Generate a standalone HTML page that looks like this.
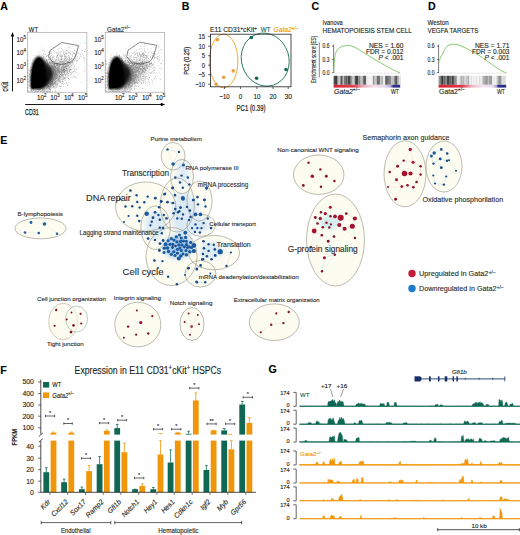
<!DOCTYPE html><html><head><meta charset="utf-8"><style>html,body{margin:0;padding:0;background:#fff;overflow:hidden;}svg{display:block;font-family:"Liberation Sans", sans-serif;}</style></head><body><svg width="520" height="535" viewBox="0 0 520 535"><defs><filter id="blur2" x="-50%" y="-50%" width="200%" height="200%"><feGaussianBlur stdDeviation="2.5"/></filter><filter id="blur06" x="-20%" y="-20%" width="140%" height="140%"><feGaussianBlur stdDeviation="0.7"/></filter><linearGradient id="rbC" x1="0" x2="1"><stop offset="0" stop-color="#d8202e"/><stop offset="0.3" stop-color="#e0404f"/><stop offset="0.45" stop-color="#eeaabb"/><stop offset="0.6" stop-color="#f6dde6"/><stop offset="0.75" stop-color="#e8d8ec"/><stop offset="0.85" stop-color="#b9b6de"/><stop offset="0.9" stop-color="#2e2d8f"/><stop offset="1" stop-color="#2e2d8f"/></linearGradient><linearGradient id="rbD" x1="0" x2="1"><stop offset="0" stop-color="#d8202e"/><stop offset="0.35" stop-color="#e03848"/><stop offset="0.5" stop-color="#f0b8c8"/><stop offset="0.65" stop-color="#f8e6ee"/><stop offset="0.8" stop-color="#e6e0f0"/><stop offset="0.86" stop-color="#9a98d0"/><stop offset="0.88" stop-color="#2e2d8f"/><stop offset="1" stop-color="#2e2d8f"/></linearGradient><filter id="blur1" x="-50%" y="-50%" width="200%" height="200%"><feGaussianBlur stdDeviation="1.2"/></filter></defs><rect width="520" height="535" fill="#fff"/><text font-size="10.6" text-anchor="start" fill="#000" stroke="#000" stroke-width="0.1" font-weight="bold" transform="translate(0.3 9.8)">A</text>
<text font-size="10.6" text-anchor="start" fill="#000" stroke="#000" stroke-width="0.1" font-weight="bold" transform="translate(181.8 9.9)">B</text>
<text font-size="10.6" text-anchor="start" fill="#000" stroke="#000" stroke-width="0.1" font-weight="bold" transform="translate(311.5 9.9)">C</text>
<text font-size="10.6" text-anchor="start" fill="#000" stroke="#000" stroke-width="0.1" font-weight="bold" transform="translate(428 9.9)">D</text>
<text font-size="10.6" text-anchor="start" fill="#000" stroke="#000" stroke-width="0.1" font-weight="bold" transform="translate(0.3 143.8)">E</text>
<text font-size="10.6" text-anchor="start" fill="#000" stroke="#000" stroke-width="0.1" font-weight="bold" transform="translate(0.3 373.5)">F</text>
<text font-size="10.6" text-anchor="start" fill="#000" stroke="#000" stroke-width="0.1" font-weight="bold" transform="translate(268.5 373)">G</text>
<rect x="27.4" y="32.5" width="59.50000000000001" height="59.7" fill="none" stroke="#9a9a9a" stroke-width="0.6"/>
<g filter="url(#blur2)"><ellipse cx="43.4" cy="77" rx="11" ry="12" fill="#000" opacity="0.45" transform="rotate(-25 43.4 77)"/><ellipse cx="57.4" cy="71" rx="16" ry="7" fill="#000" opacity="0.16" transform="rotate(-25 57.4 71)"/></g>
<path d="M40.0 80.0h.6v.6h-.6zM39.9 63.1h.6v.6h-.6zM42.5 75.4h.6v.6h-.6zM36.0 80.8h.6v.6h-.6zM40.0 75.8h.6v.6h-.6zM38.5 78.8h.6v.6h-.6zM35.1 75.4h.6v.6h-.6zM36.2 80.7h.6v.6h-.6zM38.6 72.0h.6v.6h-.6zM34.9 74.8h.6v.6h-.6zM38.4 72.3h.6v.6h-.6zM44.2 78.7h.6v.6h-.6zM37.6 71.6h.6v.6h-.6zM39.4 75.6h.6v.6h-.6zM47.9 59.3h.6v.6h-.6zM41.3 77.9h.6v.6h-.6zM36.1 62.9h.6v.6h-.6zM39.2 74.9h.6v.6h-.6zM32.9 72.7h.6v.6h-.6zM38.1 67.2h.6v.6h-.6zM38.0 75.6h.6v.6h-.6zM38.6 70.3h.6v.6h-.6zM41.1 79.8h.6v.6h-.6zM39.8 67.0h.6v.6h-.6zM41.7 68.3h.6v.6h-.6zM42.4 63.3h.6v.6h-.6zM42.5 71.6h.6v.6h-.6zM32.8 75.7h.6v.6h-.6zM38.6 76.5h.6v.6h-.6zM34.0 68.6h.6v.6h-.6zM39.3 70.2h.6v.6h-.6zM39.5 79.9h.6v.6h-.6zM31.0 81.5h.6v.6h-.6zM43.9 68.4h.6v.6h-.6zM34.8 83.0h.6v.6h-.6zM39.5 80.9h.6v.6h-.6zM36.8 63.7h.6v.6h-.6zM37.9 71.3h.6v.6h-.6zM41.9 73.7h.6v.6h-.6zM31.1 69.8h.6v.6h-.6zM42.4 77.3h.6v.6h-.6zM35.5 76.4h.6v.6h-.6zM40.4 76.9h.6v.6h-.6zM42.3 73.9h.6v.6h-.6zM38.0 72.7h.6v.6h-.6zM43.2 53.3h.6v.6h-.6zM37.8 75.2h.6v.6h-.6zM32.0 81.4h.6v.6h-.6zM35.5 83.4h.6v.6h-.6zM37.8 80.2h.6v.6h-.6zM43.9 73.9h.6v.6h-.6zM34.5 65.0h.6v.6h-.6zM46.3 68.3h.6v.6h-.6zM35.3 77.7h.6v.6h-.6zM37.5 81.9h.6v.6h-.6zM38.6 74.5h.6v.6h-.6zM35.2 80.4h.6v.6h-.6zM33.7 82.9h.6v.6h-.6zM45.3 57.7h.6v.6h-.6zM49.9 58.8h.6v.6h-.6zM32.8 83.0h.6v.6h-.6zM34.6 73.0h.6v.6h-.6zM36.8 79.8h.6v.6h-.6zM36.6 77.9h.6v.6h-.6zM37.6 68.3h.6v.6h-.6zM37.0 67.9h.6v.6h-.6zM38.4 65.5h.6v.6h-.6zM33.5 89.4h.6v.6h-.6zM38.2 74.2h.6v.6h-.6zM40.7 69.6h.6v.6h-.6zM37.4 78.6h.6v.6h-.6zM39.7 64.4h.6v.6h-.6zM42.2 67.3h.6v.6h-.6zM33.6 70.5h.6v.6h-.6zM36.6 88.7h.6v.6h-.6zM33.1 79.3h.6v.6h-.6zM28.8 80.9h.6v.6h-.6zM42.4 69.9h.6v.6h-.6zM35.6 78.2h.6v.6h-.6zM41.6 77.7h.6v.6h-.6zM47.3 70.3h.6v.6h-.6zM35.7 75.3h.6v.6h-.6zM38.1 75.6h.6v.6h-.6zM38.3 76.0h.6v.6h-.6zM30.9 86.1h.6v.6h-.6zM35.8 66.8h.6v.6h-.6zM41.3 83.1h.6v.6h-.6zM40.6 74.3h.6v.6h-.6zM42.4 62.7h.6v.6h-.6zM34.9 77.5h.6v.6h-.6zM31.4 80.5h.6v.6h-.6zM36.3 85.7h.6v.6h-.6zM42.7 49.9h.6v.6h-.6zM38.6 61.4h.6v.6h-.6zM43.4 72.5h.6v.6h-.6zM40.9 64.3h.6v.6h-.6zM46.6 85.2h.6v.6h-.6zM33.6 80.7h.6v.6h-.6zM35.4 76.3h.6v.6h-.6zM34.0 75.0h.6v.6h-.6zM40.7 67.8h.6v.6h-.6zM37.3 70.7h.6v.6h-.6zM37.8 65.5h.6v.6h-.6zM36.4 74.2h.6v.6h-.6zM36.9 76.0h.6v.6h-.6zM37.1 81.4h.6v.6h-.6zM36.9 74.4h.6v.6h-.6zM35.4 72.3h.6v.6h-.6zM32.7 82.4h.6v.6h-.6zM33.3 72.0h.6v.6h-.6zM40.0 76.6h.6v.6h-.6zM36.6 59.5h.6v.6h-.6zM40.3 75.3h.6v.6h-.6zM32.0 84.9h.6v.6h-.6zM35.2 67.6h.6v.6h-.6zM38.8 72.8h.6v.6h-.6zM39.3 61.0h.6v.6h-.6zM46.6 64.2h.6v.6h-.6zM31.5 84.1h.6v.6h-.6zM36.8 78.2h.6v.6h-.6zM36.9 75.0h.6v.6h-.6zM39.5 67.8h.6v.6h-.6zM41.5 68.7h.6v.6h-.6zM34.5 77.7h.6v.6h-.6zM40.4 71.3h.6v.6h-.6zM34.5 82.0h.6v.6h-.6zM30.5 71.5h.6v.6h-.6zM38.6 63.5h.6v.6h-.6zM38.5 74.0h.6v.6h-.6zM42.4 64.5h.6v.6h-.6zM35.6 79.0h.6v.6h-.6zM35.3 70.8h.6v.6h-.6zM42.3 71.6h.6v.6h-.6zM30.4 84.9h.6v.6h-.6zM42.2 68.3h.6v.6h-.6zM37.1 79.2h.6v.6h-.6zM34.3 80.7h.6v.6h-.6zM39.3 68.5h.6v.6h-.6zM32.1 76.9h.6v.6h-.6zM34.5 85.1h.6v.6h-.6zM39.0 80.3h.6v.6h-.6zM39.0 76.2h.6v.6h-.6zM34.9 82.2h.6v.6h-.6zM46.4 66.7h.6v.6h-.6zM35.7 75.0h.6v.6h-.6zM36.2 70.3h.6v.6h-.6zM39.0 71.8h.6v.6h-.6zM44.9 70.2h.6v.6h-.6zM39.9 81.1h.6v.6h-.6zM37.0 86.9h.6v.6h-.6zM35.6 69.9h.6v.6h-.6zM36.8 74.7h.6v.6h-.6zM32.1 78.4h.6v.6h-.6zM30.9 90.6h.6v.6h-.6zM38.0 69.6h.6v.6h-.6zM34.3 74.1h.6v.6h-.6zM37.4 66.8h.6v.6h-.6zM34.3 75.8h.6v.6h-.6zM36.1 83.6h.6v.6h-.6zM43.5 71.2h.6v.6h-.6zM40.5 62.4h.6v.6h-.6zM41.3 72.3h.6v.6h-.6zM40.6 85.8h.6v.6h-.6zM33.5 82.5h.6v.6h-.6zM32.5 74.5h.6v.6h-.6zM39.3 78.8h.6v.6h-.6zM38.7 67.9h.6v.6h-.6zM35.9 83.2h.6v.6h-.6zM38.4 61.0h.6v.6h-.6zM42.2 75.3h.6v.6h-.6zM42.3 69.2h.6v.6h-.6zM42.1 63.5h.6v.6h-.6zM41.0 68.9h.6v.6h-.6zM41.4 80.5h.6v.6h-.6zM35.1 76.3h.6v.6h-.6zM38.6 83.9h.6v.6h-.6zM41.6 62.6h.6v.6h-.6zM40.5 79.1h.6v.6h-.6zM48.0 54.7h.6v.6h-.6zM36.0 86.8h.6v.6h-.6zM32.3 69.0h.6v.6h-.6zM40.7 81.1h.6v.6h-.6zM35.4 80.8h.6v.6h-.6zM38.9 86.3h.6v.6h-.6zM38.4 82.4h.6v.6h-.6zM34.3 75.7h.6v.6h-.6zM38.0 83.9h.6v.6h-.6zM41.0 66.7h.6v.6h-.6zM41.5 78.6h.6v.6h-.6zM37.9 72.8h.6v.6h-.6zM37.5 61.5h.6v.6h-.6zM39.2 75.8h.6v.6h-.6zM34.5 83.0h.6v.6h-.6zM32.2 74.2h.6v.6h-.6zM31.2 83.8h.6v.6h-.6zM42.6 74.7h.6v.6h-.6zM43.7 62.9h.6v.6h-.6zM33.0 75.5h.6v.6h-.6zM33.1 86.5h.6v.6h-.6zM42.3 66.1h.6v.6h-.6zM42.5 72.8h.6v.6h-.6zM37.8 75.4h.6v.6h-.6zM37.5 80.0h.6v.6h-.6zM39.8 70.8h.6v.6h-.6zM42.9 66.6h.6v.6h-.6zM39.7 77.0h.6v.6h-.6zM45.1 66.0h.6v.6h-.6zM46.2 70.7h.6v.6h-.6zM37.5 69.7h.6v.6h-.6zM41.0 73.1h.6v.6h-.6zM33.4 68.8h.6v.6h-.6zM35.9 70.8h.6v.6h-.6zM43.3 82.2h.6v.6h-.6zM42.3 74.8h.6v.6h-.6zM36.5 76.2h.6v.6h-.6zM42.4 88.9h.6v.6h-.6zM42.5 69.5h.6v.6h-.6zM38.6 70.5h.6v.6h-.6zM34.9 75.4h.6v.6h-.6zM39.3 88.6h.6v.6h-.6zM38.6 85.2h.6v.6h-.6zM46.4 69.8h.6v.6h-.6zM45.6 75.4h.6v.6h-.6zM36.5 77.9h.6v.6h-.6zM38.5 72.6h.6v.6h-.6zM37.5 76.3h.6v.6h-.6zM40.4 66.1h.6v.6h-.6zM38.4 62.3h.6v.6h-.6zM39.6 78.7h.6v.6h-.6zM39.1 76.3h.6v.6h-.6zM41.1 67.4h.6v.6h-.6zM37.3 79.3h.6v.6h-.6zM42.9 74.7h.6v.6h-.6zM49.9 66.1h.6v.6h-.6zM42.9 81.6h.6v.6h-.6zM37.8 68.3h.6v.6h-.6zM33.1 79.3h.6v.6h-.6zM43.4 73.3h.6v.6h-.6zM39.2 70.9h.6v.6h-.6zM40.9 55.7h.6v.6h-.6zM39.4 74.0h.6v.6h-.6zM32.2 70.0h.6v.6h-.6zM33.0 87.0h.6v.6h-.6zM34.4 82.5h.6v.6h-.6zM41.0 74.8h.6v.6h-.6zM32.5 73.5h.6v.6h-.6zM45.9 59.2h.6v.6h-.6zM34.7 75.7h.6v.6h-.6zM42.0 74.1h.6v.6h-.6zM41.7 63.7h.6v.6h-.6zM42.7 76.2h.6v.6h-.6zM48.7 61.5h.6v.6h-.6zM38.7 85.5h.6v.6h-.6zM31.7 63.0h.6v.6h-.6zM32.6 73.9h.6v.6h-.6zM35.8 81.1h.6v.6h-.6zM39.6 63.7h.6v.6h-.6zM41.0 87.8h.6v.6h-.6zM43.8 78.8h.6v.6h-.6zM38.5 82.3h.6v.6h-.6zM34.1 83.4h.6v.6h-.6zM38.0 83.8h.6v.6h-.6zM40.5 64.4h.6v.6h-.6zM39.0 83.9h.6v.6h-.6zM33.3 73.4h.6v.6h-.6zM34.9 64.8h.6v.6h-.6zM42.7 82.1h.6v.6h-.6zM42.0 74.0h.6v.6h-.6zM38.2 76.6h.6v.6h-.6zM35.1 83.8h.6v.6h-.6zM43.1 78.8h.6v.6h-.6zM36.0 76.7h.6v.6h-.6zM37.7 89.3h.6v.6h-.6zM39.2 58.9h.6v.6h-.6zM40.2 88.4h.6v.6h-.6zM41.5 79.5h.6v.6h-.6zM38.6 58.6h.6v.6h-.6zM30.3 70.0h.6v.6h-.6zM37.8 77.4h.6v.6h-.6zM41.5 69.7h.6v.6h-.6zM42.7 69.4h.6v.6h-.6zM35.2 83.4h.6v.6h-.6zM34.3 55.4h.6v.6h-.6zM33.6 78.4h.6v.6h-.6zM36.9 64.1h.6v.6h-.6zM31.7 75.2h.6v.6h-.6zM35.9 86.2h.6v.6h-.6zM40.1 60.7h.6v.6h-.6zM34.6 82.7h.6v.6h-.6zM46.9 71.9h.6v.6h-.6zM39.8 88.5h.6v.6h-.6zM38.3 72.1h.6v.6h-.6zM32.0 74.6h.6v.6h-.6zM48.2 56.6h.6v.6h-.6zM38.5 63.2h.6v.6h-.6zM39.0 81.2h.6v.6h-.6zM37.3 81.1h.6v.6h-.6zM41.6 75.9h.6v.6h-.6zM46.1 75.6h.6v.6h-.6zM37.0 70.0h.6v.6h-.6zM34.6 80.8h.6v.6h-.6zM46.7 67.3h.6v.6h-.6zM36.9 89.0h.6v.6h-.6zM29.9 76.5h.6v.6h-.6zM42.7 64.4h.6v.6h-.6zM36.3 73.1h.6v.6h-.6zM41.4 73.6h.6v.6h-.6zM40.2 78.1h.6v.6h-.6zM38.5 83.3h.6v.6h-.6zM35.1 65.2h.6v.6h-.6zM30.4 66.9h.6v.6h-.6zM35.9 84.4h.6v.6h-.6zM39.2 69.2h.6v.6h-.6zM33.6 73.5h.6v.6h-.6zM36.6 71.2h.6v.6h-.6zM32.0 75.0h.6v.6h-.6zM43.0 54.1h.6v.6h-.6zM37.3 58.3h.6v.6h-.6zM39.2 68.0h.6v.6h-.6zM29.0 81.6h.6v.6h-.6zM46.6 69.9h.6v.6h-.6zM43.6 70.4h.6v.6h-.6zM28.7 84.9h.6v.6h-.6zM36.5 64.1h.6v.6h-.6zM41.9 74.4h.6v.6h-.6zM36.0 83.0h.6v.6h-.6zM34.5 82.3h.6v.6h-.6zM34.2 81.6h.6v.6h-.6zM33.4 89.7h.6v.6h-.6zM39.5 85.2h.6v.6h-.6zM34.7 73.2h.6v.6h-.6zM42.2 50.0h.6v.6h-.6zM33.6 86.0h.6v.6h-.6zM40.5 80.9h.6v.6h-.6zM37.0 79.9h.6v.6h-.6zM35.1 65.7h.6v.6h-.6zM30.8 75.2h.6v.6h-.6zM35.9 71.1h.6v.6h-.6zM36.0 78.4h.6v.6h-.6zM35.8 69.2h.6v.6h-.6zM45.4 72.0h.6v.6h-.6zM35.8 77.3h.6v.6h-.6zM33.2 80.0h.6v.6h-.6zM38.4 78.7h.6v.6h-.6zM42.7 85.5h.6v.6h-.6zM36.7 84.0h.6v.6h-.6zM34.8 69.7h.6v.6h-.6zM35.6 68.5h.6v.6h-.6zM42.8 78.9h.6v.6h-.6zM44.1 70.5h.6v.6h-.6zM39.6 69.0h.6v.6h-.6zM33.2 81.5h.6v.6h-.6zM39.6 64.8h.6v.6h-.6zM41.0 58.8h.6v.6h-.6zM37.6 70.0h.6v.6h-.6zM36.0 67.4h.6v.6h-.6zM42.7 76.2h.6v.6h-.6zM43.7 72.0h.6v.6h-.6zM32.6 75.4h.6v.6h-.6zM33.0 81.6h.6v.6h-.6zM43.8 73.4h.6v.6h-.6zM35.6 73.3h.6v.6h-.6zM39.3 62.2h.6v.6h-.6zM39.0 75.6h.6v.6h-.6zM35.9 72.7h.6v.6h-.6zM39.1 67.3h.6v.6h-.6zM34.6 83.1h.6v.6h-.6zM39.3 87.2h.6v.6h-.6zM33.9 63.1h.6v.6h-.6zM42.5 79.2h.6v.6h-.6zM35.0 64.8h.6v.6h-.6zM38.1 60.5h.6v.6h-.6zM36.7 57.9h.6v.6h-.6zM37.2 58.1h.6v.6h-.6zM37.2 87.2h.6v.6h-.6zM37.0 81.3h.6v.6h-.6zM35.4 69.1h.6v.6h-.6zM31.5 87.1h.6v.6h-.6zM38.0 87.4h.6v.6h-.6zM32.9 76.0h.6v.6h-.6zM38.6 85.3h.6v.6h-.6zM46.4 63.6h.6v.6h-.6zM33.1 63.8h.6v.6h-.6zM44.2 69.5h.6v.6h-.6zM35.3 75.8h.6v.6h-.6zM42.4 74.6h.6v.6h-.6zM38.8 65.8h.6v.6h-.6zM40.8 86.7h.6v.6h-.6zM32.7 78.0h.6v.6h-.6zM36.2 78.4h.6v.6h-.6zM38.2 73.0h.6v.6h-.6zM34.2 76.8h.6v.6h-.6zM35.4 74.9h.6v.6h-.6zM37.9 79.7h.6v.6h-.6zM35.5 73.4h.6v.6h-.6zM43.0 69.3h.6v.6h-.6zM37.0 81.9h.6v.6h-.6zM39.4 74.1h.6v.6h-.6zM39.1 63.7h.6v.6h-.6zM40.2 83.5h.6v.6h-.6zM40.8 60.1h.6v.6h-.6zM39.5 66.2h.6v.6h-.6zM37.2 76.0h.6v.6h-.6zM32.8 88.5h.6v.6h-.6zM37.9 80.8h.6v.6h-.6zM41.1 83.1h.6v.6h-.6zM43.6 58.9h.6v.6h-.6zM38.4 57.1h.6v.6h-.6zM36.2 81.4h.6v.6h-.6zM42.4 81.9h.6v.6h-.6zM36.5 78.0h.6v.6h-.6zM38.7 84.2h.6v.6h-.6zM45.4 66.7h.6v.6h-.6zM55.3 63.0h.6v.6h-.6zM36.6 80.2h.6v.6h-.6zM41.7 76.4h.6v.6h-.6zM35.3 88.1h.6v.6h-.6zM38.5 86.5h.6v.6h-.6zM44.5 60.0h.6v.6h-.6zM33.9 69.3h.6v.6h-.6zM39.4 74.1h.6v.6h-.6zM39.5 67.1h.6v.6h-.6zM40.2 84.4h.6v.6h-.6zM32.3 76.9h.6v.6h-.6zM39.4 72.6h.6v.6h-.6zM37.4 89.2h.6v.6h-.6zM44.1 77.4h.6v.6h-.6zM40.0 68.7h.6v.6h-.6zM36.8 71.5h.6v.6h-.6zM47.9 69.7h.6v.6h-.6zM38.6 57.0h.6v.6h-.6zM41.7 63.8h.6v.6h-.6zM33.3 82.7h.6v.6h-.6zM34.5 83.7h.6v.6h-.6zM43.4 56.8h.6v.6h-.6zM37.7 62.3h.6v.6h-.6zM38.1 81.9h.6v.6h-.6zM36.9 65.9h.6v.6h-.6zM37.8 81.1h.6v.6h-.6zM32.1 78.6h.6v.6h-.6zM32.1 88.2h.6v.6h-.6zM39.0 70.5h.6v.6h-.6zM43.0 61.0h.6v.6h-.6zM36.5 90.4h.6v.6h-.6zM37.8 85.6h.6v.6h-.6zM39.2 68.2h.6v.6h-.6zM37.2 75.8h.6v.6h-.6zM36.5 69.0h.6v.6h-.6zM34.8 64.9h.6v.6h-.6zM38.8 77.2h.6v.6h-.6zM41.7 57.7h.6v.6h-.6zM41.9 71.8h.6v.6h-.6zM31.9 79.5h.6v.6h-.6zM42.0 76.1h.6v.6h-.6zM41.6 79.8h.6v.6h-.6zM42.3 71.4h.6v.6h-.6zM28.9 74.6h.6v.6h-.6zM39.9 69.6h.6v.6h-.6zM41.4 78.7h.6v.6h-.6zM38.5 89.3h.6v.6h-.6zM33.9 84.8h.6v.6h-.6zM36.2 69.6h.6v.6h-.6zM41.0 67.7h.6v.6h-.6zM42.2 62.5h.6v.6h-.6zM38.5 67.5h.6v.6h-.6zM37.3 72.1h.6v.6h-.6zM33.2 83.0h.6v.6h-.6zM32.7 70.3h.6v.6h-.6zM42.3 79.5h.6v.6h-.6zM41.3 75.1h.6v.6h-.6zM48.6 57.9h.6v.6h-.6zM35.0 68.7h.6v.6h-.6zM42.4 74.0h.6v.6h-.6zM43.3 78.9h.6v.6h-.6zM37.3 68.5h.6v.6h-.6zM42.7 76.3h.6v.6h-.6zM36.8 73.9h.6v.6h-.6zM36.8 72.9h.6v.6h-.6zM36.6 77.9h.6v.6h-.6zM39.3 80.6h.6v.6h-.6zM38.3 80.8h.6v.6h-.6zM46.1 59.5h.6v.6h-.6zM37.1 80.9h.6v.6h-.6zM34.4 82.9h.6v.6h-.6zM31.9 63.4h.6v.6h-.6zM32.4 65.2h.6v.6h-.6zM38.3 71.9h.6v.6h-.6zM39.8 65.2h.6v.6h-.6zM49.8 66.0h.6v.6h-.6zM38.1 78.2h.6v.6h-.6zM37.2 70.1h.6v.6h-.6zM38.7 81.5h.6v.6h-.6zM41.3 80.0h.6v.6h-.6zM35.8 69.9h.6v.6h-.6zM47.4 66.5h.6v.6h-.6zM40.5 78.9h.6v.6h-.6zM44.7 59.4h.6v.6h-.6zM36.2 72.4h.6v.6h-.6zM37.0 56.0h.6v.6h-.6zM37.9 51.6h.6v.6h-.6zM39.7 77.9h.6v.6h-.6zM41.0 63.0h.6v.6h-.6zM42.7 64.7h.6v.6h-.6zM32.8 70.3h.6v.6h-.6zM34.5 78.4h.6v.6h-.6zM42.1 55.2h.6v.6h-.6zM35.9 83.3h.6v.6h-.6zM39.3 77.9h.6v.6h-.6zM31.6 86.6h.6v.6h-.6zM31.3 80.7h.6v.6h-.6zM44.5 85.5h.6v.6h-.6zM40.7 80.0h.6v.6h-.6zM35.7 72.5h.6v.6h-.6zM43.7 71.0h.6v.6h-.6zM37.8 63.6h.6v.6h-.6zM39.1 79.2h.6v.6h-.6zM34.8 72.8h.6v.6h-.6zM45.5 71.2h.6v.6h-.6zM37.1 66.3h.6v.6h-.6zM35.6 74.4h.6v.6h-.6zM44.6 65.5h.6v.6h-.6zM46.5 61.7h.6v.6h-.6zM36.8 82.3h.6v.6h-.6zM37.3 68.6h.6v.6h-.6zM37.8 78.5h.6v.6h-.6zM30.7 77.7h.6v.6h-.6zM37.9 71.6h.6v.6h-.6zM41.7 67.7h.6v.6h-.6zM36.8 75.9h.6v.6h-.6zM41.7 70.5h.6v.6h-.6zM45.2 62.7h.6v.6h-.6zM44.2 63.8h.6v.6h-.6zM37.7 77.9h.6v.6h-.6zM47.6 75.5h.6v.6h-.6zM36.6 86.1h.6v.6h-.6zM37.4 68.8h.6v.6h-.6zM40.4 73.9h.6v.6h-.6zM42.7 67.2h.6v.6h-.6zM40.1 78.4h.6v.6h-.6zM39.7 73.4h.6v.6h-.6zM35.3 83.8h.6v.6h-.6zM39.0 78.1h.6v.6h-.6zM36.8 75.7h.6v.6h-.6zM33.7 78.3h.6v.6h-.6zM41.8 72.9h.6v.6h-.6zM42.3 74.4h.6v.6h-.6zM44.5 68.9h.6v.6h-.6zM31.0 82.9h.6v.6h-.6zM37.7 67.2h.6v.6h-.6zM41.3 74.7h.6v.6h-.6zM40.4 70.5h.6v.6h-.6zM39.3 75.9h.6v.6h-.6zM46.4 63.7h.6v.6h-.6zM38.4 77.4h.6v.6h-.6zM30.6 66.9h.6v.6h-.6zM48.1 53.9h.6v.6h-.6zM41.0 66.0h.6v.6h-.6zM35.0 60.9h.6v.6h-.6zM34.3 83.5h.6v.6h-.6zM32.2 83.4h.6v.6h-.6zM39.8 89.7h.6v.6h-.6zM36.3 86.0h.6v.6h-.6zM42.4 69.5h.6v.6h-.6zM32.3 74.8h.6v.6h-.6zM42.4 80.8h.6v.6h-.6zM34.6 76.8h.6v.6h-.6zM37.2 84.7h.6v.6h-.6zM49.7 52.3h.6v.6h-.6zM42.5 48.9h.6v.6h-.6zM38.5 65.6h.6v.6h-.6zM47.4 69.9h.6v.6h-.6zM35.1 72.7h.6v.6h-.6zM35.8 77.7h.6v.6h-.6zM37.7 80.2h.6v.6h-.6zM45.3 75.5h.6v.6h-.6zM32.9 65.2h.6v.6h-.6zM35.0 85.2h.6v.6h-.6zM36.9 70.2h.6v.6h-.6zM39.0 62.8h.6v.6h-.6zM33.3 82.0h.6v.6h-.6zM37.0 71.8h.6v.6h-.6zM39.8 68.9h.6v.6h-.6zM35.3 72.9h.6v.6h-.6zM41.1 73.2h.6v.6h-.6zM33.0 75.7h.6v.6h-.6zM41.3 87.5h.6v.6h-.6zM33.3 80.6h.6v.6h-.6zM37.2 81.9h.6v.6h-.6zM40.4 84.9h.6v.6h-.6zM40.7 68.6h.6v.6h-.6zM36.0 79.4h.6v.6h-.6zM45.9 60.1h.6v.6h-.6zM40.0 62.8h.6v.6h-.6zM30.9 85.4h.6v.6h-.6zM40.9 64.5h.6v.6h-.6zM45.8 61.7h.6v.6h-.6zM33.1 83.2h.6v.6h-.6zM39.4 72.6h.6v.6h-.6zM38.1 76.5h.6v.6h-.6zM37.8 73.5h.6v.6h-.6zM29.9 69.5h.6v.6h-.6zM41.1 67.0h.6v.6h-.6zM40.9 82.7h.6v.6h-.6zM36.8 77.8h.6v.6h-.6zM47.7 73.8h.6v.6h-.6zM46.7 81.2h.6v.6h-.6zM41.8 71.3h.6v.6h-.6zM34.6 68.1h.6v.6h-.6zM40.6 76.8h.6v.6h-.6zM37.6 81.8h.6v.6h-.6zM35.7 85.2h.6v.6h-.6zM38.6 74.1h.6v.6h-.6zM38.4 73.7h.6v.6h-.6zM49.6 54.1h.6v.6h-.6zM39.2 83.9h.6v.6h-.6zM41.6 69.9h.6v.6h-.6zM46.2 60.7h.6v.6h-.6zM32.5 83.0h.6v.6h-.6zM31.9 59.8h.6v.6h-.6zM42.4 77.9h.6v.6h-.6zM41.7 68.4h.6v.6h-.6zM39.2 66.2h.6v.6h-.6zM46.2 75.6h.6v.6h-.6zM41.7 56.7h.6v.6h-.6zM42.0 84.0h.6v.6h-.6zM43.9 77.2h.6v.6h-.6zM38.4 71.8h.6v.6h-.6zM41.1 75.8h.6v.6h-.6zM39.5 71.3h.6v.6h-.6zM46.0 60.1h.6v.6h-.6zM38.3 69.9h.6v.6h-.6zM43.0 82.8h.6v.6h-.6zM44.0 76.8h.6v.6h-.6zM40.7 72.1h.6v.6h-.6zM38.5 71.7h.6v.6h-.6zM40.3 75.7h.6v.6h-.6zM36.8 55.0h.6v.6h-.6zM38.2 78.4h.6v.6h-.6zM40.8 71.7h.6v.6h-.6zM40.4 81.4h.6v.6h-.6zM36.3 87.6h.6v.6h-.6zM29.6 70.3h.6v.6h-.6zM34.3 57.7h.6v.6h-.6zM33.9 87.5h.6v.6h-.6zM44.0 71.6h.6v.6h-.6zM46.1 71.3h.6v.6h-.6zM36.2 77.9h.6v.6h-.6zM37.8 80.8h.6v.6h-.6zM31.6 87.0h.6v.6h-.6zM36.3 82.7h.6v.6h-.6zM31.5 75.8h.6v.6h-.6zM38.8 81.5h.6v.6h-.6zM40.6 68.8h.6v.6h-.6zM43.9 71.7h.6v.6h-.6zM43.6 89.6h.6v.6h-.6zM41.9 68.0h.6v.6h-.6zM36.5 80.4h.6v.6h-.6zM39.7 67.0h.6v.6h-.6zM35.4 81.8h.6v.6h-.6zM49.0 46.4h.6v.6h-.6zM41.7 70.6h.6v.6h-.6zM41.9 79.1h.6v.6h-.6zM38.6 66.2h.6v.6h-.6zM32.1 63.7h.6v.6h-.6zM43.9 69.2h.6v.6h-.6zM36.0 73.9h.6v.6h-.6zM32.4 81.0h.6v.6h-.6zM44.3 79.7h.6v.6h-.6zM31.4 90.1h.6v.6h-.6zM35.0 61.5h.6v.6h-.6zM32.9 70.5h.6v.6h-.6zM38.4 66.3h.6v.6h-.6zM31.6 76.9h.6v.6h-.6zM47.1 63.1h.6v.6h-.6zM40.5 73.7h.6v.6h-.6zM50.4 51.3h.6v.6h-.6zM43.3 61.0h.6v.6h-.6zM35.7 75.5h.6v.6h-.6zM52.7 58.8h.6v.6h-.6zM29.9 90.5h.6v.6h-.6zM34.6 75.1h.6v.6h-.6zM38.3 75.3h.6v.6h-.6zM37.6 77.2h.6v.6h-.6zM40.1 80.2h.6v.6h-.6zM36.5 69.8h.6v.6h-.6zM33.6 82.4h.6v.6h-.6zM38.2 79.1h.6v.6h-.6zM40.8 86.4h.6v.6h-.6zM39.3 79.9h.6v.6h-.6zM33.0 69.5h.6v.6h-.6zM37.0 65.7h.6v.6h-.6zM41.5 61.8h.6v.6h-.6zM38.7 54.6h.6v.6h-.6zM33.4 75.1h.6v.6h-.6zM37.2 60.9h.6v.6h-.6zM38.9 82.0h.6v.6h-.6zM41.3 67.3h.6v.6h-.6zM35.8 66.8h.6v.6h-.6zM41.2 84.1h.6v.6h-.6zM36.0 62.5h.6v.6h-.6zM39.3 79.6h.6v.6h-.6zM48.1 74.6h.6v.6h-.6zM40.9 76.1h.6v.6h-.6zM43.2 63.8h.6v.6h-.6zM34.6 80.3h.6v.6h-.6zM35.3 78.6h.6v.6h-.6zM29.8 86.3h.6v.6h-.6zM42.2 72.3h.6v.6h-.6zM39.1 87.0h.6v.6h-.6zM33.5 70.4h.6v.6h-.6zM33.5 74.4h.6v.6h-.6zM33.8 77.8h.6v.6h-.6zM35.5 64.9h.6v.6h-.6zM31.4 88.8h.6v.6h-.6zM38.1 72.9h.6v.6h-.6zM38.5 73.8h.6v.6h-.6zM41.8 76.7h.6v.6h-.6zM35.7 69.7h.6v.6h-.6zM33.5 67.8h.6v.6h-.6zM44.7 63.0h.6v.6h-.6zM29.3 73.8h.6v.6h-.6zM34.9 79.5h.6v.6h-.6zM34.4 81.4h.6v.6h-.6zM40.1 83.5h.6v.6h-.6zM48.2 90.8h.6v.6h-.6zM44.5 61.2h.6v.6h-.6zM36.6 77.7h.6v.6h-.6zM47.7 73.7h.6v.6h-.6zM43.8 69.5h.6v.6h-.6zM41.1 78.5h.6v.6h-.6zM36.3 82.1h.6v.6h-.6zM43.2 70.0h.6v.6h-.6zM43.0 84.6h.6v.6h-.6zM38.7 74.3h.6v.6h-.6zM37.0 70.5h.6v.6h-.6zM39.1 70.7h.6v.6h-.6zM37.0 69.2h.6v.6h-.6zM31.5 71.6h.6v.6h-.6zM39.9 64.0h.6v.6h-.6zM35.5 89.6h.6v.6h-.6zM43.5 65.6h.6v.6h-.6zM41.1 67.5h.6v.6h-.6zM45.7 64.9h.6v.6h-.6zM38.8 85.3h.6v.6h-.6zM34.7 87.4h.6v.6h-.6zM34.7 78.9h.6v.6h-.6zM37.1 74.7h.6v.6h-.6zM39.1 73.4h.6v.6h-.6zM33.8 84.5h.6v.6h-.6zM41.6 82.7h.6v.6h-.6zM44.6 59.6h.6v.6h-.6zM44.2 81.0h.6v.6h-.6zM36.0 84.4h.6v.6h-.6zM45.0 65.8h.6v.6h-.6zM32.2 75.8h.6v.6h-.6zM51.0 68.0h.6v.6h-.6zM32.9 76.1h.6v.6h-.6zM33.9 74.3h.6v.6h-.6zM38.8 53.7h.6v.6h-.6zM40.0 84.7h.6v.6h-.6zM37.5 72.0h.6v.6h-.6zM43.3 61.1h.6v.6h-.6zM32.8 67.1h.6v.6h-.6zM37.7 78.1h.6v.6h-.6zM38.0 79.2h.6v.6h-.6zM42.1 76.0h.6v.6h-.6zM34.8 74.8h.6v.6h-.6zM44.0 62.4h.6v.6h-.6zM37.3 71.9h.6v.6h-.6zM37.6 66.4h.6v.6h-.6zM42.7 66.0h.6v.6h-.6zM38.1 80.1h.6v.6h-.6zM36.9 80.5h.6v.6h-.6zM35.6 73.5h.6v.6h-.6zM38.0 71.1h.6v.6h-.6zM39.6 77.5h.6v.6h-.6zM33.9 80.2h.6v.6h-.6zM39.4 59.7h.6v.6h-.6zM34.1 85.4h.6v.6h-.6zM48.0 63.4h.6v.6h-.6zM35.3 76.5h.6v.6h-.6zM41.4 63.4h.6v.6h-.6zM44.0 78.7h.6v.6h-.6zM41.4 68.2h.6v.6h-.6zM42.5 78.6h.6v.6h-.6zM37.0 78.4h.6v.6h-.6zM36.0 79.2h.6v.6h-.6zM43.6 64.6h.6v.6h-.6zM31.0 75.9h.6v.6h-.6zM32.5 72.3h.6v.6h-.6zM37.8 74.4h.6v.6h-.6zM44.2 62.5h.6v.6h-.6zM40.0 69.4h.6v.6h-.6zM44.5 90.6h.6v.6h-.6zM39.8 87.0h.6v.6h-.6zM36.0 63.3h.6v.6h-.6zM32.7 65.7h.6v.6h-.6zM34.1 75.4h.6v.6h-.6zM43.6 76.6h.6v.6h-.6zM40.5 69.7h.6v.6h-.6zM35.2 76.9h.6v.6h-.6zM39.0 76.1h.6v.6h-.6zM40.1 72.4h.6v.6h-.6zM29.7 71.4h.6v.6h-.6zM34.7 90.6h.6v.6h-.6zM36.5 81.2h.6v.6h-.6zM45.0 72.8h.6v.6h-.6zM36.6 73.3h.6v.6h-.6zM33.8 80.0h.6v.6h-.6zM43.5 75.7h.6v.6h-.6zM41.9 77.9h.6v.6h-.6zM47.4 63.4h.6v.6h-.6zM39.1 79.7h.6v.6h-.6zM44.0 51.3h.6v.6h-.6zM36.0 74.4h.6v.6h-.6zM33.8 84.4h.6v.6h-.6zM39.4 70.7h.6v.6h-.6zM31.0 68.8h.6v.6h-.6zM34.0 81.1h.6v.6h-.6zM32.9 61.6h.6v.6h-.6zM31.9 74.1h.6v.6h-.6zM45.9 89.5h.6v.6h-.6zM36.2 83.5h.6v.6h-.6zM44.7 80.6h.6v.6h-.6zM37.9 64.4h.6v.6h-.6zM36.2 61.1h.6v.6h-.6zM39.5 80.0h.6v.6h-.6zM29.9 79.8h.6v.6h-.6zM39.7 83.6h.6v.6h-.6zM44.6 76.8h.6v.6h-.6zM35.3 73.6h.6v.6h-.6zM43.8 66.0h.6v.6h-.6zM38.2 87.1h.6v.6h-.6zM39.0 63.1h.6v.6h-.6zM37.1 80.5h.6v.6h-.6zM37.5 84.4h.6v.6h-.6zM44.2 65.4h.6v.6h-.6zM36.1 75.2h.6v.6h-.6zM33.0 81.1h.6v.6h-.6zM37.6 81.3h.6v.6h-.6zM35.7 69.3h.6v.6h-.6zM46.7 62.0h.6v.6h-.6zM35.8 70.4h.6v.6h-.6zM37.0 68.1h.6v.6h-.6zM38.2 69.0h.6v.6h-.6zM36.5 78.7h.6v.6h-.6zM41.6 76.1h.6v.6h-.6zM35.1 79.9h.6v.6h-.6zM37.9 74.0h.6v.6h-.6zM30.6 85.0h.6v.6h-.6zM37.8 88.6h.6v.6h-.6zM41.3 63.6h.6v.6h-.6zM32.2 87.8h.6v.6h-.6zM34.5 82.6h.6v.6h-.6zM38.8 86.4h.6v.6h-.6zM44.4 66.8h.6v.6h-.6zM36.9 87.4h.6v.6h-.6zM38.4 67.6h.6v.6h-.6zM38.3 85.9h.6v.6h-.6zM37.8 86.0h.6v.6h-.6zM37.4 86.0h.6v.6h-.6zM41.0 71.6h.6v.6h-.6zM39.6 69.7h.6v.6h-.6zM33.5 69.7h.6v.6h-.6zM38.4 66.5h.6v.6h-.6zM40.6 77.7h.6v.6h-.6zM40.8 69.4h.6v.6h-.6zM38.9 74.4h.6v.6h-.6zM44.6 64.4h.6v.6h-.6zM37.0 74.1h.6v.6h-.6zM38.1 69.3h.6v.6h-.6zM35.9 84.9h.6v.6h-.6zM35.8 84.1h.6v.6h-.6zM47.9 79.0h.6v.6h-.6zM30.6 86.5h.6v.6h-.6zM40.9 77.8h.6v.6h-.6zM31.4 85.8h.6v.6h-.6zM33.8 88.5h.6v.6h-.6zM37.0 63.8h.6v.6h-.6zM43.4 78.7h.6v.6h-.6zM37.0 86.9h.6v.6h-.6zM41.8 62.4h.6v.6h-.6zM37.1 72.3h.6v.6h-.6zM38.2 76.7h.6v.6h-.6zM35.5 75.3h.6v.6h-.6zM41.3 72.4h.6v.6h-.6zM37.5 73.2h.6v.6h-.6zM38.2 59.8h.6v.6h-.6zM39.4 66.1h.6v.6h-.6zM39.1 62.7h.6v.6h-.6zM42.8 73.9h.6v.6h-.6zM32.6 80.8h.6v.6h-.6zM40.9 67.0h.6v.6h-.6zM39.7 73.9h.6v.6h-.6zM44.1 74.1h.6v.6h-.6zM41.0 64.3h.6v.6h-.6zM42.3 89.2h.6v.6h-.6zM41.6 72.6h.6v.6h-.6zM39.4 66.7h.6v.6h-.6zM39.5 65.5h.6v.6h-.6zM38.9 71.6h.6v.6h-.6zM35.0 82.0h.6v.6h-.6zM32.0 79.0h.6v.6h-.6zM47.6 75.7h.6v.6h-.6zM47.3 73.9h.6v.6h-.6zM41.2 69.8h.6v.6h-.6zM34.7 78.6h.6v.6h-.6zM36.3 72.9h.6v.6h-.6zM42.0 71.6h.6v.6h-.6zM31.7 77.8h.6v.6h-.6zM35.3 74.8h.6v.6h-.6zM33.8 87.7h.6v.6h-.6zM47.3 60.2h.6v.6h-.6zM41.6 77.7h.6v.6h-.6zM33.9 78.9h.6v.6h-.6zM45.0 77.4h.6v.6h-.6zM46.0 60.6h.6v.6h-.6zM35.3 79.4h.6v.6h-.6zM40.3 73.9h.6v.6h-.6zM36.9 72.7h.6v.6h-.6zM35.9 80.2h.6v.6h-.6zM36.3 64.9h.6v.6h-.6zM41.1 61.9h.6v.6h-.6zM40.4 70.4h.6v.6h-.6zM41.3 79.3h.6v.6h-.6zM44.4 66.9h.6v.6h-.6zM37.3 75.5h.6v.6h-.6zM32.2 83.7h.6v.6h-.6zM39.2 63.6h.6v.6h-.6zM44.0 82.0h.6v.6h-.6zM32.6 83.2h.6v.6h-.6zM44.2 77.6h.6v.6h-.6zM34.1 66.4h.6v.6h-.6zM38.0 71.0h.6v.6h-.6zM38.5 73.9h.6v.6h-.6zM40.9 68.6h.6v.6h-.6zM38.0 80.9h.6v.6h-.6zM39.8 75.5h.6v.6h-.6zM34.4 81.6h.6v.6h-.6zM38.3 81.3h.6v.6h-.6zM47.7 69.9h.6v.6h-.6zM41.9 64.1h.6v.6h-.6zM39.0 86.7h.6v.6h-.6zM38.2 69.7h.6v.6h-.6zM39.4 72.5h.6v.6h-.6zM37.4 72.4h.6v.6h-.6zM47.4 61.7h.6v.6h-.6zM36.6 71.3h.6v.6h-.6zM44.1 68.7h.6v.6h-.6zM44.4 72.0h.6v.6h-.6zM38.4 63.0h.6v.6h-.6zM43.9 75.3h.6v.6h-.6zM40.3 72.5h.6v.6h-.6zM36.6 65.7h.6v.6h-.6zM42.8 73.9h.6v.6h-.6zM36.9 70.6h.6v.6h-.6zM39.0 73.5h.6v.6h-.6zM45.9 75.9h.6v.6h-.6zM35.8 67.6h.6v.6h-.6zM37.4 68.0h.6v.6h-.6zM38.8 77.6h.6v.6h-.6zM41.4 76.0h.6v.6h-.6zM37.6 80.0h.6v.6h-.6zM34.5 76.7h.6v.6h-.6zM42.2 74.5h.6v.6h-.6zM32.8 69.2h.6v.6h-.6zM31.6 78.2h.6v.6h-.6zM46.8 77.8h.6v.6h-.6zM44.5 66.7h.6v.6h-.6zM38.4 78.1h.6v.6h-.6zM37.1 75.5h.6v.6h-.6zM40.2 84.6h.6v.6h-.6zM34.5 65.9h.6v.6h-.6zM38.7 76.2h.6v.6h-.6zM44.9 76.2h.6v.6h-.6zM35.8 81.1h.6v.6h-.6zM43.6 73.6h.6v.6h-.6zM37.0 81.1h.6v.6h-.6zM37.0 60.8h.6v.6h-.6zM44.6 60.4h.6v.6h-.6zM37.1 73.1h.6v.6h-.6zM37.0 73.4h.6v.6h-.6zM32.1 83.2h.6v.6h-.6zM38.7 74.9h.6v.6h-.6zM43.4 80.2h.6v.6h-.6zM44.6 85.4h.6v.6h-.6zM40.6 61.0h.6v.6h-.6zM39.5 74.1h.6v.6h-.6zM38.8 69.6h.6v.6h-.6zM34.5 83.7h.6v.6h-.6zM42.9 62.8h.6v.6h-.6zM41.0 71.7h.6v.6h-.6zM36.8 81.3h.6v.6h-.6zM38.3 70.4h.6v.6h-.6zM38.8 58.5h.6v.6h-.6zM35.8 72.9h.6v.6h-.6zM32.2 80.2h.6v.6h-.6zM39.7 69.0h.6v.6h-.6zM37.7 80.5h.6v.6h-.6zM43.2 65.3h.6v.6h-.6zM40.0 81.8h.6v.6h-.6zM38.3 68.5h.6v.6h-.6zM35.0 74.3h.6v.6h-.6zM35.9 79.3h.6v.6h-.6zM39.2 79.1h.6v.6h-.6zM36.7 65.3h.6v.6h-.6zM45.8 69.0h.6v.6h-.6zM38.9 75.8h.6v.6h-.6zM44.1 76.9h.6v.6h-.6zM43.7 77.6h.6v.6h-.6zM39.1 76.1h.6v.6h-.6zM35.1 61.2h.6v.6h-.6zM37.3 66.6h.6v.6h-.6zM50.0 79.2h.6v.6h-.6zM43.7 66.6h.6v.6h-.6zM47.7 54.7h.6v.6h-.6zM33.0 71.9h.6v.6h-.6zM34.1 78.4h.6v.6h-.6zM39.3 89.2h.6v.6h-.6zM42.9 81.3h.6v.6h-.6zM40.3 72.1h.6v.6h-.6zM35.3 64.5h.6v.6h-.6zM34.5 74.1h.6v.6h-.6zM41.8 58.7h.6v.6h-.6zM32.3 80.4h.6v.6h-.6zM33.7 80.3h.6v.6h-.6zM36.6 69.7h.6v.6h-.6zM32.4 77.8h.6v.6h-.6zM35.1 71.8h.6v.6h-.6zM35.5 77.9h.6v.6h-.6zM39.1 60.3h.6v.6h-.6zM37.7 78.2h.6v.6h-.6zM43.1 77.6h.6v.6h-.6zM39.3 64.7h.6v.6h-.6zM34.9 84.1h.6v.6h-.6zM35.2 84.8h.6v.6h-.6zM44.1 62.2h.6v.6h-.6zM40.4 72.3h.6v.6h-.6zM47.5 75.1h.6v.6h-.6zM36.1 79.3h.6v.6h-.6zM34.3 76.0h.6v.6h-.6zM39.3 75.1h.6v.6h-.6zM39.8 66.3h.6v.6h-.6zM30.1 77.2h.6v.6h-.6zM34.4 71.6h.6v.6h-.6zM48.0 77.4h.6v.6h-.6zM37.6 63.6h.6v.6h-.6zM32.6 81.3h.6v.6h-.6zM43.2 69.0h.6v.6h-.6zM39.0 76.1h.6v.6h-.6zM43.2 56.3h.6v.6h-.6zM39.1 77.3h.6v.6h-.6zM42.7 74.8h.6v.6h-.6zM33.4 73.2h.6v.6h-.6zM31.5 80.6h.6v.6h-.6zM39.3 78.0h.6v.6h-.6zM34.0 68.3h.6v.6h-.6zM45.3 71.4h.6v.6h-.6zM46.3 72.8h.6v.6h-.6zM31.8 85.3h.6v.6h-.6zM44.0 67.2h.6v.6h-.6zM29.7 85.6h.6v.6h-.6zM37.8 77.1h.6v.6h-.6zM42.4 57.2h.6v.6h-.6zM30.0 76.5h.6v.6h-.6zM45.8 82.5h.6v.6h-.6zM35.7 84.3h.6v.6h-.6zM41.0 74.9h.6v.6h-.6zM40.0 67.6h.6v.6h-.6zM42.0 80.6h.6v.6h-.6zM50.5 73.7h.6v.6h-.6zM39.9 74.0h.6v.6h-.6zM30.0 78.9h.6v.6h-.6zM36.8 75.2h.6v.6h-.6zM37.8 82.2h.6v.6h-.6zM45.0 75.6h.6v.6h-.6zM33.4 70.9h.6v.6h-.6zM35.4 76.0h.6v.6h-.6zM36.5 73.0h.6v.6h-.6zM34.2 84.8h.6v.6h-.6zM42.2 79.6h.6v.6h-.6zM38.0 78.4h.6v.6h-.6zM34.3 69.1h.6v.6h-.6zM35.9 80.8h.6v.6h-.6zM37.7 65.8h.6v.6h-.6zM38.8 77.6h.6v.6h-.6zM39.1 68.7h.6v.6h-.6zM38.7 70.9h.6v.6h-.6zM36.9 74.7h.6v.6h-.6zM41.8 86.8h.6v.6h-.6zM45.4 74.8h.6v.6h-.6zM36.6 73.2h.6v.6h-.6zM37.2 84.5h.6v.6h-.6zM29.4 80.4h.6v.6h-.6zM44.4 63.2h.6v.6h-.6zM45.2 74.0h.6v.6h-.6zM44.0 64.3h.6v.6h-.6zM43.7 84.6h.6v.6h-.6zM41.3 74.8h.6v.6h-.6zM44.2 79.7h.6v.6h-.6zM35.0 87.6h.6v.6h-.6zM41.8 73.5h.6v.6h-.6zM44.3 78.0h.6v.6h-.6zM41.8 68.2h.6v.6h-.6zM42.2 63.1h.6v.6h-.6zM37.8 61.3h.6v.6h-.6zM30.7 83.2h.6v.6h-.6zM38.0 75.4h.6v.6h-.6zM41.1 75.5h.6v.6h-.6zM34.4 77.7h.6v.6h-.6zM38.1 70.5h.6v.6h-.6zM37.8 72.0h.6v.6h-.6zM35.5 73.8h.6v.6h-.6zM39.5 90.3h.6v.6h-.6zM34.7 81.1h.6v.6h-.6zM36.9 76.6h.6v.6h-.6zM44.1 78.6h.6v.6h-.6zM31.7 83.4h.6v.6h-.6zM37.4 80.1h.6v.6h-.6zM39.1 79.9h.6v.6h-.6zM39.7 72.5h.6v.6h-.6zM43.7 58.6h.6v.6h-.6zM36.5 68.2h.6v.6h-.6zM37.8 71.5h.6v.6h-.6zM37.7 71.0h.6v.6h-.6zM36.3 62.8h.6v.6h-.6zM38.2 77.1h.6v.6h-.6zM35.7 71.0h.6v.6h-.6zM35.5 89.9h.6v.6h-.6zM39.2 77.0h.6v.6h-.6zM37.0 71.4h.6v.6h-.6zM34.4 89.5h.6v.6h-.6zM30.7 82.0h.6v.6h-.6zM38.3 72.5h.6v.6h-.6zM31.4 69.3h.6v.6h-.6zM42.8 66.0h.6v.6h-.6zM42.4 77.2h.6v.6h-.6zM41.0 78.9h.6v.6h-.6zM33.0 74.3h.6v.6h-.6zM41.5 62.4h.6v.6h-.6zM45.9 65.0h.6v.6h-.6zM38.1 66.5h.6v.6h-.6zM40.0 67.5h.6v.6h-.6zM37.3 66.1h.6v.6h-.6zM43.8 57.9h.6v.6h-.6zM40.4 75.0h.6v.6h-.6zM40.4 65.0h.6v.6h-.6zM43.1 79.1h.6v.6h-.6zM39.1 76.5h.6v.6h-.6zM37.7 80.1h.6v.6h-.6zM34.7 81.4h.6v.6h-.6zM40.2 62.0h.6v.6h-.6zM37.7 84.7h.6v.6h-.6zM38.7 70.3h.6v.6h-.6zM32.3 77.9h.6v.6h-.6zM35.8 67.4h.6v.6h-.6zM37.9 83.3h.6v.6h-.6zM38.8 65.8h.6v.6h-.6zM39.9 64.7h.6v.6h-.6zM31.3 83.2h.6v.6h-.6zM35.9 85.1h.6v.6h-.6zM39.8 67.1h.6v.6h-.6zM39.4 84.2h.6v.6h-.6zM37.6 66.6h.6v.6h-.6zM35.4 70.0h.6v.6h-.6zM33.1 67.7h.6v.6h-.6zM40.3 82.1h.6v.6h-.6zM36.8 81.9h.6v.6h-.6zM42.5 85.2h.6v.6h-.6zM37.6 72.3h.6v.6h-.6zM40.3 74.0h.6v.6h-.6zM39.8 84.0h.6v.6h-.6zM36.5 77.5h.6v.6h-.6zM34.0 76.2h.6v.6h-.6zM35.4 70.5h.6v.6h-.6zM37.4 71.6h.6v.6h-.6zM40.1 79.8h.6v.6h-.6zM31.7 87.0h.6v.6h-.6zM41.6 67.2h.6v.6h-.6zM37.4 68.9h.6v.6h-.6zM42.4 46.4h.6v.6h-.6zM34.0 61.9h.6v.6h-.6zM39.2 84.3h.6v.6h-.6zM43.8 76.3h.6v.6h-.6zM39.5 67.6h.6v.6h-.6zM43.9 75.8h.6v.6h-.6zM34.6 66.8h.6v.6h-.6zM35.6 85.0h.6v.6h-.6zM44.0 83.7h.6v.6h-.6zM34.9 73.9h.6v.6h-.6zM44.6 72.1h.6v.6h-.6zM41.8 61.6h.6v.6h-.6zM36.7 75.5h.6v.6h-.6zM36.8 72.3h.6v.6h-.6zM39.1 62.4h.6v.6h-.6zM43.3 71.8h.6v.6h-.6zM41.7 70.9h.6v.6h-.6zM34.9 70.8h.6v.6h-.6zM40.0 79.7h.6v.6h-.6zM40.7 78.3h.6v.6h-.6zM43.9 73.3h.6v.6h-.6zM43.0 80.5h.6v.6h-.6zM39.8 73.2h.6v.6h-.6zM36.6 66.3h.6v.6h-.6zM31.5 89.8h.6v.6h-.6zM38.5 70.3h.6v.6h-.6zM45.7 77.7h.6v.6h-.6zM38.8 82.6h.6v.6h-.6zM37.7 78.2h.6v.6h-.6zM46.8 77.8h.6v.6h-.6zM37.4 81.1h.6v.6h-.6zM44.0 70.3h.6v.6h-.6zM36.8 91.1h.6v.6h-.6zM37.3 65.2h.6v.6h-.6zM41.6 80.7h.6v.6h-.6zM29.1 77.1h.6v.6h-.6zM44.3 68.2h.6v.6h-.6zM44.8 75.0h.6v.6h-.6zM40.7 87.4h.6v.6h-.6zM36.7 72.9h.6v.6h-.6zM39.5 76.6h.6v.6h-.6zM31.4 90.1h.6v.6h-.6zM40.0 73.2h.6v.6h-.6zM41.8 70.1h.6v.6h-.6zM44.4 72.1h.6v.6h-.6zM42.3 65.9h.6v.6h-.6zM37.8 79.0h.6v.6h-.6zM34.8 72.7h.6v.6h-.6zM38.8 84.2h.6v.6h-.6zM42.4 80.1h.6v.6h-.6zM40.3 81.4h.6v.6h-.6zM45.9 71.9h.6v.6h-.6zM40.9 78.5h.6v.6h-.6zM30.0 80.3h.6v.6h-.6zM40.8 79.9h.6v.6h-.6zM37.5 83.9h.6v.6h-.6zM36.1 75.6h.6v.6h-.6zM46.5 59.2h.6v.6h-.6zM38.6 74.1h.6v.6h-.6zM38.5 71.0h.6v.6h-.6zM41.8 64.5h.6v.6h-.6zM32.9 82.8h.6v.6h-.6zM33.5 81.5h.6v.6h-.6zM38.9 69.4h.6v.6h-.6zM37.3 75.2h.6v.6h-.6zM40.8 68.5h.6v.6h-.6zM37.8 64.1h.6v.6h-.6zM37.5 60.3h.6v.6h-.6zM38.5 71.3h.6v.6h-.6zM58.3 75.9h.6v.6h-.6zM45.9 81.4h.6v.6h-.6zM48.3 65.2h.6v.6h-.6zM33.4 90.4h.6v.6h-.6zM48.8 59.1h.6v.6h-.6zM50.1 78.3h.6v.6h-.6zM42.9 82.0h.6v.6h-.6zM37.2 78.6h.6v.6h-.6zM46.8 79.5h.6v.6h-.6zM48.8 74.3h.6v.6h-.6zM49.6 67.6h.6v.6h-.6zM54.7 66.5h.6v.6h-.6zM50.9 71.3h.6v.6h-.6zM45.2 79.1h.6v.6h-.6zM49.0 81.9h.6v.6h-.6zM52.5 66.4h.6v.6h-.6zM49.3 73.1h.6v.6h-.6zM42.2 69.2h.6v.6h-.6zM47.9 69.5h.6v.6h-.6zM38.9 78.3h.6v.6h-.6zM47.8 74.0h.6v.6h-.6zM39.9 74.2h.6v.6h-.6zM54.1 63.9h.6v.6h-.6zM48.4 69.3h.6v.6h-.6zM35.8 83.0h.6v.6h-.6zM38.9 78.7h.6v.6h-.6zM41.7 65.4h.6v.6h-.6zM55.6 67.5h.6v.6h-.6zM51.5 76.0h.6v.6h-.6zM42.4 77.2h.6v.6h-.6zM44.5 82.0h.6v.6h-.6zM48.8 70.0h.6v.6h-.6zM55.6 71.8h.6v.6h-.6zM49.0 66.9h.6v.6h-.6zM48.7 62.3h.6v.6h-.6zM49.0 65.8h.6v.6h-.6zM47.4 71.4h.6v.6h-.6zM47.7 75.7h.6v.6h-.6zM46.1 73.8h.6v.6h-.6zM38.2 65.9h.6v.6h-.6zM53.3 73.6h.6v.6h-.6zM42.5 80.1h.6v.6h-.6zM48.7 73.3h.6v.6h-.6zM49.7 62.3h.6v.6h-.6zM46.2 72.3h.6v.6h-.6zM46.9 71.8h.6v.6h-.6zM42.9 71.1h.6v.6h-.6zM51.3 65.0h.6v.6h-.6zM48.4 75.2h.6v.6h-.6zM45.9 77.3h.6v.6h-.6zM49.4 68.4h.6v.6h-.6zM48.2 86.2h.6v.6h-.6zM40.5 75.6h.6v.6h-.6zM42.2 90.6h.6v.6h-.6zM38.7 79.0h.6v.6h-.6zM51.5 64.7h.6v.6h-.6zM45.7 69.5h.6v.6h-.6zM39.0 78.2h.6v.6h-.6zM49.1 69.5h.6v.6h-.6zM47.3 78.2h.6v.6h-.6zM53.0 61.2h.6v.6h-.6zM49.8 67.5h.6v.6h-.6zM36.0 75.1h.6v.6h-.6zM49.9 73.9h.6v.6h-.6zM40.4 89.1h.6v.6h-.6zM48.6 72.1h.6v.6h-.6zM43.4 78.8h.6v.6h-.6zM44.3 83.3h.6v.6h-.6zM48.1 77.2h.6v.6h-.6zM44.7 64.7h.6v.6h-.6zM49.3 65.1h.6v.6h-.6zM45.8 74.3h.6v.6h-.6zM42.1 82.9h.6v.6h-.6zM38.6 89.4h.6v.6h-.6zM43.2 82.8h.6v.6h-.6zM53.5 63.5h.6v.6h-.6zM42.4 83.1h.6v.6h-.6zM47.4 73.9h.6v.6h-.6zM36.4 68.9h.6v.6h-.6zM49.3 82.1h.6v.6h-.6zM42.5 70.4h.6v.6h-.6zM47.5 76.5h.6v.6h-.6zM49.5 69.0h.6v.6h-.6zM35.8 90.9h.6v.6h-.6zM43.7 84.5h.6v.6h-.6zM35.5 83.5h.6v.6h-.6zM43.7 68.2h.6v.6h-.6zM51.7 79.6h.6v.6h-.6zM43.2 80.5h.6v.6h-.6zM40.5 73.4h.6v.6h-.6zM45.1 72.4h.6v.6h-.6zM49.9 63.4h.6v.6h-.6zM51.7 77.4h.6v.6h-.6zM45.2 66.5h.6v.6h-.6zM33.4 81.8h.6v.6h-.6zM42.5 77.2h.6v.6h-.6zM40.6 77.7h.6v.6h-.6zM46.1 74.3h.6v.6h-.6zM48.0 75.0h.6v.6h-.6zM51.7 65.2h.6v.6h-.6zM50.3 72.6h.6v.6h-.6zM44.1 68.5h.6v.6h-.6zM54.4 70.6h.6v.6h-.6zM43.6 76.3h.6v.6h-.6zM46.4 70.4h.6v.6h-.6zM38.9 79.8h.6v.6h-.6zM45.5 72.6h.6v.6h-.6zM51.8 61.5h.6v.6h-.6zM41.2 78.4h.6v.6h-.6zM51.0 75.4h.6v.6h-.6zM50.4 56.3h.6v.6h-.6zM49.1 75.2h.6v.6h-.6zM50.1 66.9h.6v.6h-.6zM49.2 79.2h.6v.6h-.6zM55.2 70.2h.6v.6h-.6zM39.2 79.0h.6v.6h-.6zM49.9 75.3h.6v.6h-.6zM56.8 66.0h.6v.6h-.6zM40.9 73.1h.6v.6h-.6zM50.0 66.2h.6v.6h-.6zM40.8 71.9h.6v.6h-.6zM53.0 71.5h.6v.6h-.6zM44.6 81.1h.6v.6h-.6zM50.2 64.9h.6v.6h-.6zM51.0 72.8h.6v.6h-.6zM35.3 73.0h.6v.6h-.6zM47.9 76.5h.6v.6h-.6zM44.9 68.1h.6v.6h-.6zM47.8 60.5h.6v.6h-.6zM49.5 71.1h.6v.6h-.6zM46.3 69.6h.6v.6h-.6zM51.0 55.1h.6v.6h-.6zM41.8 81.1h.6v.6h-.6zM42.7 86.6h.6v.6h-.6zM48.8 67.3h.6v.6h-.6zM52.5 69.6h.6v.6h-.6zM49.7 67.8h.6v.6h-.6zM43.3 81.1h.6v.6h-.6zM47.1 68.5h.6v.6h-.6zM41.8 81.7h.6v.6h-.6zM56.2 62.3h.6v.6h-.6zM50.3 51.7h.6v.6h-.6zM39.1 83.6h.6v.6h-.6zM55.3 69.1h.6v.6h-.6zM49.6 74.1h.6v.6h-.6zM52.1 63.2h.6v.6h-.6zM50.1 69.0h.6v.6h-.6zM44.8 75.3h.6v.6h-.6zM45.6 69.6h.6v.6h-.6zM45.3 68.5h.6v.6h-.6zM54.7 73.9h.6v.6h-.6zM44.4 86.6h.6v.6h-.6zM53.7 73.1h.6v.6h-.6zM43.8 77.8h.6v.6h-.6zM49.8 81.8h.6v.6h-.6zM45.7 70.9h.6v.6h-.6zM59.1 75.9h.6v.6h-.6zM48.4 66.7h.6v.6h-.6zM49.3 80.2h.6v.6h-.6zM50.8 77.3h.6v.6h-.6zM46.9 81.9h.6v.6h-.6zM43.4 73.2h.6v.6h-.6zM44.0 71.4h.6v.6h-.6zM57.3 55.7h.6v.6h-.6zM48.0 66.5h.6v.6h-.6zM39.9 79.2h.6v.6h-.6zM38.1 79.0h.6v.6h-.6zM59.1 65.4h.6v.6h-.6zM49.1 66.7h.6v.6h-.6zM49.3 62.1h.6v.6h-.6zM47.7 72.6h.6v.6h-.6zM58.4 66.0h.6v.6h-.6zM44.6 71.5h.6v.6h-.6zM40.0 83.6h.6v.6h-.6zM54.4 66.5h.6v.6h-.6zM50.4 69.1h.6v.6h-.6zM48.7 75.9h.6v.6h-.6zM38.7 73.7h.6v.6h-.6zM51.6 57.5h.6v.6h-.6zM46.5 71.6h.6v.6h-.6zM41.4 77.6h.6v.6h-.6zM48.2 76.7h.6v.6h-.6zM43.8 83.0h.6v.6h-.6zM45.8 70.4h.6v.6h-.6zM55.0 66.1h.6v.6h-.6zM47.7 81.1h.6v.6h-.6zM49.6 72.6h.6v.6h-.6zM45.4 67.2h.6v.6h-.6zM50.6 79.1h.6v.6h-.6zM58.7 62.4h.6v.6h-.6zM50.0 71.5h.6v.6h-.6zM53.3 68.9h.6v.6h-.6zM42.9 64.5h.6v.6h-.6zM50.4 72.6h.6v.6h-.6zM52.6 66.2h.6v.6h-.6zM60.7 60.0h.6v.6h-.6zM49.2 75.1h.6v.6h-.6zM52.5 69.0h.6v.6h-.6zM41.4 70.3h.6v.6h-.6zM50.9 71.9h.6v.6h-.6zM48.3 67.1h.6v.6h-.6zM47.2 75.0h.6v.6h-.6zM49.8 61.6h.6v.6h-.6zM42.2 88.8h.6v.6h-.6zM44.2 74.8h.6v.6h-.6zM44.2 64.9h.6v.6h-.6zM40.5 80.4h.6v.6h-.6zM42.7 90.5h.6v.6h-.6zM38.2 65.6h.6v.6h-.6zM44.2 66.9h.6v.6h-.6zM54.0 66.2h.6v.6h-.6zM49.2 62.3h.6v.6h-.6zM50.0 76.1h.6v.6h-.6zM53.2 71.2h.6v.6h-.6zM49.2 73.3h.6v.6h-.6zM51.4 67.8h.6v.6h-.6zM49.3 68.1h.6v.6h-.6zM50.2 69.6h.6v.6h-.6zM42.8 71.5h.6v.6h-.6zM54.4 57.9h.6v.6h-.6zM38.2 83.6h.6v.6h-.6zM40.9 74.2h.6v.6h-.6zM42.6 71.3h.6v.6h-.6zM44.2 77.0h.6v.6h-.6zM49.1 61.9h.6v.6h-.6zM48.8 86.1h.6v.6h-.6zM36.5 84.3h.6v.6h-.6zM50.6 72.4h.6v.6h-.6zM45.3 58.2h.6v.6h-.6zM53.0 67.5h.6v.6h-.6zM45.2 83.3h.6v.6h-.6zM33.5 81.7h.6v.6h-.6zM49.6 76.9h.6v.6h-.6zM49.7 86.1h.6v.6h-.6zM47.9 80.1h.6v.6h-.6zM50.6 60.9h.6v.6h-.6zM44.9 74.5h.6v.6h-.6zM39.1 76.2h.6v.6h-.6zM39.2 74.3h.6v.6h-.6zM49.4 66.2h.6v.6h-.6zM43.0 85.5h.6v.6h-.6zM49.0 76.0h.6v.6h-.6zM51.9 66.7h.6v.6h-.6zM44.2 61.0h.6v.6h-.6zM50.4 70.0h.6v.6h-.6zM46.4 66.4h.6v.6h-.6zM49.8 76.2h.6v.6h-.6zM47.4 62.2h.6v.6h-.6zM41.8 76.7h.6v.6h-.6zM41.8 79.6h.6v.6h-.6zM51.9 65.2h.6v.6h-.6zM45.4 69.8h.6v.6h-.6zM52.1 76.7h.6v.6h-.6zM61.0 64.7h.6v.6h-.6zM41.3 80.1h.6v.6h-.6zM45.1 76.2h.6v.6h-.6zM53.2 67.7h.6v.6h-.6zM50.4 56.7h.6v.6h-.6zM52.2 71.2h.6v.6h-.6zM45.1 71.3h.6v.6h-.6zM54.2 65.5h.6v.6h-.6zM53.4 66.0h.6v.6h-.6zM46.7 76.3h.6v.6h-.6zM57.6 68.7h.6v.6h-.6zM47.7 72.7h.6v.6h-.6zM44.8 70.8h.6v.6h-.6zM56.4 78.0h.6v.6h-.6zM42.7 77.6h.6v.6h-.6zM40.0 84.8h.6v.6h-.6zM50.3 72.4h.6v.6h-.6zM42.0 82.2h.6v.6h-.6zM49.9 70.6h.6v.6h-.6zM50.5 62.1h.6v.6h-.6zM43.2 69.5h.6v.6h-.6zM47.1 85.3h.6v.6h-.6zM46.7 81.8h.6v.6h-.6zM46.3 71.3h.6v.6h-.6zM52.0 74.3h.6v.6h-.6zM54.3 75.9h.6v.6h-.6zM42.0 59.0h.6v.6h-.6zM47.2 65.3h.6v.6h-.6zM38.7 68.6h.6v.6h-.6zM42.9 74.9h.6v.6h-.6zM46.5 88.3h.6v.6h-.6zM39.8 78.2h.6v.6h-.6zM39.6 71.4h.6v.6h-.6zM46.8 76.7h.6v.6h-.6zM39.4 86.5h.6v.6h-.6zM41.3 84.0h.6v.6h-.6zM46.1 80.5h.6v.6h-.6zM49.5 70.0h.6v.6h-.6zM49.1 62.9h.6v.6h-.6zM39.3 76.1h.6v.6h-.6zM54.0 64.0h.6v.6h-.6zM43.1 87.8h.6v.6h-.6zM46.7 73.9h.6v.6h-.6zM40.6 78.1h.6v.6h-.6zM49.7 71.5h.6v.6h-.6zM50.6 73.6h.6v.6h-.6zM52.2 76.1h.6v.6h-.6zM45.7 80.6h.6v.6h-.6zM56.3 69.8h.6v.6h-.6zM39.7 79.6h.6v.6h-.6zM50.6 63.6h.6v.6h-.6zM45.4 84.9h.6v.6h-.6zM40.0 74.6h.6v.6h-.6zM46.4 72.9h.6v.6h-.6zM43.1 77.0h.6v.6h-.6zM38.6 74.9h.6v.6h-.6zM43.1 73.9h.6v.6h-.6zM44.7 75.0h.6v.6h-.6zM44.4 72.2h.6v.6h-.6zM48.3 79.0h.6v.6h-.6zM51.6 62.5h.6v.6h-.6zM47.7 78.3h.6v.6h-.6zM44.8 78.1h.6v.6h-.6zM45.1 77.3h.6v.6h-.6zM37.9 82.5h.6v.6h-.6zM43.6 70.5h.6v.6h-.6zM44.6 81.9h.6v.6h-.6zM51.5 72.4h.6v.6h-.6zM51.0 68.0h.6v.6h-.6zM39.4 65.2h.6v.6h-.6zM46.1 73.0h.6v.6h-.6zM46.5 74.3h.6v.6h-.6zM53.0 63.2h.6v.6h-.6zM42.0 90.0h.6v.6h-.6zM50.5 69.1h.6v.6h-.6zM35.0 75.1h.6v.6h-.6zM44.3 74.6h.6v.6h-.6zM47.3 71.6h.6v.6h-.6zM52.5 61.6h.6v.6h-.6zM44.7 70.1h.6v.6h-.6zM50.5 72.4h.6v.6h-.6zM50.6 71.7h.6v.6h-.6zM66.8 65.8h.6v.6h-.6zM42.1 76.5h.6v.6h-.6zM44.0 80.6h.6v.6h-.6zM51.6 73.2h.6v.6h-.6zM45.2 69.9h.6v.6h-.6zM55.1 76.1h.6v.6h-.6zM30.2 84.6h.6v.6h-.6zM41.7 74.2h.6v.6h-.6zM55.6 60.1h.6v.6h-.6zM43.7 74.0h.6v.6h-.6zM52.6 66.4h.6v.6h-.6zM46.5 75.6h.6v.6h-.6zM54.1 57.7h.6v.6h-.6zM41.8 76.0h.6v.6h-.6zM51.4 66.3h.6v.6h-.6zM48.9 68.8h.6v.6h-.6zM44.2 84.3h.6v.6h-.6zM48.4 80.6h.6v.6h-.6zM50.5 60.5h.6v.6h-.6zM37.9 82.8h.6v.6h-.6zM40.3 74.0h.6v.6h-.6zM44.5 68.8h.6v.6h-.6zM52.9 75.3h.6v.6h-.6zM47.4 77.3h.6v.6h-.6zM41.4 83.3h.6v.6h-.6zM41.7 87.9h.6v.6h-.6zM42.7 72.5h.6v.6h-.6zM52.8 74.5h.6v.6h-.6zM41.1 81.6h.6v.6h-.6zM46.4 74.1h.6v.6h-.6zM49.8 76.2h.6v.6h-.6zM52.0 73.8h.6v.6h-.6zM48.2 72.2h.6v.6h-.6zM54.6 63.3h.6v.6h-.6zM56.9 82.6h.6v.6h-.6zM58.4 65.5h.6v.6h-.6zM58.0 74.7h.6v.6h-.6zM47.5 77.3h.6v.6h-.6zM39.5 62.9h.6v.6h-.6zM48.0 76.0h.6v.6h-.6zM50.3 73.7h.6v.6h-.6zM35.5 83.6h.6v.6h-.6zM52.6 81.1h.6v.6h-.6zM41.2 71.1h.6v.6h-.6zM42.6 72.0h.6v.6h-.6zM37.5 74.9h.6v.6h-.6zM55.1 61.0h.6v.6h-.6zM36.1 78.6h.6v.6h-.6zM43.6 80.5h.6v.6h-.6zM42.3 75.3h.6v.6h-.6zM41.8 70.1h.6v.6h-.6zM48.4 73.6h.6v.6h-.6zM46.1 77.8h.6v.6h-.6zM41.8 77.0h.6v.6h-.6zM47.5 81.6h.6v.6h-.6zM36.0 78.1h.6v.6h-.6zM48.8 68.4h.6v.6h-.6zM46.9 78.5h.6v.6h-.6zM49.0 60.2h.6v.6h-.6zM39.7 58.4h.6v.6h-.6zM50.0 73.2h.6v.6h-.6zM53.8 69.6h.6v.6h-.6zM40.1 85.5h.6v.6h-.6zM39.1 78.6h.6v.6h-.6zM45.2 80.2h.6v.6h-.6zM51.4 67.8h.6v.6h-.6zM42.3 76.2h.6v.6h-.6zM43.2 82.7h.6v.6h-.6zM48.5 82.4h.6v.6h-.6zM60.8 58.7h.6v.6h-.6zM43.0 79.5h.6v.6h-.6zM48.6 70.1h.6v.6h-.6zM46.8 65.5h.6v.6h-.6zM48.2 72.8h.6v.6h-.6zM40.6 76.9h.6v.6h-.6zM44.2 57.8h.6v.6h-.6zM61.2 67.7h.6v.6h-.6zM44.5 68.4h.6v.6h-.6zM48.5 63.2h.6v.6h-.6zM51.3 74.3h.6v.6h-.6zM49.3 71.2h.6v.6h-.6zM45.4 76.1h.6v.6h-.6zM45.2 64.8h.6v.6h-.6zM40.8 77.6h.6v.6h-.6zM37.5 78.7h.6v.6h-.6zM44.6 80.3h.6v.6h-.6zM47.2 71.3h.6v.6h-.6zM44.7 78.1h.6v.6h-.6zM51.5 63.1h.6v.6h-.6zM37.8 74.1h.6v.6h-.6zM33.5 76.6h.6v.6h-.6zM51.0 77.9h.6v.6h-.6zM54.9 69.0h.6v.6h-.6zM47.2 69.2h.6v.6h-.6zM43.4 77.8h.6v.6h-.6zM51.4 73.8h.6v.6h-.6zM35.1 84.6h.6v.6h-.6zM46.3 69.8h.6v.6h-.6zM47.1 79.8h.6v.6h-.6zM47.1 68.3h.6v.6h-.6zM64.9 57.6h.6v.6h-.6zM48.9 81.2h.6v.6h-.6zM41.5 80.9h.6v.6h-.6zM41.6 75.1h.6v.6h-.6zM42.1 89.1h.6v.6h-.6zM38.7 82.4h.6v.6h-.6zM46.5 59.8h.6v.6h-.6zM55.9 63.8h.6v.6h-.6zM44.8 76.4h.6v.6h-.6zM41.3 71.7h.6v.6h-.6zM46.1 67.8h.6v.6h-.6zM46.8 82.5h.6v.6h-.6zM40.7 66.3h.6v.6h-.6zM45.6 77.2h.6v.6h-.6zM50.0 63.8h.6v.6h-.6zM33.2 88.4h.6v.6h-.6zM50.2 82.1h.6v.6h-.6zM40.9 81.3h.6v.6h-.6zM51.9 57.4h.6v.6h-.6zM52.1 80.3h.6v.6h-.6zM49.5 75.7h.6v.6h-.6zM50.4 69.5h.6v.6h-.6zM38.3 72.5h.6v.6h-.6zM45.3 68.6h.6v.6h-.6zM51.9 67.4h.6v.6h-.6zM45.7 61.9h.6v.6h-.6zM48.5 67.6h.6v.6h-.6zM54.6 56.5h.6v.6h-.6zM48.1 69.9h.6v.6h-.6zM44.3 87.2h.6v.6h-.6zM51.6 64.6h.6v.6h-.6zM54.0 64.4h.6v.6h-.6zM50.7 58.9h.6v.6h-.6zM44.5 73.0h.6v.6h-.6zM44.5 63.9h.6v.6h-.6zM35.8 80.5h.6v.6h-.6zM49.6 72.0h.6v.6h-.6zM44.4 64.5h.6v.6h-.6zM44.8 71.0h.6v.6h-.6zM42.3 77.7h.6v.6h-.6zM47.2 76.1h.6v.6h-.6zM44.9 69.0h.6v.6h-.6zM45.2 72.4h.6v.6h-.6zM37.2 77.2h.6v.6h-.6zM37.1 65.9h.6v.6h-.6zM41.7 72.3h.6v.6h-.6zM50.1 69.3h.6v.6h-.6zM49.2 82.2h.6v.6h-.6zM46.9 76.2h.6v.6h-.6zM42.5 82.1h.6v.6h-.6zM46.6 74.2h.6v.6h-.6zM40.1 71.3h.6v.6h-.6zM42.6 77.0h.6v.6h-.6zM52.3 59.5h.6v.6h-.6zM44.2 73.0h.6v.6h-.6zM58.8 64.5h.6v.6h-.6zM43.3 81.0h.6v.6h-.6zM40.1 81.6h.6v.6h-.6zM46.0 71.1h.6v.6h-.6zM39.0 77.4h.6v.6h-.6zM46.7 68.5h.6v.6h-.6zM52.8 67.4h.6v.6h-.6zM46.8 75.6h.6v.6h-.6zM53.7 66.5h.6v.6h-.6zM46.6 75.7h.6v.6h-.6zM49.6 58.9h.6v.6h-.6zM52.6 69.0h.6v.6h-.6zM42.3 76.2h.6v.6h-.6zM35.7 75.3h.6v.6h-.6zM47.3 82.8h.6v.6h-.6zM45.8 77.0h.6v.6h-.6zM44.7 81.0h.6v.6h-.6zM44.1 78.6h.6v.6h-.6zM44.5 68.3h.6v.6h-.6zM40.8 72.9h.6v.6h-.6zM45.2 69.5h.6v.6h-.6zM49.3 75.5h.6v.6h-.6zM43.4 89.3h.6v.6h-.6zM51.2 77.5h.6v.6h-.6zM46.7 74.7h.6v.6h-.6zM51.7 60.8h.6v.6h-.6zM41.9 77.4h.6v.6h-.6zM38.3 90.6h.6v.6h-.6zM43.0 73.2h.6v.6h-.6zM48.2 83.4h.6v.6h-.6zM46.2 68.8h.6v.6h-.6zM41.3 78.9h.6v.6h-.6zM53.3 47.4h.6v.6h-.6zM41.3 79.7h.6v.6h-.6zM59.1 51.8h.6v.6h-.6zM44.0 84.0h.6v.6h-.6zM42.6 76.9h.6v.6h-.6zM43.6 80.5h.6v.6h-.6zM40.4 78.0h.6v.6h-.6zM38.4 85.9h.6v.6h-.6zM49.7 71.6h.6v.6h-.6zM46.6 74.1h.6v.6h-.6zM44.4 76.4h.6v.6h-.6zM48.4 72.2h.6v.6h-.6zM43.1 73.2h.6v.6h-.6zM43.9 78.8h.6v.6h-.6zM47.2 87.3h.6v.6h-.6zM45.4 75.1h.6v.6h-.6zM42.9 76.9h.6v.6h-.6zM44.0 69.5h.6v.6h-.6zM47.3 84.6h.6v.6h-.6zM41.6 72.5h.6v.6h-.6zM46.2 75.9h.6v.6h-.6zM53.6 64.9h.6v.6h-.6zM45.6 68.9h.6v.6h-.6zM41.6 73.7h.6v.6h-.6zM40.2 81.0h.6v.6h-.6zM52.1 66.6h.6v.6h-.6zM42.4 85.7h.6v.6h-.6zM45.1 85.1h.6v.6h-.6zM30.4 82.9h.6v.6h-.6zM40.7 73.7h.6v.6h-.6zM50.7 78.7h.6v.6h-.6zM45.3 81.1h.6v.6h-.6zM40.1 79.7h.6v.6h-.6zM45.4 62.5h.6v.6h-.6zM51.2 66.0h.6v.6h-.6zM48.6 67.0h.6v.6h-.6zM47.2 77.6h.6v.6h-.6zM46.2 70.6h.6v.6h-.6zM49.6 73.3h.6v.6h-.6zM44.0 75.7h.6v.6h-.6zM45.8 71.8h.6v.6h-.6zM51.2 82.9h.6v.6h-.6zM43.5 74.9h.6v.6h-.6zM41.1 67.9h.6v.6h-.6zM52.5 65.3h.6v.6h-.6zM48.2 63.3h.6v.6h-.6zM42.8 79.5h.6v.6h-.6zM48.9 73.9h.6v.6h-.6zM48.6 74.0h.6v.6h-.6zM51.8 82.3h.6v.6h-.6zM49.4 71.2h.6v.6h-.6zM40.7 74.1h.6v.6h-.6zM44.5 85.2h.6v.6h-.6zM37.8 73.8h.6v.6h-.6zM40.6 83.6h.6v.6h-.6zM42.5 63.5h.6v.6h-.6zM35.0 83.3h.6v.6h-.6zM37.3 87.3h.6v.6h-.6zM52.1 62.2h.6v.6h-.6zM44.4 75.2h.6v.6h-.6zM38.0 70.5h.6v.6h-.6zM42.7 75.8h.6v.6h-.6zM47.7 59.7h.6v.6h-.6zM47.5 72.2h.6v.6h-.6zM44.7 71.5h.6v.6h-.6zM51.8 81.2h.6v.6h-.6zM43.6 74.2h.6v.6h-.6zM37.4 76.6h.6v.6h-.6zM49.9 70.7h.6v.6h-.6zM48.1 71.8h.6v.6h-.6zM46.7 78.2h.6v.6h-.6zM50.4 57.6h.6v.6h-.6zM45.0 54.3h.6v.6h-.6zM46.3 70.1h.6v.6h-.6zM43.0 86.9h.6v.6h-.6zM48.3 80.6h.6v.6h-.6zM49.8 83.6h.6v.6h-.6zM45.0 73.1h.6v.6h-.6zM44.0 75.7h.6v.6h-.6zM53.9 75.6h.6v.6h-.6zM43.7 87.9h.6v.6h-.6zM49.0 82.4h.6v.6h-.6zM49.7 77.3h.6v.6h-.6zM42.3 86.5h.6v.6h-.6zM42.5 77.0h.6v.6h-.6zM52.4 67.8h.6v.6h-.6zM47.1 73.6h.6v.6h-.6zM47.3 77.6h.6v.6h-.6zM38.2 75.6h.6v.6h-.6zM57.8 53.1h.6v.6h-.6zM42.9 81.8h.6v.6h-.6zM36.3 74.4h.6v.6h-.6zM42.0 87.8h.6v.6h-.6zM41.6 81.5h.6v.6h-.6zM42.9 76.3h.6v.6h-.6zM40.2 67.7h.6v.6h-.6zM43.8 66.0h.6v.6h-.6zM45.4 75.4h.6v.6h-.6zM48.6 83.3h.6v.6h-.6zM54.2 61.3h.6v.6h-.6zM42.3 88.4h.6v.6h-.6zM46.1 71.5h.6v.6h-.6zM52.3 65.9h.6v.6h-.6zM51.5 68.6h.6v.6h-.6zM53.5 68.4h.6v.6h-.6zM50.9 78.5h.6v.6h-.6zM55.3 62.8h.6v.6h-.6zM44.3 65.4h.6v.6h-.6zM36.9 76.5h.6v.6h-.6zM47.3 82.2h.6v.6h-.6zM44.1 88.8h.6v.6h-.6zM47.4 79.5h.6v.6h-.6zM45.0 66.1h.6v.6h-.6zM55.1 66.4h.6v.6h-.6zM52.5 67.5h.6v.6h-.6zM49.6 70.8h.6v.6h-.6zM44.5 74.2h.6v.6h-.6zM50.1 63.1h.6v.6h-.6zM41.0 84.3h.6v.6h-.6zM42.3 77.8h.6v.6h-.6zM38.9 77.2h.6v.6h-.6zM52.4 70.7h.6v.6h-.6zM47.5 70.5h.6v.6h-.6zM46.9 61.1h.6v.6h-.6zM37.3 82.5h.6v.6h-.6zM36.6 89.3h.6v.6h-.6zM51.0 62.5h.6v.6h-.6zM34.3 64.6h.6v.6h-.6zM48.0 72.2h.6v.6h-.6zM53.7 72.5h.6v.6h-.6zM54.9 74.6h.6v.6h-.6zM41.1 75.9h.6v.6h-.6zM41.6 74.7h.6v.6h-.6zM43.4 74.1h.6v.6h-.6zM53.7 65.3h.6v.6h-.6zM39.7 73.7h.6v.6h-.6zM43.6 71.5h.6v.6h-.6zM45.3 71.5h.6v.6h-.6zM52.4 76.4h.6v.6h-.6zM42.1 83.5h.6v.6h-.6zM54.0 69.1h.6v.6h-.6zM41.7 79.9h.6v.6h-.6zM45.9 76.6h.6v.6h-.6zM45.2 78.4h.6v.6h-.6zM43.1 77.1h.6v.6h-.6zM33.7 72.9h.6v.6h-.6zM32.8 89.6h.6v.6h-.6zM38.7 68.0h.6v.6h-.6zM52.6 66.6h.6v.6h-.6zM45.5 82.1h.6v.6h-.6zM49.1 74.5h.6v.6h-.6zM50.1 58.1h.6v.6h-.6zM53.6 78.8h.6v.6h-.6zM56.6 52.9h.6v.6h-.6zM41.8 73.1h.6v.6h-.6zM55.9 72.1h.6v.6h-.6zM56.3 71.0h.6v.6h-.6zM43.0 67.2h.6v.6h-.6zM43.4 85.9h.6v.6h-.6zM41.8 64.6h.6v.6h-.6zM48.1 82.7h.6v.6h-.6zM59.9 74.3h.6v.6h-.6zM51.9 58.2h.6v.6h-.6zM44.5 72.8h.6v.6h-.6zM47.3 67.1h.6v.6h-.6zM50.9 80.1h.6v.6h-.6zM47.1 71.7h.6v.6h-.6zM47.6 76.1h.6v.6h-.6zM50.9 65.3h.6v.6h-.6zM54.5 69.2h.6v.6h-.6zM45.5 79.5h.6v.6h-.6zM42.6 82.7h.6v.6h-.6zM58.3 69.6h.6v.6h-.6zM47.6 70.0h.6v.6h-.6zM54.7 76.7h.6v.6h-.6zM38.1 86.2h.6v.6h-.6zM42.8 68.1h.6v.6h-.6zM46.0 69.6h.6v.6h-.6zM52.8 61.1h.6v.6h-.6zM39.3 71.9h.6v.6h-.6zM45.6 78.6h.6v.6h-.6zM40.4 72.7h.6v.6h-.6zM37.7 78.1h.6v.6h-.6zM57.0 60.7h.6v.6h-.6zM47.1 76.4h.6v.6h-.6zM43.3 73.1h.6v.6h-.6zM49.9 69.8h.6v.6h-.6zM44.7 74.8h.6v.6h-.6zM53.1 67.8h.6v.6h-.6zM48.5 74.3h.6v.6h-.6zM50.3 70.1h.6v.6h-.6zM43.6 70.9h.6v.6h-.6zM47.7 74.1h.6v.6h-.6zM44.9 76.4h.6v.6h-.6zM59.4 71.2h.6v.6h-.6zM36.3 89.5h.6v.6h-.6zM47.1 66.4h.6v.6h-.6zM53.7 68.7h.6v.6h-.6zM52.0 66.1h.6v.6h-.6zM52.2 68.3h.6v.6h-.6zM51.6 76.4h.6v.6h-.6zM40.0 80.6h.6v.6h-.6zM48.9 71.9h.6v.6h-.6zM36.6 82.2h.6v.6h-.6zM44.6 83.5h.6v.6h-.6zM40.5 84.6h.6v.6h-.6zM40.8 84.2h.6v.6h-.6zM43.4 69.2h.6v.6h-.6zM52.3 74.4h.6v.6h-.6zM52.1 59.0h.6v.6h-.6zM39.8 82.3h.6v.6h-.6zM41.7 86.2h.6v.6h-.6zM55.5 67.3h.6v.6h-.6zM46.6 74.1h.6v.6h-.6zM44.8 74.8h.6v.6h-.6zM45.1 77.8h.6v.6h-.6zM44.6 71.5h.6v.6h-.6zM44.7 70.8h.6v.6h-.6zM46.0 78.1h.6v.6h-.6zM57.7 55.4h.6v.6h-.6zM38.8 78.3h.6v.6h-.6zM46.6 73.6h.6v.6h-.6zM56.7 54.7h.6v.6h-.6zM45.5 65.6h.6v.6h-.6zM44.7 78.7h.6v.6h-.6zM38.5 86.2h.6v.6h-.6zM41.7 69.6h.6v.6h-.6zM37.3 74.9h.6v.6h-.6zM42.3 82.4h.6v.6h-.6zM37.8 81.0h.6v.6h-.6zM51.0 69.3h.6v.6h-.6zM50.6 66.5h.6v.6h-.6zM48.7 70.2h.6v.6h-.6zM58.3 64.5h.6v.6h-.6zM44.8 77.9h.6v.6h-.6zM43.5 74.5h.6v.6h-.6zM48.3 78.9h.6v.6h-.6zM43.1 76.5h.6v.6h-.6zM45.5 79.5h.6v.6h-.6zM50.9 74.0h.6v.6h-.6zM47.9 85.6h.6v.6h-.6zM41.6 88.5h.6v.6h-.6zM49.4 61.4h.6v.6h-.6zM47.1 63.6h.6v.6h-.6zM45.7 60.2h.6v.6h-.6zM50.4 65.9h.6v.6h-.6zM55.5 63.2h.6v.6h-.6zM46.7 64.3h.6v.6h-.6zM45.7 74.8h.6v.6h-.6zM49.2 89.5h.6v.6h-.6zM55.5 73.7h.6v.6h-.6zM44.6 73.2h.6v.6h-.6zM44.8 69.1h.6v.6h-.6zM50.2 71.3h.6v.6h-.6zM49.4 70.5h.6v.6h-.6zM48.6 85.1h.6v.6h-.6zM48.5 79.4h.6v.6h-.6zM41.9 76.1h.6v.6h-.6zM44.5 79.0h.6v.6h-.6zM48.3 68.4h.6v.6h-.6zM48.6 73.8h.6v.6h-.6zM38.1 79.5h.6v.6h-.6zM53.3 63.9h.6v.6h-.6zM52.8 75.3h.6v.6h-.6zM47.8 76.8h.6v.6h-.6zM42.4 82.1h.6v.6h-.6zM39.1 71.4h.6v.6h-.6zM49.9 64.7h.6v.6h-.6zM58.0 69.7h.6v.6h-.6zM51.9 78.0h.6v.6h-.6zM44.8 75.9h.6v.6h-.6zM49.6 72.8h.6v.6h-.6zM55.7 76.1h.6v.6h-.6zM48.2 82.5h.6v.6h-.6zM47.4 79.6h.6v.6h-.6zM47.9 71.9h.6v.6h-.6zM41.8 72.6h.6v.6h-.6zM47.3 77.2h.6v.6h-.6zM35.2 78.9h.6v.6h-.6zM50.1 71.2h.6v.6h-.6zM40.8 71.1h.6v.6h-.6zM56.1 57.2h.6v.6h-.6zM45.0 81.2h.6v.6h-.6zM35.8 85.9h.6v.6h-.6zM38.2 86.7h.6v.6h-.6zM61.4 56.1h.6v.6h-.6zM46.4 77.0h.6v.6h-.6zM43.6 80.1h.6v.6h-.6zM42.8 72.8h.6v.6h-.6zM42.3 76.7h.6v.6h-.6zM49.4 79.4h.6v.6h-.6zM46.2 67.1h.6v.6h-.6zM44.1 72.3h.6v.6h-.6zM44.6 79.7h.6v.6h-.6zM46.0 75.3h.6v.6h-.6zM47.0 73.4h.6v.6h-.6zM44.1 80.9h.6v.6h-.6zM46.2 73.7h.6v.6h-.6zM40.5 73.1h.6v.6h-.6zM43.3 80.2h.6v.6h-.6zM37.0 85.4h.6v.6h-.6zM47.3 68.7h.6v.6h-.6zM41.9 80.6h.6v.6h-.6zM47.7 59.5h.6v.6h-.6zM42.8 70.1h.6v.6h-.6zM46.2 69.9h.6v.6h-.6zM49.1 68.8h.6v.6h-.6zM45.0 83.7h.6v.6h-.6zM45.2 71.4h.6v.6h-.6zM46.7 64.9h.6v.6h-.6zM37.7 79.4h.6v.6h-.6zM43.3 66.1h.6v.6h-.6zM51.6 75.6h.6v.6h-.6zM47.7 69.5h.6v.6h-.6zM45.3 70.7h.6v.6h-.6zM51.1 60.9h.6v.6h-.6zM47.9 73.2h.6v.6h-.6zM40.2 82.3h.6v.6h-.6zM44.5 88.3h.6v.6h-.6zM52.9 69.5h.6v.6h-.6zM44.3 70.5h.6v.6h-.6zM42.4 78.7h.6v.6h-.6zM38.5 85.8h.6v.6h-.6zM50.2 70.6h.6v.6h-.6zM50.5 87.5h.6v.6h-.6zM48.0 85.0h.6v.6h-.6zM44.8 70.8h.6v.6h-.6zM51.9 57.1h.6v.6h-.6zM51.7 70.6h.6v.6h-.6zM43.8 76.3h.6v.6h-.6zM47.0 82.3h.6v.6h-.6zM51.0 72.5h.6v.6h-.6zM45.2 68.2h.6v.6h-.6zM47.5 55.3h.6v.6h-.6zM51.7 70.6h.6v.6h-.6zM37.3 83.8h.6v.6h-.6zM41.5 73.8h.6v.6h-.6zM36.6 75.0h.6v.6h-.6zM47.3 72.9h.6v.6h-.6zM48.0 67.9h.6v.6h-.6zM49.5 61.7h.6v.6h-.6zM43.2 57.4h.6v.6h-.6zM44.7 71.2h.6v.6h-.6zM45.3 78.6h.6v.6h-.6zM53.6 61.1h.6v.6h-.6zM45.0 61.1h.6v.6h-.6zM56.4 76.7h.6v.6h-.6zM48.9 80.8h.6v.6h-.6zM51.1 66.5h.6v.6h-.6zM50.3 79.7h.6v.6h-.6zM50.8 70.6h.6v.6h-.6zM47.9 76.9h.6v.6h-.6zM38.7 83.7h.6v.6h-.6zM47.8 67.1h.6v.6h-.6zM53.5 69.5h.6v.6h-.6zM50.0 75.0h.6v.6h-.6zM42.6 78.5h.6v.6h-.6zM45.4 74.6h.6v.6h-.6zM57.7 75.2h.6v.6h-.6zM47.3 78.1h.6v.6h-.6zM48.3 69.3h.6v.6h-.6zM66.7 67.8h.6v.6h-.6zM65.3 54.7h.6v.6h-.6zM64.1 64.2h.6v.6h-.6zM41.4 78.9h.6v.6h-.6zM45.8 80.0h.6v.6h-.6zM59.3 68.4h.6v.6h-.6zM69.4 62.9h.6v.6h-.6zM49.1 69.3h.6v.6h-.6zM50.2 75.9h.6v.6h-.6zM64.6 55.8h.6v.6h-.6zM44.4 72.1h.6v.6h-.6zM56.8 63.8h.6v.6h-.6zM61.3 62.9h.6v.6h-.6zM72.9 59.6h.6v.6h-.6zM47.8 78.3h.6v.6h-.6zM44.7 77.6h.6v.6h-.6zM46.0 76.7h.6v.6h-.6zM63.5 68.1h.6v.6h-.6zM41.7 76.0h.6v.6h-.6zM46.5 70.7h.6v.6h-.6zM72.1 56.1h.6v.6h-.6zM72.2 62.1h.6v.6h-.6zM46.6 75.5h.6v.6h-.6zM50.8 66.9h.6v.6h-.6zM56.5 78.1h.6v.6h-.6zM63.0 62.1h.6v.6h-.6zM75.3 53.8h.6v.6h-.6zM50.4 72.3h.6v.6h-.6zM52.8 72.3h.6v.6h-.6zM56.9 64.6h.6v.6h-.6zM44.7 80.3h.6v.6h-.6zM74.8 54.6h.6v.6h-.6zM73.0 53.3h.6v.6h-.6zM54.2 63.7h.6v.6h-.6zM62.7 70.5h.6v.6h-.6zM54.1 69.5h.6v.6h-.6zM56.0 67.7h.6v.6h-.6zM54.5 59.2h.6v.6h-.6zM47.6 64.0h.6v.6h-.6zM54.6 63.7h.6v.6h-.6zM46.7 75.5h.6v.6h-.6zM51.4 79.0h.6v.6h-.6zM52.3 75.8h.6v.6h-.6zM82.4 49.8h.6v.6h-.6zM58.2 67.7h.6v.6h-.6zM42.6 78.8h.6v.6h-.6zM49.0 76.4h.6v.6h-.6zM44.0 78.9h.6v.6h-.6zM41.0 80.8h.6v.6h-.6zM60.6 69.4h.6v.6h-.6zM45.1 75.1h.6v.6h-.6zM57.3 85.3h.6v.6h-.6zM56.3 56.9h.6v.6h-.6zM50.2 71.5h.6v.6h-.6zM45.4 78.1h.6v.6h-.6zM50.8 71.4h.6v.6h-.6zM52.2 71.9h.6v.6h-.6zM62.2 64.5h.6v.6h-.6zM70.3 66.3h.6v.6h-.6zM49.2 63.7h.6v.6h-.6zM48.2 66.2h.6v.6h-.6zM73.1 51.7h.6v.6h-.6zM55.3 67.0h.6v.6h-.6zM69.5 57.9h.6v.6h-.6zM42.1 74.6h.6v.6h-.6zM57.6 75.3h.6v.6h-.6zM56.2 63.2h.6v.6h-.6zM49.2 74.1h.6v.6h-.6zM46.1 83.7h.6v.6h-.6zM56.3 74.0h.6v.6h-.6zM53.7 61.3h.6v.6h-.6zM61.2 71.7h.6v.6h-.6zM65.6 65.5h.6v.6h-.6zM42.6 75.5h.6v.6h-.6zM40.2 74.3h.6v.6h-.6zM55.5 73.5h.6v.6h-.6zM52.6 70.2h.6v.6h-.6zM64.7 70.0h.6v.6h-.6zM52.7 74.2h.6v.6h-.6zM44.3 76.5h.6v.6h-.6zM52.2 64.9h.6v.6h-.6zM64.7 58.5h.6v.6h-.6zM52.3 81.7h.6v.6h-.6zM74.6 52.8h.6v.6h-.6zM50.5 66.8h.6v.6h-.6zM53.9 76.4h.6v.6h-.6zM60.6 71.0h.6v.6h-.6zM40.6 73.4h.6v.6h-.6zM63.1 61.0h.6v.6h-.6zM45.3 71.7h.6v.6h-.6zM47.8 66.5h.6v.6h-.6zM42.0 85.2h.6v.6h-.6zM47.3 72.2h.6v.6h-.6zM47.6 77.4h.6v.6h-.6zM49.6 63.0h.6v.6h-.6zM64.5 66.6h.6v.6h-.6zM51.0 63.2h.6v.6h-.6zM67.8 61.7h.6v.6h-.6zM49.2 75.4h.6v.6h-.6zM45.8 81.9h.6v.6h-.6zM43.9 82.7h.6v.6h-.6zM53.3 72.1h.6v.6h-.6zM50.7 66.1h.6v.6h-.6zM55.0 71.7h.6v.6h-.6zM51.5 72.4h.6v.6h-.6zM50.1 76.2h.6v.6h-.6zM83.2 55.4h.6v.6h-.6zM41.6 83.5h.6v.6h-.6zM43.7 76.0h.6v.6h-.6zM64.4 62.1h.6v.6h-.6zM63.0 67.0h.6v.6h-.6zM60.5 62.5h.6v.6h-.6zM43.3 72.1h.6v.6h-.6zM51.6 69.7h.6v.6h-.6zM51.1 69.3h.6v.6h-.6zM43.9 71.7h.6v.6h-.6zM54.9 68.9h.6v.6h-.6zM62.3 55.5h.6v.6h-.6zM49.7 71.5h.6v.6h-.6zM65.9 68.2h.6v.6h-.6zM54.1 67.6h.6v.6h-.6zM57.3 65.4h.6v.6h-.6zM53.0 75.7h.6v.6h-.6zM70.2 59.2h.6v.6h-.6zM68.4 69.7h.6v.6h-.6zM55.5 70.9h.6v.6h-.6zM50.6 73.1h.6v.6h-.6zM54.1 75.5h.6v.6h-.6zM56.2 68.4h.6v.6h-.6zM51.6 68.3h.6v.6h-.6zM65.4 63.7h.6v.6h-.6zM47.0 73.3h.6v.6h-.6zM47.7 78.2h.6v.6h-.6zM48.2 70.5h.6v.6h-.6zM46.0 69.1h.6v.6h-.6zM60.9 67.9h.6v.6h-.6zM53.1 69.5h.6v.6h-.6zM54.7 65.4h.6v.6h-.6zM70.0 63.6h.6v.6h-.6zM52.5 70.8h.6v.6h-.6zM49.3 65.9h.6v.6h-.6zM44.7 79.4h.6v.6h-.6zM51.9 68.4h.6v.6h-.6zM49.7 61.5h.6v.6h-.6zM47.5 70.6h.6v.6h-.6zM52.0 74.2h.6v.6h-.6zM49.9 71.6h.6v.6h-.6zM48.7 71.3h.6v.6h-.6zM48.9 72.5h.6v.6h-.6zM54.8 67.1h.6v.6h-.6zM81.2 52.4h.6v.6h-.6zM56.9 69.3h.6v.6h-.6zM50.5 68.5h.6v.6h-.6zM58.1 77.3h.6v.6h-.6zM51.6 58.0h.6v.6h-.6zM53.3 62.5h.6v.6h-.6zM47.2 78.8h.6v.6h-.6zM67.3 64.3h.6v.6h-.6zM59.3 76.6h.6v.6h-.6zM48.6 77.3h.6v.6h-.6zM60.8 70.4h.6v.6h-.6zM49.7 78.2h.6v.6h-.6zM59.9 65.0h.6v.6h-.6zM57.0 58.6h.6v.6h-.6zM62.7 65.4h.6v.6h-.6zM49.3 76.4h.6v.6h-.6zM68.3 59.2h.6v.6h-.6zM54.2 64.9h.6v.6h-.6zM66.5 68.4h.6v.6h-.6zM68.8 59.8h.6v.6h-.6zM46.8 66.0h.6v.6h-.6zM43.2 75.2h.6v.6h-.6zM52.7 68.7h.6v.6h-.6zM64.3 58.9h.6v.6h-.6zM67.2 58.6h.6v.6h-.6zM54.0 71.1h.6v.6h-.6zM69.8 69.1h.6v.6h-.6zM47.7 59.6h.6v.6h-.6zM51.6 61.0h.6v.6h-.6zM50.0 64.5h.6v.6h-.6zM52.8 69.1h.6v.6h-.6zM54.5 74.4h.6v.6h-.6zM74.6 49.9h.6v.6h-.6zM50.2 73.2h.6v.6h-.6zM48.4 78.6h.6v.6h-.6zM47.1 69.5h.6v.6h-.6zM48.3 70.3h.6v.6h-.6zM46.3 73.1h.6v.6h-.6zM54.1 67.2h.6v.6h-.6zM44.0 68.3h.6v.6h-.6zM66.0 57.7h.6v.6h-.6zM46.6 77.3h.6v.6h-.6zM46.2 71.9h.6v.6h-.6zM56.7 68.8h.6v.6h-.6zM57.0 68.3h.6v.6h-.6zM49.6 73.1h.6v.6h-.6zM62.9 67.1h.6v.6h-.6zM70.0 53.4h.6v.6h-.6zM53.1 69.9h.6v.6h-.6zM58.5 65.3h.6v.6h-.6zM61.1 61.6h.6v.6h-.6zM46.5 70.1h.6v.6h-.6zM50.1 79.1h.6v.6h-.6zM56.8 68.7h.6v.6h-.6zM56.8 66.5h.6v.6h-.6zM55.9 67.3h.6v.6h-.6zM52.4 64.8h.6v.6h-.6zM55.1 69.2h.6v.6h-.6zM62.2 67.5h.6v.6h-.6zM59.4 61.1h.6v.6h-.6zM53.9 68.0h.6v.6h-.6zM52.3 72.1h.6v.6h-.6zM74.6 49.4h.6v.6h-.6zM50.8 79.6h.6v.6h-.6zM70.1 61.2h.6v.6h-.6zM45.4 70.6h.6v.6h-.6zM42.0 73.7h.6v.6h-.6zM48.8 64.2h.6v.6h-.6zM49.2 76.0h.6v.6h-.6zM48.5 71.4h.6v.6h-.6zM48.4 78.4h.6v.6h-.6zM45.0 78.0h.6v.6h-.6zM44.3 68.5h.6v.6h-.6zM45.8 81.5h.6v.6h-.6zM63.5 64.3h.6v.6h-.6zM62.0 63.3h.6v.6h-.6zM43.2 79.1h.6v.6h-.6zM70.6 61.6h.6v.6h-.6zM41.8 69.1h.6v.6h-.6zM51.1 72.6h.6v.6h-.6zM59.2 64.5h.6v.6h-.6zM39.8 69.6h.6v.6h-.6zM46.7 69.6h.6v.6h-.6zM54.9 73.5h.6v.6h-.6zM47.4 60.8h.6v.6h-.6zM51.1 75.1h.6v.6h-.6zM66.3 60.4h.6v.6h-.6zM53.8 69.9h.6v.6h-.6zM57.4 74.5h.6v.6h-.6zM57.2 70.8h.6v.6h-.6zM71.4 58.6h.6v.6h-.6zM49.8 83.8h.6v.6h-.6zM42.9 66.4h.6v.6h-.6zM41.1 74.3h.6v.6h-.6zM68.2 62.3h.6v.6h-.6zM47.9 67.1h.6v.6h-.6zM51.2 75.4h.6v.6h-.6zM48.5 70.3h.6v.6h-.6zM51.6 79.8h.6v.6h-.6zM49.3 77.0h.6v.6h-.6zM52.8 75.0h.6v.6h-.6zM47.7 67.2h.6v.6h-.6zM48.4 72.3h.6v.6h-.6zM42.8 83.2h.6v.6h-.6zM53.9 72.9h.6v.6h-.6zM51.2 69.3h.6v.6h-.6zM46.0 73.5h.6v.6h-.6zM65.0 56.5h.6v.6h-.6zM54.7 68.6h.6v.6h-.6zM56.7 64.7h.6v.6h-.6zM45.9 66.9h.6v.6h-.6zM52.3 66.3h.6v.6h-.6zM40.7 78.1h.6v.6h-.6zM53.7 63.2h.6v.6h-.6zM56.1 52.7h.6v.6h-.6zM51.2 83.7h.6v.6h-.6zM83.9 51.1h.6v.6h-.6zM44.6 71.6h.6v.6h-.6zM60.6 62.4h.6v.6h-.6zM55.3 77.1h.6v.6h-.6zM64.6 69.7h.6v.6h-.6zM57.0 73.6h.6v.6h-.6zM53.6 71.4h.6v.6h-.6zM59.5 73.3h.6v.6h-.6zM45.8 74.2h.6v.6h-.6zM53.7 68.2h.6v.6h-.6zM63.8 69.3h.6v.6h-.6zM40.5 75.8h.6v.6h-.6zM49.9 71.4h.6v.6h-.6zM55.7 71.3h.6v.6h-.6zM44.8 65.2h.6v.6h-.6zM44.0 72.3h.6v.6h-.6zM51.2 66.6h.6v.6h-.6zM47.2 67.5h.6v.6h-.6zM49.9 75.9h.6v.6h-.6zM52.3 78.8h.6v.6h-.6zM52.9 74.1h.6v.6h-.6zM48.8 75.6h.6v.6h-.6zM60.9 59.5h.6v.6h-.6zM52.9 60.3h.6v.6h-.6zM54.3 70.2h.6v.6h-.6zM45.8 70.9h.6v.6h-.6zM45.9 76.1h.6v.6h-.6zM47.8 81.3h.6v.6h-.6zM62.7 70.1h.6v.6h-.6zM65.2 66.4h.6v.6h-.6zM50.7 73.1h.6v.6h-.6zM55.1 60.5h.6v.6h-.6zM48.8 75.4h.6v.6h-.6zM51.4 73.5h.6v.6h-.6zM55.8 65.1h.6v.6h-.6zM50.7 69.0h.6v.6h-.6zM54.3 70.7h.6v.6h-.6zM78.9 57.8h.6v.6h-.6zM49.2 70.8h.6v.6h-.6zM66.8 70.1h.6v.6h-.6zM64.9 64.2h.6v.6h-.6zM59.9 65.1h.6v.6h-.6zM52.7 77.1h.6v.6h-.6zM58.5 67.1h.6v.6h-.6zM50.6 73.2h.6v.6h-.6zM49.9 67.4h.6v.6h-.6zM72.7 64.2h.6v.6h-.6zM48.7 72.2h.6v.6h-.6zM44.6 77.4h.6v.6h-.6zM58.4 66.0h.6v.6h-.6zM48.9 73.1h.6v.6h-.6zM66.5 56.8h.6v.6h-.6zM43.5 72.7h.6v.6h-.6zM48.1 68.4h.6v.6h-.6zM52.3 69.2h.6v.6h-.6zM55.0 71.5h.6v.6h-.6zM51.3 69.3h.6v.6h-.6zM75.9 62.8h.6v.6h-.6zM43.1 83.0h.6v.6h-.6zM48.0 76.8h.6v.6h-.6zM53.5 64.1h.6v.6h-.6zM63.4 69.6h.6v.6h-.6zM41.9 66.6h.6v.6h-.6zM41.7 67.7h.6v.6h-.6zM53.1 73.0h.6v.6h-.6zM64.4 69.1h.6v.6h-.6zM71.4 58.1h.6v.6h-.6zM64.6 58.2h.6v.6h-.6zM85.4 49.0h.6v.6h-.6zM53.7 72.3h.6v.6h-.6zM64.7 69.8h.6v.6h-.6zM57.0 67.5h.6v.6h-.6zM74.2 53.3h.6v.6h-.6zM44.3 70.5h.6v.6h-.6zM50.5 72.5h.6v.6h-.6zM40.1 76.4h.6v.6h-.6zM41.8 68.9h.6v.6h-.6zM43.5 71.9h.6v.6h-.6zM62.2 68.0h.6v.6h-.6zM53.0 78.5h.6v.6h-.6zM47.4 75.2h.6v.6h-.6zM65.6 55.8h.6v.6h-.6zM51.8 67.7h.6v.6h-.6zM55.9 73.2h.6v.6h-.6zM48.9 76.1h.6v.6h-.6zM44.8 72.4h.6v.6h-.6zM54.2 70.6h.6v.6h-.6zM49.1 69.8h.6v.6h-.6zM61.5 62.2h.6v.6h-.6zM52.7 63.1h.6v.6h-.6zM49.0 71.6h.6v.6h-.6zM53.4 64.5h.6v.6h-.6zM43.7 73.9h.6v.6h-.6zM74.5 56.1h.6v.6h-.6zM47.9 82.3h.6v.6h-.6zM45.9 74.7h.6v.6h-.6zM50.5 78.1h.6v.6h-.6zM57.3 64.6h.6v.6h-.6zM46.9 71.4h.6v.6h-.6zM50.7 72.3h.6v.6h-.6zM51.3 73.1h.6v.6h-.6zM50.8 72.8h.6v.6h-.6zM51.5 75.5h.6v.6h-.6zM52.3 74.6h.6v.6h-.6zM66.2 66.6h.6v.6h-.6zM82.0 50.3h.6v.6h-.6zM52.9 73.9h.6v.6h-.6zM44.3 55.9h.6v.6h-.6zM48.8 72.9h.6v.6h-.6zM48.4 71.6h.6v.6h-.6zM64.2 59.7h.6v.6h-.6zM45.5 72.4h.6v.6h-.6zM75.3 54.8h.6v.6h-.6zM59.2 68.2h.6v.6h-.6zM52.4 67.6h.6v.6h-.6zM62.9 63.2h.6v.6h-.6zM48.1 71.7h.6v.6h-.6zM44.2 71.8h.6v.6h-.6zM53.1 68.6h.6v.6h-.6zM63.8 65.2h.6v.6h-.6zM50.0 72.3h.6v.6h-.6zM61.7 60.2h.6v.6h-.6zM45.0 70.9h.6v.6h-.6zM62.4 66.6h.6v.6h-.6zM44.1 77.3h.6v.6h-.6zM57.3 71.2h.6v.6h-.6zM58.3 71.0h.6v.6h-.6zM71.2 58.5h.6v.6h-.6zM42.2 70.1h.6v.6h-.6zM48.2 72.7h.6v.6h-.6zM47.0 73.9h.6v.6h-.6zM48.5 71.3h.6v.6h-.6zM65.0 66.0h.6v.6h-.6zM48.5 88.3h.6v.6h-.6zM45.8 71.2h.6v.6h-.6zM51.7 69.7h.6v.6h-.6zM76.8 60.4h.6v.6h-.6zM45.4 70.9h.6v.6h-.6zM49.6 70.2h.6v.6h-.6zM45.4 70.3h.6v.6h-.6zM49.7 71.9h.6v.6h-.6zM58.7 69.7h.6v.6h-.6zM76.0 58.5h.6v.6h-.6zM52.0 66.2h.6v.6h-.6zM59.6 64.6h.6v.6h-.6zM61.7 60.2h.6v.6h-.6zM47.1 73.7h.6v.6h-.6zM46.7 68.4h.6v.6h-.6zM50.9 74.1h.6v.6h-.6zM44.4 83.7h.6v.6h-.6zM64.6 61.0h.6v.6h-.6zM43.3 73.2h.6v.6h-.6zM60.9 67.7h.6v.6h-.6zM53.5 66.0h.6v.6h-.6zM43.6 66.6h.6v.6h-.6zM51.9 72.0h.6v.6h-.6zM50.7 72.8h.6v.6h-.6zM55.8 60.9h.6v.6h-.6zM84.6 51.1h.6v.6h-.6zM51.6 70.6h.6v.6h-.6zM70.6 53.7h.6v.6h-.6zM53.4 71.8h.6v.6h-.6zM66.5 54.2h.6v.6h-.6zM70.8 53.9h.6v.6h-.6zM70.7 68.7h.6v.6h-.6zM48.6 76.9h.6v.6h-.6zM73.6 57.8h.6v.6h-.6zM51.4 73.9h.6v.6h-.6zM71.9 59.1h.6v.6h-.6zM61.3 77.0h.6v.6h-.6zM54.9 66.3h.6v.6h-.6zM48.4 74.2h.6v.6h-.6zM66.5 56.6h.6v.6h-.6zM50.0 75.1h.6v.6h-.6zM62.8 72.5h.6v.6h-.6zM47.8 73.0h.6v.6h-.6zM45.3 68.0h.6v.6h-.6zM61.3 58.4h.6v.6h-.6zM55.0 73.5h.6v.6h-.6zM54.1 66.0h.6v.6h-.6zM45.4 74.2h.6v.6h-.6zM46.4 76.4h.6v.6h-.6zM44.2 69.1h.6v.6h-.6zM58.6 68.9h.6v.6h-.6zM45.8 79.1h.6v.6h-.6zM51.3 65.3h.6v.6h-.6zM54.5 67.1h.6v.6h-.6zM43.7 73.2h.6v.6h-.6zM44.0 65.3h.6v.6h-.6zM55.5 66.5h.6v.6h-.6zM46.5 78.5h.6v.6h-.6zM50.4 82.5h.6v.6h-.6zM52.2 66.4h.6v.6h-.6zM60.4 64.2h.6v.6h-.6zM43.4 75.4h.6v.6h-.6zM49.2 72.4h.6v.6h-.6zM46.6 66.7h.6v.6h-.6zM50.1 70.7h.6v.6h-.6zM48.9 71.2h.6v.6h-.6zM52.7 67.9h.6v.6h-.6zM55.8 69.4h.6v.6h-.6zM65.1 63.8h.6v.6h-.6zM61.3 57.0h.6v.6h-.6zM46.1 71.4h.6v.6h-.6zM62.6 62.6h.6v.6h-.6zM45.6 75.1h.6v.6h-.6zM47.9 59.0h.6v.6h-.6zM43.6 83.7h.6v.6h-.6zM48.4 74.6h.6v.6h-.6zM47.1 64.2h.6v.6h-.6zM84.3 58.4h.6v.6h-.6zM55.6 72.5h.6v.6h-.6zM66.9 61.0h.6v.6h-.6zM68.6 68.1h.6v.6h-.6zM47.9 76.5h.6v.6h-.6zM64.7 59.2h.6v.6h-.6zM57.6 62.3h.6v.6h-.6zM53.9 77.0h.6v.6h-.6zM42.5 72.5h.6v.6h-.6zM65.3 70.3h.6v.6h-.6zM69.3 58.6h.6v.6h-.6zM68.1 61.0h.6v.6h-.6zM57.7 77.8h.6v.6h-.6zM52.4 67.9h.6v.6h-.6zM62.8 61.6h.6v.6h-.6zM46.8 63.9h.6v.6h-.6zM47.3 72.1h.6v.6h-.6zM62.2 67.6h.6v.6h-.6zM44.7 68.1h.6v.6h-.6zM54.5 62.3h.6v.6h-.6zM44.5 81.8h.6v.6h-.6zM46.6 76.9h.6v.6h-.6zM49.0 68.7h.6v.6h-.6zM41.4 74.2h.6v.6h-.6zM61.4 73.9h.6v.6h-.6zM52.9 63.5h.6v.6h-.6zM65.3 70.4h.6v.6h-.6zM48.1 75.9h.6v.6h-.6zM51.5 73.4h.6v.6h-.6zM49.0 72.4h.6v.6h-.6zM52.2 74.4h.6v.6h-.6zM48.8 72.8h.6v.6h-.6zM46.9 76.7h.6v.6h-.6zM57.9 66.4h.6v.6h-.6zM63.7 63.4h.6v.6h-.6zM45.3 78.5h.6v.6h-.6zM55.1 59.0h.6v.6h-.6zM45.4 62.5h.6v.6h-.6zM50.2 78.6h.6v.6h-.6zM49.8 72.7h.6v.6h-.6zM47.0 76.2h.6v.6h-.6zM65.6 60.8h.6v.6h-.6zM46.3 74.3h.6v.6h-.6zM48.8 76.7h.6v.6h-.6zM49.5 70.7h.6v.6h-.6zM49.5 69.0h.6v.6h-.6zM50.5 68.2h.6v.6h-.6zM50.9 63.5h.6v.6h-.6zM46.7 62.7h.6v.6h-.6zM58.9 64.6h.6v.6h-.6zM74.0 57.1h.6v.6h-.6zM49.5 82.6h.6v.6h-.6zM61.9 62.1h.6v.6h-.6zM59.2 62.1h.6v.6h-.6zM61.0 73.3h.6v.6h-.6zM54.2 65.9h.6v.6h-.6zM56.6 74.6h.6v.6h-.6zM45.9 79.9h.6v.6h-.6zM45.0 77.8h.6v.6h-.6zM53.9 66.3h.6v.6h-.6zM77.8 52.9h.6v.6h-.6zM59.3 69.0h.6v.6h-.6zM77.1 56.3h.6v.6h-.6zM67.7 60.5h.6v.6h-.6zM52.5 75.8h.6v.6h-.6zM64.8 64.5h.6v.6h-.6zM55.6 66.8h.6v.6h-.6zM59.2 55.7h.6v.6h-.6zM46.0 74.2h.6v.6h-.6zM50.6 67.8h.6v.6h-.6zM43.7 78.3h.6v.6h-.6zM73.7 60.2h.6v.6h-.6zM61.0 69.1h.6v.6h-.6zM43.3 78.4h.6v.6h-.6zM55.0 66.9h.6v.6h-.6zM50.5 65.7h.6v.6h-.6zM54.3 73.0h.6v.6h-.6zM67.1 69.6h.6v.6h-.6zM45.4 70.2h.6v.6h-.6zM72.3 51.0h.6v.6h-.6zM44.3 75.8h.6v.6h-.6zM46.2 64.7h.6v.6h-.6zM40.4 74.5h.6v.6h-.6zM51.2 63.8h.6v.6h-.6zM67.5 65.8h.6v.6h-.6zM57.7 64.9h.6v.6h-.6zM51.8 66.6h.6v.6h-.6zM62.3 49.8h.6v.6h-.6zM60.1 64.7h.6v.6h-.6zM44.0 78.6h.6v.6h-.6zM48.8 73.9h.6v.6h-.6zM50.5 61.5h.6v.6h-.6zM59.3 70.0h.6v.6h-.6zM82.2 52.9h.6v.6h-.6zM47.1 64.5h.6v.6h-.6zM70.5 50.8h.6v.6h-.6zM61.9 59.3h.6v.6h-.6zM45.9 80.3h.6v.6h-.6zM74.7 56.0h.6v.6h-.6zM60.4 76.5h.6v.6h-.6zM50.8 80.8h.6v.6h-.6zM48.4 63.3h.6v.6h-.6zM47.7 71.8h.6v.6h-.6zM56.9 84.0h.6v.6h-.6zM53.1 69.3h.6v.6h-.6zM63.6 68.6h.6v.6h-.6zM69.5 63.6h.6v.6h-.6zM47.1 72.2h.6v.6h-.6zM64.5 60.0h.6v.6h-.6zM64.6 67.0h.6v.6h-.6zM48.8 74.7h.6v.6h-.6zM52.4 75.6h.6v.6h-.6zM65.5 67.2h.6v.6h-.6zM62.9 59.8h.6v.6h-.6zM64.1 62.4h.6v.6h-.6zM45.8 77.5h.6v.6h-.6zM50.4 73.3h.6v.6h-.6zM77.1 48.7h.6v.6h-.6zM57.3 63.2h.6v.6h-.6zM59.2 81.0h.6v.6h-.6zM59.9 69.0h.6v.6h-.6zM54.8 70.4h.6v.6h-.6zM55.0 70.9h.6v.6h-.6zM67.4 62.9h.6v.6h-.6zM53.5 63.5h.6v.6h-.6zM44.2 71.1h.6v.6h-.6zM47.7 69.9h.6v.6h-.6zM47.4 75.1h.6v.6h-.6zM76.1 61.1h.6v.6h-.6zM69.1 59.5h.6v.6h-.6zM48.7 70.8h.6v.6h-.6zM77.2 52.7h.6v.6h-.6zM67.1 58.9h.6v.6h-.6zM56.1 75.9h.6v.6h-.6zM48.8 75.7h.6v.6h-.6zM56.5 70.5h.6v.6h-.6zM51.1 70.3h.6v.6h-.6zM44.5 83.6h.6v.6h-.6zM50.9 82.1h.6v.6h-.6zM39.6 76.0h.6v.6h-.6zM48.8 70.5h.6v.6h-.6zM64.0 56.1h.6v.6h-.6zM59.0 77.6h.6v.6h-.6zM46.4 87.7h.6v.6h-.6zM56.2 65.4h.6v.6h-.6zM60.1 64.8h.6v.6h-.6zM46.9 63.8h.6v.6h-.6zM58.3 59.3h.6v.6h-.6zM47.8 82.6h.6v.6h-.6zM43.4 79.1h.6v.6h-.6zM61.6 72.0h.6v.6h-.6zM44.3 73.2h.6v.6h-.6zM42.9 69.7h.6v.6h-.6zM53.1 67.3h.6v.6h-.6zM43.4 80.0h.6v.6h-.6zM75.7 58.7h.6v.6h-.6zM47.8 76.9h.6v.6h-.6zM63.2 70.3h.6v.6h-.6zM42.7 70.3h.6v.6h-.6zM49.7 73.7h.6v.6h-.6zM74.2 50.6h.6v.6h-.6zM44.2 69.5h.6v.6h-.6zM77.5 60.1h.6v.6h-.6zM48.7 68.2h.6v.6h-.6zM53.8 78.7h.6v.6h-.6zM67.9 61.5h.6v.6h-.6zM54.1 64.4h.6v.6h-.6zM71.8 58.8h.6v.6h-.6zM43.0 68.2h.6v.6h-.6zM51.6 74.8h.6v.6h-.6zM46.5 77.0h.6v.6h-.6zM48.5 73.5h.6v.6h-.6zM59.4 75.3h.6v.6h-.6zM65.0 63.0h.6v.6h-.6zM52.9 67.9h.6v.6h-.6zM72.0 55.2h.6v.6h-.6zM44.0 68.2h.6v.6h-.6zM46.5 75.7h.6v.6h-.6zM48.2 78.0h.6v.6h-.6zM48.3 73.3h.6v.6h-.6zM66.7 65.1h.6v.6h-.6zM47.7 75.2h.6v.6h-.6zM48.4 82.8h.6v.6h-.6zM52.5 74.3h.6v.6h-.6zM47.1 73.2h.6v.6h-.6zM56.5 64.2h.6v.6h-.6zM47.7 65.1h.6v.6h-.6zM52.7 64.9h.6v.6h-.6zM65.1 65.8h.6v.6h-.6zM55.6 63.0h.6v.6h-.6zM53.9 78.7h.6v.6h-.6zM73.2 59.7h.6v.6h-.6zM61.1 55.1h.6v.6h-.6zM57.2 70.3h.6v.6h-.6zM70.7 58.6h.6v.6h-.6zM46.7 83.7h.6v.6h-.6zM46.1 77.4h.6v.6h-.6zM69.2 56.4h.6v.6h-.6zM48.6 73.4h.6v.6h-.6zM46.2 66.0h.6v.6h-.6zM61.2 58.9h.6v.6h-.6zM54.1 69.4h.6v.6h-.6zM54.3 73.9h.6v.6h-.6zM74.7 52.5h.6v.6h-.6zM45.8 78.7h.6v.6h-.6zM37.8 64.4h.6v.6h-.6zM44.0 77.4h.6v.6h-.6zM41.9 75.8h.6v.6h-.6zM47.0 67.1h.6v.6h-.6zM49.3 76.1h.6v.6h-.6zM47.6 71.8h.6v.6h-.6zM48.6 80.2h.6v.6h-.6zM43.9 66.3h.6v.6h-.6zM54.5 70.3h.6v.6h-.6zM52.5 71.3h.6v.6h-.6zM49.1 81.7h.6v.6h-.6zM68.4 75.1h.6v.6h-.6zM47.7 70.6h.6v.6h-.6zM56.3 68.5h.6v.6h-.6zM49.2 72.8h.6v.6h-.6zM72.6 62.6h.6v.6h-.6zM67.5 61.8h.6v.6h-.6zM48.1 67.9h.6v.6h-.6zM54.7 66.6h.6v.6h-.6zM67.1 62.6h.6v.6h-.6zM51.8 71.2h.6v.6h-.6zM50.7 78.3h.6v.6h-.6zM52.5 70.1h.6v.6h-.6zM83.0 57.1h.6v.6h-.6zM45.8 77.4h.6v.6h-.6zM56.9 63.2h.6v.6h-.6zM68.9 61.7h.6v.6h-.6zM44.1 66.6h.6v.6h-.6zM79.9 55.8h.6v.6h-.6zM45.4 70.0h.6v.6h-.6zM64.7 57.7h.6v.6h-.6zM56.9 67.0h.6v.6h-.6zM47.2 69.9h.6v.6h-.6zM56.9 69.1h.6v.6h-.6zM44.1 79.1h.6v.6h-.6zM50.5 71.7h.6v.6h-.6zM62.5 75.6h.6v.6h-.6zM41.7 73.6h.6v.6h-.6zM80.0 42.7h.6v.6h-.6zM45.3 72.4h.6v.6h-.6zM45.3 68.9h.6v.6h-.6zM68.3 65.5h.6v.6h-.6zM52.6 66.9h.6v.6h-.6zM63.7 66.4h.6v.6h-.6zM48.7 65.1h.6v.6h-.6zM54.2 62.6h.6v.6h-.6zM61.4 61.2h.6v.6h-.6zM69.9 61.3h.6v.6h-.6zM66.5 62.4h.6v.6h-.6zM45.2 66.5h.6v.6h-.6zM74.0 66.2h.6v.6h-.6zM45.4 70.0h.6v.6h-.6zM47.7 74.8h.6v.6h-.6zM47.9 75.9h.6v.6h-.6zM64.0 58.6h.6v.6h-.6zM50.8 74.7h.6v.6h-.6zM48.6 70.7h.6v.6h-.6zM70.1 69.4h.6v.6h-.6zM56.3 56.9h.6v.6h-.6zM47.5 84.2h.6v.6h-.6zM50.9 69.0h.6v.6h-.6zM59.2 71.1h.6v.6h-.6zM42.5 71.9h.6v.6h-.6zM44.0 74.9h.6v.6h-.6zM46.6 79.2h.6v.6h-.6zM57.7 65.0h.6v.6h-.6zM47.1 69.2h.6v.6h-.6zM51.3 67.2h.6v.6h-.6zM58.3 63.6h.6v.6h-.6zM42.5 78.7h.6v.6h-.6zM54.6 64.4h.6v.6h-.6zM55.2 74.2h.6v.6h-.6zM56.6 70.5h.6v.6h-.6zM48.6 72.9h.6v.6h-.6zM58.8 62.4h.6v.6h-.6zM69.0 60.3h.6v.6h-.6zM75.6 45.9h.6v.6h-.6zM60.2 65.0h.6v.6h-.6zM48.3 79.5h.6v.6h-.6zM68.6 57.6h.6v.6h-.6zM65.7 56.8h.6v.6h-.6zM46.5 72.9h.6v.6h-.6zM76.3 54.7h.6v.6h-.6zM47.3 68.4h.6v.6h-.6zM83.6 42.6h.6v.6h-.6zM47.9 65.5h.6v.6h-.6zM54.8 69.6h.6v.6h-.6zM56.8 72.5h.6v.6h-.6zM43.2 77.9h.6v.6h-.6zM62.5 61.2h.6v.6h-.6zM53.6 73.2h.6v.6h-.6zM46.9 67.7h.6v.6h-.6zM54.9 68.2h.6v.6h-.6zM45.4 70.3h.6v.6h-.6zM58.5 60.4h.6v.6h-.6zM42.7 78.2h.6v.6h-.6zM56.1 74.8h.6v.6h-.6zM80.4 54.3h.6v.6h-.6zM54.4 70.2h.6v.6h-.6zM41.7 74.7h.6v.6h-.6zM54.1 72.0h.6v.6h-.6zM46.7 72.1h.6v.6h-.6zM57.5 75.8h.6v.6h-.6zM53.8 71.3h.6v.6h-.6zM71.4 65.3h.6v.6h-.6zM54.2 79.9h.6v.6h-.6zM77.1 50.7h.6v.6h-.6zM48.7 70.9h.6v.6h-.6zM60.2 70.9h.6v.6h-.6zM53.4 69.4h.6v.6h-.6zM51.2 74.7h.6v.6h-.6zM66.2 73.7h.6v.6h-.6zM71.8 60.5h.6v.6h-.6zM46.4 71.8h.6v.6h-.6zM45.6 73.5h.6v.6h-.6zM50.8 60.8h.6v.6h-.6zM43.7 76.6h.6v.6h-.6zM42.8 84.3h.6v.6h-.6zM45.5 65.2h.6v.6h-.6zM48.6 71.5h.6v.6h-.6zM75.1 58.6h.6v.6h-.6zM60.9 67.4h.6v.6h-.6zM69.5 53.6h.6v.6h-.6zM59.9 51.1h.6v.6h-.6zM46.3 73.2h.6v.6h-.6zM40.2 76.3h.6v.6h-.6zM44.0 75.0h.6v.6h-.6zM49.1 70.4h.6v.6h-.6zM46.1 67.9h.6v.6h-.6zM67.3 59.0h.6v.6h-.6zM51.8 66.7h.6v.6h-.6zM44.6 68.5h.6v.6h-.6zM53.9 69.1h.6v.6h-.6zM71.1 62.4h.6v.6h-.6zM52.5 64.5h.6v.6h-.6zM46.0 63.9h.6v.6h-.6zM68.4 54.9h.6v.6h-.6zM62.6 69.6h.6v.6h-.6zM79.7 53.2h.6v.6h-.6zM46.9 75.7h.6v.6h-.6zM51.6 73.1h.6v.6h-.6zM59.7 74.6h.6v.6h-.6zM52.6 68.0h.6v.6h-.6zM58.5 67.9h.6v.6h-.6zM57.4 72.2h.6v.6h-.6zM47.7 70.0h.6v.6h-.6zM59.8 61.4h.6v.6h-.6zM59.1 70.2h.6v.6h-.6zM45.9 81.2h.6v.6h-.6zM50.4 69.2h.6v.6h-.6zM47.7 75.4h.6v.6h-.6zM52.0 75.5h.6v.6h-.6zM46.4 75.4h.6v.6h-.6zM46.7 72.7h.6v.6h-.6zM48.2 68.8h.6v.6h-.6zM42.4 68.7h.6v.6h-.6zM56.5 74.7h.6v.6h-.6zM66.3 64.6h.6v.6h-.6zM62.9 67.6h.6v.6h-.6zM48.4 63.6h.6v.6h-.6zM45.4 79.0h.6v.6h-.6zM47.9 78.7h.6v.6h-.6zM58.6 70.0h.6v.6h-.6zM55.1 80.7h.6v.6h-.6zM62.6 65.8h.6v.6h-.6zM76.0 57.2h.6v.6h-.6zM49.2 67.8h.6v.6h-.6zM66.0 58.8h.6v.6h-.6zM70.9 59.9h.6v.6h-.6zM58.8 71.8h.6v.6h-.6zM46.8 78.1h.6v.6h-.6zM44.2 70.5h.6v.6h-.6zM54.1 74.3h.6v.6h-.6zM49.6 68.2h.6v.6h-.6zM50.3 71.6h.6v.6h-.6zM57.7 63.1h.6v.6h-.6zM45.6 63.1h.6v.6h-.6zM51.4 76.2h.6v.6h-.6zM59.0 66.7h.6v.6h-.6zM48.8 68.9h.6v.6h-.6zM52.0 71.5h.6v.6h-.6zM60.2 61.0h.6v.6h-.6zM44.7 70.1h.6v.6h-.6zM74.8 42.7h.6v.6h-.6zM52.9 66.6h.6v.6h-.6zM46.9 77.5h.6v.6h-.6zM41.6 71.7h.6v.6h-.6zM59.5 73.6h.6v.6h-.6zM44.7 81.1h.6v.6h-.6zM47.5 75.7h.6v.6h-.6zM48.9 68.5h.6v.6h-.6zM49.1 73.8h.6v.6h-.6zM53.4 72.0h.6v.6h-.6zM46.4 74.9h.6v.6h-.6zM47.2 77.9h.6v.6h-.6zM46.7 75.4h.6v.6h-.6zM54.3 62.0h.6v.6h-.6zM57.0 67.0h.6v.6h-.6zM67.7 62.2h.6v.6h-.6zM55.8 62.7h.6v.6h-.6zM42.3 67.0h.6v.6h-.6zM43.9 74.0h.6v.6h-.6zM40.9 77.0h.6v.6h-.6zM59.9 61.7h.6v.6h-.6zM40.9 74.7h.6v.6h-.6zM56.8 65.3h.6v.6h-.6zM43.7 68.5h.6v.6h-.6zM58.4 69.8h.6v.6h-.6zM45.1 75.4h.6v.6h-.6zM47.0 63.6h.6v.6h-.6zM47.8 63.9h.6v.6h-.6zM52.0 71.2h.6v.6h-.6zM50.7 66.8h.6v.6h-.6zM46.5 69.7h.6v.6h-.6zM52.6 82.9h.6v.6h-.6zM47.2 65.3h.6v.6h-.6zM42.3 82.4h.6v.6h-.6zM48.7 69.2h.6v.6h-.6zM53.6 65.5h.6v.6h-.6zM40.2 78.6h.6v.6h-.6zM48.7 71.9h.6v.6h-.6zM59.7 64.0h.6v.6h-.6zM62.8 69.8h.6v.6h-.6zM43.5 82.2h.6v.6h-.6zM72.5 61.0h.6v.6h-.6zM52.8 66.3h.6v.6h-.6zM54.4 63.7h.6v.6h-.6zM47.9 70.8h.6v.6h-.6zM46.4 77.8h.6v.6h-.6zM51.2 73.2h.6v.6h-.6zM45.5 74.9h.6v.6h-.6zM41.8 79.3h.6v.6h-.6zM40.7 63.6h.6v.6h-.6zM44.0 76.6h.6v.6h-.6zM47.9 72.9h.6v.6h-.6zM51.2 73.8h.6v.6h-.6zM51.8 74.7h.6v.6h-.6zM52.8 67.7h.6v.6h-.6zM61.9 58.5h.6v.6h-.6zM56.4 59.1h.6v.6h-.6zM52.1 72.9h.6v.6h-.6zM49.6 67.7h.6v.6h-.6zM46.5 73.7h.6v.6h-.6zM57.6 57.6h.6v.6h-.6zM47.1 73.9h.6v.6h-.6zM50.4 76.6h.6v.6h-.6zM53.5 67.9h.6v.6h-.6zM82.9 57.6h.6v.6h-.6zM68.1 55.4h.6v.6h-.6zM47.1 70.1h.6v.6h-.6zM49.9 72.8h.6v.6h-.6zM47.3 72.9h.6v.6h-.6zM52.9 73.7h.6v.6h-.6zM63.7 64.6h.6v.6h-.6zM47.7 78.9h.6v.6h-.6zM51.4 81.6h.6v.6h-.6zM57.5 68.2h.6v.6h-.6zM49.0 76.5h.6v.6h-.6zM58.7 71.8h.6v.6h-.6zM45.0 68.7h.6v.6h-.6zM41.3 79.2h.6v.6h-.6zM63.3 66.6h.6v.6h-.6zM52.2 62.8h.6v.6h-.6zM55.1 67.5h.6v.6h-.6zM46.8 66.2h.6v.6h-.6zM49.9 73.9h.6v.6h-.6zM53.6 78.3h.6v.6h-.6zM50.2 72.1h.6v.6h-.6zM47.2 71.2h.6v.6h-.6zM83.7 59.1h.6v.6h-.6zM41.1 77.1h.6v.6h-.6zM41.5 75.9h.6v.6h-.6zM50.4 76.4h.6v.6h-.6zM41.8 73.3h.6v.6h-.6zM55.7 75.6h.6v.6h-.6zM66.4 50.3h.6v.6h-.6zM48.9 73.8h.6v.6h-.6zM54.4 65.2h.6v.6h-.6zM60.9 71.2h.6v.6h-.6zM48.1 66.8h.6v.6h-.6zM48.7 64.1h.6v.6h-.6zM58.9 67.6h.6v.6h-.6zM55.4 62.7h.6v.6h-.6zM53.1 57.3h.6v.6h-.6zM69.4 58.8h.6v.6h-.6zM47.0 80.8h.6v.6h-.6zM64.3 71.5h.6v.6h-.6zM53.2 77.4h.6v.6h-.6zM62.4 55.6h.6v.6h-.6zM48.0 72.4h.6v.6h-.6zM50.7 65.7h.6v.6h-.6zM43.2 75.0h.6v.6h-.6zM47.4 64.3h.6v.6h-.6zM55.1 71.9h.6v.6h-.6zM48.5 73.1h.6v.6h-.6zM46.5 78.9h.6v.6h-.6zM72.7 63.4h.6v.6h-.6zM49.9 70.4h.6v.6h-.6zM59.6 60.9h.6v.6h-.6zM78.9 58.4h.6v.6h-.6zM59.5 66.1h.6v.6h-.6zM46.8 70.6h.6v.6h-.6zM42.2 79.2h.6v.6h-.6zM52.3 61.0h.6v.6h-.6zM54.8 66.9h.6v.6h-.6zM43.6 69.5h.6v.6h-.6zM50.5 71.3h.6v.6h-.6zM68.5 62.3h.6v.6h-.6zM42.7 72.9h.6v.6h-.6zM52.8 76.2h.6v.6h-.6zM47.0 68.6h.6v.6h-.6zM49.6 68.3h.6v.6h-.6zM54.3 70.2h.6v.6h-.6zM46.4 74.3h.6v.6h-.6zM47.9 72.7h.6v.6h-.6zM60.3 61.9h.6v.6h-.6zM50.9 70.7h.6v.6h-.6zM46.8 75.2h.6v.6h-.6zM49.5 68.0h.6v.6h-.6zM50.2 68.7h.6v.6h-.6zM45.2 77.1h.6v.6h-.6zM50.3 83.8h.6v.6h-.6zM44.2 74.9h.6v.6h-.6zM56.2 63.8h.6v.6h-.6zM52.3 76.0h.6v.6h-.6zM51.9 70.8h.6v.6h-.6zM42.5 69.6h.6v.6h-.6zM61.3 67.3h.6v.6h-.6zM51.2 72.0h.6v.6h-.6zM49.2 76.8h.6v.6h-.6zM78.6 52.4h.6v.6h-.6zM52.6 78.3h.6v.6h-.6zM62.4 66.3h.6v.6h-.6zM55.8 71.7h.6v.6h-.6zM76.4 51.2h.6v.6h-.6zM60.9 72.4h.6v.6h-.6zM52.3 69.6h.6v.6h-.6zM57.3 63.3h.6v.6h-.6zM50.0 73.8h.6v.6h-.6zM61.5 70.4h.6v.6h-.6zM62.1 70.3h.6v.6h-.6zM69.6 62.7h.6v.6h-.6zM44.0 65.4h.6v.6h-.6zM54.7 64.5h.6v.6h-.6zM45.7 74.2h.6v.6h-.6zM63.5 63.5h.6v.6h-.6zM72.1 53.9h.6v.6h-.6zM66.5 64.0h.6v.6h-.6zM47.3 76.5h.6v.6h-.6zM57.8 56.5h.6v.6h-.6zM61.2 56.2h.6v.6h-.6zM62.0 69.8h.6v.6h-.6zM48.7 65.1h.6v.6h-.6zM65.7 69.9h.6v.6h-.6zM52.4 78.1h.6v.6h-.6zM54.8 62.3h.6v.6h-.6zM54.8 69.9h.6v.6h-.6zM68.4 65.1h.6v.6h-.6zM47.5 65.7h.6v.6h-.6zM60.0 56.3h.6v.6h-.6zM49.8 81.7h.6v.6h-.6zM37.8 72.4h.6v.6h-.6zM48.0 64.3h.6v.6h-.6zM54.2 75.8h.6v.6h-.6zM69.3 62.2h.6v.6h-.6zM80.9 56.2h.6v.6h-.6zM51.7 71.5h.6v.6h-.6zM48.0 66.7h.6v.6h-.6zM78.2 46.4h.6v.6h-.6zM50.0 73.9h.6v.6h-.6zM45.2 74.3h.6v.6h-.6zM84.8 42.2h.6v.6h-.6zM52.9 63.5h.6v.6h-.6zM57.6 64.0h.6v.6h-.6zM47.1 69.2h.6v.6h-.6zM54.8 68.8h.6v.6h-.6zM62.4 72.6h.6v.6h-.6zM58.4 68.5h.6v.6h-.6zM57.4 72.3h.6v.6h-.6zM62.9 64.8h.6v.6h-.6zM57.1 70.4h.6v.6h-.6zM47.6 69.9h.6v.6h-.6zM59.7 72.8h.6v.6h-.6zM53.5 67.1h.6v.6h-.6zM56.6 56.6h.6v.6h-.6zM44.7 78.0h.6v.6h-.6zM54.4 65.0h.6v.6h-.6zM54.6 51.3h.6v.6h-.6zM70.7 57.4h.6v.6h-.6zM59.6 56.3h.6v.6h-.6zM62.1 61.3h.6v.6h-.6zM63.3 53.9h.6v.6h-.6zM64.7 56.1h.6v.6h-.6zM67.7 46.6h.6v.6h-.6zM60.0 52.7h.6v.6h-.6zM55.9 57.5h.6v.6h-.6zM67.6 48.9h.6v.6h-.6zM60.9 50.9h.6v.6h-.6zM58.5 54.4h.6v.6h-.6zM65.5 53.1h.6v.6h-.6zM66.0 50.4h.6v.6h-.6zM62.9 52.1h.6v.6h-.6zM48.9 57.1h.6v.6h-.6zM74.3 61.0h.6v.6h-.6zM61.3 58.8h.6v.6h-.6zM53.0 56.0h.6v.6h-.6zM65.0 60.8h.6v.6h-.6zM69.7 47.8h.6v.6h-.6zM68.8 59.8h.6v.6h-.6zM64.1 55.1h.6v.6h-.6zM64.6 54.3h.6v.6h-.6zM50.8 51.8h.6v.6h-.6zM45.1 54.7h.6v.6h-.6zM69.3 56.7h.6v.6h-.6zM63.1 51.7h.6v.6h-.6zM63.0 50.4h.6v.6h-.6zM52.2 56.6h.6v.6h-.6zM71.9 61.7h.6v.6h-.6zM57.9 59.9h.6v.6h-.6zM66.6 59.8h.6v.6h-.6zM53.0 51.7h.6v.6h-.6zM48.5 52.5h.6v.6h-.6zM63.0 53.0h.6v.6h-.6zM64.8 63.3h.6v.6h-.6zM54.7 52.7h.6v.6h-.6zM76.5 60.1h.6v.6h-.6zM58.4 58.4h.6v.6h-.6zM70.2 50.9h.6v.6h-.6zM68.6 56.8h.6v.6h-.6zM53.0 61.0h.6v.6h-.6zM64.7 57.9h.6v.6h-.6zM56.6 56.0h.6v.6h-.6zM63.1 59.8h.6v.6h-.6zM61.1 48.5h.6v.6h-.6zM67.9 52.6h.6v.6h-.6zM57.4 55.1h.6v.6h-.6zM65.3 58.2h.6v.6h-.6zM66.6 60.5h.6v.6h-.6zM68.8 52.1h.6v.6h-.6zM57.0 55.1h.6v.6h-.6zM66.3 60.4h.6v.6h-.6zM66.6 60.1h.6v.6h-.6zM68.6 52.1h.6v.6h-.6zM47.7 50.7h.6v.6h-.6zM50.3 53.3h.6v.6h-.6zM49.9 56.5h.6v.6h-.6zM58.6 44.0h.6v.6h-.6zM54.0 61.3h.6v.6h-.6zM59.1 53.9h.6v.6h-.6zM60.2 59.5h.6v.6h-.6zM68.2 61.6h.6v.6h-.6zM67.3 53.0h.6v.6h-.6zM58.7 48.2h.6v.6h-.6zM60.7 47.2h.6v.6h-.6zM51.0 62.3h.6v.6h-.6zM58.0 51.9h.6v.6h-.6zM60.4 54.7h.6v.6h-.6zM58.6 48.6h.6v.6h-.6zM73.6 52.5h.6v.6h-.6zM46.4 56.1h.6v.6h-.6zM58.0 57.2h.6v.6h-.6zM61.6 54.7h.6v.6h-.6zM66.8 50.2h.6v.6h-.6zM63.9 53.8h.6v.6h-.6zM51.3 53.5h.6v.6h-.6zM55.7 60.3h.6v.6h-.6zM64.6 52.1h.6v.6h-.6zM62.4 49.2h.6v.6h-.6zM68.5 56.7h.6v.6h-.6zM65.2 50.7h.6v.6h-.6zM60.4 60.7h.6v.6h-.6zM59.6 60.7h.6v.6h-.6zM66.0 53.1h.6v.6h-.6zM57.5 53.0h.6v.6h-.6zM60.1 57.8h.6v.6h-.6zM68.7 47.5h.6v.6h-.6zM59.1 59.5h.6v.6h-.6zM64.5 60.8h.6v.6h-.6zM46.1 55.9h.6v.6h-.6zM56.9 55.3h.6v.6h-.6zM61.8 52.0h.6v.6h-.6zM65.0 51.0h.6v.6h-.6zM60.8 56.6h.6v.6h-.6zM62.1 56.3h.6v.6h-.6zM56.6 52.2h.6v.6h-.6zM61.3 59.5h.6v.6h-.6zM66.4 53.2h.6v.6h-.6zM56.0 59.3h.6v.6h-.6zM53.4 50.4h.6v.6h-.6zM67.8 56.4h.6v.6h-.6zM72.8 57.7h.6v.6h-.6zM70.3 59.4h.6v.6h-.6zM57.8 53.6h.6v.6h-.6zM60.2 55.1h.6v.6h-.6zM59.2 55.5h.6v.6h-.6zM65.2 59.9h.6v.6h-.6zM66.7 50.9h.6v.6h-.6zM48.9 87.5h.6v.6h-.6zM72.4 77.6h.6v.6h-.6zM69.9 74.7h.6v.6h-.6zM48.1 90.8h.6v.6h-.6zM50.7 77.4h.6v.6h-.6zM47.4 81.8h.6v.6h-.6zM56.8 72.4h.6v.6h-.6zM50.4 80.6h.6v.6h-.6zM49.2 86.4h.6v.6h-.6zM67.3 72.2h.6v.6h-.6zM64.7 79.7h.6v.6h-.6zM62.7 70.7h.6v.6h-.6zM45.9 83.8h.6v.6h-.6zM70.0 82.8h.6v.6h-.6zM46.7 79.4h.6v.6h-.6zM56.8 77.2h.6v.6h-.6zM68.5 80.2h.6v.6h-.6zM57.5 83.1h.6v.6h-.6zM47.7 80.1h.6v.6h-.6zM57.9 78.7h.6v.6h-.6zM71.2 73.6h.6v.6h-.6zM60.7 81.8h.6v.6h-.6zM46.6 84.4h.6v.6h-.6zM53.9 80.2h.6v.6h-.6zM49.7 75.9h.6v.6h-.6zM53.5 70.5h.6v.6h-.6zM48.1 70.0h.6v.6h-.6zM78.7 73.5h.6v.6h-.6zM60.2 80.1h.6v.6h-.6zM74.7 77.4h.6v.6h-.6zM66.7 74.4h.6v.6h-.6zM64.2 77.7h.6v.6h-.6zM58.0 71.6h.6v.6h-.6zM65.3 75.7h.6v.6h-.6zM61.3 69.9h.6v.6h-.6zM63.7 78.9h.6v.6h-.6zM55.9 71.2h.6v.6h-.6zM59.5 82.5h.6v.6h-.6zM58.5 77.2h.6v.6h-.6zM49.0 83.9h.6v.6h-.6zM57.5 79.9h.6v.6h-.6zM55.6 70.4h.6v.6h-.6zM63.0 69.0h.6v.6h-.6zM55.1 84.2h.6v.6h-.6zM51.6 81.7h.6v.6h-.6zM47.8 85.1h.6v.6h-.6zM60.1 88.4h.6v.6h-.6zM74.4 76.5h.6v.6h-.6zM54.1 87.7h.6v.6h-.6zM49.5 79.3h.6v.6h-.6zM47.3 77.2h.6v.6h-.6zM48.0 81.7h.6v.6h-.6zM53.9 79.5h.6v.6h-.6zM57.2 79.6h.6v.6h-.6zM46.0 85.6h.6v.6h-.6zM59.8 81.8h.6v.6h-.6zM61.6 83.6h.6v.6h-.6zM46.0 79.0h.6v.6h-.6zM64.5 72.1h.6v.6h-.6zM47.7 83.3h.6v.6h-.6zM48.8 84.9h.6v.6h-.6zM58.1 79.3h.6v.6h-.6zM73.7 74.5h.6v.6h-.6zM66.9 85.3h.6v.6h-.6zM62.8 78.9h.6v.6h-.6zM47.9 74.9h.6v.6h-.6zM50.0 77.2h.6v.6h-.6zM60.4 86.0h.6v.6h-.6zM54.3 83.4h.6v.6h-.6zM51.6 71.8h.6v.6h-.6zM70.2 69.0h.6v.6h-.6zM48.1 82.6h.6v.6h-.6zM49.1 78.3h.6v.6h-.6zM58.0 80.2h.6v.6h-.6zM64.0 69.8h.6v.6h-.6zM56.3 77.8h.6v.6h-.6zM50.2 81.5h.6v.6h-.6zM68.2 77.9h.6v.6h-.6zM65.6 75.8h.6v.6h-.6zM59.8 76.7h.6v.6h-.6zM65.2 78.3h.6v.6h-.6zM50.5 83.5h.6v.6h-.6zM63.1 72.2h.6v.6h-.6zM56.4 73.8h.6v.6h-.6zM53.3 79.5h.6v.6h-.6zM46.4 75.0h.6v.6h-.6zM46.4 79.5h.6v.6h-.6zM55.6 91.2h.6v.6h-.6zM56.3 80.7h.6v.6h-.6zM60.5 74.1h.6v.6h-.6zM48.6 77.4h.6v.6h-.6zM51.7 75.6h.6v.6h-.6zM54.4 72.7h.6v.6h-.6zM52.9 77.4h.6v.6h-.6zM57.4 81.6h.6v.6h-.6zM53.9 83.8h.6v.6h-.6zM54.4 82.8h.6v.6h-.6zM48.9 69.2h.6v.6h-.6zM48.3 81.6h.6v.6h-.6zM78.2 67.0h.6v.6h-.6zM76.7 72.5h.6v.6h-.6zM56.7 77.2h.6v.6h-.6zM62.8 73.9h.6v.6h-.6zM51.9 72.2h.6v.6h-.6zM57.6 76.8h.6v.6h-.6zM51.0 79.2h.6v.6h-.6zM49.2 82.5h.6v.6h-.6zM61.5 76.4h.6v.6h-.6zM62.7 70.8h.6v.6h-.6zM62.9 83.9h.6v.6h-.6zM53.4 87.5h.6v.6h-.6zM72.9 71.1h.6v.6h-.6zM56.7 70.4h.6v.6h-.6zM59.3 85.8h.6v.6h-.6zM58.0 81.4h.6v.6h-.6zM84.2 60.8h.6v.6h-.6zM61.0 85.8h.6v.6h-.6zM55.2 84.2h.6v.6h-.6zM57.8 73.9h.6v.6h-.6zM66.9 61.4h.6v.6h-.6zM50.5 87.5h.6v.6h-.6zM69.6 70.4h.6v.6h-.6zM62.8 76.6h.6v.6h-.6zM46.3 84.6h.6v.6h-.6zM56.6 84.0h.6v.6h-.6zM59.0 75.9h.6v.6h-.6zM63.7 77.4h.6v.6h-.6zM51.9 78.4h.6v.6h-.6zM52.6 82.1h.6v.6h-.6zM50.7 78.5h.6v.6h-.6zM48.6 79.1h.6v.6h-.6zM65.0 74.5h.6v.6h-.6zM48.1 71.8h.6v.6h-.6zM70.7 70.0h.6v.6h-.6zM46.4 74.6h.6v.6h-.6zM58.6 81.0h.6v.6h-.6zM54.6 69.9h.6v.6h-.6zM63.0 86.4h.6v.6h-.6zM50.4 80.5h.6v.6h-.6zM52.1 78.9h.6v.6h-.6zM51.5 72.2h.6v.6h-.6zM67.4 71.7h.6v.6h-.6zM57.7 86.4h.6v.6h-.6zM50.0 80.0h.6v.6h-.6zM57.4 68.6h.6v.6h-.6zM55.8 82.6h.6v.6h-.6zM59.4 85.9h.6v.6h-.6zM51.8 76.5h.6v.6h-.6zM52.7 78.5h.6v.6h-.6zM66.3 83.3h.6v.6h-.6zM50.7 66.1h.6v.6h-.6zM46.3 87.5h.6v.6h-.6zM48.1 76.6h.6v.6h-.6zM59.6 79.0h.6v.6h-.6zM60.9 83.2h.6v.6h-.6zM47.6 84.9h.6v.6h-.6zM59.4 79.8h.6v.6h-.6zM45.8 77.3h.6v.6h-.6zM55.6 79.0h.6v.6h-.6zM48.9 75.9h.6v.6h-.6zM45.6 82.9h.6v.6h-.6zM49.1 77.3h.6v.6h-.6zM51.4 74.1h.6v.6h-.6zM59.9 71.5h.6v.6h-.6zM52.2 84.3h.6v.6h-.6zM49.8 69.9h.6v.6h-.6zM53.8 71.0h.6v.6h-.6zM57.1 67.1h.6v.6h-.6zM49.1 72.9h.6v.6h-.6zM49.5 69.2h.6v.6h-.6zM49.7 72.1h.6v.6h-.6zM45.4 74.0h.6v.6h-.6zM54.6 86.3h.6v.6h-.6zM48.8 79.9h.6v.6h-.6zM55.6 73.0h.6v.6h-.6zM46.6 69.6h.6v.6h-.6zM54.1 73.7h.6v.6h-.6zM62.8 82.8h.6v.6h-.6zM46.3 77.9h.6v.6h-.6zM58.3 81.3h.6v.6h-.6zM59.3 78.1h.6v.6h-.6zM48.7 79.7h.6v.6h-.6zM62.3 73.9h.6v.6h-.6zM63.4 74.2h.6v.6h-.6zM55.7 75.3h.6v.6h-.6zM63.6 71.1h.6v.6h-.6zM51.2 78.9h.6v.6h-.6zM64.8 80.3h.6v.6h-.6zM57.6 79.9h.6v.6h-.6zM48.9 70.9h.6v.6h-.6zM57.4 80.1h.6v.6h-.6zM49.4 81.4h.6v.6h-.6zM50.8 75.8h.6v.6h-.6zM52.8 83.0h.6v.6h-.6zM57.3 80.4h.6v.6h-.6zM60.6 86.3h.6v.6h-.6zM50.8 67.1h.6v.6h-.6zM55.5 81.6h.6v.6h-.6zM59.8 70.2h.6v.6h-.6zM67.1 74.8h.6v.6h-.6zM78.5 73.5h.6v.6h-.6zM53.3 86.3h.6v.6h-.6zM56.1 78.5h.6v.6h-.6zM59.0 72.1h.6v.6h-.6zM73.7 76.5h.6v.6h-.6zM64.8 77.6h.6v.6h-.6zM50.1 85.6h.6v.6h-.6zM52.8 63.6h.6v.6h-.6zM71.2 73.2h.6v.6h-.6zM60.7 59.5h.6v.6h-.6zM51.0 80.4h.6v.6h-.6zM61.8 75.5h.6v.6h-.6zM50.1 74.6h.6v.6h-.6zM52.0 80.9h.6v.6h-.6zM50.0 80.3h.6v.6h-.6zM52.8 84.3h.6v.6h-.6zM55.3 85.5h.6v.6h-.6zM54.0 78.6h.6v.6h-.6zM48.9 78.5h.6v.6h-.6zM59.3 72.3h.6v.6h-.6zM51.7 85.6h.6v.6h-.6zM49.8 78.9h.6v.6h-.6zM49.1 78.4h.6v.6h-.6zM53.6 81.7h.6v.6h-.6zM52.1 75.4h.6v.6h-.6zM53.9 76.9h.6v.6h-.6zM54.6 78.0h.6v.6h-.6zM46.4 85.8h.6v.6h-.6zM47.6 74.2h.6v.6h-.6zM52.5 72.1h.6v.6h-.6zM64.8 71.5h.6v.6h-.6zM56.5 73.5h.6v.6h-.6zM69.5 69.1h.6v.6h-.6zM50.3 83.3h.6v.6h-.6zM67.5 71.3h.6v.6h-.6zM55.1 87.8h.6v.6h-.6zM47.5 85.4h.6v.6h-.6zM52.4 78.8h.6v.6h-.6zM47.7 79.4h.6v.6h-.6zM49.0 83.4h.6v.6h-.6zM55.2 91.0h.6v.6h-.6zM63.0 77.9h.6v.6h-.6zM60.8 70.9h.6v.6h-.6zM63.2 75.7h.6v.6h-.6zM48.6 74.7h.6v.6h-.6zM67.5 72.5h.6v.6h-.6zM53.2 78.7h.6v.6h-.6zM76.2 68.5h.6v.6h-.6zM56.3 85.0h.6v.6h-.6zM49.6 76.0h.6v.6h-.6zM48.7 79.3h.6v.6h-.6zM67.4 77.1h.6v.6h-.6zM54.6 81.2h.6v.6h-.6zM52.8 77.3h.6v.6h-.6zM55.0 78.8h.6v.6h-.6zM59.8 76.0h.6v.6h-.6zM61.1 57.2h.6v.6h-.6zM54.3 82.3h.6v.6h-.6zM52.9 79.8h.6v.6h-.6zM49.1 78.9h.6v.6h-.6zM68.9 78.8h.6v.6h-.6zM70.5 63.4h.6v.6h-.6zM49.9 86.5h.6v.6h-.6zM51.3 75.8h.6v.6h-.6zM51.0 73.8h.6v.6h-.6zM57.2 71.6h.6v.6h-.6zM58.9 78.9h.6v.6h-.6zM48.0 76.5h.6v.6h-.6zM70.8 77.3h.6v.6h-.6zM51.1 71.3h.6v.6h-.6zM51.2 85.8h.6v.6h-.6zM47.1 79.2h.6v.6h-.6zM49.7 89.7h.6v.6h-.6zM56.7 79.8h.6v.6h-.6zM68.9 71.5h.6v.6h-.6zM54.0 76.8h.6v.6h-.6zM49.8 69.0h.6v.6h-.6zM46.6 79.1h.6v.6h-.6zM69.4 66.7h.6v.6h-.6zM70.8 69.6h.6v.6h-.6zM80.9 82.0h.6v.6h-.6zM54.8 72.1h.6v.6h-.6zM59.0 79.9h.6v.6h-.6zM52.1 81.8h.6v.6h-.6zM46.6 78.8h.6v.6h-.6zM65.5 74.2h.6v.6h-.6zM55.7 74.1h.6v.6h-.6zM50.4 89.4h.6v.6h-.6zM59.4 79.8h.6v.6h-.6zM59.8 82.3h.6v.6h-.6zM54.8 68.2h.6v.6h-.6zM61.7 75.1h.6v.6h-.6zM47.3 74.1h.6v.6h-.6zM52.0 85.0h.6v.6h-.6zM76.1 70.0h.6v.6h-.6zM66.5 70.2h.6v.6h-.6zM55.9 78.2h.6v.6h-.6zM58.9 77.7h.6v.6h-.6zM51.1 78.6h.6v.6h-.6zM53.8 87.2h.6v.6h-.6zM53.3 83.9h.6v.6h-.6zM55.1 79.1h.6v.6h-.6zM51.9 82.3h.6v.6h-.6zM49.8 77.6h.6v.6h-.6zM64.7 67.2h.6v.6h-.6zM57.7 77.0h.6v.6h-.6zM45.9 67.5h.6v.6h-.6zM76.1 76.8h.6v.6h-.6zM46.0 78.2h.6v.6h-.6zM47.3 69.6h.6v.6h-.6zM56.1 78.3h.6v.6h-.6zM50.4 75.5h.6v.6h-.6zM47.0 79.6h.6v.6h-.6zM61.3 78.8h.6v.6h-.6zM66.2 68.0h.6v.6h-.6zM49.3 88.3h.6v.6h-.6zM49.4 77.6h.6v.6h-.6zM47.4 82.2h.6v.6h-.6zM60.7 81.1h.6v.6h-.6zM65.6 74.2h.6v.6h-.6zM54.8 82.1h.6v.6h-.6zM64.7 66.4h.6v.6h-.6zM63.2 67.8h.6v.6h-.6zM55.0 79.2h.6v.6h-.6zM69.0 70.0h.6v.6h-.6zM66.2 71.2h.6v.6h-.6zM46.8 80.5h.6v.6h-.6zM47.6 83.8h.6v.6h-.6zM61.4 83.5h.6v.6h-.6zM50.0 90.3h.6v.6h-.6zM67.9 82.3h.6v.6h-.6zM62.6 81.2h.6v.6h-.6zM66.9 70.0h.6v.6h-.6zM51.3 74.4h.6v.6h-.6zM45.6 74.2h.6v.6h-.6zM61.8 73.9h.6v.6h-.6zM63.6 77.1h.6v.6h-.6zM55.5 74.2h.6v.6h-.6zM62.0 79.9h.6v.6h-.6zM46.2 78.1h.6v.6h-.6zM46.4 80.7h.6v.6h-.6zM51.4 69.6h.6v.6h-.6zM84.1 71.1h.6v.6h-.6zM55.0 78.4h.6v.6h-.6zM61.3 76.9h.6v.6h-.6zM57.4 69.8h.6v.6h-.6zM61.9 81.3h.6v.6h-.6zM46.7 83.1h.6v.6h-.6zM46.1 86.4h.6v.6h-.6zM56.1 87.4h.6v.6h-.6zM49.9 84.7h.6v.6h-.6zM55.6 75.8h.6v.6h-.6zM52.2 77.9h.6v.6h-.6zM54.0 71.0h.6v.6h-.6zM64.6 68.1h.6v.6h-.6zM53.0 86.3h.6v.6h-.6zM57.6 73.0h.6v.6h-.6zM54.8 80.4h.6v.6h-.6zM47.1 81.1h.6v.6h-.6zM58.2 72.4h.6v.6h-.6zM62.2 81.8h.6v.6h-.6zM50.1 84.5h.6v.6h-.6zM52.3 80.4h.6v.6h-.6zM52.3 84.6h.6v.6h-.6zM47.4 91.0h.6v.6h-.6zM49.8 74.0h.6v.6h-.6zM64.1 73.3h.6v.6h-.6zM45.7 74.0h.6v.6h-.6zM47.2 76.8h.6v.6h-.6zM68.5 73.1h.6v.6h-.6zM46.9 79.6h.6v.6h-.6zM47.6 81.4h.6v.6h-.6zM59.7 86.5h.6v.6h-.6zM62.9 81.3h.6v.6h-.6zM63.9 73.9h.6v.6h-.6zM46.9 84.2h.6v.6h-.6zM54.4 75.7h.6v.6h-.6zM51.4 85.3h.6v.6h-.6zM55.5 76.1h.6v.6h-.6zM56.5 77.4h.6v.6h-.6zM53.7 71.2h.6v.6h-.6zM75.8 69.5h.6v.6h-.6zM54.9 89.8h.6v.6h-.6zM55.7 64.1h.6v.6h-.6zM48.8 79.7h.6v.6h-.6zM54.9 74.8h.6v.6h-.6zM61.4 73.4h.6v.6h-.6zM62.4 83.2h.6v.6h-.6zM54.0 74.3h.6v.6h-.6zM54.1 69.8h.6v.6h-.6zM75.4 70.9h.6v.6h-.6zM49.9 78.9h.6v.6h-.6zM58.8 80.6h.6v.6h-.6zM49.8 87.6h.6v.6h-.6zM47.4 84.5h.6v.6h-.6zM52.0 83.8h.6v.6h-.6zM50.9 75.7h.6v.6h-.6zM61.9 71.2h.6v.6h-.6zM46.7 82.2h.6v.6h-.6zM62.9 78.7h.6v.6h-.6zM59.7 81.3h.6v.6h-.6zM56.0 80.7h.6v.6h-.6zM45.8 77.7h.6v.6h-.6zM61.1 72.3h.6v.6h-.6zM46.9 87.2h.6v.6h-.6zM47.9 85.1h.6v.6h-.6zM48.8 69.5h.6v.6h-.6zM63.8 78.3h.6v.6h-.6zM51.9 81.4h.6v.6h-.6zM64.0 70.8h.6v.6h-.6zM51.7 72.0h.6v.6h-.6zM52.5 83.5h.6v.6h-.6zM45.7 83.3h.6v.6h-.6zM60.8 68.7h.6v.6h-.6zM57.3 77.0h.6v.6h-.6zM49.8 86.3h.6v.6h-.6zM57.7 74.8h.6v.6h-.6zM55.9 87.2h.6v.6h-.6zM45.6 73.2h.6v.6h-.6zM54.8 85.5h.6v.6h-.6zM66.0 73.5h.6v.6h-.6zM49.4 74.4h.6v.6h-.6zM49.1 78.1h.6v.6h-.6zM69.1 78.7h.6v.6h-.6zM58.0 69.9h.6v.6h-.6zM47.0 86.8h.6v.6h-.6zM51.7 82.9h.6v.6h-.6zM48.8 66.7h.6v.6h-.6zM49.7 81.3h.6v.6h-.6zM48.2 86.9h.6v.6h-.6zM46.3 76.6h.6v.6h-.6zM54.7 63.2h.6v.6h-.6zM55.4 82.5h.6v.6h-.6zM56.2 83.6h.6v.6h-.6zM46.0 89.4h.6v.6h-.6zM64.2 69.9h.6v.6h-.6zM47.2 74.3h.6v.6h-.6zM54.6 74.9h.6v.6h-.6zM53.1 85.7h.6v.6h-.6zM53.8 72.9h.6v.6h-.6zM55.4 78.3h.6v.6h-.6zM55.8 68.4h.6v.6h-.6zM54.8 86.5h.6v.6h-.6zM75.1 71.9h.6v.6h-.6zM58.0 77.8h.6v.6h-.6zM48.2 86.0h.6v.6h-.6zM54.9 81.4h.6v.6h-.6zM49.1 79.9h.6v.6h-.6zM50.7 78.3h.6v.6h-.6zM50.7 70.8h.6v.6h-.6zM51.0 84.3h.6v.6h-.6zM70.8 72.1h.6v.6h-.6zM61.1 75.1h.6v.6h-.6zM52.1 70.0h.6v.6h-.6zM57.4 84.5h.6v.6h-.6zM68.8 74.8h.6v.6h-.6zM70.5 74.5h.6v.6h-.6zM69.2 71.1h.6v.6h-.6zM49.9 82.9h.6v.6h-.6zM53.6 83.6h.6v.6h-.6zM63.5 79.0h.6v.6h-.6zM63.2 69.6h.6v.6h-.6zM68.6 64.1h.6v.6h-.6zM72.0 72.3h.6v.6h-.6zM64.4 78.1h.6v.6h-.6zM58.0 62.9h.6v.6h-.6zM66.0 69.5h.6v.6h-.6zM63.9 72.4h.6v.6h-.6zM73.5 72.7h.6v.6h-.6zM47.9 86.5h.6v.6h-.6zM60.2 74.1h.6v.6h-.6zM53.0 83.8h.6v.6h-.6zM56.9 75.6h.6v.6h-.6zM50.1 85.0h.6v.6h-.6zM52.1 75.2h.6v.6h-.6zM51.5 79.0h.6v.6h-.6zM75.1 77.0h.6v.6h-.6zM59.3 76.7h.6v.6h-.6zM65.8 61.1h.6v.6h-.6zM64.1 73.4h.6v.6h-.6zM65.5 77.4h.6v.6h-.6zM48.4 80.1h.6v.6h-.6zM50.0 73.2h.6v.6h-.6zM74.3 69.2h.6v.6h-.6zM46.8 84.5h.6v.6h-.6zM55.0 83.0h.6v.6h-.6zM47.2 82.9h.6v.6h-.6zM75.2 67.9h.6v.6h-.6zM53.3 73.1h.6v.6h-.6zM58.8 88.9h.6v.6h-.6zM52.4 72.3h.6v.6h-.6zM56.1 84.4h.6v.6h-.6zM56.2 78.3h.6v.6h-.6zM54.6 81.3h.6v.6h-.6zM60.3 78.5h.6v.6h-.6zM72.8 71.1h.6v.6h-.6zM73.1 76.2h.6v.6h-.6zM60.8 70.8h.6v.6h-.6zM51.1 77.0h.6v.6h-.6zM57.7 78.2h.6v.6h-.6zM54.9 63.2h.6v.6h-.6zM66.1 82.3h.6v.6h-.6zM54.1 77.2h.6v.6h-.6zM47.7 78.5h.6v.6h-.6zM57.9 71.0h.6v.6h-.6zM63.5 74.1h.6v.6h-.6zM65.8 66.4h.6v.6h-.6zM48.4 73.7h.6v.6h-.6zM73.6 68.1h.6v.6h-.6zM50.2 79.1h.6v.6h-.6zM59.6 76.0h.6v.6h-.6zM58.7 72.6h.6v.6h-.6zM46.6 77.2h.6v.6h-.6zM62.3 78.8h.6v.6h-.6zM46.0 76.1h.6v.6h-.6zM47.7 88.4h.6v.6h-.6zM61.9 79.2h.6v.6h-.6zM59.8 72.5h.6v.6h-.6zM63.9 67.3h.6v.6h-.6zM83.7 69.6h.6v.6h-.6zM55.0 83.5h.6v.6h-.6zM65.2 75.3h.6v.6h-.6zM47.7 80.4h.6v.6h-.6zM51.2 70.4h.6v.6h-.6zM77.5 75.5h.6v.6h-.6zM58.2 70.5h.6v.6h-.6zM52.1 87.3h.6v.6h-.6zM49.2 79.7h.6v.6h-.6zM56.3 86.5h.6v.6h-.6zM47.7 83.7h.6v.6h-.6zM53.5 67.0h.6v.6h-.6zM50.3 78.6h.6v.6h-.6zM47.6 83.3h.6v.6h-.6zM49.5 87.4h.6v.6h-.6zM48.0 79.0h.6v.6h-.6zM65.8 77.4h.6v.6h-.6zM47.1 70.6h.6v.6h-.6zM60.1 77.3h.6v.6h-.6zM51.3 77.7h.6v.6h-.6zM52.2 82.1h.6v.6h-.6zM61.3 75.4h.6v.6h-.6zM74.0 70.8h.6v.6h-.6zM68.1 73.1h.6v.6h-.6zM63.3 78.9h.6v.6h-.6zM64.2 83.1h.6v.6h-.6zM52.8 83.6h.6v.6h-.6zM58.6 83.0h.6v.6h-.6zM45.6 75.0h.6v.6h-.6zM48.4 71.8h.6v.6h-.6zM73.9 66.0h.6v.6h-.6zM55.3 71.7h.6v.6h-.6zM64.1 78.1h.6v.6h-.6zM48.5 79.1h.6v.6h-.6zM46.5 78.8h.6v.6h-.6zM70.0 71.9h.6v.6h-.6zM51.5 79.3h.6v.6h-.6zM53.1 72.3h.6v.6h-.6zM70.7 63.7h.6v.6h-.6zM48.9 76.4h.6v.6h-.6zM49.0 82.1h.6v.6h-.6zM59.9 79.5h.6v.6h-.6zM48.3 87.2h.6v.6h-.6zM62.5 78.8h.6v.6h-.6zM67.4 84.8h.6v.6h-.6zM64.8 71.1h.6v.6h-.6zM63.5 71.6h.6v.6h-.6zM52.2 83.4h.6v.6h-.6zM45.8 80.0h.6v.6h-.6zM54.9 84.2h.6v.6h-.6zM49.7 88.8h.6v.6h-.6zM46.3 82.9h.6v.6h-.6zM84.5 67.4h.6v.6h-.6zM52.3 64.9h.6v.6h-.6zM47.0 79.1h.6v.6h-.6zM59.3 78.5h.6v.6h-.6zM61.2 68.7h.6v.6h-.6zM51.0 81.8h.6v.6h-.6zM51.6 80.7h.6v.6h-.6zM57.7 78.5h.6v.6h-.6zM46.0 86.2h.6v.6h-.6zM49.0 88.8h.6v.6h-.6zM47.1 74.8h.6v.6h-.6zM46.7 79.9h.6v.6h-.6zM58.6 79.0h.6v.6h-.6zM57.3 86.5h.6v.6h-.6zM61.6 76.8h.6v.6h-.6zM67.9 78.1h.6v.6h-.6z" fill="#000" opacity="0.4"/>
<path d="M37.4 58.5 C41.4 57.5 45.9 61 49.9 66.5 C52.9 70.5 52.9 76 49.9 80.5 C46.9 84.5 45.4 89 37.4 89 Z" fill="#000" opacity="0.7" filter="url(#blur1)"/>
<path d="M31.0 89.3 C30.0 80 30.599999999999998 66 34.199999999999996 60 C36.4 56 39.9 55.5 41.9 58 C44.4 61.5 46.4 70 46.9 77.5 C47.4 85 44.4 89.3 31.0 89.3 Z" fill="#000" filter="url(#blur1)"/>
<path d="M31.599999999999998 88.5 C31.0 80 31.5 67 34.9 61.5 C36.9 58.2 39.599999999999994 57.8 41.4 60.2 C43.9 63.5 45.4 70.5 45.4 77.5 C45.4 84.5 42.9 88.5 31.599999999999998 88.5 Z" fill="#000"/>
<path d="M28.0 60V91.5H52.4" stroke="#000" stroke-width="0.8" stroke-dasharray="0.6 0.9" opacity="0.5" fill="none"/>
<polygon points="61.7,42.5 78.6,45.6 75.4,56.9 71.8,61.9 62.4,64.4 53.6,63.1 48.6,56.9 49.9,50.6" fill="none" stroke="#3a3a3a" stroke-width="0.6"/>
<text font-size="7.24" text-anchor="start" fill="#231f20" stroke="#231f20" stroke-width="0.13" transform="translate(16.5 41.9) scale(0.87 1)">10<tspan dy="-0.48em" font-size="0.7em">5</tspan></text>
<text font-size="7.24" text-anchor="start" fill="#231f20" stroke="#231f20" stroke-width="0.13" transform="translate(16.5 54.6) scale(0.87 1)">10<tspan dy="-0.48em" font-size="0.7em">4</tspan></text>
<text font-size="7.24" text-anchor="start" fill="#231f20" stroke="#231f20" stroke-width="0.13" transform="translate(16.5 68.6) scale(0.87 1)">10<tspan dy="-0.48em" font-size="0.7em">3</tspan></text>
<text font-size="7.24" text-anchor="start" fill="#231f20" stroke="#231f20" stroke-width="0.13" transform="translate(16.5 82.6) scale(0.87 1)">10<tspan dy="-0.48em" font-size="0.7em">2</tspan></text>
<text font-size="7.24" text-anchor="start" fill="#231f20" stroke="#231f20" stroke-width="0.13" transform="translate(37.099999999999994 99.5) scale(0.87 1)">10<tspan dy="-0.48em" font-size="0.7em">2</tspan></text>
<text font-size="7.24" text-anchor="start" fill="#231f20" stroke="#231f20" stroke-width="0.13" transform="translate(50.3 99.5) scale(0.87 1)">10<tspan dy="-0.48em" font-size="0.7em">3</tspan></text>
<text font-size="7.24" text-anchor="start" fill="#231f20" stroke="#231f20" stroke-width="0.13" transform="translate(64.1 99.5) scale(0.87 1)">10<tspan dy="-0.48em" font-size="0.7em">4</tspan></text>
<text font-size="7.24" text-anchor="start" fill="#231f20" stroke="#231f20" stroke-width="0.13" transform="translate(77.9 99.5) scale(0.87 1)">10<tspan dy="-0.48em" font-size="0.7em">5</tspan></text>
<rect x="105.2" y="32.5" width="59.499999999999986" height="59.7" fill="none" stroke="#9a9a9a" stroke-width="0.6"/>
<g filter="url(#blur2)"><ellipse cx="121.2" cy="77" rx="11" ry="12" fill="#000" opacity="0.45" transform="rotate(-25 121.2 77)"/><ellipse cx="135.2" cy="71" rx="16" ry="7" fill="#000" opacity="0.16" transform="rotate(-25 135.2 71)"/></g>
<path d="M117.1 69.8h.6v.6h-.6zM114.3 56.2h.6v.6h-.6zM124.3 78.3h.6v.6h-.6zM114.7 81.7h.6v.6h-.6zM117.5 69.2h.6v.6h-.6zM120.6 69.1h.6v.6h-.6zM114.7 69.1h.6v.6h-.6zM118.2 72.3h.6v.6h-.6zM118.7 68.0h.6v.6h-.6zM116.8 67.0h.6v.6h-.6zM120.0 73.5h.6v.6h-.6zM117.7 76.8h.6v.6h-.6zM111.7 83.8h.6v.6h-.6zM125.5 55.2h.6v.6h-.6zM108.4 67.6h.6v.6h-.6zM120.0 73.0h.6v.6h-.6zM121.1 77.0h.6v.6h-.6zM117.1 76.1h.6v.6h-.6zM115.4 82.0h.6v.6h-.6zM111.1 74.5h.6v.6h-.6zM117.3 88.2h.6v.6h-.6zM112.8 68.2h.6v.6h-.6zM113.7 83.9h.6v.6h-.6zM115.1 85.8h.6v.6h-.6zM107.8 89.1h.6v.6h-.6zM120.9 60.0h.6v.6h-.6zM116.9 83.8h.6v.6h-.6zM116.6 82.2h.6v.6h-.6zM126.9 69.6h.6v.6h-.6zM114.9 69.2h.6v.6h-.6zM119.1 71.0h.6v.6h-.6zM115.4 74.2h.6v.6h-.6zM119.1 64.0h.6v.6h-.6zM109.3 59.6h.6v.6h-.6zM121.6 71.5h.6v.6h-.6zM123.0 69.9h.6v.6h-.6zM112.9 80.5h.6v.6h-.6zM115.9 64.7h.6v.6h-.6zM117.8 76.8h.6v.6h-.6zM115.0 69.8h.6v.6h-.6zM120.2 71.0h.6v.6h-.6zM112.8 75.7h.6v.6h-.6zM112.1 78.7h.6v.6h-.6zM121.3 64.4h.6v.6h-.6zM122.6 64.9h.6v.6h-.6zM116.9 67.3h.6v.6h-.6zM115.2 75.5h.6v.6h-.6zM114.2 70.2h.6v.6h-.6zM113.1 70.0h.6v.6h-.6zM109.1 77.1h.6v.6h-.6zM118.0 80.6h.6v.6h-.6zM117.6 69.9h.6v.6h-.6zM124.6 60.5h.6v.6h-.6zM120.6 64.0h.6v.6h-.6zM117.8 57.7h.6v.6h-.6zM120.2 70.5h.6v.6h-.6zM111.8 90.8h.6v.6h-.6zM119.6 72.6h.6v.6h-.6zM112.8 76.4h.6v.6h-.6zM115.5 80.8h.6v.6h-.6zM119.8 66.8h.6v.6h-.6zM113.7 71.9h.6v.6h-.6zM110.1 73.8h.6v.6h-.6zM115.8 80.3h.6v.6h-.6zM122.1 64.1h.6v.6h-.6zM118.7 69.3h.6v.6h-.6zM125.5 67.9h.6v.6h-.6zM118.5 65.5h.6v.6h-.6zM112.6 78.5h.6v.6h-.6zM114.5 78.5h.6v.6h-.6zM109.2 84.5h.6v.6h-.6zM112.2 91.0h.6v.6h-.6zM114.9 84.1h.6v.6h-.6zM109.9 82.1h.6v.6h-.6zM112.2 73.3h.6v.6h-.6zM116.3 71.9h.6v.6h-.6zM117.4 79.7h.6v.6h-.6zM119.1 71.8h.6v.6h-.6zM110.1 72.2h.6v.6h-.6zM115.3 58.1h.6v.6h-.6zM119.6 70.3h.6v.6h-.6zM115.1 82.8h.6v.6h-.6zM119.2 74.3h.6v.6h-.6zM111.7 80.0h.6v.6h-.6zM117.8 66.4h.6v.6h-.6zM120.9 75.4h.6v.6h-.6zM107.3 81.4h.6v.6h-.6zM110.5 87.4h.6v.6h-.6zM119.8 63.3h.6v.6h-.6zM112.2 78.0h.6v.6h-.6zM115.1 87.4h.6v.6h-.6zM119.5 70.0h.6v.6h-.6zM118.8 56.5h.6v.6h-.6zM117.6 80.5h.6v.6h-.6zM115.4 69.4h.6v.6h-.6zM118.7 88.5h.6v.6h-.6zM117.1 64.9h.6v.6h-.6zM122.7 55.1h.6v.6h-.6zM118.5 68.3h.6v.6h-.6zM120.4 64.9h.6v.6h-.6zM122.2 72.9h.6v.6h-.6zM108.4 63.9h.6v.6h-.6zM114.8 85.8h.6v.6h-.6zM116.8 74.7h.6v.6h-.6zM115.1 81.1h.6v.6h-.6zM117.9 75.6h.6v.6h-.6zM111.8 87.0h.6v.6h-.6zM122.3 60.0h.6v.6h-.6zM126.6 73.4h.6v.6h-.6zM114.0 60.7h.6v.6h-.6zM119.2 77.0h.6v.6h-.6zM113.5 62.0h.6v.6h-.6zM121.3 66.4h.6v.6h-.6zM125.8 75.7h.6v.6h-.6zM114.2 81.1h.6v.6h-.6zM112.8 66.5h.6v.6h-.6zM109.1 83.4h.6v.6h-.6zM116.6 75.5h.6v.6h-.6zM120.0 65.2h.6v.6h-.6zM110.6 64.0h.6v.6h-.6zM114.7 81.6h.6v.6h-.6zM115.5 80.1h.6v.6h-.6zM110.9 74.3h.6v.6h-.6zM112.8 66.8h.6v.6h-.6zM124.6 75.7h.6v.6h-.6zM112.8 70.7h.6v.6h-.6zM115.9 63.1h.6v.6h-.6zM118.2 62.8h.6v.6h-.6zM114.5 67.4h.6v.6h-.6zM114.0 65.3h.6v.6h-.6zM109.1 71.5h.6v.6h-.6zM113.1 74.2h.6v.6h-.6zM116.5 86.5h.6v.6h-.6zM119.9 70.0h.6v.6h-.6zM119.5 66.8h.6v.6h-.6zM122.7 74.6h.6v.6h-.6zM110.1 84.6h.6v.6h-.6zM119.9 50.6h.6v.6h-.6zM112.8 73.0h.6v.6h-.6zM107.5 71.7h.6v.6h-.6zM111.9 81.4h.6v.6h-.6zM114.4 84.9h.6v.6h-.6zM116.6 76.4h.6v.6h-.6zM111.0 62.7h.6v.6h-.6zM112.7 82.9h.6v.6h-.6zM123.3 74.6h.6v.6h-.6zM118.4 66.3h.6v.6h-.6zM123.1 80.6h.6v.6h-.6zM113.8 75.7h.6v.6h-.6zM111.7 89.2h.6v.6h-.6zM118.0 72.5h.6v.6h-.6zM118.0 76.8h.6v.6h-.6zM114.3 65.8h.6v.6h-.6zM110.4 64.4h.6v.6h-.6zM118.3 90.9h.6v.6h-.6zM108.6 80.7h.6v.6h-.6zM118.0 65.4h.6v.6h-.6zM117.1 65.1h.6v.6h-.6zM121.6 66.1h.6v.6h-.6zM116.7 79.7h.6v.6h-.6zM114.3 61.5h.6v.6h-.6zM113.8 82.2h.6v.6h-.6zM115.8 76.6h.6v.6h-.6zM111.3 78.9h.6v.6h-.6zM119.5 72.6h.6v.6h-.6zM124.8 67.1h.6v.6h-.6zM111.5 64.7h.6v.6h-.6zM121.4 70.6h.6v.6h-.6zM120.8 75.1h.6v.6h-.6zM123.5 79.8h.6v.6h-.6zM114.5 77.8h.6v.6h-.6zM121.1 61.4h.6v.6h-.6zM122.7 79.8h.6v.6h-.6zM120.6 69.9h.6v.6h-.6zM117.6 64.7h.6v.6h-.6zM116.5 69.6h.6v.6h-.6zM116.6 70.3h.6v.6h-.6zM117.5 83.1h.6v.6h-.6zM110.3 85.8h.6v.6h-.6zM107.2 63.2h.6v.6h-.6zM115.7 74.9h.6v.6h-.6zM118.2 60.0h.6v.6h-.6zM115.9 75.7h.6v.6h-.6zM121.8 69.9h.6v.6h-.6zM118.6 65.1h.6v.6h-.6zM115.4 71.5h.6v.6h-.6zM119.4 64.5h.6v.6h-.6zM112.4 81.6h.6v.6h-.6zM124.3 72.2h.6v.6h-.6zM117.6 70.8h.6v.6h-.6zM121.1 75.6h.6v.6h-.6zM124.0 71.9h.6v.6h-.6zM111.9 72.8h.6v.6h-.6zM111.8 67.5h.6v.6h-.6zM121.9 77.2h.6v.6h-.6zM117.3 66.1h.6v.6h-.6zM117.9 72.8h.6v.6h-.6zM112.7 61.3h.6v.6h-.6zM116.4 76.7h.6v.6h-.6zM119.0 68.9h.6v.6h-.6zM116.7 71.9h.6v.6h-.6zM112.4 74.1h.6v.6h-.6zM122.3 58.8h.6v.6h-.6zM117.3 75.3h.6v.6h-.6zM113.0 73.1h.6v.6h-.6zM109.9 71.9h.6v.6h-.6zM116.3 77.1h.6v.6h-.6zM113.6 77.2h.6v.6h-.6zM115.2 72.0h.6v.6h-.6zM122.1 66.8h.6v.6h-.6zM122.2 79.6h.6v.6h-.6zM111.5 85.9h.6v.6h-.6zM114.5 68.1h.6v.6h-.6zM107.6 69.9h.6v.6h-.6zM113.6 68.3h.6v.6h-.6zM110.7 72.6h.6v.6h-.6zM115.3 86.7h.6v.6h-.6zM108.5 75.2h.6v.6h-.6zM111.9 65.2h.6v.6h-.6zM110.5 71.1h.6v.6h-.6zM119.4 70.8h.6v.6h-.6zM113.8 81.0h.6v.6h-.6zM117.5 71.9h.6v.6h-.6zM117.9 66.7h.6v.6h-.6zM119.0 76.4h.6v.6h-.6zM114.3 66.0h.6v.6h-.6zM123.0 70.7h.6v.6h-.6zM129.9 60.1h.6v.6h-.6zM120.0 68.5h.6v.6h-.6zM117.3 80.4h.6v.6h-.6zM112.6 76.1h.6v.6h-.6zM116.9 74.9h.6v.6h-.6zM118.9 80.9h.6v.6h-.6zM120.0 74.1h.6v.6h-.6zM114.6 66.5h.6v.6h-.6zM112.9 72.5h.6v.6h-.6zM119.3 69.5h.6v.6h-.6zM110.6 83.2h.6v.6h-.6zM112.6 70.8h.6v.6h-.6zM115.2 79.0h.6v.6h-.6zM117.0 71.1h.6v.6h-.6zM112.3 72.8h.6v.6h-.6zM122.4 66.7h.6v.6h-.6zM119.4 78.7h.6v.6h-.6zM114.2 79.4h.6v.6h-.6zM114.2 71.0h.6v.6h-.6zM111.1 84.9h.6v.6h-.6zM114.4 71.3h.6v.6h-.6zM119.5 71.2h.6v.6h-.6zM113.1 64.3h.6v.6h-.6zM117.5 75.9h.6v.6h-.6zM109.9 88.0h.6v.6h-.6zM119.7 64.5h.6v.6h-.6zM113.7 72.7h.6v.6h-.6zM116.9 72.9h.6v.6h-.6zM117.6 83.6h.6v.6h-.6zM121.8 69.1h.6v.6h-.6zM117.7 79.4h.6v.6h-.6zM119.7 70.9h.6v.6h-.6zM113.4 76.6h.6v.6h-.6zM112.6 72.5h.6v.6h-.6zM107.1 81.3h.6v.6h-.6zM111.6 73.1h.6v.6h-.6zM116.0 77.2h.6v.6h-.6zM124.7 70.5h.6v.6h-.6zM109.8 79.8h.6v.6h-.6zM113.5 79.5h.6v.6h-.6zM113.1 70.9h.6v.6h-.6zM113.9 71.0h.6v.6h-.6zM108.0 74.6h.6v.6h-.6zM116.1 84.1h.6v.6h-.6zM114.9 72.4h.6v.6h-.6zM118.8 77.1h.6v.6h-.6zM123.4 74.4h.6v.6h-.6zM116.1 85.3h.6v.6h-.6zM123.1 66.1h.6v.6h-.6zM116.9 60.6h.6v.6h-.6zM114.6 68.5h.6v.6h-.6zM115.2 71.3h.6v.6h-.6zM115.5 74.2h.6v.6h-.6zM118.4 74.9h.6v.6h-.6zM113.7 65.9h.6v.6h-.6zM121.8 82.1h.6v.6h-.6zM114.2 80.4h.6v.6h-.6zM109.3 66.6h.6v.6h-.6zM115.0 87.1h.6v.6h-.6zM111.5 71.0h.6v.6h-.6zM123.4 54.5h.6v.6h-.6zM119.1 76.5h.6v.6h-.6zM115.3 76.6h.6v.6h-.6zM128.0 57.6h.6v.6h-.6zM114.8 73.5h.6v.6h-.6zM113.1 65.8h.6v.6h-.6zM123.4 71.5h.6v.6h-.6zM108.3 74.2h.6v.6h-.6zM118.0 76.5h.6v.6h-.6zM109.7 78.1h.6v.6h-.6zM117.4 76.9h.6v.6h-.6zM118.0 58.7h.6v.6h-.6zM124.5 70.6h.6v.6h-.6zM115.5 65.1h.6v.6h-.6zM120.1 70.5h.6v.6h-.6zM114.2 67.6h.6v.6h-.6zM123.8 65.9h.6v.6h-.6zM109.9 75.1h.6v.6h-.6zM111.0 79.2h.6v.6h-.6zM114.3 67.3h.6v.6h-.6zM118.9 67.5h.6v.6h-.6zM119.5 82.4h.6v.6h-.6zM114.6 70.4h.6v.6h-.6zM117.1 81.0h.6v.6h-.6zM116.2 75.6h.6v.6h-.6zM116.1 77.1h.6v.6h-.6zM119.0 67.0h.6v.6h-.6zM114.0 76.3h.6v.6h-.6zM113.2 77.6h.6v.6h-.6zM118.6 72.7h.6v.6h-.6zM113.5 70.1h.6v.6h-.6zM124.1 76.3h.6v.6h-.6zM111.2 71.1h.6v.6h-.6zM124.6 81.0h.6v.6h-.6zM116.8 83.4h.6v.6h-.6zM109.5 79.0h.6v.6h-.6zM119.5 57.4h.6v.6h-.6zM112.7 83.1h.6v.6h-.6zM121.3 66.4h.6v.6h-.6zM117.5 86.4h.6v.6h-.6zM114.5 65.0h.6v.6h-.6zM115.9 71.5h.6v.6h-.6zM122.1 71.9h.6v.6h-.6zM113.9 79.8h.6v.6h-.6zM119.2 78.7h.6v.6h-.6zM117.0 78.7h.6v.6h-.6zM115.9 63.4h.6v.6h-.6zM115.2 73.6h.6v.6h-.6zM115.4 76.1h.6v.6h-.6zM113.4 87.0h.6v.6h-.6zM123.3 52.2h.6v.6h-.6zM116.2 68.8h.6v.6h-.6zM113.4 73.4h.6v.6h-.6zM113.3 85.2h.6v.6h-.6zM121.8 73.0h.6v.6h-.6zM119.3 71.5h.6v.6h-.6zM116.8 68.1h.6v.6h-.6zM116.4 68.7h.6v.6h-.6zM117.9 80.0h.6v.6h-.6zM117.6 83.0h.6v.6h-.6zM128.3 49.6h.6v.6h-.6zM116.3 69.9h.6v.6h-.6zM114.1 65.0h.6v.6h-.6zM116.4 72.3h.6v.6h-.6zM113.4 74.4h.6v.6h-.6zM113.5 57.5h.6v.6h-.6zM121.0 68.8h.6v.6h-.6zM111.9 79.8h.6v.6h-.6zM113.2 59.1h.6v.6h-.6zM120.2 58.4h.6v.6h-.6zM115.2 76.1h.6v.6h-.6zM122.3 80.0h.6v.6h-.6zM116.9 67.9h.6v.6h-.6zM114.3 84.4h.6v.6h-.6zM124.2 73.5h.6v.6h-.6zM113.3 84.7h.6v.6h-.6zM114.5 72.4h.6v.6h-.6zM114.9 80.1h.6v.6h-.6zM117.4 81.6h.6v.6h-.6zM122.0 74.7h.6v.6h-.6zM116.9 73.5h.6v.6h-.6zM125.9 67.8h.6v.6h-.6zM115.5 82.5h.6v.6h-.6zM121.0 69.4h.6v.6h-.6zM118.3 64.0h.6v.6h-.6zM112.0 87.2h.6v.6h-.6zM109.9 86.1h.6v.6h-.6zM119.3 78.6h.6v.6h-.6zM120.3 76.3h.6v.6h-.6zM106.6 72.9h.6v.6h-.6zM113.5 83.6h.6v.6h-.6zM111.1 72.2h.6v.6h-.6zM114.6 86.1h.6v.6h-.6zM109.7 68.0h.6v.6h-.6zM119.0 55.6h.6v.6h-.6zM117.7 69.9h.6v.6h-.6zM109.1 75.9h.6v.6h-.6zM111.7 78.8h.6v.6h-.6zM117.8 85.3h.6v.6h-.6zM116.1 75.3h.6v.6h-.6zM113.6 76.0h.6v.6h-.6zM120.9 55.9h.6v.6h-.6zM119.2 68.2h.6v.6h-.6zM116.5 76.9h.6v.6h-.6zM120.0 73.9h.6v.6h-.6zM114.4 78.2h.6v.6h-.6zM116.3 72.8h.6v.6h-.6zM117.1 80.9h.6v.6h-.6zM116.8 75.3h.6v.6h-.6zM110.4 77.3h.6v.6h-.6zM107.8 85.8h.6v.6h-.6zM112.0 87.7h.6v.6h-.6zM129.7 62.3h.6v.6h-.6zM122.2 73.7h.6v.6h-.6zM113.7 69.4h.6v.6h-.6zM118.7 84.0h.6v.6h-.6zM117.8 61.3h.6v.6h-.6zM111.5 75.8h.6v.6h-.6zM122.3 72.7h.6v.6h-.6zM117.7 83.2h.6v.6h-.6zM115.3 74.4h.6v.6h-.6zM115.4 60.8h.6v.6h-.6zM118.3 76.4h.6v.6h-.6zM120.6 62.1h.6v.6h-.6zM112.5 84.4h.6v.6h-.6zM117.7 84.5h.6v.6h-.6zM112.3 78.7h.6v.6h-.6zM113.2 79.0h.6v.6h-.6zM114.0 80.2h.6v.6h-.6zM121.1 76.7h.6v.6h-.6zM108.1 87.4h.6v.6h-.6zM118.2 64.8h.6v.6h-.6zM112.2 77.2h.6v.6h-.6zM118.8 69.2h.6v.6h-.6zM108.9 81.6h.6v.6h-.6zM124.1 71.7h.6v.6h-.6zM123.7 70.3h.6v.6h-.6zM120.6 65.7h.6v.6h-.6zM116.6 66.1h.6v.6h-.6zM109.1 77.1h.6v.6h-.6zM113.2 81.1h.6v.6h-.6zM121.9 69.3h.6v.6h-.6zM116.5 75.8h.6v.6h-.6zM108.6 81.7h.6v.6h-.6zM116.3 74.1h.6v.6h-.6zM111.2 61.9h.6v.6h-.6zM115.1 77.8h.6v.6h-.6zM122.2 79.5h.6v.6h-.6zM122.7 73.1h.6v.6h-.6zM121.4 69.4h.6v.6h-.6zM119.0 80.1h.6v.6h-.6zM128.3 68.4h.6v.6h-.6zM110.5 89.3h.6v.6h-.6zM112.6 76.4h.6v.6h-.6zM114.9 68.1h.6v.6h-.6zM122.2 75.3h.6v.6h-.6zM113.4 76.9h.6v.6h-.6zM114.3 80.7h.6v.6h-.6zM114.5 69.5h.6v.6h-.6zM113.3 72.9h.6v.6h-.6zM117.5 66.3h.6v.6h-.6zM115.8 78.3h.6v.6h-.6zM126.7 74.3h.6v.6h-.6zM114.4 78.3h.6v.6h-.6zM123.3 75.7h.6v.6h-.6zM116.7 77.5h.6v.6h-.6zM122.3 61.7h.6v.6h-.6zM121.2 58.0h.6v.6h-.6zM116.4 77.4h.6v.6h-.6zM126.5 62.0h.6v.6h-.6zM108.6 85.1h.6v.6h-.6zM113.2 89.0h.6v.6h-.6zM113.0 69.6h.6v.6h-.6zM121.8 71.4h.6v.6h-.6zM120.7 60.1h.6v.6h-.6zM123.6 64.8h.6v.6h-.6zM119.9 64.0h.6v.6h-.6zM109.2 77.1h.6v.6h-.6zM117.0 86.6h.6v.6h-.6zM117.8 79.2h.6v.6h-.6zM112.5 87.0h.6v.6h-.6zM115.5 77.0h.6v.6h-.6zM113.7 85.4h.6v.6h-.6zM110.6 67.7h.6v.6h-.6zM115.3 65.9h.6v.6h-.6zM119.4 79.8h.6v.6h-.6zM112.8 83.0h.6v.6h-.6zM113.2 76.1h.6v.6h-.6zM116.2 89.5h.6v.6h-.6zM116.2 67.2h.6v.6h-.6zM112.1 86.9h.6v.6h-.6zM108.7 75.7h.6v.6h-.6zM114.5 56.0h.6v.6h-.6zM114.1 83.9h.6v.6h-.6zM117.2 66.6h.6v.6h-.6zM119.3 76.6h.6v.6h-.6zM125.3 62.5h.6v.6h-.6zM114.5 76.0h.6v.6h-.6zM115.6 75.6h.6v.6h-.6zM115.7 69.3h.6v.6h-.6zM109.0 74.8h.6v.6h-.6zM109.9 70.3h.6v.6h-.6zM113.7 80.2h.6v.6h-.6zM120.0 63.6h.6v.6h-.6zM117.5 79.9h.6v.6h-.6zM115.9 61.4h.6v.6h-.6zM106.4 87.2h.6v.6h-.6zM120.2 73.9h.6v.6h-.6zM111.4 89.2h.6v.6h-.6zM121.6 70.4h.6v.6h-.6zM115.1 59.4h.6v.6h-.6zM119.5 59.2h.6v.6h-.6zM119.1 78.2h.6v.6h-.6zM116.5 86.7h.6v.6h-.6zM114.6 80.1h.6v.6h-.6zM119.7 74.0h.6v.6h-.6zM114.2 85.5h.6v.6h-.6zM118.0 71.6h.6v.6h-.6zM115.3 75.9h.6v.6h-.6zM126.4 68.4h.6v.6h-.6zM115.0 66.6h.6v.6h-.6zM110.6 62.9h.6v.6h-.6zM117.1 73.9h.6v.6h-.6zM111.5 65.6h.6v.6h-.6zM114.6 71.1h.6v.6h-.6zM110.1 80.8h.6v.6h-.6zM116.7 73.5h.6v.6h-.6zM119.5 66.8h.6v.6h-.6zM122.2 62.2h.6v.6h-.6zM118.4 77.9h.6v.6h-.6zM114.9 77.9h.6v.6h-.6zM110.3 66.2h.6v.6h-.6zM115.2 69.1h.6v.6h-.6zM118.7 72.8h.6v.6h-.6zM118.8 75.0h.6v.6h-.6zM117.0 74.5h.6v.6h-.6zM114.4 71.7h.6v.6h-.6zM125.2 54.1h.6v.6h-.6zM115.2 82.9h.6v.6h-.6zM117.9 84.3h.6v.6h-.6zM118.5 62.6h.6v.6h-.6zM114.6 64.1h.6v.6h-.6zM120.5 82.9h.6v.6h-.6zM114.1 80.0h.6v.6h-.6zM114.2 64.0h.6v.6h-.6zM114.0 63.0h.6v.6h-.6zM113.5 77.7h.6v.6h-.6zM119.3 82.5h.6v.6h-.6zM114.5 77.2h.6v.6h-.6zM117.9 77.5h.6v.6h-.6zM119.6 62.9h.6v.6h-.6zM117.1 80.2h.6v.6h-.6zM107.4 78.4h.6v.6h-.6zM117.0 73.6h.6v.6h-.6zM109.1 81.6h.6v.6h-.6zM113.4 82.5h.6v.6h-.6zM117.9 68.5h.6v.6h-.6zM116.7 68.1h.6v.6h-.6zM112.8 63.6h.6v.6h-.6zM114.8 81.3h.6v.6h-.6zM116.4 73.6h.6v.6h-.6zM113.0 71.8h.6v.6h-.6zM119.2 59.9h.6v.6h-.6zM125.1 67.4h.6v.6h-.6zM125.6 76.9h.6v.6h-.6zM113.9 81.2h.6v.6h-.6zM116.9 76.9h.6v.6h-.6zM119.3 67.2h.6v.6h-.6zM113.0 72.5h.6v.6h-.6zM109.6 76.0h.6v.6h-.6zM116.7 75.3h.6v.6h-.6zM116.6 70.2h.6v.6h-.6zM119.2 55.1h.6v.6h-.6zM113.9 72.4h.6v.6h-.6zM119.7 76.5h.6v.6h-.6zM119.2 71.5h.6v.6h-.6zM119.9 62.9h.6v.6h-.6zM115.9 56.7h.6v.6h-.6zM123.3 81.4h.6v.6h-.6zM112.8 68.8h.6v.6h-.6zM116.1 72.1h.6v.6h-.6zM108.9 74.2h.6v.6h-.6zM112.5 79.5h.6v.6h-.6zM118.7 69.9h.6v.6h-.6zM116.1 73.4h.6v.6h-.6zM115.2 80.0h.6v.6h-.6zM107.3 85.4h.6v.6h-.6zM112.7 77.8h.6v.6h-.6zM121.0 58.3h.6v.6h-.6zM109.7 85.7h.6v.6h-.6zM110.4 69.5h.6v.6h-.6zM118.3 70.4h.6v.6h-.6zM119.1 73.9h.6v.6h-.6zM115.5 81.8h.6v.6h-.6zM125.4 66.4h.6v.6h-.6zM122.2 78.4h.6v.6h-.6zM116.1 77.1h.6v.6h-.6zM111.4 71.7h.6v.6h-.6zM116.8 72.6h.6v.6h-.6zM121.4 59.5h.6v.6h-.6zM114.3 69.6h.6v.6h-.6zM114.9 83.6h.6v.6h-.6zM110.2 84.2h.6v.6h-.6zM112.9 73.0h.6v.6h-.6zM120.1 68.6h.6v.6h-.6zM118.6 72.8h.6v.6h-.6zM114.8 71.5h.6v.6h-.6zM107.8 73.1h.6v.6h-.6zM116.4 75.0h.6v.6h-.6zM108.9 86.4h.6v.6h-.6zM118.2 61.7h.6v.6h-.6zM110.9 81.1h.6v.6h-.6zM107.7 73.2h.6v.6h-.6zM115.4 73.0h.6v.6h-.6zM115.4 77.2h.6v.6h-.6zM112.1 72.4h.6v.6h-.6zM124.9 56.5h.6v.6h-.6zM113.7 76.2h.6v.6h-.6zM112.8 85.7h.6v.6h-.6zM116.0 79.8h.6v.6h-.6zM120.9 64.5h.6v.6h-.6zM121.6 72.2h.6v.6h-.6zM119.9 85.7h.6v.6h-.6zM116.2 65.6h.6v.6h-.6zM115.7 63.8h.6v.6h-.6zM112.2 70.3h.6v.6h-.6zM112.6 85.5h.6v.6h-.6zM119.6 64.4h.6v.6h-.6zM120.9 57.2h.6v.6h-.6zM112.9 74.9h.6v.6h-.6zM121.2 76.3h.6v.6h-.6zM117.9 83.2h.6v.6h-.6zM119.1 82.9h.6v.6h-.6zM112.3 63.0h.6v.6h-.6zM114.0 82.1h.6v.6h-.6zM117.1 80.5h.6v.6h-.6zM119.1 76.2h.6v.6h-.6zM119.6 66.0h.6v.6h-.6zM120.8 62.8h.6v.6h-.6zM115.4 63.2h.6v.6h-.6zM118.2 60.2h.6v.6h-.6zM122.2 59.2h.6v.6h-.6zM117.1 72.3h.6v.6h-.6zM112.0 86.8h.6v.6h-.6zM114.0 87.2h.6v.6h-.6zM111.3 70.8h.6v.6h-.6zM106.9 84.6h.6v.6h-.6zM120.0 73.2h.6v.6h-.6zM115.2 67.3h.6v.6h-.6zM126.5 73.1h.6v.6h-.6zM107.6 77.2h.6v.6h-.6zM124.8 80.0h.6v.6h-.6zM115.7 69.6h.6v.6h-.6zM109.6 82.7h.6v.6h-.6zM112.6 73.4h.6v.6h-.6zM113.1 73.7h.6v.6h-.6zM120.0 85.1h.6v.6h-.6zM116.6 73.9h.6v.6h-.6zM110.9 67.7h.6v.6h-.6zM111.2 84.5h.6v.6h-.6zM117.1 81.3h.6v.6h-.6zM117.9 69.7h.6v.6h-.6zM110.4 75.0h.6v.6h-.6zM117.2 70.5h.6v.6h-.6zM125.0 65.2h.6v.6h-.6zM118.5 71.3h.6v.6h-.6zM117.6 70.2h.6v.6h-.6zM118.2 84.3h.6v.6h-.6zM110.3 60.2h.6v.6h-.6zM122.1 71.5h.6v.6h-.6zM120.0 69.3h.6v.6h-.6zM123.0 84.3h.6v.6h-.6zM110.7 83.2h.6v.6h-.6zM113.2 63.1h.6v.6h-.6zM114.6 79.7h.6v.6h-.6zM109.7 68.0h.6v.6h-.6zM121.5 70.7h.6v.6h-.6zM117.8 63.7h.6v.6h-.6zM112.9 77.1h.6v.6h-.6zM116.7 74.7h.6v.6h-.6zM123.1 70.6h.6v.6h-.6zM108.9 71.6h.6v.6h-.6zM115.5 84.5h.6v.6h-.6zM112.6 72.9h.6v.6h-.6zM115.6 68.3h.6v.6h-.6zM112.0 74.5h.6v.6h-.6zM120.2 74.8h.6v.6h-.6zM114.4 78.0h.6v.6h-.6zM109.8 85.8h.6v.6h-.6zM119.0 74.0h.6v.6h-.6zM111.4 82.3h.6v.6h-.6zM108.8 80.3h.6v.6h-.6zM114.9 72.0h.6v.6h-.6zM119.5 82.8h.6v.6h-.6zM117.4 70.4h.6v.6h-.6zM114.3 59.8h.6v.6h-.6zM116.4 85.1h.6v.6h-.6zM115.0 64.9h.6v.6h-.6zM125.9 72.0h.6v.6h-.6zM117.2 81.1h.6v.6h-.6zM113.1 71.2h.6v.6h-.6zM109.4 71.5h.6v.6h-.6zM114.8 76.7h.6v.6h-.6zM114.8 90.8h.6v.6h-.6zM118.0 77.7h.6v.6h-.6zM122.0 75.0h.6v.6h-.6zM113.4 63.1h.6v.6h-.6zM117.4 66.2h.6v.6h-.6zM121.8 63.8h.6v.6h-.6zM120.7 69.1h.6v.6h-.6zM116.6 74.7h.6v.6h-.6zM123.6 71.2h.6v.6h-.6zM115.6 69.1h.6v.6h-.6zM108.3 90.4h.6v.6h-.6zM121.0 62.8h.6v.6h-.6zM118.5 74.8h.6v.6h-.6zM114.0 72.6h.6v.6h-.6zM119.2 61.9h.6v.6h-.6zM113.4 75.0h.6v.6h-.6zM115.7 72.3h.6v.6h-.6zM116.7 77.6h.6v.6h-.6zM111.7 77.4h.6v.6h-.6zM113.3 87.8h.6v.6h-.6zM109.3 76.4h.6v.6h-.6zM118.9 69.6h.6v.6h-.6zM114.2 70.6h.6v.6h-.6zM117.2 63.6h.6v.6h-.6zM115.4 73.4h.6v.6h-.6zM109.1 80.7h.6v.6h-.6zM113.7 78.0h.6v.6h-.6zM119.7 74.2h.6v.6h-.6zM110.4 80.3h.6v.6h-.6zM108.5 72.8h.6v.6h-.6zM123.5 69.1h.6v.6h-.6zM123.0 67.9h.6v.6h-.6zM115.9 65.1h.6v.6h-.6zM120.2 69.7h.6v.6h-.6zM118.8 75.8h.6v.6h-.6zM118.4 75.2h.6v.6h-.6zM115.8 74.3h.6v.6h-.6zM112.8 59.1h.6v.6h-.6zM118.2 89.7h.6v.6h-.6zM120.9 90.0h.6v.6h-.6zM118.3 65.1h.6v.6h-.6zM111.6 83.4h.6v.6h-.6zM117.7 72.0h.6v.6h-.6zM119.5 65.1h.6v.6h-.6zM118.5 70.6h.6v.6h-.6zM116.9 83.6h.6v.6h-.6zM115.5 86.0h.6v.6h-.6zM122.2 64.3h.6v.6h-.6zM126.8 57.4h.6v.6h-.6zM115.8 80.8h.6v.6h-.6zM121.4 70.2h.6v.6h-.6zM117.5 75.5h.6v.6h-.6zM115.3 83.9h.6v.6h-.6zM114.5 75.3h.6v.6h-.6zM117.9 80.3h.6v.6h-.6zM121.3 59.2h.6v.6h-.6zM107.0 79.6h.6v.6h-.6zM116.0 65.9h.6v.6h-.6zM117.6 78.7h.6v.6h-.6zM118.0 86.8h.6v.6h-.6zM111.5 77.9h.6v.6h-.6zM125.0 74.2h.6v.6h-.6zM111.1 79.6h.6v.6h-.6zM121.6 87.8h.6v.6h-.6zM119.3 82.0h.6v.6h-.6zM111.2 75.9h.6v.6h-.6zM121.7 63.1h.6v.6h-.6zM115.9 59.5h.6v.6h-.6zM123.0 68.9h.6v.6h-.6zM118.8 60.6h.6v.6h-.6zM114.6 71.1h.6v.6h-.6zM118.5 77.4h.6v.6h-.6zM107.2 72.6h.6v.6h-.6zM116.4 74.4h.6v.6h-.6zM117.8 69.9h.6v.6h-.6zM114.9 77.1h.6v.6h-.6zM113.1 69.8h.6v.6h-.6zM113.7 76.2h.6v.6h-.6zM115.5 71.1h.6v.6h-.6zM115.0 74.8h.6v.6h-.6zM117.6 76.4h.6v.6h-.6zM110.3 86.3h.6v.6h-.6zM108.9 83.8h.6v.6h-.6zM113.0 81.3h.6v.6h-.6zM121.0 56.0h.6v.6h-.6zM118.9 74.8h.6v.6h-.6zM114.0 79.0h.6v.6h-.6zM113.9 76.9h.6v.6h-.6zM111.4 84.0h.6v.6h-.6zM118.8 78.6h.6v.6h-.6zM125.1 67.7h.6v.6h-.6zM114.2 72.4h.6v.6h-.6zM119.3 80.6h.6v.6h-.6zM112.7 60.3h.6v.6h-.6zM118.2 72.7h.6v.6h-.6zM116.9 78.1h.6v.6h-.6zM111.1 78.3h.6v.6h-.6zM114.8 78.3h.6v.6h-.6zM121.6 70.7h.6v.6h-.6zM112.2 87.0h.6v.6h-.6zM119.3 70.6h.6v.6h-.6zM107.9 72.7h.6v.6h-.6zM116.7 78.3h.6v.6h-.6zM113.6 79.4h.6v.6h-.6zM113.2 72.8h.6v.6h-.6zM118.4 70.5h.6v.6h-.6zM116.6 80.9h.6v.6h-.6zM121.1 66.1h.6v.6h-.6zM114.8 64.4h.6v.6h-.6zM110.1 80.6h.6v.6h-.6zM113.6 60.9h.6v.6h-.6zM118.4 65.9h.6v.6h-.6zM114.5 78.5h.6v.6h-.6zM117.8 72.6h.6v.6h-.6zM107.0 84.8h.6v.6h-.6zM113.3 64.6h.6v.6h-.6zM116.6 74.7h.6v.6h-.6zM118.7 71.8h.6v.6h-.6zM109.3 84.1h.6v.6h-.6zM120.5 75.4h.6v.6h-.6zM122.9 84.9h.6v.6h-.6zM112.4 73.1h.6v.6h-.6zM120.0 73.0h.6v.6h-.6zM116.9 81.1h.6v.6h-.6zM119.3 68.5h.6v.6h-.6zM116.6 68.2h.6v.6h-.6zM115.1 66.0h.6v.6h-.6zM107.1 76.2h.6v.6h-.6zM113.3 83.2h.6v.6h-.6zM123.1 69.8h.6v.6h-.6zM118.1 67.8h.6v.6h-.6zM111.8 74.8h.6v.6h-.6zM114.7 77.5h.6v.6h-.6zM116.5 87.3h.6v.6h-.6zM115.1 61.8h.6v.6h-.6zM116.6 68.7h.6v.6h-.6zM117.0 82.7h.6v.6h-.6zM113.2 75.7h.6v.6h-.6zM118.4 65.2h.6v.6h-.6zM117.0 78.1h.6v.6h-.6zM119.7 80.7h.6v.6h-.6zM118.6 75.8h.6v.6h-.6zM109.8 57.1h.6v.6h-.6zM111.8 88.7h.6v.6h-.6zM116.6 56.0h.6v.6h-.6zM114.2 78.6h.6v.6h-.6zM107.8 84.5h.6v.6h-.6zM111.0 86.2h.6v.6h-.6zM110.1 80.7h.6v.6h-.6zM109.5 88.0h.6v.6h-.6zM116.7 81.4h.6v.6h-.6zM116.6 64.8h.6v.6h-.6zM113.2 66.5h.6v.6h-.6zM111.5 78.8h.6v.6h-.6zM121.0 78.1h.6v.6h-.6zM118.5 68.4h.6v.6h-.6zM118.5 66.1h.6v.6h-.6zM117.1 80.5h.6v.6h-.6zM115.3 71.3h.6v.6h-.6zM114.2 80.7h.6v.6h-.6zM114.8 64.1h.6v.6h-.6zM114.3 67.2h.6v.6h-.6zM122.9 70.1h.6v.6h-.6zM109.6 81.0h.6v.6h-.6zM119.4 75.3h.6v.6h-.6zM114.6 76.7h.6v.6h-.6zM117.4 81.6h.6v.6h-.6zM115.2 87.3h.6v.6h-.6zM116.3 60.8h.6v.6h-.6zM110.9 63.5h.6v.6h-.6zM108.5 89.2h.6v.6h-.6zM113.2 81.2h.6v.6h-.6zM112.2 77.0h.6v.6h-.6zM111.5 84.5h.6v.6h-.6zM115.0 71.6h.6v.6h-.6zM118.2 79.8h.6v.6h-.6zM110.6 73.0h.6v.6h-.6zM117.5 58.8h.6v.6h-.6zM122.2 72.6h.6v.6h-.6zM116.1 73.0h.6v.6h-.6zM115.1 71.2h.6v.6h-.6zM122.4 75.8h.6v.6h-.6zM121.8 68.3h.6v.6h-.6zM112.2 87.9h.6v.6h-.6zM110.7 73.3h.6v.6h-.6zM119.4 81.0h.6v.6h-.6zM110.3 76.2h.6v.6h-.6zM116.3 73.3h.6v.6h-.6zM112.3 82.4h.6v.6h-.6zM113.8 74.1h.6v.6h-.6zM107.5 85.9h.6v.6h-.6zM118.4 69.0h.6v.6h-.6zM116.9 74.9h.6v.6h-.6zM115.5 77.8h.6v.6h-.6zM115.6 71.0h.6v.6h-.6zM112.6 90.2h.6v.6h-.6zM117.0 73.7h.6v.6h-.6zM119.4 69.2h.6v.6h-.6zM114.5 80.9h.6v.6h-.6zM120.8 76.7h.6v.6h-.6zM109.5 79.3h.6v.6h-.6zM116.1 78.1h.6v.6h-.6zM112.2 68.8h.6v.6h-.6zM115.6 67.8h.6v.6h-.6zM111.4 77.1h.6v.6h-.6zM120.3 72.8h.6v.6h-.6zM121.1 63.2h.6v.6h-.6zM119.3 72.3h.6v.6h-.6zM112.2 73.7h.6v.6h-.6zM112.3 75.3h.6v.6h-.6zM112.8 86.6h.6v.6h-.6zM114.6 64.3h.6v.6h-.6zM115.3 78.1h.6v.6h-.6zM114.7 82.2h.6v.6h-.6zM112.1 70.4h.6v.6h-.6zM123.4 69.7h.6v.6h-.6zM118.6 76.8h.6v.6h-.6zM118.7 73.1h.6v.6h-.6zM115.3 83.6h.6v.6h-.6zM114.0 76.8h.6v.6h-.6zM119.2 69.3h.6v.6h-.6zM109.4 82.6h.6v.6h-.6zM121.0 73.3h.6v.6h-.6zM108.7 84.5h.6v.6h-.6zM124.9 56.5h.6v.6h-.6zM116.5 80.4h.6v.6h-.6zM119.8 72.8h.6v.6h-.6zM118.6 75.5h.6v.6h-.6zM116.7 73.7h.6v.6h-.6zM115.5 80.5h.6v.6h-.6zM118.0 70.0h.6v.6h-.6zM121.0 65.6h.6v.6h-.6zM115.2 76.2h.6v.6h-.6zM107.8 77.1h.6v.6h-.6zM120.0 78.4h.6v.6h-.6zM110.9 71.5h.6v.6h-.6zM111.5 75.8h.6v.6h-.6zM115.9 62.2h.6v.6h-.6zM117.6 74.1h.6v.6h-.6zM115.9 69.5h.6v.6h-.6zM115.4 61.1h.6v.6h-.6zM117.2 75.5h.6v.6h-.6zM115.7 65.6h.6v.6h-.6zM121.8 79.6h.6v.6h-.6zM108.0 83.2h.6v.6h-.6zM116.9 54.0h.6v.6h-.6zM118.5 78.1h.6v.6h-.6zM119.4 73.7h.6v.6h-.6zM113.3 72.4h.6v.6h-.6zM118.5 82.1h.6v.6h-.6zM114.1 73.8h.6v.6h-.6zM119.3 55.7h.6v.6h-.6zM118.2 71.4h.6v.6h-.6zM106.6 86.9h.6v.6h-.6zM112.2 83.4h.6v.6h-.6zM122.2 60.8h.6v.6h-.6zM111.0 77.9h.6v.6h-.6zM108.6 85.3h.6v.6h-.6zM117.0 81.6h.6v.6h-.6zM108.2 81.5h.6v.6h-.6zM118.3 59.2h.6v.6h-.6zM120.2 61.2h.6v.6h-.6zM117.1 63.8h.6v.6h-.6zM119.7 85.6h.6v.6h-.6zM116.5 74.7h.6v.6h-.6zM122.0 67.3h.6v.6h-.6zM116.5 80.9h.6v.6h-.6zM118.2 85.7h.6v.6h-.6zM121.6 86.2h.6v.6h-.6zM116.3 83.6h.6v.6h-.6zM112.9 84.3h.6v.6h-.6zM124.2 88.1h.6v.6h-.6zM111.1 77.2h.6v.6h-.6zM119.7 66.0h.6v.6h-.6zM119.0 77.6h.6v.6h-.6zM114.5 72.2h.6v.6h-.6zM112.6 80.0h.6v.6h-.6zM122.2 73.5h.6v.6h-.6zM128.8 55.3h.6v.6h-.6zM114.1 81.9h.6v.6h-.6zM111.6 81.0h.6v.6h-.6zM120.2 74.0h.6v.6h-.6zM115.6 83.0h.6v.6h-.6zM118.5 79.4h.6v.6h-.6zM119.0 68.1h.6v.6h-.6zM111.8 75.2h.6v.6h-.6zM117.4 72.9h.6v.6h-.6zM120.8 74.2h.6v.6h-.6zM120.9 73.0h.6v.6h-.6zM113.4 83.7h.6v.6h-.6zM118.8 66.9h.6v.6h-.6zM116.8 74.2h.6v.6h-.6zM115.2 71.7h.6v.6h-.6zM127.0 64.4h.6v.6h-.6zM115.1 82.0h.6v.6h-.6zM118.2 72.2h.6v.6h-.6zM115.2 65.1h.6v.6h-.6zM121.2 63.2h.6v.6h-.6zM119.7 75.2h.6v.6h-.6zM114.1 85.6h.6v.6h-.6zM111.6 60.6h.6v.6h-.6zM117.1 80.6h.6v.6h-.6zM119.1 89.3h.6v.6h-.6zM120.0 70.4h.6v.6h-.6zM115.5 82.3h.6v.6h-.6zM116.0 73.7h.6v.6h-.6zM108.4 77.4h.6v.6h-.6zM110.5 80.3h.6v.6h-.6zM116.9 79.9h.6v.6h-.6zM124.3 67.9h.6v.6h-.6zM122.8 61.3h.6v.6h-.6zM117.0 81.7h.6v.6h-.6zM125.0 60.0h.6v.6h-.6zM115.1 76.5h.6v.6h-.6zM115.8 67.3h.6v.6h-.6zM109.0 69.7h.6v.6h-.6zM115.9 64.1h.6v.6h-.6zM124.2 79.1h.6v.6h-.6zM107.7 76.4h.6v.6h-.6zM122.2 82.2h.6v.6h-.6zM121.3 59.8h.6v.6h-.6zM114.6 85.9h.6v.6h-.6zM116.7 70.6h.6v.6h-.6zM118.5 80.9h.6v.6h-.6zM116.9 76.1h.6v.6h-.6zM121.1 66.9h.6v.6h-.6zM112.2 83.4h.6v.6h-.6zM110.9 82.1h.6v.6h-.6zM113.0 83.5h.6v.6h-.6zM110.9 87.2h.6v.6h-.6zM117.5 71.3h.6v.6h-.6zM112.4 75.9h.6v.6h-.6zM112.1 67.8h.6v.6h-.6zM121.1 76.1h.6v.6h-.6zM121.8 60.1h.6v.6h-.6zM107.5 67.7h.6v.6h-.6zM119.2 79.0h.6v.6h-.6zM107.9 88.3h.6v.6h-.6zM114.3 66.3h.6v.6h-.6zM115.9 79.3h.6v.6h-.6zM115.3 73.8h.6v.6h-.6zM112.4 65.7h.6v.6h-.6zM114.5 62.6h.6v.6h-.6zM118.9 65.9h.6v.6h-.6zM122.1 57.8h.6v.6h-.6zM122.5 63.2h.6v.6h-.6zM112.2 79.5h.6v.6h-.6zM120.2 71.5h.6v.6h-.6zM118.5 63.3h.6v.6h-.6zM115.0 88.8h.6v.6h-.6zM117.7 80.1h.6v.6h-.6zM125.4 63.6h.6v.6h-.6zM117.9 68.0h.6v.6h-.6zM116.2 78.8h.6v.6h-.6zM110.2 79.7h.6v.6h-.6zM116.8 82.5h.6v.6h-.6zM113.5 66.1h.6v.6h-.6zM118.0 64.3h.6v.6h-.6zM117.0 78.5h.6v.6h-.6zM112.2 76.1h.6v.6h-.6zM111.5 54.8h.6v.6h-.6zM109.6 62.1h.6v.6h-.6zM116.2 65.8h.6v.6h-.6zM115.5 74.5h.6v.6h-.6zM120.9 68.4h.6v.6h-.6zM114.3 79.7h.6v.6h-.6zM123.4 69.0h.6v.6h-.6zM117.7 71.9h.6v.6h-.6zM113.0 64.2h.6v.6h-.6zM115.8 72.5h.6v.6h-.6zM115.0 91.1h.6v.6h-.6zM114.6 78.1h.6v.6h-.6zM114.6 85.0h.6v.6h-.6zM114.8 90.2h.6v.6h-.6zM115.0 81.5h.6v.6h-.6zM120.8 69.5h.6v.6h-.6zM120.0 72.4h.6v.6h-.6zM112.7 71.4h.6v.6h-.6zM117.7 87.8h.6v.6h-.6zM113.9 80.3h.6v.6h-.6zM112.5 78.9h.6v.6h-.6zM110.3 72.1h.6v.6h-.6zM116.1 68.5h.6v.6h-.6zM114.9 83.4h.6v.6h-.6zM115.6 69.1h.6v.6h-.6zM110.6 73.9h.6v.6h-.6zM121.4 70.4h.6v.6h-.6zM115.5 80.7h.6v.6h-.6zM119.9 80.0h.6v.6h-.6zM114.6 68.2h.6v.6h-.6zM108.6 74.0h.6v.6h-.6zM114.5 81.4h.6v.6h-.6zM117.6 69.0h.6v.6h-.6zM120.2 61.7h.6v.6h-.6zM111.4 68.2h.6v.6h-.6zM111.2 75.7h.6v.6h-.6zM112.3 70.9h.6v.6h-.6zM122.2 58.7h.6v.6h-.6zM111.5 75.6h.6v.6h-.6zM118.1 77.0h.6v.6h-.6zM115.0 72.3h.6v.6h-.6zM114.9 81.2h.6v.6h-.6zM112.0 58.4h.6v.6h-.6zM117.0 64.5h.6v.6h-.6zM115.9 85.7h.6v.6h-.6zM116.6 88.8h.6v.6h-.6zM109.0 81.1h.6v.6h-.6zM117.9 79.9h.6v.6h-.6zM112.9 77.9h.6v.6h-.6zM116.7 74.8h.6v.6h-.6zM110.0 64.8h.6v.6h-.6zM118.6 75.6h.6v.6h-.6zM116.3 79.5h.6v.6h-.6zM121.1 61.9h.6v.6h-.6zM119.7 84.1h.6v.6h-.6zM120.8 76.2h.6v.6h-.6zM119.4 60.9h.6v.6h-.6zM114.0 84.3h.6v.6h-.6zM122.9 73.8h.6v.6h-.6zM114.2 74.9h.6v.6h-.6zM120.1 88.2h.6v.6h-.6zM119.9 68.1h.6v.6h-.6zM119.2 76.3h.6v.6h-.6zM127.2 72.3h.6v.6h-.6zM116.5 74.0h.6v.6h-.6zM110.9 70.0h.6v.6h-.6zM114.2 69.7h.6v.6h-.6zM117.3 74.9h.6v.6h-.6zM120.6 84.0h.6v.6h-.6zM117.1 72.7h.6v.6h-.6zM108.0 83.4h.6v.6h-.6zM119.4 66.6h.6v.6h-.6zM114.6 70.3h.6v.6h-.6zM121.2 76.5h.6v.6h-.6zM121.9 61.4h.6v.6h-.6zM128.4 59.9h.6v.6h-.6zM111.8 79.3h.6v.6h-.6zM113.9 90.9h.6v.6h-.6zM114.5 70.4h.6v.6h-.6zM120.8 81.5h.6v.6h-.6zM112.6 73.4h.6v.6h-.6zM114.7 74.4h.6v.6h-.6zM124.0 79.6h.6v.6h-.6zM121.1 81.6h.6v.6h-.6zM116.4 81.6h.6v.6h-.6zM116.0 68.8h.6v.6h-.6zM123.8 55.6h.6v.6h-.6zM116.3 70.0h.6v.6h-.6zM108.8 76.5h.6v.6h-.6zM116.6 78.0h.6v.6h-.6zM112.5 83.1h.6v.6h-.6zM117.6 80.1h.6v.6h-.6zM107.6 76.7h.6v.6h-.6zM113.4 81.0h.6v.6h-.6zM112.9 72.6h.6v.6h-.6zM111.1 68.4h.6v.6h-.6zM112.0 85.0h.6v.6h-.6zM111.4 58.2h.6v.6h-.6zM117.5 69.9h.6v.6h-.6zM118.6 77.1h.6v.6h-.6zM114.7 72.0h.6v.6h-.6zM113.6 76.0h.6v.6h-.6zM112.6 78.3h.6v.6h-.6zM122.3 64.9h.6v.6h-.6zM113.3 71.2h.6v.6h-.6zM118.9 77.8h.6v.6h-.6zM122.6 75.8h.6v.6h-.6zM116.7 77.7h.6v.6h-.6zM110.3 82.9h.6v.6h-.6zM116.9 90.5h.6v.6h-.6zM122.4 63.8h.6v.6h-.6zM113.6 83.2h.6v.6h-.6zM106.9 73.3h.6v.6h-.6zM117.8 78.5h.6v.6h-.6zM117.0 83.2h.6v.6h-.6zM115.0 76.1h.6v.6h-.6zM115.3 66.3h.6v.6h-.6zM116.4 69.9h.6v.6h-.6zM116.6 53.4h.6v.6h-.6zM116.7 69.8h.6v.6h-.6zM113.4 76.7h.6v.6h-.6zM114.1 83.3h.6v.6h-.6zM121.8 77.8h.6v.6h-.6zM120.5 74.5h.6v.6h-.6zM116.3 64.2h.6v.6h-.6zM114.5 85.3h.6v.6h-.6zM119.6 68.3h.6v.6h-.6zM116.7 82.6h.6v.6h-.6zM115.5 87.9h.6v.6h-.6zM112.8 83.1h.6v.6h-.6zM119.3 73.8h.6v.6h-.6zM117.6 77.9h.6v.6h-.6zM121.4 74.3h.6v.6h-.6zM121.3 61.7h.6v.6h-.6zM115.9 77.4h.6v.6h-.6zM115.0 84.8h.6v.6h-.6zM118.4 69.0h.6v.6h-.6zM119.9 78.6h.6v.6h-.6zM114.3 80.8h.6v.6h-.6zM117.9 76.2h.6v.6h-.6zM110.6 88.5h.6v.6h-.6zM119.1 72.4h.6v.6h-.6zM117.8 76.2h.6v.6h-.6zM114.9 70.8h.6v.6h-.6zM116.7 69.5h.6v.6h-.6zM114.0 66.7h.6v.6h-.6zM115.0 83.4h.6v.6h-.6zM117.2 74.2h.6v.6h-.6zM114.8 72.1h.6v.6h-.6zM112.9 64.7h.6v.6h-.6zM118.0 75.3h.6v.6h-.6zM113.9 64.3h.6v.6h-.6zM110.0 91.2h.6v.6h-.6zM115.7 69.6h.6v.6h-.6zM124.6 64.6h.6v.6h-.6zM112.0 81.6h.6v.6h-.6zM117.8 85.9h.6v.6h-.6zM109.2 81.5h.6v.6h-.6zM108.6 83.3h.6v.6h-.6zM113.3 72.8h.6v.6h-.6zM112.9 83.4h.6v.6h-.6zM123.5 68.9h.6v.6h-.6zM115.0 71.2h.6v.6h-.6zM118.5 64.7h.6v.6h-.6zM132.1 62.0h.6v.6h-.6zM123.9 70.5h.6v.6h-.6zM110.0 66.1h.6v.6h-.6zM114.3 70.0h.6v.6h-.6zM115.1 66.0h.6v.6h-.6zM126.7 84.5h.6v.6h-.6zM108.0 83.7h.6v.6h-.6zM121.6 68.1h.6v.6h-.6zM115.1 83.9h.6v.6h-.6zM118.6 63.1h.6v.6h-.6zM121.7 66.8h.6v.6h-.6zM124.5 61.1h.6v.6h-.6zM121.6 74.9h.6v.6h-.6zM116.8 66.5h.6v.6h-.6zM120.2 56.7h.6v.6h-.6zM119.6 62.2h.6v.6h-.6zM113.3 65.5h.6v.6h-.6zM111.9 89.0h.6v.6h-.6zM110.7 79.4h.6v.6h-.6zM112.4 84.9h.6v.6h-.6zM109.8 78.4h.6v.6h-.6zM120.1 89.7h.6v.6h-.6zM110.6 70.7h.6v.6h-.6zM115.7 86.3h.6v.6h-.6zM111.3 83.9h.6v.6h-.6zM113.1 67.7h.6v.6h-.6zM108.7 80.1h.6v.6h-.6zM120.4 70.3h.6v.6h-.6zM120.3 78.3h.6v.6h-.6zM117.1 85.3h.6v.6h-.6zM110.1 68.0h.6v.6h-.6zM126.7 72.3h.6v.6h-.6zM114.9 70.8h.6v.6h-.6zM106.4 64.4h.6v.6h-.6zM115.6 86.5h.6v.6h-.6zM121.6 77.8h.6v.6h-.6zM121.3 78.1h.6v.6h-.6zM118.4 81.1h.6v.6h-.6zM126.2 86.5h.6v.6h-.6zM120.1 83.5h.6v.6h-.6zM122.8 74.1h.6v.6h-.6zM131.1 62.7h.6v.6h-.6zM128.0 85.0h.6v.6h-.6zM133.7 75.1h.6v.6h-.6zM125.7 65.7h.6v.6h-.6zM131.9 63.8h.6v.6h-.6zM130.7 67.2h.6v.6h-.6zM124.0 73.8h.6v.6h-.6zM127.3 68.5h.6v.6h-.6zM125.0 69.5h.6v.6h-.6zM126.9 74.0h.6v.6h-.6zM126.4 66.3h.6v.6h-.6zM125.8 73.0h.6v.6h-.6zM127.2 72.1h.6v.6h-.6zM118.5 82.5h.6v.6h-.6zM120.2 78.3h.6v.6h-.6zM112.3 84.8h.6v.6h-.6zM127.6 64.9h.6v.6h-.6zM127.2 69.1h.6v.6h-.6zM131.7 73.6h.6v.6h-.6zM116.9 76.8h.6v.6h-.6zM114.0 77.8h.6v.6h-.6zM127.0 77.8h.6v.6h-.6zM123.3 72.5h.6v.6h-.6zM124.8 69.0h.6v.6h-.6zM125.8 80.7h.6v.6h-.6zM125.0 79.3h.6v.6h-.6zM119.6 73.2h.6v.6h-.6zM125.9 87.1h.6v.6h-.6zM129.7 82.5h.6v.6h-.6zM124.3 82.6h.6v.6h-.6zM114.7 83.6h.6v.6h-.6zM112.5 90.1h.6v.6h-.6zM126.8 80.5h.6v.6h-.6zM126.4 69.0h.6v.6h-.6zM120.0 78.0h.6v.6h-.6zM132.5 73.1h.6v.6h-.6zM121.2 71.9h.6v.6h-.6zM120.3 75.0h.6v.6h-.6zM123.7 70.9h.6v.6h-.6zM124.3 62.8h.6v.6h-.6zM132.9 70.2h.6v.6h-.6zM132.7 70.7h.6v.6h-.6zM123.2 75.3h.6v.6h-.6zM125.5 68.6h.6v.6h-.6zM122.2 88.9h.6v.6h-.6zM129.5 67.1h.6v.6h-.6zM127.2 66.3h.6v.6h-.6zM132.1 62.0h.6v.6h-.6zM129.3 71.1h.6v.6h-.6zM124.5 68.2h.6v.6h-.6zM122.9 69.6h.6v.6h-.6zM119.5 80.4h.6v.6h-.6zM138.3 62.8h.6v.6h-.6zM129.9 70.5h.6v.6h-.6zM120.4 86.1h.6v.6h-.6zM127.9 79.9h.6v.6h-.6zM125.0 74.7h.6v.6h-.6zM119.8 75.1h.6v.6h-.6zM133.7 52.1h.6v.6h-.6zM126.5 83.1h.6v.6h-.6zM128.8 77.5h.6v.6h-.6zM122.9 83.0h.6v.6h-.6zM130.8 69.8h.6v.6h-.6zM133.7 64.8h.6v.6h-.6zM110.6 82.8h.6v.6h-.6zM123.8 68.5h.6v.6h-.6zM121.8 71.9h.6v.6h-.6zM114.3 89.3h.6v.6h-.6zM124.3 77.0h.6v.6h-.6zM116.0 86.6h.6v.6h-.6zM118.3 81.8h.6v.6h-.6zM129.5 76.2h.6v.6h-.6zM119.8 71.4h.6v.6h-.6zM128.6 79.8h.6v.6h-.6zM132.4 68.8h.6v.6h-.6zM123.8 87.1h.6v.6h-.6zM121.1 81.5h.6v.6h-.6zM122.6 65.2h.6v.6h-.6zM118.2 81.2h.6v.6h-.6zM125.6 76.8h.6v.6h-.6zM122.4 71.8h.6v.6h-.6zM125.9 71.8h.6v.6h-.6zM115.5 76.7h.6v.6h-.6zM133.7 62.7h.6v.6h-.6zM127.4 71.6h.6v.6h-.6zM128.4 65.4h.6v.6h-.6zM117.2 81.7h.6v.6h-.6zM120.4 76.3h.6v.6h-.6zM122.5 81.9h.6v.6h-.6zM125.7 74.1h.6v.6h-.6zM118.9 66.4h.6v.6h-.6zM119.6 82.8h.6v.6h-.6zM128.1 75.7h.6v.6h-.6zM122.0 68.2h.6v.6h-.6zM130.6 71.3h.6v.6h-.6zM127.2 65.5h.6v.6h-.6zM120.5 80.9h.6v.6h-.6zM128.3 64.4h.6v.6h-.6zM125.8 64.8h.6v.6h-.6zM130.9 74.4h.6v.6h-.6zM136.7 76.6h.6v.6h-.6zM120.6 77.7h.6v.6h-.6zM121.6 76.7h.6v.6h-.6zM128.5 71.2h.6v.6h-.6zM124.5 64.4h.6v.6h-.6zM127.4 71.9h.6v.6h-.6zM127.6 79.1h.6v.6h-.6zM124.4 78.8h.6v.6h-.6zM120.9 82.7h.6v.6h-.6zM124.1 69.9h.6v.6h-.6zM122.9 64.9h.6v.6h-.6zM120.6 73.3h.6v.6h-.6zM124.3 73.3h.6v.6h-.6zM120.7 74.9h.6v.6h-.6zM112.5 82.1h.6v.6h-.6zM127.2 77.5h.6v.6h-.6zM130.1 68.8h.6v.6h-.6zM123.7 70.9h.6v.6h-.6zM121.5 76.5h.6v.6h-.6zM131.5 57.5h.6v.6h-.6zM121.4 77.6h.6v.6h-.6zM118.7 80.3h.6v.6h-.6zM116.6 76.3h.6v.6h-.6zM115.1 81.6h.6v.6h-.6zM119.8 81.2h.6v.6h-.6zM122.5 68.3h.6v.6h-.6zM121.8 76.2h.6v.6h-.6zM124.0 72.1h.6v.6h-.6zM122.1 75.2h.6v.6h-.6zM128.6 67.0h.6v.6h-.6zM126.4 63.2h.6v.6h-.6zM129.0 73.2h.6v.6h-.6zM122.1 72.8h.6v.6h-.6zM114.8 80.4h.6v.6h-.6zM122.7 65.1h.6v.6h-.6zM121.6 79.4h.6v.6h-.6zM125.0 75.2h.6v.6h-.6zM121.0 81.7h.6v.6h-.6zM123.9 79.9h.6v.6h-.6zM136.1 52.4h.6v.6h-.6zM121.3 75.7h.6v.6h-.6zM120.1 83.6h.6v.6h-.6zM122.2 86.7h.6v.6h-.6zM128.2 74.3h.6v.6h-.6zM124.0 79.9h.6v.6h-.6zM126.8 82.4h.6v.6h-.6zM126.4 79.7h.6v.6h-.6zM126.4 74.9h.6v.6h-.6zM115.7 79.5h.6v.6h-.6zM126.3 64.6h.6v.6h-.6zM116.7 76.7h.6v.6h-.6zM125.8 61.2h.6v.6h-.6zM125.9 79.6h.6v.6h-.6zM122.9 76.5h.6v.6h-.6zM126.7 67.8h.6v.6h-.6zM127.6 75.0h.6v.6h-.6zM117.5 81.9h.6v.6h-.6zM129.0 63.5h.6v.6h-.6zM128.9 69.2h.6v.6h-.6zM116.9 71.5h.6v.6h-.6zM119.4 80.8h.6v.6h-.6zM121.6 72.9h.6v.6h-.6zM117.3 78.5h.6v.6h-.6zM117.4 73.7h.6v.6h-.6zM127.5 76.5h.6v.6h-.6zM121.3 75.5h.6v.6h-.6zM127.1 72.1h.6v.6h-.6zM130.8 79.1h.6v.6h-.6zM123.7 65.8h.6v.6h-.6zM123.4 83.9h.6v.6h-.6zM130.4 78.3h.6v.6h-.6zM130.3 66.6h.6v.6h-.6zM125.7 80.6h.6v.6h-.6zM125.7 79.2h.6v.6h-.6zM118.7 69.1h.6v.6h-.6zM135.2 72.4h.6v.6h-.6zM127.6 82.1h.6v.6h-.6zM136.4 86.3h.6v.6h-.6zM111.1 85.1h.6v.6h-.6zM129.9 57.1h.6v.6h-.6zM114.5 79.1h.6v.6h-.6zM134.6 74.0h.6v.6h-.6zM136.1 68.5h.6v.6h-.6zM130.2 81.0h.6v.6h-.6zM126.8 72.3h.6v.6h-.6zM125.0 47.8h.6v.6h-.6zM126.0 59.9h.6v.6h-.6zM119.8 81.8h.6v.6h-.6zM126.4 58.6h.6v.6h-.6zM127.1 77.4h.6v.6h-.6zM125.3 78.1h.6v.6h-.6zM127.3 60.1h.6v.6h-.6zM123.0 72.6h.6v.6h-.6zM117.5 77.9h.6v.6h-.6zM119.7 76.2h.6v.6h-.6zM119.4 84.3h.6v.6h-.6zM136.4 62.2h.6v.6h-.6zM124.4 74.2h.6v.6h-.6zM126.6 71.2h.6v.6h-.6zM111.9 84.2h.6v.6h-.6zM123.4 66.9h.6v.6h-.6zM123.0 71.1h.6v.6h-.6zM125.4 70.9h.6v.6h-.6zM122.5 75.7h.6v.6h-.6zM125.4 73.2h.6v.6h-.6zM130.5 71.5h.6v.6h-.6zM119.8 88.7h.6v.6h-.6zM124.7 84.5h.6v.6h-.6zM118.2 81.6h.6v.6h-.6zM133.6 76.8h.6v.6h-.6zM124.6 69.5h.6v.6h-.6zM120.8 74.7h.6v.6h-.6zM118.7 72.1h.6v.6h-.6zM118.6 70.4h.6v.6h-.6zM125.4 60.7h.6v.6h-.6zM125.0 78.2h.6v.6h-.6zM118.9 70.8h.6v.6h-.6zM124.2 73.5h.6v.6h-.6zM129.3 56.6h.6v.6h-.6zM123.7 84.0h.6v.6h-.6zM124.5 86.0h.6v.6h-.6zM136.1 62.4h.6v.6h-.6zM132.3 72.3h.6v.6h-.6zM124.0 72.0h.6v.6h-.6zM122.9 68.3h.6v.6h-.6zM123.2 81.1h.6v.6h-.6zM131.1 66.8h.6v.6h-.6zM127.0 75.4h.6v.6h-.6zM111.1 87.2h.6v.6h-.6zM117.3 70.2h.6v.6h-.6zM128.7 82.8h.6v.6h-.6zM118.0 71.6h.6v.6h-.6zM118.9 73.6h.6v.6h-.6zM122.0 69.4h.6v.6h-.6zM121.3 70.3h.6v.6h-.6zM129.0 68.2h.6v.6h-.6zM130.0 75.6h.6v.6h-.6zM129.5 67.6h.6v.6h-.6zM127.6 60.8h.6v.6h-.6zM116.5 79.2h.6v.6h-.6zM122.4 84.4h.6v.6h-.6zM122.6 62.5h.6v.6h-.6zM124.4 71.6h.6v.6h-.6zM125.1 65.1h.6v.6h-.6zM119.8 77.1h.6v.6h-.6zM128.2 74.2h.6v.6h-.6zM128.3 61.1h.6v.6h-.6zM122.9 76.2h.6v.6h-.6zM129.4 72.4h.6v.6h-.6zM122.8 74.0h.6v.6h-.6zM123.7 64.3h.6v.6h-.6zM124.3 79.5h.6v.6h-.6zM128.1 58.4h.6v.6h-.6zM124.2 63.4h.6v.6h-.6zM130.2 73.9h.6v.6h-.6zM128.1 66.8h.6v.6h-.6zM113.5 73.5h.6v.6h-.6zM122.2 64.7h.6v.6h-.6zM118.6 89.8h.6v.6h-.6zM116.9 82.4h.6v.6h-.6zM113.9 82.3h.6v.6h-.6zM128.8 74.2h.6v.6h-.6zM130.8 82.4h.6v.6h-.6zM116.6 80.7h.6v.6h-.6zM127.1 75.2h.6v.6h-.6zM133.0 70.4h.6v.6h-.6zM130.9 77.9h.6v.6h-.6zM125.1 77.4h.6v.6h-.6zM120.1 79.0h.6v.6h-.6zM125.4 72.4h.6v.6h-.6zM121.8 82.5h.6v.6h-.6zM123.8 90.5h.6v.6h-.6zM131.6 74.9h.6v.6h-.6zM121.2 82.5h.6v.6h-.6zM125.2 74.3h.6v.6h-.6zM118.4 82.1h.6v.6h-.6zM125.8 70.1h.6v.6h-.6zM120.8 74.6h.6v.6h-.6zM117.2 75.0h.6v.6h-.6zM132.1 64.8h.6v.6h-.6zM137.2 56.8h.6v.6h-.6zM130.5 78.0h.6v.6h-.6zM130.9 74.1h.6v.6h-.6zM115.7 87.8h.6v.6h-.6zM130.4 70.7h.6v.6h-.6zM111.5 90.0h.6v.6h-.6zM119.4 75.5h.6v.6h-.6zM131.3 79.1h.6v.6h-.6zM126.6 68.9h.6v.6h-.6zM133.9 76.3h.6v.6h-.6zM123.6 68.0h.6v.6h-.6zM126.0 63.7h.6v.6h-.6zM134.2 71.5h.6v.6h-.6zM122.5 78.2h.6v.6h-.6zM115.2 79.5h.6v.6h-.6zM120.9 65.3h.6v.6h-.6zM120.9 78.8h.6v.6h-.6zM116.5 77.7h.6v.6h-.6zM116.3 80.6h.6v.6h-.6zM114.6 85.3h.6v.6h-.6zM128.0 77.6h.6v.6h-.6zM134.3 68.9h.6v.6h-.6zM124.9 77.9h.6v.6h-.6zM121.7 62.3h.6v.6h-.6zM117.5 69.8h.6v.6h-.6zM125.3 68.9h.6v.6h-.6zM122.1 79.4h.6v.6h-.6zM125.3 87.4h.6v.6h-.6zM124.0 67.6h.6v.6h-.6zM131.2 66.7h.6v.6h-.6zM123.8 81.3h.6v.6h-.6zM125.2 78.3h.6v.6h-.6zM120.8 74.2h.6v.6h-.6zM127.8 68.1h.6v.6h-.6zM122.1 75.2h.6v.6h-.6zM133.1 78.9h.6v.6h-.6zM125.7 73.8h.6v.6h-.6zM120.6 85.9h.6v.6h-.6zM126.8 79.4h.6v.6h-.6zM116.8 84.8h.6v.6h-.6zM125.4 79.0h.6v.6h-.6zM130.3 70.7h.6v.6h-.6zM122.6 80.4h.6v.6h-.6zM118.0 88.5h.6v.6h-.6zM126.6 65.3h.6v.6h-.6zM131.8 76.6h.6v.6h-.6zM133.2 76.0h.6v.6h-.6zM127.5 72.4h.6v.6h-.6zM119.0 83.4h.6v.6h-.6zM128.1 69.4h.6v.6h-.6zM128.1 66.1h.6v.6h-.6zM130.7 71.8h.6v.6h-.6zM126.2 68.4h.6v.6h-.6zM130.1 72.2h.6v.6h-.6zM121.7 79.1h.6v.6h-.6zM123.7 82.4h.6v.6h-.6zM116.4 71.6h.6v.6h-.6zM135.9 63.8h.6v.6h-.6zM127.5 69.8h.6v.6h-.6zM113.9 85.1h.6v.6h-.6zM125.0 74.4h.6v.6h-.6zM120.4 70.4h.6v.6h-.6zM132.2 73.1h.6v.6h-.6zM118.1 78.5h.6v.6h-.6zM126.8 60.3h.6v.6h-.6zM129.8 75.4h.6v.6h-.6zM126.4 74.5h.6v.6h-.6zM121.6 74.9h.6v.6h-.6zM113.5 90.5h.6v.6h-.6zM135.7 70.7h.6v.6h-.6zM128.0 62.5h.6v.6h-.6zM122.3 65.8h.6v.6h-.6zM117.4 82.6h.6v.6h-.6zM132.4 68.8h.6v.6h-.6zM138.3 71.3h.6v.6h-.6zM112.1 79.3h.6v.6h-.6zM131.8 70.8h.6v.6h-.6zM130.3 58.7h.6v.6h-.6zM131.6 61.4h.6v.6h-.6zM126.4 87.9h.6v.6h-.6zM125.0 72.3h.6v.6h-.6zM128.7 65.7h.6v.6h-.6zM119.3 84.4h.6v.6h-.6zM116.3 70.7h.6v.6h-.6zM134.2 59.2h.6v.6h-.6zM126.9 80.4h.6v.6h-.6zM124.2 66.9h.6v.6h-.6zM129.0 64.7h.6v.6h-.6zM136.2 82.3h.6v.6h-.6zM118.8 81.9h.6v.6h-.6zM120.6 79.3h.6v.6h-.6zM123.1 68.2h.6v.6h-.6zM127.3 60.7h.6v.6h-.6zM126.2 72.0h.6v.6h-.6zM120.1 83.2h.6v.6h-.6zM124.6 71.5h.6v.6h-.6zM123.5 73.1h.6v.6h-.6zM129.5 68.8h.6v.6h-.6zM108.4 62.5h.6v.6h-.6zM118.5 69.0h.6v.6h-.6zM122.8 65.5h.6v.6h-.6zM119.9 86.2h.6v.6h-.6zM117.0 84.8h.6v.6h-.6zM123.7 83.7h.6v.6h-.6zM129.3 71.4h.6v.6h-.6zM130.4 71.9h.6v.6h-.6zM118.2 81.6h.6v.6h-.6zM127.3 71.6h.6v.6h-.6zM125.9 70.3h.6v.6h-.6zM126.3 71.2h.6v.6h-.6zM116.0 77.8h.6v.6h-.6zM133.4 74.4h.6v.6h-.6zM132.9 69.0h.6v.6h-.6zM122.3 68.2h.6v.6h-.6zM125.4 80.9h.6v.6h-.6zM129.1 76.6h.6v.6h-.6zM121.8 76.8h.6v.6h-.6zM120.3 82.8h.6v.6h-.6zM127.9 67.7h.6v.6h-.6zM125.3 57.9h.6v.6h-.6zM128.4 66.0h.6v.6h-.6zM122.5 79.8h.6v.6h-.6zM128.3 67.1h.6v.6h-.6zM133.3 82.8h.6v.6h-.6zM132.5 78.3h.6v.6h-.6zM124.8 83.8h.6v.6h-.6zM119.7 69.5h.6v.6h-.6zM125.4 75.4h.6v.6h-.6zM119.8 89.7h.6v.6h-.6zM116.4 64.8h.6v.6h-.6zM122.3 87.1h.6v.6h-.6zM128.6 74.0h.6v.6h-.6zM125.2 77.6h.6v.6h-.6zM126.2 73.7h.6v.6h-.6zM123.8 63.3h.6v.6h-.6zM129.8 67.7h.6v.6h-.6zM126.5 76.3h.6v.6h-.6zM130.2 65.0h.6v.6h-.6zM129.0 77.2h.6v.6h-.6zM123.8 74.2h.6v.6h-.6zM125.2 66.4h.6v.6h-.6zM121.9 67.8h.6v.6h-.6zM131.0 64.5h.6v.6h-.6zM118.5 79.0h.6v.6h-.6zM127.4 69.6h.6v.6h-.6zM119.1 80.4h.6v.6h-.6zM129.1 59.6h.6v.6h-.6zM129.4 58.5h.6v.6h-.6zM128.0 68.7h.6v.6h-.6zM123.0 80.0h.6v.6h-.6zM132.3 83.7h.6v.6h-.6zM131.9 74.1h.6v.6h-.6zM117.0 75.9h.6v.6h-.6zM125.1 69.4h.6v.6h-.6zM127.6 70.3h.6v.6h-.6zM134.2 66.5h.6v.6h-.6zM117.4 74.9h.6v.6h-.6zM120.4 81.6h.6v.6h-.6zM132.0 76.3h.6v.6h-.6zM130.0 65.7h.6v.6h-.6zM118.3 72.4h.6v.6h-.6zM124.6 71.6h.6v.6h-.6zM126.0 80.3h.6v.6h-.6zM124.9 85.8h.6v.6h-.6zM120.2 81.3h.6v.6h-.6zM124.1 81.4h.6v.6h-.6zM124.3 70.5h.6v.6h-.6zM123.8 68.4h.6v.6h-.6zM118.4 83.6h.6v.6h-.6zM121.1 84.8h.6v.6h-.6zM138.3 62.7h.6v.6h-.6zM129.2 70.5h.6v.6h-.6zM114.0 80.1h.6v.6h-.6zM132.5 60.4h.6v.6h-.6zM123.5 73.4h.6v.6h-.6zM116.4 81.4h.6v.6h-.6zM123.5 78.7h.6v.6h-.6zM124.6 64.0h.6v.6h-.6zM125.0 78.0h.6v.6h-.6zM122.9 78.9h.6v.6h-.6zM127.3 57.0h.6v.6h-.6zM127.7 57.6h.6v.6h-.6zM117.1 77.6h.6v.6h-.6zM118.8 71.7h.6v.6h-.6zM130.2 62.5h.6v.6h-.6zM130.6 82.6h.6v.6h-.6zM131.8 61.2h.6v.6h-.6zM115.6 79.7h.6v.6h-.6zM135.7 65.0h.6v.6h-.6zM120.9 75.0h.6v.6h-.6zM128.2 79.6h.6v.6h-.6zM124.0 73.0h.6v.6h-.6zM126.8 72.3h.6v.6h-.6zM121.8 62.9h.6v.6h-.6zM124.7 69.2h.6v.6h-.6zM122.7 72.6h.6v.6h-.6zM119.1 80.9h.6v.6h-.6zM129.9 73.8h.6v.6h-.6zM120.4 77.4h.6v.6h-.6zM127.9 70.7h.6v.6h-.6zM127.9 61.5h.6v.6h-.6zM122.8 84.7h.6v.6h-.6zM129.5 69.5h.6v.6h-.6zM124.7 88.6h.6v.6h-.6zM130.1 65.2h.6v.6h-.6zM125.8 69.6h.6v.6h-.6zM120.8 67.5h.6v.6h-.6zM128.0 87.0h.6v.6h-.6zM128.9 61.8h.6v.6h-.6zM127.1 61.9h.6v.6h-.6zM125.4 80.6h.6v.6h-.6zM132.3 69.7h.6v.6h-.6zM126.0 73.0h.6v.6h-.6zM123.3 85.5h.6v.6h-.6zM119.0 66.2h.6v.6h-.6zM133.8 83.7h.6v.6h-.6zM115.4 86.2h.6v.6h-.6zM128.6 68.2h.6v.6h-.6zM119.0 78.5h.6v.6h-.6zM122.4 80.9h.6v.6h-.6zM120.7 84.5h.6v.6h-.6zM120.7 87.6h.6v.6h-.6zM129.1 78.9h.6v.6h-.6zM122.1 73.8h.6v.6h-.6zM123.7 82.6h.6v.6h-.6zM120.6 70.8h.6v.6h-.6zM123.0 77.3h.6v.6h-.6zM123.8 73.8h.6v.6h-.6zM117.0 74.3h.6v.6h-.6zM118.3 85.1h.6v.6h-.6zM124.0 78.9h.6v.6h-.6zM117.0 78.3h.6v.6h-.6zM126.3 65.3h.6v.6h-.6zM120.6 72.6h.6v.6h-.6zM125.0 75.5h.6v.6h-.6zM116.4 81.3h.6v.6h-.6zM125.3 75.3h.6v.6h-.6zM119.4 76.5h.6v.6h-.6zM131.2 77.6h.6v.6h-.6zM120.8 87.3h.6v.6h-.6zM121.9 69.2h.6v.6h-.6zM130.4 72.3h.6v.6h-.6zM136.8 64.3h.6v.6h-.6zM124.9 78.7h.6v.6h-.6zM125.6 70.3h.6v.6h-.6zM124.2 73.8h.6v.6h-.6zM124.1 73.9h.6v.6h-.6zM115.7 85.6h.6v.6h-.6zM120.8 74.4h.6v.6h-.6zM119.8 75.3h.6v.6h-.6zM129.6 79.4h.6v.6h-.6zM126.0 74.0h.6v.6h-.6zM121.3 73.9h.6v.6h-.6zM125.5 72.1h.6v.6h-.6zM118.8 77.9h.6v.6h-.6zM125.9 69.0h.6v.6h-.6zM126.8 67.1h.6v.6h-.6zM122.8 85.7h.6v.6h-.6zM131.3 61.2h.6v.6h-.6zM118.1 74.3h.6v.6h-.6zM136.6 66.5h.6v.6h-.6zM125.6 69.5h.6v.6h-.6zM131.5 76.1h.6v.6h-.6zM114.7 74.1h.6v.6h-.6zM114.1 72.3h.6v.6h-.6zM119.7 67.5h.6v.6h-.6zM120.7 81.1h.6v.6h-.6zM130.4 70.8h.6v.6h-.6zM128.2 62.0h.6v.6h-.6zM132.3 84.9h.6v.6h-.6zM123.4 78.5h.6v.6h-.6zM126.2 57.6h.6v.6h-.6zM129.8 73.8h.6v.6h-.6zM115.3 76.7h.6v.6h-.6zM130.6 74.0h.6v.6h-.6zM116.6 74.8h.6v.6h-.6zM120.4 77.5h.6v.6h-.6zM120.3 76.8h.6v.6h-.6zM123.2 64.2h.6v.6h-.6zM126.4 74.4h.6v.6h-.6zM120.4 81.6h.6v.6h-.6zM136.8 54.8h.6v.6h-.6zM125.4 79.1h.6v.6h-.6zM124.3 69.8h.6v.6h-.6zM136.3 62.7h.6v.6h-.6zM123.4 69.9h.6v.6h-.6zM130.9 54.7h.6v.6h-.6zM119.2 73.9h.6v.6h-.6zM125.9 75.3h.6v.6h-.6zM129.6 69.6h.6v.6h-.6zM120.1 76.1h.6v.6h-.6zM119.4 73.3h.6v.6h-.6zM121.5 77.8h.6v.6h-.6zM128.8 63.3h.6v.6h-.6zM120.9 75.9h.6v.6h-.6zM124.2 72.2h.6v.6h-.6zM127.4 70.4h.6v.6h-.6zM114.6 89.3h.6v.6h-.6zM117.3 89.8h.6v.6h-.6zM125.6 75.3h.6v.6h-.6zM116.1 81.0h.6v.6h-.6zM123.0 68.8h.6v.6h-.6zM127.2 77.3h.6v.6h-.6zM130.7 61.3h.6v.6h-.6zM119.9 86.4h.6v.6h-.6zM127.1 77.8h.6v.6h-.6zM121.3 78.3h.6v.6h-.6zM128.7 62.7h.6v.6h-.6zM120.5 78.1h.6v.6h-.6zM131.8 66.3h.6v.6h-.6zM127.9 65.9h.6v.6h-.6zM117.8 82.5h.6v.6h-.6zM118.7 77.9h.6v.6h-.6zM121.3 79.6h.6v.6h-.6zM117.4 68.7h.6v.6h-.6zM116.6 77.6h.6v.6h-.6zM131.2 75.3h.6v.6h-.6zM125.3 72.4h.6v.6h-.6zM130.9 69.1h.6v.6h-.6zM129.9 79.8h.6v.6h-.6zM127.9 74.4h.6v.6h-.6zM126.3 72.1h.6v.6h-.6zM125.8 67.0h.6v.6h-.6zM119.7 87.7h.6v.6h-.6zM123.5 62.7h.6v.6h-.6zM131.5 78.7h.6v.6h-.6zM126.6 63.9h.6v.6h-.6zM134.7 74.8h.6v.6h-.6zM130.9 68.0h.6v.6h-.6zM126.5 70.7h.6v.6h-.6zM122.9 66.8h.6v.6h-.6zM119.9 73.2h.6v.6h-.6zM124.4 80.6h.6v.6h-.6zM127.2 59.7h.6v.6h-.6zM129.8 60.0h.6v.6h-.6zM126.8 70.9h.6v.6h-.6zM124.5 70.4h.6v.6h-.6zM118.4 88.8h.6v.6h-.6zM110.9 76.3h.6v.6h-.6zM131.3 69.3h.6v.6h-.6zM124.2 68.0h.6v.6h-.6zM118.0 81.9h.6v.6h-.6zM123.2 76.9h.6v.6h-.6zM128.3 59.4h.6v.6h-.6zM118.4 72.9h.6v.6h-.6zM125.3 78.0h.6v.6h-.6zM118.4 76.0h.6v.6h-.6zM123.5 73.5h.6v.6h-.6zM132.5 63.4h.6v.6h-.6zM124.9 57.3h.6v.6h-.6zM123.4 75.1h.6v.6h-.6zM127.9 67.9h.6v.6h-.6zM121.0 67.5h.6v.6h-.6zM114.7 68.0h.6v.6h-.6zM124.6 67.0h.6v.6h-.6zM130.8 59.1h.6v.6h-.6zM133.1 65.1h.6v.6h-.6zM115.0 64.2h.6v.6h-.6zM119.1 72.5h.6v.6h-.6zM126.0 63.7h.6v.6h-.6zM140.7 69.2h.6v.6h-.6zM123.1 70.7h.6v.6h-.6zM138.8 59.2h.6v.6h-.6zM128.2 81.6h.6v.6h-.6zM119.0 81.3h.6v.6h-.6zM121.4 85.4h.6v.6h-.6zM132.1 72.7h.6v.6h-.6zM125.1 64.9h.6v.6h-.6zM137.6 76.0h.6v.6h-.6zM128.2 82.0h.6v.6h-.6zM124.3 66.1h.6v.6h-.6zM129.4 64.0h.6v.6h-.6zM121.3 81.1h.6v.6h-.6zM115.6 79.7h.6v.6h-.6zM122.6 66.9h.6v.6h-.6zM117.6 76.7h.6v.6h-.6zM122.6 76.2h.6v.6h-.6zM116.0 79.8h.6v.6h-.6zM117.3 72.8h.6v.6h-.6zM129.5 65.9h.6v.6h-.6zM121.5 70.0h.6v.6h-.6zM124.2 79.9h.6v.6h-.6zM122.3 79.9h.6v.6h-.6zM117.0 81.8h.6v.6h-.6zM123.6 74.9h.6v.6h-.6zM119.1 72.9h.6v.6h-.6zM125.9 64.6h.6v.6h-.6zM128.4 68.2h.6v.6h-.6zM126.7 64.5h.6v.6h-.6zM115.3 84.2h.6v.6h-.6zM128.0 71.3h.6v.6h-.6zM127.8 71.6h.6v.6h-.6zM127.8 72.7h.6v.6h-.6zM118.9 85.1h.6v.6h-.6zM123.4 68.0h.6v.6h-.6zM123.0 75.2h.6v.6h-.6zM125.0 77.5h.6v.6h-.6zM121.0 61.7h.6v.6h-.6zM119.6 80.1h.6v.6h-.6zM130.4 56.2h.6v.6h-.6zM124.8 81.5h.6v.6h-.6zM116.6 90.9h.6v.6h-.6zM120.1 75.9h.6v.6h-.6zM121.6 88.3h.6v.6h-.6zM129.3 71.9h.6v.6h-.6zM122.3 63.5h.6v.6h-.6zM122.7 70.8h.6v.6h-.6zM123.6 61.1h.6v.6h-.6zM131.3 76.0h.6v.6h-.6zM133.1 64.3h.6v.6h-.6zM124.1 65.6h.6v.6h-.6zM129.2 69.4h.6v.6h-.6zM133.6 73.3h.6v.6h-.6zM128.6 75.2h.6v.6h-.6zM116.2 84.4h.6v.6h-.6zM115.4 81.9h.6v.6h-.6zM127.6 63.9h.6v.6h-.6zM120.8 75.1h.6v.6h-.6zM125.8 75.2h.6v.6h-.6zM124.5 67.8h.6v.6h-.6zM125.9 90.6h.6v.6h-.6zM121.1 87.3h.6v.6h-.6zM117.7 73.7h.6v.6h-.6zM131.6 75.4h.6v.6h-.6zM133.2 72.6h.6v.6h-.6zM120.9 76.7h.6v.6h-.6zM121.8 83.0h.6v.6h-.6zM127.6 80.6h.6v.6h-.6zM120.4 74.7h.6v.6h-.6zM121.9 73.0h.6v.6h-.6zM123.4 83.6h.6v.6h-.6zM125.0 81.8h.6v.6h-.6zM125.4 60.8h.6v.6h-.6zM116.6 77.6h.6v.6h-.6zM130.6 70.0h.6v.6h-.6zM116.1 80.1h.6v.6h-.6zM122.8 79.0h.6v.6h-.6zM128.8 73.1h.6v.6h-.6zM120.7 69.0h.6v.6h-.6zM122.3 74.7h.6v.6h-.6zM126.2 69.5h.6v.6h-.6zM120.7 79.7h.6v.6h-.6zM128.7 73.1h.6v.6h-.6zM118.6 75.4h.6v.6h-.6zM136.2 58.9h.6v.6h-.6zM122.2 81.7h.6v.6h-.6zM118.9 75.2h.6v.6h-.6zM131.3 76.4h.6v.6h-.6zM114.3 84.5h.6v.6h-.6zM122.5 65.4h.6v.6h-.6zM130.1 66.6h.6v.6h-.6zM124.0 68.2h.6v.6h-.6zM128.6 77.6h.6v.6h-.6zM128.6 88.1h.6v.6h-.6zM127.7 69.8h.6v.6h-.6zM127.4 74.8h.6v.6h-.6zM128.6 55.2h.6v.6h-.6zM129.4 85.5h.6v.6h-.6zM129.6 67.1h.6v.6h-.6zM136.8 72.5h.6v.6h-.6zM136.5 74.4h.6v.6h-.6zM123.7 64.4h.6v.6h-.6zM126.0 78.2h.6v.6h-.6zM123.4 67.0h.6v.6h-.6zM130.2 66.7h.6v.6h-.6zM133.3 66.1h.6v.6h-.6zM127.7 71.3h.6v.6h-.6zM127.9 77.3h.6v.6h-.6zM114.0 77.5h.6v.6h-.6zM122.5 72.7h.6v.6h-.6zM125.1 83.0h.6v.6h-.6zM119.9 82.2h.6v.6h-.6zM123.3 71.3h.6v.6h-.6zM117.2 74.5h.6v.6h-.6zM119.3 81.7h.6v.6h-.6zM133.7 73.2h.6v.6h-.6zM129.3 66.4h.6v.6h-.6zM129.1 66.4h.6v.6h-.6zM120.2 79.7h.6v.6h-.6zM121.7 81.3h.6v.6h-.6zM126.0 72.3h.6v.6h-.6zM122.0 78.0h.6v.6h-.6zM126.7 74.3h.6v.6h-.6zM131.4 66.7h.6v.6h-.6zM117.7 70.3h.6v.6h-.6zM119.9 71.7h.6v.6h-.6zM124.5 86.6h.6v.6h-.6zM119.7 72.3h.6v.6h-.6zM122.3 69.6h.6v.6h-.6zM121.0 82.2h.6v.6h-.6zM132.2 65.3h.6v.6h-.6zM124.8 81.2h.6v.6h-.6zM127.0 72.2h.6v.6h-.6zM127.1 72.7h.6v.6h-.6zM121.5 80.5h.6v.6h-.6zM121.7 73.4h.6v.6h-.6zM126.8 65.6h.6v.6h-.6zM129.0 67.1h.6v.6h-.6zM119.8 81.7h.6v.6h-.6zM128.7 78.9h.6v.6h-.6zM132.3 63.1h.6v.6h-.6zM123.7 68.0h.6v.6h-.6zM121.0 83.0h.6v.6h-.6zM126.7 75.2h.6v.6h-.6zM127.2 70.2h.6v.6h-.6zM131.8 63.3h.6v.6h-.6zM128.5 68.1h.6v.6h-.6zM122.9 80.4h.6v.6h-.6zM120.6 72.1h.6v.6h-.6zM131.3 73.1h.6v.6h-.6zM125.2 77.3h.6v.6h-.6zM128.1 78.1h.6v.6h-.6zM127.4 77.4h.6v.6h-.6zM126.5 74.3h.6v.6h-.6zM130.8 55.6h.6v.6h-.6zM129.2 71.7h.6v.6h-.6zM125.7 72.0h.6v.6h-.6zM120.9 80.8h.6v.6h-.6zM118.3 71.6h.6v.6h-.6zM119.3 88.8h.6v.6h-.6zM124.5 74.0h.6v.6h-.6zM116.9 79.5h.6v.6h-.6zM129.0 63.8h.6v.6h-.6zM124.7 75.2h.6v.6h-.6zM127.6 78.6h.6v.6h-.6zM134.9 67.3h.6v.6h-.6zM124.4 69.6h.6v.6h-.6zM129.4 70.5h.6v.6h-.6zM126.7 77.2h.6v.6h-.6zM123.4 73.3h.6v.6h-.6zM125.1 74.4h.6v.6h-.6zM124.5 72.8h.6v.6h-.6zM124.0 82.4h.6v.6h-.6zM121.0 76.7h.6v.6h-.6zM124.3 81.3h.6v.6h-.6zM121.5 74.2h.6v.6h-.6zM121.6 81.2h.6v.6h-.6zM127.7 74.8h.6v.6h-.6zM125.1 88.8h.6v.6h-.6zM125.9 60.0h.6v.6h-.6zM116.5 69.6h.6v.6h-.6zM122.0 65.2h.6v.6h-.6zM124.3 64.3h.6v.6h-.6zM123.9 69.9h.6v.6h-.6zM126.9 73.1h.6v.6h-.6zM119.0 89.5h.6v.6h-.6zM118.2 74.2h.6v.6h-.6zM116.7 85.4h.6v.6h-.6zM129.2 70.1h.6v.6h-.6zM111.1 87.6h.6v.6h-.6zM133.7 61.9h.6v.6h-.6zM126.7 78.5h.6v.6h-.6zM124.4 65.8h.6v.6h-.6zM123.1 70.3h.6v.6h-.6zM127.1 60.1h.6v.6h-.6zM126.9 72.7h.6v.6h-.6zM115.8 72.4h.6v.6h-.6zM127.0 80.9h.6v.6h-.6zM128.8 90.9h.6v.6h-.6zM125.1 65.1h.6v.6h-.6zM124.3 68.9h.6v.6h-.6zM111.2 89.4h.6v.6h-.6zM118.8 70.9h.6v.6h-.6zM133.8 63.3h.6v.6h-.6zM119.5 82.6h.6v.6h-.6zM134.1 54.7h.6v.6h-.6zM118.2 73.4h.6v.6h-.6zM128.3 73.0h.6v.6h-.6zM130.2 60.0h.6v.6h-.6zM123.5 84.4h.6v.6h-.6zM114.2 87.7h.6v.6h-.6zM119.6 78.7h.6v.6h-.6zM118.4 81.9h.6v.6h-.6zM128.3 70.2h.6v.6h-.6zM133.0 61.3h.6v.6h-.6zM129.4 62.6h.6v.6h-.6zM129.3 76.4h.6v.6h-.6zM120.2 87.4h.6v.6h-.6zM123.9 64.6h.6v.6h-.6zM122.4 81.4h.6v.6h-.6zM124.4 80.2h.6v.6h-.6zM131.9 74.8h.6v.6h-.6zM127.2 73.6h.6v.6h-.6zM126.8 82.4h.6v.6h-.6zM121.0 74.8h.6v.6h-.6zM128.6 64.5h.6v.6h-.6zM129.7 70.8h.6v.6h-.6zM126.9 68.1h.6v.6h-.6zM123.1 83.1h.6v.6h-.6zM118.4 84.8h.6v.6h-.6zM130.4 70.8h.6v.6h-.6zM113.7 73.1h.6v.6h-.6zM126.4 80.0h.6v.6h-.6zM116.7 81.4h.6v.6h-.6zM125.6 62.8h.6v.6h-.6zM125.2 68.2h.6v.6h-.6zM120.1 66.7h.6v.6h-.6zM129.6 74.4h.6v.6h-.6zM119.7 79.6h.6v.6h-.6zM124.7 78.9h.6v.6h-.6zM116.3 84.1h.6v.6h-.6zM129.6 64.4h.6v.6h-.6zM138.3 67.5h.6v.6h-.6zM127.6 82.4h.6v.6h-.6zM134.0 76.7h.6v.6h-.6zM146.6 61.7h.6v.6h-.6zM124.9 76.5h.6v.6h-.6zM126.8 77.0h.6v.6h-.6zM134.0 66.3h.6v.6h-.6zM134.5 61.6h.6v.6h-.6zM124.2 73.4h.6v.6h-.6zM122.3 87.6h.6v.6h-.6zM131.8 64.6h.6v.6h-.6zM119.7 76.1h.6v.6h-.6zM125.0 72.4h.6v.6h-.6zM142.3 66.8h.6v.6h-.6zM135.7 80.8h.6v.6h-.6zM146.7 68.3h.6v.6h-.6zM126.3 74.5h.6v.6h-.6zM132.3 68.9h.6v.6h-.6zM152.3 56.6h.6v.6h-.6zM129.2 70.3h.6v.6h-.6zM136.1 62.2h.6v.6h-.6zM122.5 68.1h.6v.6h-.6zM125.2 72.5h.6v.6h-.6zM157.3 55.8h.6v.6h-.6zM123.6 71.4h.6v.6h-.6zM132.1 68.9h.6v.6h-.6zM130.0 78.9h.6v.6h-.6zM151.7 55.2h.6v.6h-.6zM131.6 68.7h.6v.6h-.6zM133.3 64.3h.6v.6h-.6zM127.1 72.4h.6v.6h-.6zM121.5 80.6h.6v.6h-.6zM121.9 81.2h.6v.6h-.6zM129.5 65.3h.6v.6h-.6zM124.7 72.4h.6v.6h-.6zM158.5 47.3h.6v.6h-.6zM121.2 69.0h.6v.6h-.6zM129.1 80.2h.6v.6h-.6zM135.3 68.2h.6v.6h-.6zM132.2 71.9h.6v.6h-.6zM125.0 70.4h.6v.6h-.6zM137.1 69.4h.6v.6h-.6zM148.5 51.7h.6v.6h-.6zM139.6 68.5h.6v.6h-.6zM127.9 75.6h.6v.6h-.6zM119.9 82.6h.6v.6h-.6zM128.8 70.7h.6v.6h-.6zM123.6 74.9h.6v.6h-.6zM145.9 65.0h.6v.6h-.6zM143.5 75.4h.6v.6h-.6zM162.4 60.5h.6v.6h-.6zM132.8 73.5h.6v.6h-.6zM122.9 67.9h.6v.6h-.6zM120.8 74.3h.6v.6h-.6zM127.8 68.0h.6v.6h-.6zM128.9 73.2h.6v.6h-.6zM135.6 66.8h.6v.6h-.6zM127.2 75.1h.6v.6h-.6zM143.8 60.6h.6v.6h-.6zM121.8 72.5h.6v.6h-.6zM143.5 53.8h.6v.6h-.6zM130.0 70.1h.6v.6h-.6zM134.7 75.3h.6v.6h-.6zM127.4 69.6h.6v.6h-.6zM132.3 69.9h.6v.6h-.6zM132.6 64.1h.6v.6h-.6zM145.9 56.1h.6v.6h-.6zM133.7 71.9h.6v.6h-.6zM140.6 61.5h.6v.6h-.6zM129.2 66.6h.6v.6h-.6zM132.6 61.3h.6v.6h-.6zM129.8 62.8h.6v.6h-.6zM123.9 69.5h.6v.6h-.6zM135.5 70.1h.6v.6h-.6zM122.6 76.7h.6v.6h-.6zM125.5 75.1h.6v.6h-.6zM125.0 70.0h.6v.6h-.6zM130.0 73.2h.6v.6h-.6zM123.7 74.9h.6v.6h-.6zM142.1 74.2h.6v.6h-.6zM127.8 72.7h.6v.6h-.6zM142.6 61.5h.6v.6h-.6zM127.5 69.8h.6v.6h-.6zM121.8 77.3h.6v.6h-.6zM150.9 63.3h.6v.6h-.6zM125.3 71.1h.6v.6h-.6zM131.2 73.1h.6v.6h-.6zM146.0 59.6h.6v.6h-.6zM129.3 79.8h.6v.6h-.6zM128.5 68.3h.6v.6h-.6zM141.2 55.3h.6v.6h-.6zM138.1 72.6h.6v.6h-.6zM128.9 68.2h.6v.6h-.6zM125.8 73.4h.6v.6h-.6zM130.7 68.4h.6v.6h-.6zM127.7 61.3h.6v.6h-.6zM133.8 68.8h.6v.6h-.6zM154.2 56.6h.6v.6h-.6zM128.8 73.2h.6v.6h-.6zM139.8 62.7h.6v.6h-.6zM123.7 70.4h.6v.6h-.6zM127.8 77.5h.6v.6h-.6zM144.9 61.4h.6v.6h-.6zM128.8 77.9h.6v.6h-.6zM127.8 69.6h.6v.6h-.6zM124.3 72.1h.6v.6h-.6zM145.3 58.1h.6v.6h-.6zM127.1 73.2h.6v.6h-.6zM146.7 60.4h.6v.6h-.6zM134.1 66.5h.6v.6h-.6zM129.2 67.3h.6v.6h-.6zM129.2 68.5h.6v.6h-.6zM128.3 75.2h.6v.6h-.6zM141.8 59.9h.6v.6h-.6zM118.7 80.6h.6v.6h-.6zM157.1 58.6h.6v.6h-.6zM122.9 80.6h.6v.6h-.6zM134.7 78.0h.6v.6h-.6zM137.1 70.8h.6v.6h-.6zM126.1 74.8h.6v.6h-.6zM125.9 75.6h.6v.6h-.6zM128.0 72.6h.6v.6h-.6zM128.4 79.9h.6v.6h-.6zM132.3 72.5h.6v.6h-.6zM132.8 71.6h.6v.6h-.6zM118.2 73.7h.6v.6h-.6zM134.6 64.1h.6v.6h-.6zM158.0 60.9h.6v.6h-.6zM133.3 72.9h.6v.6h-.6zM133.1 74.8h.6v.6h-.6zM125.3 67.5h.6v.6h-.6zM128.1 72.9h.6v.6h-.6zM130.9 73.4h.6v.6h-.6zM143.1 71.6h.6v.6h-.6zM130.4 72.5h.6v.6h-.6zM160.3 52.4h.6v.6h-.6zM147.4 62.1h.6v.6h-.6zM122.5 81.5h.6v.6h-.6zM124.6 73.5h.6v.6h-.6zM139.9 65.9h.6v.6h-.6zM139.4 66.9h.6v.6h-.6zM138.2 71.2h.6v.6h-.6zM133.9 68.7h.6v.6h-.6zM137.3 63.1h.6v.6h-.6zM123.6 82.1h.6v.6h-.6zM126.3 68.4h.6v.6h-.6zM125.5 66.8h.6v.6h-.6zM134.7 69.2h.6v.6h-.6zM142.6 72.0h.6v.6h-.6zM131.2 75.4h.6v.6h-.6zM138.4 76.9h.6v.6h-.6zM141.5 64.0h.6v.6h-.6zM152.7 54.9h.6v.6h-.6zM128.4 69.1h.6v.6h-.6zM124.6 70.4h.6v.6h-.6zM123.1 75.8h.6v.6h-.6zM118.8 74.7h.6v.6h-.6zM129.9 60.2h.6v.6h-.6zM123.8 74.8h.6v.6h-.6zM130.5 71.6h.6v.6h-.6zM129.2 67.9h.6v.6h-.6zM136.1 60.2h.6v.6h-.6zM128.8 66.5h.6v.6h-.6zM133.8 73.2h.6v.6h-.6zM143.4 68.6h.6v.6h-.6zM141.2 66.4h.6v.6h-.6zM128.7 70.0h.6v.6h-.6zM135.4 78.2h.6v.6h-.6zM128.3 82.7h.6v.6h-.6zM130.8 78.2h.6v.6h-.6zM152.4 57.1h.6v.6h-.6zM131.9 60.2h.6v.6h-.6zM132.9 74.4h.6v.6h-.6zM126.1 81.1h.6v.6h-.6zM136.2 64.9h.6v.6h-.6zM121.2 70.9h.6v.6h-.6zM128.0 74.3h.6v.6h-.6zM126.2 75.7h.6v.6h-.6zM150.4 57.3h.6v.6h-.6zM147.0 57.4h.6v.6h-.6zM133.4 58.7h.6v.6h-.6zM142.6 65.2h.6v.6h-.6zM130.0 62.7h.6v.6h-.6zM133.5 66.9h.6v.6h-.6zM125.9 67.2h.6v.6h-.6zM125.2 71.9h.6v.6h-.6zM147.7 65.5h.6v.6h-.6zM132.0 65.3h.6v.6h-.6zM130.0 71.2h.6v.6h-.6zM123.5 64.8h.6v.6h-.6zM132.4 69.4h.6v.6h-.6zM152.1 56.5h.6v.6h-.6zM136.4 63.4h.6v.6h-.6zM137.1 64.4h.6v.6h-.6zM139.4 64.6h.6v.6h-.6zM123.6 65.6h.6v.6h-.6zM139.6 57.5h.6v.6h-.6zM128.8 64.0h.6v.6h-.6zM135.8 73.0h.6v.6h-.6zM126.8 68.0h.6v.6h-.6zM133.7 72.8h.6v.6h-.6zM129.6 73.5h.6v.6h-.6zM144.9 64.3h.6v.6h-.6zM126.9 79.9h.6v.6h-.6zM126.0 72.9h.6v.6h-.6zM125.0 64.4h.6v.6h-.6zM131.4 66.1h.6v.6h-.6zM122.1 74.4h.6v.6h-.6zM134.0 69.6h.6v.6h-.6zM143.8 59.2h.6v.6h-.6zM129.1 73.3h.6v.6h-.6zM130.7 69.0h.6v.6h-.6zM131.2 72.4h.6v.6h-.6zM117.7 75.2h.6v.6h-.6zM131.0 77.0h.6v.6h-.6zM131.8 75.1h.6v.6h-.6zM125.2 79.5h.6v.6h-.6zM131.4 67.4h.6v.6h-.6zM140.6 68.2h.6v.6h-.6zM118.8 78.7h.6v.6h-.6zM146.0 63.6h.6v.6h-.6zM129.1 77.1h.6v.6h-.6zM124.4 76.9h.6v.6h-.6zM137.9 68.3h.6v.6h-.6zM137.2 67.1h.6v.6h-.6zM118.2 65.0h.6v.6h-.6zM129.0 66.6h.6v.6h-.6zM127.7 65.7h.6v.6h-.6zM126.5 79.4h.6v.6h-.6zM127.8 72.7h.6v.6h-.6zM130.0 72.4h.6v.6h-.6zM128.5 71.2h.6v.6h-.6zM134.5 61.7h.6v.6h-.6zM134.6 65.6h.6v.6h-.6zM142.8 63.2h.6v.6h-.6zM135.3 72.1h.6v.6h-.6zM160.7 63.0h.6v.6h-.6zM149.3 63.8h.6v.6h-.6zM145.6 69.6h.6v.6h-.6zM125.9 73.1h.6v.6h-.6zM128.2 71.7h.6v.6h-.6zM143.1 70.4h.6v.6h-.6zM132.0 64.9h.6v.6h-.6zM140.5 66.2h.6v.6h-.6zM126.9 74.3h.6v.6h-.6zM129.6 79.8h.6v.6h-.6zM127.3 74.7h.6v.6h-.6zM123.3 66.6h.6v.6h-.6zM131.9 69.8h.6v.6h-.6zM132.9 79.7h.6v.6h-.6zM122.7 68.0h.6v.6h-.6zM144.9 62.0h.6v.6h-.6zM138.4 68.1h.6v.6h-.6zM124.5 73.7h.6v.6h-.6zM130.1 71.9h.6v.6h-.6zM145.0 55.3h.6v.6h-.6zM124.0 71.7h.6v.6h-.6zM120.2 73.1h.6v.6h-.6zM141.2 64.0h.6v.6h-.6zM128.7 68.5h.6v.6h-.6zM139.1 59.3h.6v.6h-.6zM126.0 76.7h.6v.6h-.6zM140.4 69.9h.6v.6h-.6zM136.6 66.8h.6v.6h-.6zM125.9 77.9h.6v.6h-.6zM140.8 62.7h.6v.6h-.6zM123.0 76.4h.6v.6h-.6zM126.8 68.7h.6v.6h-.6zM127.2 66.4h.6v.6h-.6zM133.4 65.5h.6v.6h-.6zM140.1 68.1h.6v.6h-.6zM145.8 65.5h.6v.6h-.6zM139.7 71.7h.6v.6h-.6zM125.5 67.5h.6v.6h-.6zM136.5 68.8h.6v.6h-.6zM142.6 68.8h.6v.6h-.6zM157.4 52.9h.6v.6h-.6zM147.3 55.7h.6v.6h-.6zM132.1 67.0h.6v.6h-.6zM123.1 75.6h.6v.6h-.6zM116.5 69.1h.6v.6h-.6zM153.2 63.7h.6v.6h-.6zM128.5 73.1h.6v.6h-.6zM133.5 67.2h.6v.6h-.6zM122.2 77.0h.6v.6h-.6zM120.8 77.1h.6v.6h-.6zM129.3 72.6h.6v.6h-.6zM125.5 68.9h.6v.6h-.6zM122.8 72.7h.6v.6h-.6zM154.6 52.6h.6v.6h-.6zM151.5 63.3h.6v.6h-.6zM148.7 63.1h.6v.6h-.6zM124.9 80.9h.6v.6h-.6zM123.8 74.9h.6v.6h-.6zM128.3 72.3h.6v.6h-.6zM129.9 62.7h.6v.6h-.6zM149.8 51.6h.6v.6h-.6zM130.0 64.9h.6v.6h-.6zM124.8 57.3h.6v.6h-.6zM126.2 72.9h.6v.6h-.6zM117.4 63.6h.6v.6h-.6zM141.9 72.6h.6v.6h-.6zM127.2 63.7h.6v.6h-.6zM148.1 58.2h.6v.6h-.6zM132.6 70.1h.6v.6h-.6zM127.9 79.4h.6v.6h-.6zM122.7 71.5h.6v.6h-.6zM122.9 74.2h.6v.6h-.6zM139.3 63.5h.6v.6h-.6zM151.6 65.6h.6v.6h-.6zM127.9 70.1h.6v.6h-.6zM126.2 64.6h.6v.6h-.6zM139.6 63.0h.6v.6h-.6zM120.3 71.4h.6v.6h-.6zM127.8 75.7h.6v.6h-.6zM123.4 64.1h.6v.6h-.6zM139.6 74.4h.6v.6h-.6zM131.1 65.2h.6v.6h-.6zM127.4 73.6h.6v.6h-.6zM125.5 76.3h.6v.6h-.6zM146.6 61.8h.6v.6h-.6zM128.2 64.9h.6v.6h-.6zM126.6 76.5h.6v.6h-.6zM142.8 54.8h.6v.6h-.6zM141.1 63.6h.6v.6h-.6zM160.7 49.5h.6v.6h-.6zM128.1 66.4h.6v.6h-.6zM129.8 75.0h.6v.6h-.6zM123.7 64.0h.6v.6h-.6zM124.7 77.9h.6v.6h-.6zM130.9 67.3h.6v.6h-.6zM131.7 57.7h.6v.6h-.6zM137.7 69.5h.6v.6h-.6zM120.3 75.6h.6v.6h-.6zM126.0 67.5h.6v.6h-.6zM142.1 60.9h.6v.6h-.6zM132.1 81.2h.6v.6h-.6zM129.0 72.3h.6v.6h-.6zM154.1 58.2h.6v.6h-.6zM129.5 82.6h.6v.6h-.6zM125.8 73.8h.6v.6h-.6zM134.4 70.5h.6v.6h-.6zM129.9 70.8h.6v.6h-.6zM131.7 70.8h.6v.6h-.6zM130.4 66.0h.6v.6h-.6zM138.4 69.6h.6v.6h-.6zM126.4 75.7h.6v.6h-.6zM127.5 73.0h.6v.6h-.6zM127.8 66.0h.6v.6h-.6zM125.0 69.2h.6v.6h-.6zM153.2 58.8h.6v.6h-.6zM121.4 78.8h.6v.6h-.6zM127.0 66.9h.6v.6h-.6zM155.6 54.4h.6v.6h-.6zM130.2 71.4h.6v.6h-.6zM128.5 73.0h.6v.6h-.6zM124.4 71.3h.6v.6h-.6zM126.0 70.2h.6v.6h-.6zM131.8 76.9h.6v.6h-.6zM126.9 73.2h.6v.6h-.6zM136.8 81.7h.6v.6h-.6zM139.6 72.7h.6v.6h-.6zM135.6 64.1h.6v.6h-.6zM130.1 68.9h.6v.6h-.6zM136.5 58.7h.6v.6h-.6zM130.8 64.7h.6v.6h-.6zM130.3 65.8h.6v.6h-.6zM137.9 64.2h.6v.6h-.6zM144.6 66.9h.6v.6h-.6zM128.0 69.4h.6v.6h-.6zM131.9 67.2h.6v.6h-.6zM122.8 73.9h.6v.6h-.6zM120.8 71.6h.6v.6h-.6zM132.4 73.3h.6v.6h-.6zM124.3 82.1h.6v.6h-.6zM142.9 63.9h.6v.6h-.6zM136.8 60.9h.6v.6h-.6zM128.1 74.4h.6v.6h-.6zM130.9 66.2h.6v.6h-.6zM131.2 65.7h.6v.6h-.6zM131.2 74.3h.6v.6h-.6zM146.9 68.3h.6v.6h-.6zM154.3 51.5h.6v.6h-.6zM123.1 82.1h.6v.6h-.6zM127.3 69.6h.6v.6h-.6zM131.9 70.9h.6v.6h-.6zM126.7 70.5h.6v.6h-.6zM126.2 69.1h.6v.6h-.6zM124.2 76.7h.6v.6h-.6zM125.2 70.6h.6v.6h-.6zM128.9 68.8h.6v.6h-.6zM131.9 75.9h.6v.6h-.6zM150.1 63.6h.6v.6h-.6zM125.1 74.8h.6v.6h-.6zM141.4 54.2h.6v.6h-.6zM128.4 71.8h.6v.6h-.6zM137.2 65.9h.6v.6h-.6zM136.5 67.8h.6v.6h-.6zM124.3 84.4h.6v.6h-.6zM128.3 64.5h.6v.6h-.6zM143.6 60.3h.6v.6h-.6zM139.9 65.2h.6v.6h-.6zM129.1 68.9h.6v.6h-.6zM123.4 58.5h.6v.6h-.6zM133.1 68.4h.6v.6h-.6zM148.7 66.2h.6v.6h-.6zM125.9 77.5h.6v.6h-.6zM120.6 75.4h.6v.6h-.6zM129.0 71.4h.6v.6h-.6zM130.1 68.5h.6v.6h-.6zM127.3 67.4h.6v.6h-.6zM126.7 75.9h.6v.6h-.6zM129.4 77.9h.6v.6h-.6zM123.1 70.8h.6v.6h-.6zM130.9 71.4h.6v.6h-.6zM151.7 65.6h.6v.6h-.6zM120.9 69.1h.6v.6h-.6zM125.3 73.9h.6v.6h-.6zM124.7 71.0h.6v.6h-.6zM130.0 67.3h.6v.6h-.6zM126.0 67.6h.6v.6h-.6zM126.0 70.9h.6v.6h-.6zM150.3 56.5h.6v.6h-.6zM125.3 67.6h.6v.6h-.6zM126.9 78.4h.6v.6h-.6zM142.2 66.5h.6v.6h-.6zM123.0 68.1h.6v.6h-.6zM131.0 71.9h.6v.6h-.6zM129.9 77.0h.6v.6h-.6zM136.3 70.8h.6v.6h-.6zM122.6 75.7h.6v.6h-.6zM135.1 63.5h.6v.6h-.6zM127.4 82.6h.6v.6h-.6zM154.9 57.2h.6v.6h-.6zM129.4 71.6h.6v.6h-.6zM126.2 74.0h.6v.6h-.6zM133.0 68.4h.6v.6h-.6zM141.6 68.2h.6v.6h-.6zM138.4 59.9h.6v.6h-.6zM124.4 74.9h.6v.6h-.6zM129.1 69.3h.6v.6h-.6zM124.4 69.5h.6v.6h-.6zM127.1 75.4h.6v.6h-.6zM140.2 61.7h.6v.6h-.6zM124.5 73.1h.6v.6h-.6zM136.3 76.0h.6v.6h-.6zM127.8 75.3h.6v.6h-.6zM135.6 73.4h.6v.6h-.6zM126.5 71.6h.6v.6h-.6zM126.4 78.2h.6v.6h-.6zM122.3 69.8h.6v.6h-.6zM136.9 64.3h.6v.6h-.6zM129.4 69.0h.6v.6h-.6zM131.2 74.6h.6v.6h-.6zM139.7 62.6h.6v.6h-.6zM130.1 71.9h.6v.6h-.6zM125.4 74.5h.6v.6h-.6zM126.8 64.9h.6v.6h-.6zM123.5 84.4h.6v.6h-.6zM130.8 74.9h.6v.6h-.6zM134.2 63.8h.6v.6h-.6zM127.7 69.3h.6v.6h-.6zM132.7 77.6h.6v.6h-.6zM120.6 78.9h.6v.6h-.6zM124.5 77.1h.6v.6h-.6zM134.3 75.0h.6v.6h-.6zM135.1 74.0h.6v.6h-.6zM133.2 59.0h.6v.6h-.6zM126.4 74.9h.6v.6h-.6zM131.1 74.7h.6v.6h-.6zM128.0 65.0h.6v.6h-.6zM126.1 70.4h.6v.6h-.6zM122.6 79.4h.6v.6h-.6zM121.8 67.4h.6v.6h-.6zM136.2 68.5h.6v.6h-.6zM140.4 56.4h.6v.6h-.6zM129.8 77.8h.6v.6h-.6zM135.1 77.4h.6v.6h-.6zM133.5 68.3h.6v.6h-.6zM124.1 74.0h.6v.6h-.6zM129.0 72.4h.6v.6h-.6zM137.1 68.5h.6v.6h-.6zM123.1 71.5h.6v.6h-.6zM120.2 73.7h.6v.6h-.6zM132.2 71.9h.6v.6h-.6zM125.4 75.2h.6v.6h-.6zM123.7 77.1h.6v.6h-.6zM142.6 67.3h.6v.6h-.6zM114.5 77.4h.6v.6h-.6zM121.5 68.6h.6v.6h-.6zM134.2 64.2h.6v.6h-.6zM127.8 73.7h.6v.6h-.6zM126.9 85.0h.6v.6h-.6zM119.8 83.3h.6v.6h-.6zM161.2 48.9h.6v.6h-.6zM134.7 68.9h.6v.6h-.6zM133.5 64.4h.6v.6h-.6zM151.7 53.3h.6v.6h-.6zM125.5 75.6h.6v.6h-.6zM118.6 66.8h.6v.6h-.6zM126.9 75.7h.6v.6h-.6zM126.1 71.0h.6v.6h-.6zM123.5 74.6h.6v.6h-.6zM125.8 72.3h.6v.6h-.6zM140.7 59.8h.6v.6h-.6zM127.3 74.8h.6v.6h-.6zM128.2 71.1h.6v.6h-.6zM139.4 77.2h.6v.6h-.6zM128.6 69.7h.6v.6h-.6zM126.2 74.5h.6v.6h-.6zM128.1 66.0h.6v.6h-.6zM133.6 80.0h.6v.6h-.6zM134.7 58.7h.6v.6h-.6zM153.8 55.4h.6v.6h-.6zM116.1 64.7h.6v.6h-.6zM121.0 72.0h.6v.6h-.6zM118.9 73.2h.6v.6h-.6zM130.9 63.3h.6v.6h-.6zM124.4 72.3h.6v.6h-.6zM135.9 69.7h.6v.6h-.6zM128.9 73.3h.6v.6h-.6zM129.5 69.8h.6v.6h-.6zM139.0 67.7h.6v.6h-.6zM122.9 82.4h.6v.6h-.6zM130.0 68.0h.6v.6h-.6zM130.8 73.2h.6v.6h-.6zM128.4 68.0h.6v.6h-.6zM141.9 62.3h.6v.6h-.6zM127.5 76.3h.6v.6h-.6zM122.0 77.4h.6v.6h-.6zM140.4 72.9h.6v.6h-.6zM129.7 70.0h.6v.6h-.6zM131.1 74.8h.6v.6h-.6zM137.8 74.9h.6v.6h-.6zM125.3 77.2h.6v.6h-.6zM124.2 77.7h.6v.6h-.6zM138.5 65.6h.6v.6h-.6zM131.5 76.2h.6v.6h-.6zM125.5 83.4h.6v.6h-.6zM121.8 74.6h.6v.6h-.6zM127.9 70.3h.6v.6h-.6zM120.8 76.9h.6v.6h-.6zM121.5 71.7h.6v.6h-.6zM132.7 77.2h.6v.6h-.6zM132.4 60.7h.6v.6h-.6zM129.4 74.0h.6v.6h-.6zM139.3 66.2h.6v.6h-.6zM135.0 74.9h.6v.6h-.6zM133.6 72.0h.6v.6h-.6zM133.4 67.4h.6v.6h-.6zM129.3 75.4h.6v.6h-.6zM159.3 49.9h.6v.6h-.6zM130.1 67.1h.6v.6h-.6zM145.2 62.9h.6v.6h-.6zM130.1 69.2h.6v.6h-.6zM142.1 69.8h.6v.6h-.6zM150.3 56.3h.6v.6h-.6zM140.4 59.2h.6v.6h-.6zM126.5 77.9h.6v.6h-.6zM131.4 77.0h.6v.6h-.6zM131.0 73.3h.6v.6h-.6zM118.6 77.7h.6v.6h-.6zM126.7 66.3h.6v.6h-.6zM115.8 80.6h.6v.6h-.6zM120.6 70.3h.6v.6h-.6zM130.8 72.9h.6v.6h-.6zM128.6 72.9h.6v.6h-.6zM126.4 77.9h.6v.6h-.6zM127.0 77.2h.6v.6h-.6zM139.1 71.1h.6v.6h-.6zM141.8 64.8h.6v.6h-.6zM122.2 81.1h.6v.6h-.6zM128.1 80.4h.6v.6h-.6zM127.7 69.0h.6v.6h-.6zM126.6 75.4h.6v.6h-.6zM126.9 75.0h.6v.6h-.6zM131.2 72.6h.6v.6h-.6zM142.3 56.6h.6v.6h-.6zM124.9 70.9h.6v.6h-.6zM130.7 66.2h.6v.6h-.6zM120.0 73.3h.6v.6h-.6zM129.9 71.8h.6v.6h-.6zM125.5 71.5h.6v.6h-.6zM136.9 61.2h.6v.6h-.6zM132.9 69.0h.6v.6h-.6zM137.1 65.5h.6v.6h-.6zM136.1 67.1h.6v.6h-.6zM133.7 75.7h.6v.6h-.6zM129.5 80.4h.6v.6h-.6zM137.6 55.0h.6v.6h-.6zM146.7 76.3h.6v.6h-.6zM130.1 79.7h.6v.6h-.6zM128.3 68.8h.6v.6h-.6zM139.5 67.1h.6v.6h-.6zM124.7 70.2h.6v.6h-.6zM154.7 69.7h.6v.6h-.6zM127.0 67.8h.6v.6h-.6zM126.0 79.1h.6v.6h-.6zM148.9 58.9h.6v.6h-.6zM128.8 73.3h.6v.6h-.6zM125.0 73.5h.6v.6h-.6zM141.8 58.2h.6v.6h-.6zM124.5 64.7h.6v.6h-.6zM148.6 59.8h.6v.6h-.6zM136.8 69.8h.6v.6h-.6zM120.7 72.0h.6v.6h-.6zM126.6 80.7h.6v.6h-.6zM124.2 72.3h.6v.6h-.6zM143.3 74.5h.6v.6h-.6zM128.8 74.6h.6v.6h-.6zM136.1 64.1h.6v.6h-.6zM125.3 69.7h.6v.6h-.6zM125.5 70.5h.6v.6h-.6zM146.8 55.8h.6v.6h-.6zM118.5 67.9h.6v.6h-.6zM138.5 61.8h.6v.6h-.6zM158.0 45.7h.6v.6h-.6zM122.5 68.2h.6v.6h-.6zM118.4 76.5h.6v.6h-.6zM129.0 62.3h.6v.6h-.6zM127.9 72.0h.6v.6h-.6zM130.8 80.1h.6v.6h-.6zM141.8 61.8h.6v.6h-.6zM124.4 72.9h.6v.6h-.6zM145.2 69.3h.6v.6h-.6zM132.8 69.2h.6v.6h-.6zM146.8 57.1h.6v.6h-.6zM157.0 56.1h.6v.6h-.6zM152.4 55.2h.6v.6h-.6zM123.2 79.9h.6v.6h-.6zM124.1 80.7h.6v.6h-.6zM130.3 67.9h.6v.6h-.6zM160.7 57.5h.6v.6h-.6zM124.8 75.6h.6v.6h-.6zM148.9 64.0h.6v.6h-.6zM153.7 44.5h.6v.6h-.6zM137.5 63.1h.6v.6h-.6zM117.2 69.2h.6v.6h-.6zM139.3 60.0h.6v.6h-.6zM153.1 51.5h.6v.6h-.6zM120.2 77.4h.6v.6h-.6zM122.7 74.9h.6v.6h-.6zM128.4 70.3h.6v.6h-.6zM144.5 48.6h.6v.6h-.6zM124.6 76.5h.6v.6h-.6zM141.9 52.9h.6v.6h-.6zM127.1 74.3h.6v.6h-.6zM137.1 63.4h.6v.6h-.6zM123.2 77.0h.6v.6h-.6zM144.5 60.9h.6v.6h-.6zM130.5 71.4h.6v.6h-.6zM125.8 69.8h.6v.6h-.6zM127.9 76.2h.6v.6h-.6zM125.5 74.0h.6v.6h-.6zM124.1 72.0h.6v.6h-.6zM130.3 81.9h.6v.6h-.6zM121.8 68.2h.6v.6h-.6zM124.2 56.2h.6v.6h-.6zM135.1 80.8h.6v.6h-.6zM138.2 77.5h.6v.6h-.6zM129.1 73.7h.6v.6h-.6zM135.2 66.3h.6v.6h-.6zM125.0 70.1h.6v.6h-.6zM135.2 57.1h.6v.6h-.6zM118.7 67.4h.6v.6h-.6zM118.7 70.6h.6v.6h-.6zM139.6 63.6h.6v.6h-.6zM129.0 68.3h.6v.6h-.6zM124.2 76.8h.6v.6h-.6zM138.1 66.8h.6v.6h-.6zM129.1 67.6h.6v.6h-.6zM127.6 71.6h.6v.6h-.6zM125.2 76.8h.6v.6h-.6zM122.7 73.2h.6v.6h-.6zM142.2 70.3h.6v.6h-.6zM126.8 69.9h.6v.6h-.6zM128.2 71.9h.6v.6h-.6zM124.6 66.6h.6v.6h-.6zM129.6 61.4h.6v.6h-.6zM129.4 71.2h.6v.6h-.6zM122.9 80.1h.6v.6h-.6zM139.2 60.5h.6v.6h-.6zM142.7 61.4h.6v.6h-.6zM127.0 76.6h.6v.6h-.6zM129.0 78.8h.6v.6h-.6zM121.9 77.4h.6v.6h-.6zM154.9 57.1h.6v.6h-.6zM133.4 68.5h.6v.6h-.6zM126.3 74.2h.6v.6h-.6zM138.0 77.3h.6v.6h-.6zM124.7 82.2h.6v.6h-.6zM124.4 71.0h.6v.6h-.6zM127.0 67.1h.6v.6h-.6zM122.2 79.3h.6v.6h-.6zM124.5 81.4h.6v.6h-.6zM128.7 68.3h.6v.6h-.6zM141.5 62.3h.6v.6h-.6zM122.2 68.1h.6v.6h-.6zM128.8 75.7h.6v.6h-.6zM127.3 69.4h.6v.6h-.6zM131.1 82.1h.6v.6h-.6zM158.1 51.8h.6v.6h-.6zM134.0 54.4h.6v.6h-.6zM128.7 84.0h.6v.6h-.6zM125.6 74.6h.6v.6h-.6zM122.8 68.5h.6v.6h-.6zM132.9 65.1h.6v.6h-.6zM136.6 58.9h.6v.6h-.6zM123.8 77.0h.6v.6h-.6zM126.9 69.6h.6v.6h-.6zM140.7 62.0h.6v.6h-.6zM123.5 64.5h.6v.6h-.6zM148.0 58.0h.6v.6h-.6zM140.7 74.3h.6v.6h-.6zM127.3 66.8h.6v.6h-.6zM134.8 62.5h.6v.6h-.6zM132.3 75.7h.6v.6h-.6zM128.7 71.0h.6v.6h-.6zM127.7 74.2h.6v.6h-.6zM123.6 68.1h.6v.6h-.6zM137.7 63.6h.6v.6h-.6zM125.4 65.4h.6v.6h-.6zM124.3 84.0h.6v.6h-.6zM153.9 57.3h.6v.6h-.6zM120.0 75.4h.6v.6h-.6zM125.1 66.6h.6v.6h-.6zM135.0 62.2h.6v.6h-.6zM146.7 60.4h.6v.6h-.6zM130.5 67.4h.6v.6h-.6zM129.5 69.1h.6v.6h-.6zM129.0 63.8h.6v.6h-.6zM142.1 64.7h.6v.6h-.6zM144.6 54.9h.6v.6h-.6zM144.6 65.1h.6v.6h-.6zM127.1 80.1h.6v.6h-.6zM123.1 72.0h.6v.6h-.6zM130.9 71.7h.6v.6h-.6zM128.6 70.9h.6v.6h-.6zM123.3 68.3h.6v.6h-.6zM123.8 76.8h.6v.6h-.6zM149.0 64.5h.6v.6h-.6zM127.1 62.5h.6v.6h-.6zM124.6 77.1h.6v.6h-.6zM143.2 63.1h.6v.6h-.6zM143.8 57.8h.6v.6h-.6zM125.3 70.9h.6v.6h-.6zM131.7 66.5h.6v.6h-.6zM156.2 57.0h.6v.6h-.6zM121.8 70.2h.6v.6h-.6zM135.9 75.1h.6v.6h-.6zM146.0 62.1h.6v.6h-.6zM146.6 64.6h.6v.6h-.6zM122.3 68.5h.6v.6h-.6zM122.7 69.2h.6v.6h-.6zM137.2 70.4h.6v.6h-.6zM130.7 68.8h.6v.6h-.6zM129.1 62.8h.6v.6h-.6zM125.3 81.4h.6v.6h-.6zM123.2 67.0h.6v.6h-.6zM125.2 76.6h.6v.6h-.6zM128.7 67.9h.6v.6h-.6zM133.2 78.5h.6v.6h-.6zM154.4 58.5h.6v.6h-.6zM120.9 71.9h.6v.6h-.6zM136.0 78.2h.6v.6h-.6zM138.5 65.5h.6v.6h-.6zM128.2 84.4h.6v.6h-.6zM123.2 75.8h.6v.6h-.6zM134.7 67.1h.6v.6h-.6zM143.8 63.0h.6v.6h-.6zM148.0 61.8h.6v.6h-.6zM135.9 65.4h.6v.6h-.6zM120.6 76.8h.6v.6h-.6zM126.9 74.0h.6v.6h-.6zM129.6 67.9h.6v.6h-.6zM130.4 74.8h.6v.6h-.6zM128.3 71.1h.6v.6h-.6zM125.4 65.6h.6v.6h-.6zM121.9 72.6h.6v.6h-.6zM135.9 57.6h.6v.6h-.6zM127.8 69.2h.6v.6h-.6zM135.4 63.2h.6v.6h-.6zM130.5 69.9h.6v.6h-.6zM125.7 76.4h.6v.6h-.6zM159.1 57.4h.6v.6h-.6zM129.9 69.8h.6v.6h-.6zM143.2 64.3h.6v.6h-.6zM138.8 63.6h.6v.6h-.6zM127.9 73.0h.6v.6h-.6zM135.4 71.7h.6v.6h-.6zM153.4 64.2h.6v.6h-.6zM152.8 53.7h.6v.6h-.6zM120.2 79.1h.6v.6h-.6zM138.8 62.6h.6v.6h-.6zM130.8 70.7h.6v.6h-.6zM129.4 60.0h.6v.6h-.6zM131.4 76.7h.6v.6h-.6zM131.1 66.7h.6v.6h-.6zM129.9 68.1h.6v.6h-.6zM131.6 65.7h.6v.6h-.6zM153.2 68.9h.6v.6h-.6zM134.7 62.0h.6v.6h-.6zM140.6 60.2h.6v.6h-.6zM129.9 63.5h.6v.6h-.6zM161.5 49.9h.6v.6h-.6zM141.1 61.9h.6v.6h-.6zM127.7 73.1h.6v.6h-.6zM128.9 70.2h.6v.6h-.6zM132.5 65.9h.6v.6h-.6zM150.9 62.3h.6v.6h-.6zM126.6 73.1h.6v.6h-.6zM127.0 76.7h.6v.6h-.6zM128.1 72.8h.6v.6h-.6zM127.3 75.0h.6v.6h-.6zM132.4 72.4h.6v.6h-.6zM137.8 71.5h.6v.6h-.6zM123.8 66.0h.6v.6h-.6zM141.5 64.7h.6v.6h-.6zM133.7 71.1h.6v.6h-.6zM124.7 72.6h.6v.6h-.6zM123.5 76.6h.6v.6h-.6zM131.9 65.7h.6v.6h-.6zM123.5 61.8h.6v.6h-.6zM126.4 67.6h.6v.6h-.6zM138.0 69.0h.6v.6h-.6zM122.9 74.4h.6v.6h-.6zM124.2 73.7h.6v.6h-.6zM123.8 67.1h.6v.6h-.6zM131.2 70.1h.6v.6h-.6zM131.6 71.0h.6v.6h-.6zM124.9 72.2h.6v.6h-.6zM122.8 74.2h.6v.6h-.6zM119.5 74.8h.6v.6h-.6zM126.7 67.1h.6v.6h-.6zM128.8 70.2h.6v.6h-.6zM121.2 72.9h.6v.6h-.6zM137.6 69.5h.6v.6h-.6zM124.9 71.3h.6v.6h-.6zM151.2 48.0h.6v.6h-.6zM129.3 69.0h.6v.6h-.6zM135.3 69.6h.6v.6h-.6zM128.1 73.6h.6v.6h-.6zM130.0 77.5h.6v.6h-.6zM132.9 65.8h.6v.6h-.6zM152.0 64.6h.6v.6h-.6zM134.1 72.2h.6v.6h-.6zM132.3 78.2h.6v.6h-.6zM132.9 76.4h.6v.6h-.6zM120.6 66.8h.6v.6h-.6zM131.6 66.4h.6v.6h-.6zM151.5 62.6h.6v.6h-.6zM142.1 68.7h.6v.6h-.6zM130.4 77.4h.6v.6h-.6zM141.8 59.2h.6v.6h-.6zM132.1 71.3h.6v.6h-.6zM134.3 66.6h.6v.6h-.6zM123.0 80.6h.6v.6h-.6zM130.3 73.3h.6v.6h-.6zM128.7 68.2h.6v.6h-.6zM123.9 80.3h.6v.6h-.6zM131.6 70.9h.6v.6h-.6zM124.6 72.9h.6v.6h-.6zM135.3 71.9h.6v.6h-.6zM128.5 62.0h.6v.6h-.6zM129.1 75.9h.6v.6h-.6zM126.2 73.2h.6v.6h-.6zM131.6 79.3h.6v.6h-.6zM124.9 67.9h.6v.6h-.6zM127.8 77.2h.6v.6h-.6zM132.8 67.9h.6v.6h-.6zM150.6 66.8h.6v.6h-.6zM125.6 68.6h.6v.6h-.6zM131.3 62.2h.6v.6h-.6zM137.4 70.8h.6v.6h-.6zM148.2 55.0h.6v.6h-.6zM129.2 74.6h.6v.6h-.6zM143.4 60.5h.6v.6h-.6zM129.3 79.1h.6v.6h-.6zM119.3 69.9h.6v.6h-.6zM126.6 80.7h.6v.6h-.6zM136.7 70.1h.6v.6h-.6zM128.0 77.5h.6v.6h-.6zM130.3 76.1h.6v.6h-.6zM133.2 65.5h.6v.6h-.6zM134.3 79.1h.6v.6h-.6zM131.5 69.4h.6v.6h-.6zM124.9 73.4h.6v.6h-.6zM151.2 64.7h.6v.6h-.6zM134.8 64.9h.6v.6h-.6zM125.5 59.7h.6v.6h-.6zM156.5 58.3h.6v.6h-.6zM126.0 67.2h.6v.6h-.6zM125.3 73.1h.6v.6h-.6zM145.3 68.9h.6v.6h-.6zM138.8 57.9h.6v.6h-.6zM137.2 70.1h.6v.6h-.6zM141.8 68.4h.6v.6h-.6zM121.5 84.0h.6v.6h-.6zM129.8 64.9h.6v.6h-.6zM128.0 61.5h.6v.6h-.6zM116.3 75.9h.6v.6h-.6zM123.6 78.7h.6v.6h-.6zM137.1 60.4h.6v.6h-.6zM153.4 63.9h.6v.6h-.6zM134.3 59.1h.6v.6h-.6zM120.0 75.4h.6v.6h-.6zM126.4 64.0h.6v.6h-.6zM130.0 65.5h.6v.6h-.6zM151.3 57.7h.6v.6h-.6zM121.1 74.4h.6v.6h-.6zM125.1 77.2h.6v.6h-.6zM129.7 74.2h.6v.6h-.6zM125.4 71.9h.6v.6h-.6zM122.9 85.3h.6v.6h-.6zM152.4 56.0h.6v.6h-.6zM132.0 60.2h.6v.6h-.6zM126.0 80.6h.6v.6h-.6zM127.1 78.2h.6v.6h-.6zM128.8 74.6h.6v.6h-.6zM122.2 74.3h.6v.6h-.6zM133.2 63.9h.6v.6h-.6zM124.2 79.1h.6v.6h-.6zM124.1 79.6h.6v.6h-.6zM131.2 76.2h.6v.6h-.6zM132.3 62.2h.6v.6h-.6zM126.5 71.1h.6v.6h-.6zM128.5 64.0h.6v.6h-.6zM124.1 76.2h.6v.6h-.6zM121.3 76.3h.6v.6h-.6zM118.1 77.8h.6v.6h-.6zM121.3 77.3h.6v.6h-.6zM158.5 56.1h.6v.6h-.6zM131.4 70.8h.6v.6h-.6zM132.8 67.7h.6v.6h-.6zM126.6 68.1h.6v.6h-.6zM138.9 71.1h.6v.6h-.6zM143.2 54.8h.6v.6h-.6zM128.9 64.7h.6v.6h-.6zM128.7 57.0h.6v.6h-.6zM142.9 64.7h.6v.6h-.6zM128.4 75.2h.6v.6h-.6zM159.2 59.1h.6v.6h-.6zM124.3 72.8h.6v.6h-.6zM149.6 62.8h.6v.6h-.6zM146.3 65.6h.6v.6h-.6zM123.5 78.3h.6v.6h-.6zM130.8 70.0h.6v.6h-.6zM131.4 66.8h.6v.6h-.6zM143.8 70.8h.6v.6h-.6zM128.1 69.2h.6v.6h-.6zM135.8 67.2h.6v.6h-.6zM124.4 60.5h.6v.6h-.6zM126.7 75.9h.6v.6h-.6zM123.0 79.3h.6v.6h-.6zM129.7 71.4h.6v.6h-.6zM135.2 53.3h.6v.6h-.6zM122.4 68.8h.6v.6h-.6zM149.3 63.5h.6v.6h-.6zM130.4 68.7h.6v.6h-.6zM136.2 63.8h.6v.6h-.6zM136.8 64.0h.6v.6h-.6zM126.5 68.3h.6v.6h-.6zM153.4 53.0h.6v.6h-.6zM127.3 77.0h.6v.6h-.6zM131.9 65.8h.6v.6h-.6zM140.9 64.0h.6v.6h-.6zM141.9 71.6h.6v.6h-.6zM129.7 71.7h.6v.6h-.6zM122.5 76.9h.6v.6h-.6zM122.3 72.1h.6v.6h-.6zM124.0 78.0h.6v.6h-.6zM132.7 72.8h.6v.6h-.6zM127.7 67.5h.6v.6h-.6zM137.7 69.4h.6v.6h-.6zM129.8 58.9h.6v.6h-.6zM123.2 72.8h.6v.6h-.6zM128.1 71.8h.6v.6h-.6zM145.6 67.0h.6v.6h-.6zM125.0 66.6h.6v.6h-.6zM120.3 75.4h.6v.6h-.6zM142.1 66.0h.6v.6h-.6zM128.2 70.1h.6v.6h-.6zM140.4 69.0h.6v.6h-.6zM127.9 75.2h.6v.6h-.6zM135.0 69.5h.6v.6h-.6zM127.5 75.5h.6v.6h-.6zM143.3 66.5h.6v.6h-.6zM140.1 62.8h.6v.6h-.6zM124.1 72.6h.6v.6h-.6zM132.2 75.4h.6v.6h-.6zM130.6 67.1h.6v.6h-.6zM134.2 62.4h.6v.6h-.6zM121.6 66.8h.6v.6h-.6zM127.7 72.7h.6v.6h-.6zM122.6 70.6h.6v.6h-.6zM121.9 75.2h.6v.6h-.6zM142.5 53.0h.6v.6h-.6zM133.6 64.2h.6v.6h-.6zM124.8 82.6h.6v.6h-.6zM142.6 71.4h.6v.6h-.6zM132.2 80.6h.6v.6h-.6zM135.5 61.6h.6v.6h-.6zM130.8 67.2h.6v.6h-.6zM124.5 75.7h.6v.6h-.6zM141.4 68.2h.6v.6h-.6zM128.0 70.2h.6v.6h-.6zM121.5 74.0h.6v.6h-.6zM126.3 72.9h.6v.6h-.6zM122.3 71.6h.6v.6h-.6zM130.9 69.6h.6v.6h-.6zM125.8 72.6h.6v.6h-.6zM123.6 68.0h.6v.6h-.6zM128.0 77.7h.6v.6h-.6zM134.7 68.7h.6v.6h-.6zM129.1 66.8h.6v.6h-.6zM138.4 70.2h.6v.6h-.6zM124.0 73.2h.6v.6h-.6zM123.8 80.0h.6v.6h-.6zM125.9 81.6h.6v.6h-.6zM129.9 73.3h.6v.6h-.6zM125.3 74.7h.6v.6h-.6zM128.8 75.5h.6v.6h-.6zM125.2 72.6h.6v.6h-.6zM128.1 73.8h.6v.6h-.6zM140.4 64.3h.6v.6h-.6zM127.9 65.3h.6v.6h-.6zM129.8 68.8h.6v.6h-.6zM127.9 76.2h.6v.6h-.6zM129.2 68.4h.6v.6h-.6zM145.9 66.2h.6v.6h-.6zM123.1 67.7h.6v.6h-.6zM130.4 63.3h.6v.6h-.6zM126.5 77.2h.6v.6h-.6zM122.3 78.3h.6v.6h-.6zM133.0 72.9h.6v.6h-.6zM122.3 69.8h.6v.6h-.6zM124.0 68.0h.6v.6h-.6zM153.7 54.1h.6v.6h-.6zM127.6 65.8h.6v.6h-.6zM131.4 67.1h.6v.6h-.6zM123.0 76.9h.6v.6h-.6zM129.6 79.0h.6v.6h-.6zM152.8 71.6h.6v.6h-.6zM144.2 61.2h.6v.6h-.6zM128.6 63.4h.6v.6h-.6zM130.2 68.7h.6v.6h-.6zM124.9 80.7h.6v.6h-.6zM124.0 67.7h.6v.6h-.6zM125.0 76.4h.6v.6h-.6zM138.5 63.6h.6v.6h-.6zM133.4 80.0h.6v.6h-.6zM118.4 80.5h.6v.6h-.6zM124.1 76.4h.6v.6h-.6zM138.8 67.8h.6v.6h-.6zM127.6 75.1h.6v.6h-.6zM138.4 65.8h.6v.6h-.6zM124.5 83.7h.6v.6h-.6zM127.6 78.8h.6v.6h-.6zM134.4 74.0h.6v.6h-.6zM127.9 68.1h.6v.6h-.6zM126.8 78.5h.6v.6h-.6zM159.0 54.9h.6v.6h-.6zM145.3 71.4h.6v.6h-.6zM147.8 53.2h.6v.6h-.6zM144.1 66.4h.6v.6h-.6zM140.3 64.7h.6v.6h-.6zM134.4 63.9h.6v.6h-.6zM128.9 83.5h.6v.6h-.6zM134.4 67.5h.6v.6h-.6zM141.7 63.8h.6v.6h-.6zM128.4 69.6h.6v.6h-.6zM125.5 71.5h.6v.6h-.6zM120.6 75.9h.6v.6h-.6zM143.0 62.8h.6v.6h-.6zM127.2 82.4h.6v.6h-.6zM143.5 54.6h.6v.6h-.6zM147.0 59.7h.6v.6h-.6zM140.5 61.5h.6v.6h-.6zM143.9 57.3h.6v.6h-.6zM135.8 49.7h.6v.6h-.6zM136.8 53.2h.6v.6h-.6zM140.9 54.7h.6v.6h-.6zM141.5 63.8h.6v.6h-.6zM146.3 57.6h.6v.6h-.6zM142.3 53.9h.6v.6h-.6zM139.1 48.8h.6v.6h-.6zM144.6 51.3h.6v.6h-.6zM131.3 59.8h.6v.6h-.6zM127.6 52.3h.6v.6h-.6zM139.8 57.6h.6v.6h-.6zM145.6 55.1h.6v.6h-.6zM137.7 62.4h.6v.6h-.6zM144.1 54.0h.6v.6h-.6zM145.3 51.8h.6v.6h-.6zM142.5 54.8h.6v.6h-.6zM157.9 59.6h.6v.6h-.6zM141.1 55.2h.6v.6h-.6zM143.1 52.1h.6v.6h-.6zM138.8 53.9h.6v.6h-.6zM147.2 48.8h.6v.6h-.6zM140.0 55.3h.6v.6h-.6zM136.7 55.0h.6v.6h-.6zM139.3 52.2h.6v.6h-.6zM136.0 50.2h.6v.6h-.6zM142.0 61.4h.6v.6h-.6zM142.3 52.9h.6v.6h-.6zM142.1 54.1h.6v.6h-.6zM139.6 64.1h.6v.6h-.6zM134.6 54.7h.6v.6h-.6zM143.3 53.1h.6v.6h-.6zM140.1 56.5h.6v.6h-.6zM133.7 63.9h.6v.6h-.6zM139.5 55.4h.6v.6h-.6zM141.8 56.1h.6v.6h-.6zM144.0 54.3h.6v.6h-.6zM139.0 54.2h.6v.6h-.6zM141.9 53.3h.6v.6h-.6zM134.7 51.1h.6v.6h-.6zM129.3 53.0h.6v.6h-.6zM137.5 54.8h.6v.6h-.6zM139.1 52.9h.6v.6h-.6zM134.2 63.2h.6v.6h-.6zM135.9 61.3h.6v.6h-.6zM140.8 48.3h.6v.6h-.6zM144.1 57.5h.6v.6h-.6zM152.0 57.1h.6v.6h-.6zM131.7 52.4h.6v.6h-.6zM140.0 56.3h.6v.6h-.6zM135.7 64.2h.6v.6h-.6zM139.8 54.6h.6v.6h-.6zM132.7 60.7h.6v.6h-.6zM143.8 56.0h.6v.6h-.6zM141.2 56.1h.6v.6h-.6zM145.4 52.2h.6v.6h-.6zM144.5 59.2h.6v.6h-.6zM140.0 56.6h.6v.6h-.6zM142.4 52.4h.6v.6h-.6zM146.6 55.1h.6v.6h-.6zM138.4 56.0h.6v.6h-.6zM132.8 56.8h.6v.6h-.6zM134.2 57.1h.6v.6h-.6zM137.3 52.7h.6v.6h-.6zM137.6 55.8h.6v.6h-.6zM128.5 60.0h.6v.6h-.6zM153.0 53.1h.6v.6h-.6zM143.7 63.4h.6v.6h-.6zM144.5 49.8h.6v.6h-.6zM142.6 48.7h.6v.6h-.6zM142.0 59.0h.6v.6h-.6zM139.6 53.5h.6v.6h-.6zM133.7 52.6h.6v.6h-.6zM137.8 52.4h.6v.6h-.6zM134.1 62.2h.6v.6h-.6zM142.2 64.2h.6v.6h-.6zM145.3 59.4h.6v.6h-.6zM135.1 61.5h.6v.6h-.6zM137.9 55.2h.6v.6h-.6zM140.7 54.4h.6v.6h-.6zM136.4 57.5h.6v.6h-.6zM142.9 57.5h.6v.6h-.6zM132.8 61.9h.6v.6h-.6zM131.0 55.1h.6v.6h-.6zM137.0 53.4h.6v.6h-.6zM143.6 57.3h.6v.6h-.6zM140.3 58.6h.6v.6h-.6zM144.2 44.1h.6v.6h-.6zM138.6 57.8h.6v.6h-.6zM140.1 46.2h.6v.6h-.6zM145.5 57.1h.6v.6h-.6zM154.2 53.3h.6v.6h-.6zM143.4 55.6h.6v.6h-.6zM144.5 46.1h.6v.6h-.6zM145.1 55.5h.6v.6h-.6zM143.6 55.8h.6v.6h-.6zM140.2 46.1h.6v.6h-.6zM132.7 53.2h.6v.6h-.6zM142.7 62.3h.6v.6h-.6zM148.6 60.1h.6v.6h-.6zM135.1 54.0h.6v.6h-.6zM151.0 52.0h.6v.6h-.6zM143.8 55.4h.6v.6h-.6zM137.3 54.6h.6v.6h-.6zM131.8 52.8h.6v.6h-.6zM143.1 55.6h.6v.6h-.6zM136.8 58.8h.6v.6h-.6zM132.9 71.7h.6v.6h-.6zM127.9 75.4h.6v.6h-.6zM135.3 77.1h.6v.6h-.6zM135.3 74.8h.6v.6h-.6zM138.5 79.9h.6v.6h-.6zM129.1 77.5h.6v.6h-.6zM160.8 63.4h.6v.6h-.6zM128.4 81.2h.6v.6h-.6zM131.0 74.1h.6v.6h-.6zM135.2 76.4h.6v.6h-.6zM129.8 74.8h.6v.6h-.6zM144.4 67.4h.6v.6h-.6zM144.5 80.5h.6v.6h-.6zM126.1 83.4h.6v.6h-.6zM130.5 76.8h.6v.6h-.6zM135.3 77.2h.6v.6h-.6zM148.3 65.9h.6v.6h-.6zM134.3 71.2h.6v.6h-.6zM129.0 78.8h.6v.6h-.6zM133.8 74.0h.6v.6h-.6zM136.8 74.6h.6v.6h-.6zM123.3 72.3h.6v.6h-.6zM143.7 75.8h.6v.6h-.6zM125.5 74.6h.6v.6h-.6zM134.4 72.0h.6v.6h-.6zM133.6 68.8h.6v.6h-.6zM126.7 79.2h.6v.6h-.6zM149.6 82.5h.6v.6h-.6zM155.1 76.5h.6v.6h-.6zM131.3 70.5h.6v.6h-.6zM127.5 89.1h.6v.6h-.6zM127.2 76.9h.6v.6h-.6zM123.2 83.6h.6v.6h-.6zM129.1 81.1h.6v.6h-.6zM132.9 71.2h.6v.6h-.6zM129.0 82.2h.6v.6h-.6zM143.4 74.6h.6v.6h-.6zM141.0 72.5h.6v.6h-.6zM128.2 81.9h.6v.6h-.6zM130.1 71.9h.6v.6h-.6zM129.5 90.6h.6v.6h-.6zM147.2 78.6h.6v.6h-.6zM125.8 71.2h.6v.6h-.6zM129.8 79.9h.6v.6h-.6zM125.7 74.2h.6v.6h-.6zM159.0 72.5h.6v.6h-.6zM136.2 76.1h.6v.6h-.6zM134.2 87.6h.6v.6h-.6zM138.2 86.0h.6v.6h-.6zM144.2 68.8h.6v.6h-.6zM139.8 76.2h.6v.6h-.6zM135.6 71.1h.6v.6h-.6zM143.0 79.9h.6v.6h-.6zM136.7 78.8h.6v.6h-.6zM126.5 87.0h.6v.6h-.6zM131.7 88.0h.6v.6h-.6zM133.3 76.8h.6v.6h-.6zM138.8 79.1h.6v.6h-.6zM131.9 66.3h.6v.6h-.6zM143.1 78.1h.6v.6h-.6zM140.1 76.2h.6v.6h-.6zM127.8 82.1h.6v.6h-.6zM129.1 74.2h.6v.6h-.6zM135.6 74.9h.6v.6h-.6zM133.7 75.6h.6v.6h-.6zM145.1 81.3h.6v.6h-.6zM140.2 79.6h.6v.6h-.6zM144.5 78.0h.6v.6h-.6zM140.9 69.5h.6v.6h-.6zM123.5 87.3h.6v.6h-.6zM140.9 78.0h.6v.6h-.6zM144.9 70.1h.6v.6h-.6zM127.4 64.6h.6v.6h-.6zM160.1 74.5h.6v.6h-.6zM123.3 80.8h.6v.6h-.6zM134.1 64.4h.6v.6h-.6zM128.3 86.3h.6v.6h-.6zM151.5 79.4h.6v.6h-.6zM132.1 68.1h.6v.6h-.6zM136.4 81.5h.6v.6h-.6zM134.4 81.6h.6v.6h-.6zM132.8 73.7h.6v.6h-.6zM127.5 77.2h.6v.6h-.6zM129.4 77.5h.6v.6h-.6zM129.4 86.9h.6v.6h-.6zM136.3 74.5h.6v.6h-.6zM124.3 81.0h.6v.6h-.6zM135.2 75.9h.6v.6h-.6zM142.0 70.7h.6v.6h-.6zM130.5 80.9h.6v.6h-.6zM125.0 72.0h.6v.6h-.6zM136.2 67.4h.6v.6h-.6zM154.3 61.7h.6v.6h-.6zM126.6 84.1h.6v.6h-.6zM142.6 88.3h.6v.6h-.6zM136.3 80.2h.6v.6h-.6zM140.2 76.0h.6v.6h-.6zM128.5 80.3h.6v.6h-.6zM137.9 80.1h.6v.6h-.6zM135.3 77.1h.6v.6h-.6zM129.1 75.3h.6v.6h-.6zM135.2 85.4h.6v.6h-.6zM136.8 77.7h.6v.6h-.6zM127.1 79.3h.6v.6h-.6zM149.4 77.2h.6v.6h-.6zM128.8 87.5h.6v.6h-.6zM135.0 78.4h.6v.6h-.6zM124.8 84.4h.6v.6h-.6zM138.2 74.2h.6v.6h-.6zM126.4 78.0h.6v.6h-.6zM127.6 83.6h.6v.6h-.6zM139.2 81.0h.6v.6h-.6zM134.4 80.2h.6v.6h-.6zM126.3 85.6h.6v.6h-.6zM132.5 75.1h.6v.6h-.6zM149.0 65.6h.6v.6h-.6zM131.4 71.0h.6v.6h-.6zM125.1 82.7h.6v.6h-.6zM135.1 68.2h.6v.6h-.6zM137.5 80.6h.6v.6h-.6zM131.2 80.4h.6v.6h-.6zM140.3 81.2h.6v.6h-.6zM139.0 72.9h.6v.6h-.6zM123.3 76.3h.6v.6h-.6zM135.5 81.2h.6v.6h-.6zM140.1 71.9h.6v.6h-.6zM127.3 78.9h.6v.6h-.6zM129.7 79.9h.6v.6h-.6zM130.7 78.3h.6v.6h-.6zM143.2 76.2h.6v.6h-.6zM131.1 80.8h.6v.6h-.6zM124.4 79.3h.6v.6h-.6zM128.2 79.9h.6v.6h-.6zM125.6 83.1h.6v.6h-.6zM125.9 70.4h.6v.6h-.6zM137.0 83.3h.6v.6h-.6zM136.3 78.8h.6v.6h-.6zM149.4 68.9h.6v.6h-.6zM140.1 74.8h.6v.6h-.6zM131.6 83.6h.6v.6h-.6zM123.3 80.0h.6v.6h-.6zM127.3 81.1h.6v.6h-.6zM130.6 83.5h.6v.6h-.6zM128.3 85.8h.6v.6h-.6zM123.3 80.9h.6v.6h-.6zM127.6 79.9h.6v.6h-.6zM141.8 72.8h.6v.6h-.6zM126.5 79.5h.6v.6h-.6zM124.2 84.9h.6v.6h-.6zM141.0 77.8h.6v.6h-.6zM137.9 73.2h.6v.6h-.6zM125.9 84.9h.6v.6h-.6zM137.9 73.8h.6v.6h-.6zM155.5 67.8h.6v.6h-.6zM139.7 73.0h.6v.6h-.6zM127.8 72.2h.6v.6h-.6zM131.8 86.3h.6v.6h-.6zM126.4 69.3h.6v.6h-.6zM135.6 77.0h.6v.6h-.6zM128.7 81.3h.6v.6h-.6zM136.1 70.7h.6v.6h-.6zM147.0 78.7h.6v.6h-.6zM132.9 83.7h.6v.6h-.6zM125.4 84.6h.6v.6h-.6zM136.9 75.5h.6v.6h-.6zM143.5 81.1h.6v.6h-.6zM157.7 57.8h.6v.6h-.6zM146.9 82.9h.6v.6h-.6zM123.4 82.3h.6v.6h-.6zM142.6 76.6h.6v.6h-.6zM144.6 72.8h.6v.6h-.6zM145.7 78.4h.6v.6h-.6zM131.4 74.1h.6v.6h-.6zM129.9 78.4h.6v.6h-.6zM156.2 71.9h.6v.6h-.6zM130.0 83.3h.6v.6h-.6zM127.3 70.5h.6v.6h-.6zM128.8 80.0h.6v.6h-.6zM123.9 81.3h.6v.6h-.6zM148.1 78.9h.6v.6h-.6zM132.0 75.1h.6v.6h-.6zM130.4 73.0h.6v.6h-.6zM151.5 72.3h.6v.6h-.6zM127.7 79.7h.6v.6h-.6zM127.2 76.5h.6v.6h-.6zM127.0 77.7h.6v.6h-.6zM136.6 82.0h.6v.6h-.6zM142.4 76.4h.6v.6h-.6zM129.5 83.1h.6v.6h-.6zM147.8 66.2h.6v.6h-.6zM161.0 68.3h.6v.6h-.6zM145.7 66.7h.6v.6h-.6zM128.0 84.2h.6v.6h-.6zM135.7 83.3h.6v.6h-.6zM132.7 80.6h.6v.6h-.6zM153.6 70.1h.6v.6h-.6zM129.7 89.2h.6v.6h-.6zM145.3 82.8h.6v.6h-.6zM131.8 72.0h.6v.6h-.6zM131.4 76.0h.6v.6h-.6zM131.1 70.5h.6v.6h-.6zM131.0 71.9h.6v.6h-.6zM147.1 64.2h.6v.6h-.6zM124.8 74.6h.6v.6h-.6zM123.4 86.0h.6v.6h-.6zM141.5 79.7h.6v.6h-.6zM130.1 85.6h.6v.6h-.6zM135.0 71.0h.6v.6h-.6zM132.5 79.7h.6v.6h-.6zM137.2 77.8h.6v.6h-.6zM136.9 72.3h.6v.6h-.6zM134.9 83.4h.6v.6h-.6zM154.0 78.6h.6v.6h-.6zM136.6 77.3h.6v.6h-.6zM134.9 82.4h.6v.6h-.6zM130.4 78.7h.6v.6h-.6zM140.9 82.9h.6v.6h-.6zM143.0 81.9h.6v.6h-.6zM147.3 66.8h.6v.6h-.6zM135.9 73.7h.6v.6h-.6zM128.5 85.1h.6v.6h-.6zM139.6 77.8h.6v.6h-.6zM130.6 89.4h.6v.6h-.6zM140.3 74.9h.6v.6h-.6zM131.3 74.3h.6v.6h-.6zM140.9 79.8h.6v.6h-.6zM159.7 68.3h.6v.6h-.6zM134.5 68.7h.6v.6h-.6zM131.0 74.4h.6v.6h-.6zM139.3 79.9h.6v.6h-.6zM124.2 81.1h.6v.6h-.6zM124.2 80.8h.6v.6h-.6zM155.1 73.0h.6v.6h-.6zM126.7 82.5h.6v.6h-.6zM132.6 81.9h.6v.6h-.6zM129.3 77.6h.6v.6h-.6zM125.5 86.2h.6v.6h-.6zM129.3 80.5h.6v.6h-.6zM129.1 75.5h.6v.6h-.6zM134.7 82.3h.6v.6h-.6zM130.4 86.8h.6v.6h-.6zM128.6 73.5h.6v.6h-.6zM130.7 82.2h.6v.6h-.6zM129.4 88.9h.6v.6h-.6zM130.1 81.7h.6v.6h-.6zM132.5 68.3h.6v.6h-.6zM151.6 73.3h.6v.6h-.6zM141.3 82.1h.6v.6h-.6zM125.4 86.4h.6v.6h-.6zM124.0 80.9h.6v.6h-.6zM149.9 73.3h.6v.6h-.6zM134.6 75.4h.6v.6h-.6zM153.9 66.9h.6v.6h-.6zM126.6 75.7h.6v.6h-.6zM131.9 81.2h.6v.6h-.6zM140.9 74.5h.6v.6h-.6zM130.4 72.1h.6v.6h-.6zM136.5 66.9h.6v.6h-.6zM125.5 76.5h.6v.6h-.6zM124.5 88.1h.6v.6h-.6zM150.2 63.1h.6v.6h-.6zM132.0 79.5h.6v.6h-.6zM128.0 62.1h.6v.6h-.6zM141.4 83.3h.6v.6h-.6zM137.9 86.1h.6v.6h-.6zM144.6 79.2h.6v.6h-.6zM136.8 82.1h.6v.6h-.6zM129.5 82.8h.6v.6h-.6zM133.4 78.4h.6v.6h-.6zM131.8 83.1h.6v.6h-.6zM127.4 71.3h.6v.6h-.6zM151.9 71.5h.6v.6h-.6zM124.7 76.0h.6v.6h-.6zM135.2 82.3h.6v.6h-.6zM131.3 85.5h.6v.6h-.6zM130.1 87.4h.6v.6h-.6zM136.9 83.1h.6v.6h-.6zM140.0 77.6h.6v.6h-.6zM124.8 87.7h.6v.6h-.6zM143.1 82.4h.6v.6h-.6zM142.3 78.1h.6v.6h-.6zM131.9 81.4h.6v.6h-.6zM138.5 76.5h.6v.6h-.6zM136.0 72.5h.6v.6h-.6zM125.9 86.6h.6v.6h-.6zM132.8 80.8h.6v.6h-.6zM155.4 76.3h.6v.6h-.6zM131.5 81.5h.6v.6h-.6zM131.0 88.2h.6v.6h-.6zM123.3 73.9h.6v.6h-.6zM130.3 80.3h.6v.6h-.6zM128.7 86.3h.6v.6h-.6zM131.0 86.7h.6v.6h-.6zM154.0 72.3h.6v.6h-.6zM127.3 86.0h.6v.6h-.6zM134.4 79.1h.6v.6h-.6zM131.7 76.4h.6v.6h-.6zM131.1 77.8h.6v.6h-.6zM123.8 82.4h.6v.6h-.6zM129.9 88.3h.6v.6h-.6zM124.2 77.3h.6v.6h-.6zM134.9 74.6h.6v.6h-.6zM144.3 72.2h.6v.6h-.6zM129.6 71.7h.6v.6h-.6zM132.8 78.4h.6v.6h-.6zM137.4 67.1h.6v.6h-.6zM136.7 85.5h.6v.6h-.6zM134.4 81.8h.6v.6h-.6zM152.2 64.2h.6v.6h-.6zM134.7 78.6h.6v.6h-.6zM130.4 75.2h.6v.6h-.6zM144.7 76.8h.6v.6h-.6zM133.6 81.4h.6v.6h-.6zM132.1 79.0h.6v.6h-.6zM139.8 64.8h.6v.6h-.6zM139.8 87.7h.6v.6h-.6zM139.8 82.0h.6v.6h-.6zM133.9 78.4h.6v.6h-.6zM126.3 72.0h.6v.6h-.6zM127.2 78.8h.6v.6h-.6zM130.6 67.3h.6v.6h-.6zM134.3 82.6h.6v.6h-.6zM148.3 75.2h.6v.6h-.6zM127.1 79.3h.6v.6h-.6zM131.3 81.9h.6v.6h-.6zM131.9 90.4h.6v.6h-.6zM139.3 74.9h.6v.6h-.6zM132.5 80.2h.6v.6h-.6zM135.3 76.1h.6v.6h-.6zM133.1 64.7h.6v.6h-.6zM160.5 79.1h.6v.6h-.6zM132.0 82.7h.6v.6h-.6zM135.6 82.5h.6v.6h-.6zM142.5 75.9h.6v.6h-.6zM132.6 90.2h.6v.6h-.6zM132.0 81.6h.6v.6h-.6zM126.3 79.6h.6v.6h-.6zM130.9 84.9h.6v.6h-.6zM130.4 79.8h.6v.6h-.6zM125.6 75.3h.6v.6h-.6zM133.2 79.3h.6v.6h-.6zM130.1 90.2h.6v.6h-.6zM138.8 69.0h.6v.6h-.6zM124.1 79.8h.6v.6h-.6zM149.3 72.6h.6v.6h-.6zM127.4 83.3h.6v.6h-.6zM149.1 77.6h.6v.6h-.6zM128.3 72.4h.6v.6h-.6zM139.0 81.2h.6v.6h-.6zM135.3 85.8h.6v.6h-.6zM125.1 75.4h.6v.6h-.6zM134.0 68.9h.6v.6h-.6zM136.9 76.2h.6v.6h-.6zM129.1 76.9h.6v.6h-.6zM139.8 74.3h.6v.6h-.6zM124.8 78.0h.6v.6h-.6zM127.5 73.2h.6v.6h-.6zM134.3 83.2h.6v.6h-.6zM129.4 85.5h.6v.6h-.6zM141.6 69.8h.6v.6h-.6zM134.3 79.6h.6v.6h-.6zM134.2 80.8h.6v.6h-.6zM129.4 74.0h.6v.6h-.6zM125.9 73.9h.6v.6h-.6zM134.0 89.3h.6v.6h-.6zM142.5 66.7h.6v.6h-.6zM125.5 76.6h.6v.6h-.6zM130.1 78.2h.6v.6h-.6zM135.7 79.7h.6v.6h-.6zM132.8 71.9h.6v.6h-.6zM144.7 71.9h.6v.6h-.6zM132.8 86.4h.6v.6h-.6zM141.8 83.7h.6v.6h-.6zM127.1 80.2h.6v.6h-.6zM153.8 67.8h.6v.6h-.6zM141.9 71.1h.6v.6h-.6zM149.3 76.9h.6v.6h-.6zM133.2 72.1h.6v.6h-.6zM142.7 71.2h.6v.6h-.6zM125.7 72.7h.6v.6h-.6zM131.7 71.5h.6v.6h-.6zM124.5 89.4h.6v.6h-.6zM129.2 74.6h.6v.6h-.6zM138.1 75.5h.6v.6h-.6zM134.9 76.7h.6v.6h-.6zM149.7 64.0h.6v.6h-.6zM132.9 78.4h.6v.6h-.6zM152.9 73.5h.6v.6h-.6zM129.5 84.1h.6v.6h-.6zM152.1 68.2h.6v.6h-.6zM135.5 72.9h.6v.6h-.6zM126.9 79.9h.6v.6h-.6zM126.6 82.3h.6v.6h-.6zM142.6 80.4h.6v.6h-.6zM139.1 66.3h.6v.6h-.6zM123.8 75.9h.6v.6h-.6zM145.1 77.6h.6v.6h-.6zM123.5 81.9h.6v.6h-.6zM137.1 82.5h.6v.6h-.6zM128.4 70.3h.6v.6h-.6zM124.7 90.3h.6v.6h-.6zM131.7 77.8h.6v.6h-.6zM125.4 80.2h.6v.6h-.6zM130.7 79.6h.6v.6h-.6zM153.7 65.9h.6v.6h-.6zM124.3 90.4h.6v.6h-.6zM139.4 71.4h.6v.6h-.6zM130.1 73.3h.6v.6h-.6zM129.4 81.4h.6v.6h-.6zM134.3 80.4h.6v.6h-.6zM147.6 81.4h.6v.6h-.6zM123.7 74.1h.6v.6h-.6zM124.9 82.1h.6v.6h-.6zM144.8 68.2h.6v.6h-.6zM124.3 75.5h.6v.6h-.6zM123.5 90.8h.6v.6h-.6zM125.4 73.8h.6v.6h-.6zM129.0 80.3h.6v.6h-.6zM138.5 68.0h.6v.6h-.6zM134.6 77.2h.6v.6h-.6zM133.9 82.9h.6v.6h-.6zM131.0 67.2h.6v.6h-.6zM128.6 78.4h.6v.6h-.6zM140.7 76.2h.6v.6h-.6zM140.2 78.7h.6v.6h-.6zM140.4 68.1h.6v.6h-.6zM146.8 73.1h.6v.6h-.6zM131.7 73.7h.6v.6h-.6zM124.8 85.7h.6v.6h-.6zM141.3 73.1h.6v.6h-.6zM128.9 75.9h.6v.6h-.6zM144.8 74.2h.6v.6h-.6zM142.1 65.9h.6v.6h-.6zM154.0 70.1h.6v.6h-.6zM126.1 76.2h.6v.6h-.6zM128.8 78.7h.6v.6h-.6zM126.5 80.1h.6v.6h-.6zM133.1 78.3h.6v.6h-.6zM137.6 79.5h.6v.6h-.6zM125.8 81.8h.6v.6h-.6zM144.0 67.8h.6v.6h-.6zM146.5 58.4h.6v.6h-.6zM142.7 80.1h.6v.6h-.6zM134.0 81.8h.6v.6h-.6zM123.7 85.0h.6v.6h-.6zM130.6 77.9h.6v.6h-.6zM138.6 83.5h.6v.6h-.6zM124.9 75.1h.6v.6h-.6zM139.9 69.5h.6v.6h-.6zM125.8 77.0h.6v.6h-.6zM126.9 82.9h.6v.6h-.6zM138.1 79.1h.6v.6h-.6zM127.7 84.4h.6v.6h-.6zM128.4 79.6h.6v.6h-.6zM149.2 77.4h.6v.6h-.6zM155.5 78.3h.6v.6h-.6zM158.5 65.3h.6v.6h-.6zM142.4 61.9h.6v.6h-.6zM133.5 82.0h.6v.6h-.6zM135.7 65.6h.6v.6h-.6zM136.9 80.2h.6v.6h-.6zM126.3 81.3h.6v.6h-.6zM130.2 86.5h.6v.6h-.6zM138.7 78.8h.6v.6h-.6zM143.2 83.5h.6v.6h-.6zM150.6 72.2h.6v.6h-.6zM138.3 67.3h.6v.6h-.6zM134.3 83.7h.6v.6h-.6zM142.8 80.1h.6v.6h-.6zM142.4 76.9h.6v.6h-.6zM145.3 79.4h.6v.6h-.6zM125.8 81.6h.6v.6h-.6zM143.0 68.6h.6v.6h-.6zM143.5 70.7h.6v.6h-.6zM142.1 77.9h.6v.6h-.6zM141.8 88.5h.6v.6h-.6zM129.1 83.8h.6v.6h-.6zM125.0 64.0h.6v.6h-.6zM136.0 75.4h.6v.6h-.6zM139.9 66.5h.6v.6h-.6zM126.8 75.1h.6v.6h-.6zM131.4 68.8h.6v.6h-.6zM126.8 81.8h.6v.6h-.6zM129.7 80.1h.6v.6h-.6zM130.2 79.1h.6v.6h-.6zM145.4 76.7h.6v.6h-.6zM124.1 80.0h.6v.6h-.6zM129.2 81.2h.6v.6h-.6zM131.4 88.6h.6v.6h-.6zM127.9 80.3h.6v.6h-.6zM129.0 75.1h.6v.6h-.6zM134.8 84.6h.6v.6h-.6zM130.2 74.1h.6v.6h-.6zM147.2 85.4h.6v.6h-.6zM124.1 83.1h.6v.6h-.6zM126.2 86.4h.6v.6h-.6zM130.3 77.6h.6v.6h-.6zM127.3 89.7h.6v.6h-.6zM134.0 77.1h.6v.6h-.6zM124.4 76.9h.6v.6h-.6zM134.9 77.2h.6v.6h-.6zM136.6 76.6h.6v.6h-.6zM144.6 75.9h.6v.6h-.6zM136.4 81.2h.6v.6h-.6zM137.9 82.3h.6v.6h-.6zM126.8 83.2h.6v.6h-.6zM135.6 79.5h.6v.6h-.6zM132.9 77.2h.6v.6h-.6zM127.3 72.7h.6v.6h-.6zM127.0 79.3h.6v.6h-.6zM131.7 84.8h.6v.6h-.6zM135.9 79.6h.6v.6h-.6zM123.8 86.8h.6v.6h-.6zM124.8 83.9h.6v.6h-.6zM127.1 87.7h.6v.6h-.6zM131.5 71.7h.6v.6h-.6zM161.3 62.8h.6v.6h-.6zM131.0 64.8h.6v.6h-.6zM143.3 67.8h.6v.6h-.6zM124.1 80.6h.6v.6h-.6zM132.2 70.7h.6v.6h-.6zM124.4 79.9h.6v.6h-.6zM128.6 76.1h.6v.6h-.6zM128.9 84.5h.6v.6h-.6zM134.6 82.1h.6v.6h-.6zM145.0 82.7h.6v.6h-.6zM134.6 77.3h.6v.6h-.6zM134.4 77.5h.6v.6h-.6zM143.7 78.9h.6v.6h-.6zM134.0 86.0h.6v.6h-.6zM142.6 80.3h.6v.6h-.6zM133.5 80.5h.6v.6h-.6zM135.8 72.9h.6v.6h-.6zM123.8 73.9h.6v.6h-.6zM132.1 84.3h.6v.6h-.6zM136.6 75.3h.6v.6h-.6zM134.8 79.3h.6v.6h-.6zM144.5 68.0h.6v.6h-.6zM152.1 80.9h.6v.6h-.6zM130.9 86.1h.6v.6h-.6zM148.7 75.1h.6v.6h-.6zM153.7 77.9h.6v.6h-.6zM136.4 71.5h.6v.6h-.6zM146.8 68.0h.6v.6h-.6zM135.1 68.5h.6v.6h-.6zM127.0 87.8h.6v.6h-.6zM127.4 81.3h.6v.6h-.6zM134.2 80.1h.6v.6h-.6zM141.0 79.5h.6v.6h-.6zM137.7 77.1h.6v.6h-.6zM130.6 74.2h.6v.6h-.6zM146.7 57.3h.6v.6h-.6zM129.1 79.3h.6v.6h-.6zM138.5 80.0h.6v.6h-.6zM126.6 79.6h.6v.6h-.6zM134.8 70.2h.6v.6h-.6zM141.0 72.5h.6v.6h-.6zM123.7 86.6h.6v.6h-.6zM126.7 81.5h.6v.6h-.6zM146.6 66.9h.6v.6h-.6zM123.6 81.9h.6v.6h-.6zM152.1 83.6h.6v.6h-.6zM138.7 72.0h.6v.6h-.6zM127.4 71.8h.6v.6h-.6zM128.4 80.0h.6v.6h-.6zM138.2 75.5h.6v.6h-.6zM152.4 79.9h.6v.6h-.6zM145.8 70.1h.6v.6h-.6zM149.0 65.9h.6v.6h-.6zM128.6 80.9h.6v.6h-.6zM132.5 72.3h.6v.6h-.6zM133.3 81.1h.6v.6h-.6zM133.6 69.1h.6v.6h-.6zM135.3 73.7h.6v.6h-.6zM127.6 75.1h.6v.6h-.6zM138.3 77.6h.6v.6h-.6zM149.3 83.9h.6v.6h-.6zM148.2 81.9h.6v.6h-.6zM124.8 72.2h.6v.6h-.6zM134.6 88.3h.6v.6h-.6zM138.0 64.9h.6v.6h-.6zM138.2 84.5h.6v.6h-.6zM126.8 74.9h.6v.6h-.6zM137.1 76.1h.6v.6h-.6zM127.8 81.1h.6v.6h-.6zM137.7 77.2h.6v.6h-.6z" fill="#000" opacity="0.4"/>
<path d="M115.2 58.5 C119.2 57.5 123.7 61 127.7 66.5 C130.7 70.5 130.7 76 127.7 80.5 C124.7 84.5 123.2 89 115.2 89 Z" fill="#000" opacity="0.7" filter="url(#blur1)"/>
<path d="M108.8 89.3 C107.8 80 108.4 66 112.0 60 C114.2 56 117.7 55.5 119.7 58 C122.2 61.5 124.2 70 124.7 77.5 C125.2 85 122.2 89.3 108.8 89.3 Z" fill="#000" filter="url(#blur1)"/>
<path d="M109.4 88.5 C108.8 80 109.3 67 112.7 61.5 C114.7 58.2 117.4 57.8 119.2 60.2 C121.7 63.5 123.2 70.5 123.2 77.5 C123.2 84.5 120.7 88.5 109.4 88.5 Z" fill="#000"/>
<path d="M105.8 60V91.5H130.2" stroke="#000" stroke-width="0.8" stroke-dasharray="0.6 0.9" opacity="0.5" fill="none"/>
<polygon points="139.8,42.2 156.7,45.3 153.5,56.6 149.9,61.6 140.5,64.1 131.7,62.8 126.7,56.6 128.0,50.3" fill="none" stroke="#3a3a3a" stroke-width="0.6"/>
<text font-size="7.24" text-anchor="start" fill="#231f20" stroke="#231f20" stroke-width="0.13" transform="translate(94.3 41.9) scale(0.87 1)">10<tspan dy="-0.48em" font-size="0.7em">5</tspan></text>
<text font-size="7.24" text-anchor="start" fill="#231f20" stroke="#231f20" stroke-width="0.13" transform="translate(94.3 54.6) scale(0.87 1)">10<tspan dy="-0.48em" font-size="0.7em">4</tspan></text>
<text font-size="7.24" text-anchor="start" fill="#231f20" stroke="#231f20" stroke-width="0.13" transform="translate(94.3 68.6) scale(0.87 1)">10<tspan dy="-0.48em" font-size="0.7em">3</tspan></text>
<text font-size="7.24" text-anchor="start" fill="#231f20" stroke="#231f20" stroke-width="0.13" transform="translate(94.3 82.6) scale(0.87 1)">10<tspan dy="-0.48em" font-size="0.7em">2</tspan></text>
<text font-size="7.24" text-anchor="start" fill="#231f20" stroke="#231f20" stroke-width="0.13" transform="translate(114.9 99.5) scale(0.87 1)">10<tspan dy="-0.48em" font-size="0.7em">2</tspan></text>
<text font-size="7.24" text-anchor="start" fill="#231f20" stroke="#231f20" stroke-width="0.13" transform="translate(128.1 99.5) scale(0.87 1)">10<tspan dy="-0.48em" font-size="0.7em">3</tspan></text>
<text font-size="7.24" text-anchor="start" fill="#231f20" stroke="#231f20" stroke-width="0.13" transform="translate(141.9 99.5) scale(0.87 1)">10<tspan dy="-0.48em" font-size="0.7em">4</tspan></text>
<text font-size="7.24" text-anchor="start" fill="#231f20" stroke="#231f20" stroke-width="0.13" transform="translate(155.7 99.5) scale(0.87 1)">10<tspan dy="-0.48em" font-size="0.7em">5</tspan></text>
<text x="28.8" y="31.6" font-size="6.3" text-anchor="start" fill="#231f20" stroke="#231f20" stroke-width="0.13" textLength="9.2" lengthAdjust="spacingAndGlyphs">WT</text>
<text font-size="7.24" text-anchor="start" fill="#231f20" stroke="#231f20" stroke-width="0.13" transform="translate(107.1 31.6) scale(0.87 1)">Gata2<tspan dy="-0.48em" font-size="0.7em">+/−</tspan></text>
<line x1="12.5" y1="91.5" x2="12.5" y2="35" stroke="#000" stroke-width="0.9"/>
<polygon points="12.5,32 10.8,36.4 14.2,36.4" fill="#000"/>
<line x1="25.2" y1="104.5" x2="162" y2="104.5" stroke="#000" stroke-width="0.9"/>
<polygon points="165.3,104.5 160.8,102.8 160.8,106.2" fill="#000"/>
<text x="7.9" y="91.5" font-size="8.2" text-anchor="start" fill="#231f20" stroke="#231f20" stroke-width="0.25" textLength="9.6" lengthAdjust="spacingAndGlyphs" transform="rotate(-90 7.9 91.5)">cKit</text>
<text x="25.1" y="115.1" font-size="8.3" text-anchor="start" fill="#231f20" stroke="#231f20" stroke-width="0.25" textLength="13.5" lengthAdjust="spacingAndGlyphs">CD31</text>
<ellipse cx="223.6" cy="61" rx="14.3" ry="26.8" fill="none" stroke="#f0960a" stroke-width="0.8"/>
<ellipse cx="265.2" cy="59.6" rx="23.7" ry="26.8" fill="none" stroke="#106854" stroke-width="0.8" transform="rotate(-18 265.2 59.6)"/>
<rect x="210.5" y="34.2" width="80.5" height="52.599999999999994" fill="none" stroke="#222" stroke-width="0.8"/>
<circle cx="217.5" cy="39.8" r="1.8" fill="#eea040"/>
<circle cx="233.2" cy="70.9" r="1.8" fill="#eea040"/>
<circle cx="223.7" cy="77.3" r="1.8" fill="#eea040"/>
<circle cx="216.2" cy="84.2" r="1.8" fill="#eea040"/>
<circle cx="251.4" cy="37.5" r="1.8" fill="#106854"/>
<circle cx="286" cy="69.5" r="1.8" fill="#106854"/>
<circle cx="256.6" cy="78.2" r="1.8" fill="#106854"/>
<text x="205" y="38.8" font-size="7" text-anchor="end" fill="#231f20" stroke="#231f20" stroke-width="0.13" textLength="6.6" lengthAdjust="spacingAndGlyphs">15</text>
<line x1="208.1" y1="36.4" x2="210.5" y2="36.4" stroke="#222" stroke-width="0.7"/>
<text x="205" y="48.6" font-size="7" text-anchor="end" fill="#231f20" stroke="#231f20" stroke-width="0.13" textLength="6.6" lengthAdjust="spacingAndGlyphs">10</text>
<line x1="208.1" y1="46.2" x2="210.5" y2="46.2" stroke="#222" stroke-width="0.7"/>
<text x="205" y="58.1" font-size="7" text-anchor="end" fill="#231f20" stroke="#231f20" stroke-width="0.13" textLength="3.3" lengthAdjust="spacingAndGlyphs">5</text>
<line x1="208.1" y1="55.7" x2="210.5" y2="55.7" stroke="#222" stroke-width="0.7"/>
<text x="205" y="67.60000000000001" font-size="7" text-anchor="end" fill="#231f20" stroke="#231f20" stroke-width="0.13" textLength="3.3" lengthAdjust="spacingAndGlyphs">0</text>
<line x1="208.1" y1="65.2" x2="210.5" y2="65.2" stroke="#222" stroke-width="0.7"/>
<text x="205" y="77.10000000000001" font-size="7" text-anchor="end" fill="#231f20" stroke="#231f20" stroke-width="0.13" textLength="6.4" lengthAdjust="spacingAndGlyphs">−5</text>
<line x1="208.1" y1="74.7" x2="210.5" y2="74.7" stroke="#222" stroke-width="0.7"/>
<text x="205" y="86.60000000000001" font-size="7" text-anchor="end" fill="#231f20" stroke="#231f20" stroke-width="0.13" textLength="9.8" lengthAdjust="spacingAndGlyphs">−10</text>
<line x1="208.1" y1="84.2" x2="210.5" y2="84.2" stroke="#222" stroke-width="0.7"/>
<text x="219.3" y="99.4" font-size="7" text-anchor="start" fill="#231f20" stroke="#231f20" stroke-width="0.13" textLength="10.4" lengthAdjust="spacingAndGlyphs">−10</text>
<line x1="224.5" y1="86.8" x2="224.5" y2="89.0" stroke="#222" stroke-width="0.7"/>
<text x="238.85" y="99.4" font-size="7" text-anchor="start" fill="#231f20" stroke="#231f20" stroke-width="0.13" textLength="3.5" lengthAdjust="spacingAndGlyphs">0</text>
<line x1="240.6" y1="86.8" x2="240.6" y2="89.0" stroke="#222" stroke-width="0.7"/>
<text x="253.39999999999998" y="99.4" font-size="7" text-anchor="start" fill="#231f20" stroke="#231f20" stroke-width="0.13" textLength="7" lengthAdjust="spacingAndGlyphs">10</text>
<line x1="256.9" y1="86.8" x2="256.9" y2="89.0" stroke="#222" stroke-width="0.7"/>
<text x="269.5" y="99.4" font-size="7" text-anchor="start" fill="#231f20" stroke="#231f20" stroke-width="0.13" textLength="7" lengthAdjust="spacingAndGlyphs">20</text>
<line x1="273" y1="86.8" x2="273" y2="89.0" stroke="#222" stroke-width="0.7"/>
<text x="284.45" y="99.4" font-size="7" text-anchor="start" fill="#231f20" stroke="#231f20" stroke-width="0.13" textLength="7.5" lengthAdjust="spacingAndGlyphs">30</text>
<line x1="288.2" y1="86.8" x2="288.2" y2="89.0" stroke="#222" stroke-width="0.7"/>
<text x="236.6" y="111.3" font-size="8.2" text-anchor="start" fill="#231f20" stroke="#231f20" stroke-width="0.22" textLength="28.9" lengthAdjust="spacingAndGlyphs">PC1 (0.39)</text>
<text x="189" y="74.8" font-size="8" text-anchor="start" fill="#231f20" stroke="#231f20" stroke-width="0.22" textLength="28" lengthAdjust="spacingAndGlyphs" transform="rotate(-90 189 74.8)">PC2 (0.25)</text>
<text font-size="7.7" text-anchor="start" fill="#231f20" stroke="#231f20" stroke-width="0.13" transform="translate(210 32.4) scale(0.87 1)">E11 CD31<tspan dy="-0.48em" font-size="0.7em">+</tspan><tspan dy="0.336em">cKit</tspan><tspan dy="-0.48em" font-size="0.7em">+</tspan></text>
<text x="260.8" y="32.4" font-size="7" text-anchor="start" fill="#106854" stroke="#106854" stroke-width="0.13" textLength="9.7" lengthAdjust="spacingAndGlyphs">WT</text>
<text font-size="7.7" text-anchor="start" fill="#f0960a" stroke="#f0960a" stroke-width="0.13" transform="translate(273.5 32.4) scale(0.87 1)"><tspan font-style="italic">Gata2</tspan><tspan dy="-0.48em" font-size="0.7em">+/−</tspan></text>
<text x="322.6" y="24.6" font-size="7" text-anchor="start" fill="#231f20" stroke="#231f20" stroke-width="0.13" textLength="20.1" lengthAdjust="spacingAndGlyphs">Ivanova</text>
<text x="322.6" y="33" font-size="7" text-anchor="start" fill="#231f20" stroke="#231f20" stroke-width="0.13" textLength="89.3" lengthAdjust="spacingAndGlyphs">HEMATOPOIESIS STEM CELL</text>
<line x1="333.6" y1="44.5" x2="333.6" y2="73" stroke="#222" stroke-width="0.6"/>
<text x="322.6" y="48.4" font-size="6.6" text-anchor="start" fill="#231f20" stroke="#231f20" stroke-width="0.13" textLength="6.9" lengthAdjust="spacingAndGlyphs">0.6</text>
<line x1="331.8" y1="46.1" x2="333.6" y2="46.1" stroke="#222" stroke-width="0.6"/>
<text x="322.6" y="61.8" font-size="6.6" text-anchor="start" fill="#231f20" stroke="#231f20" stroke-width="0.13" textLength="6.9" lengthAdjust="spacingAndGlyphs">0.3</text>
<line x1="331.8" y1="59.5" x2="333.6" y2="59.5" stroke="#222" stroke-width="0.6"/>
<text x="322.6" y="74.89999999999999" font-size="6.6" text-anchor="start" fill="#231f20" stroke="#231f20" stroke-width="0.13" textLength="6.9" lengthAdjust="spacingAndGlyphs">0.0</text>
<line x1="331.8" y1="72.6" x2="333.6" y2="72.6" stroke="#222" stroke-width="0.6"/>
<path d="M333.6 72.6 C334.2 62 334.6 56 336 52 C337.5 48.2 341 46 346 45.6 C350 45.3 353 46 357 48.5 C364 52.5 371 57.5 379 62 C387 66.5 394 70.5 400 73" fill="none" stroke="#74c05a" stroke-width="0.85"/>
<text x="368.9" y="48" font-size="7" text-anchor="start" fill="#231f20" stroke="#231f20" stroke-width="0.13" textLength="34.6" lengthAdjust="spacingAndGlyphs">NES = 1.60</text>
<text x="366.0" y="53.8" font-size="7" text-anchor="start" fill="#231f20" stroke="#231f20" stroke-width="0.13" textLength="37.5" lengthAdjust="spacingAndGlyphs">FDR = 0.012</text>
<text x="378.5" y="59.6" font-size="7" text-anchor="start" fill="#231f20" stroke="#231f20" stroke-width="0.13" textLength="25" lengthAdjust="spacingAndGlyphs"><tspan font-style="italic">P</tspan> &lt; .001</text>
<line x1="333.6" y1="73.2" x2="400.2" y2="73.2" stroke="#999" stroke-width="0.4" stroke-dasharray="0.8 0.6"/>
<rect x="333.60" y="75.8" width="3.90" height="9.0" fill="rgb(77,77,77)"/>
<rect x="337.50" y="75.8" width="1.15" height="9.0" fill="rgb(164,164,164)"/>
<rect x="338.65" y="75.8" width="1.73" height="9.0" fill="rgb(198,198,198)"/>
<rect x="340.38" y="75.8" width="2.16" height="9.0" fill="rgb(94,94,94)"/>
<rect x="342.55" y="75.8" width="1.44" height="9.0" fill="rgb(190,190,190)"/>
<rect x="343.99" y="75.8" width="3.61" height="9.0" fill="rgb(120,120,120)"/>
<rect x="347.60" y="75.8" width="2.89" height="9.0" fill="rgb(77,77,77)"/>
<rect x="350.48" y="75.8" width="2.16" height="9.0" fill="rgb(155,155,155)"/>
<rect x="352.65" y="75.8" width="2.16" height="9.0" fill="rgb(198,198,198)"/>
<rect x="354.81" y="75.8" width="3.61" height="9.0" fill="rgb(77,77,77)"/>
<rect x="358.42" y="75.8" width="2.16" height="9.0" fill="rgb(146,146,146)"/>
<rect x="360.58" y="75.8" width="2.16" height="9.0" fill="rgb(198,198,198)"/>
<rect x="362.75" y="75.8" width="3.61" height="9.0" fill="rgb(112,112,112)"/>
<rect x="366.36" y="75.8" width="1.44" height="9.0" fill="rgb(233,233,233)"/>
<rect x="367.80" y="75.8" width="5.05" height="9.0" fill="rgb(242,242,242)"/>
<rect x="372.85" y="75.8" width="1.44" height="9.0" fill="rgb(155,155,155)"/>
<rect x="374.29" y="75.8" width="2.89" height="9.0" fill="rgb(207,207,207)"/>
<rect x="377.18" y="75.8" width="2.89" height="9.0" fill="rgb(120,120,120)"/>
<rect x="380.06" y="75.8" width="2.89" height="9.0" fill="rgb(198,198,198)"/>
<rect x="382.95" y="75.8" width="2.16" height="9.0" fill="rgb(233,233,233)"/>
<rect x="385.12" y="75.8" width="3.61" height="9.0" fill="rgb(112,112,112)"/>
<rect x="388.72" y="75.8" width="2.89" height="9.0" fill="rgb(146,146,146)"/>
<rect x="391.61" y="75.8" width="2.89" height="9.0" fill="rgb(207,207,207)"/>
<rect x="394.49" y="75.8" width="2.89" height="9.0" fill="rgb(103,103,103)"/>
<rect x="397.38" y="75.8" width="2.16" height="9.0" fill="rgb(190,190,190)"/>
<rect x="399.55" y="75.8" width="1.30" height="9.0" fill="rgb(224,224,224)"/>
<path d="M337.18 75.8V84.8M336.84 75.8V84.8M335.76 75.8V84.8M342.13 75.8V84.8M342.48 75.8V84.8M346.22 75.8V84.8M346.83 75.8V84.8M349.27 75.8V84.8M349.96 75.8V84.8M350.64 75.8V84.8M356.00 75.8V84.8M357.91 75.8V84.8M356.94 75.8V84.8M360.00 75.8V84.8M364.68 75.8V84.8M365.39 75.8V84.8M374.18 75.8V84.8M376.28 75.8V84.8M377.82 75.8V84.8M377.90 75.8V84.8M381.98 75.8V84.8M386.54 75.8V84.8M388.34 75.8V84.8M389.69 75.8V84.8M392.93 75.8V84.8M394.67 75.8V84.8M396.72 75.8V84.8M397.67 75.8V84.8" stroke="#000" stroke-width="0.35" opacity="0.45" fill="none"/>
<rect x="333.6" y="84.8" width="66.59999999999997" height="2.8" fill="url(#rbC)"/>
<text font-size="7.93" text-anchor="start" fill="#231f20" stroke="#231f20" stroke-width="0.13" transform="translate(334.1 93.8) scale(0.87 1)"><tspan font-style="italic">Gata2</tspan><tspan dy="-0.48em" font-size="0.7em">+/−</tspan></text>
<text x="391.0" y="93.8" font-size="7" text-anchor="start" fill="#231f20" stroke="#231f20" stroke-width="0.13" textLength="8" lengthAdjust="spacingAndGlyphs">WT</text>
<text x="316" y="83.2" font-size="6.8" text-anchor="start" fill="#231f20" stroke="#231f20" stroke-width="0.13" textLength="47.5" lengthAdjust="spacingAndGlyphs" transform="rotate(-90 316 83.2)">Enrichment score (ES)</text>
<line x1="319.3" y1="42.3" x2="319.3" y2="77.4" stroke="#333" stroke-width="0.6"/>
<text x="427.6" y="24.6" font-size="7" text-anchor="start" fill="#231f20" stroke="#231f20" stroke-width="0.13" textLength="21" lengthAdjust="spacingAndGlyphs">Weston</text>
<text x="427.6" y="33" font-size="7" text-anchor="start" fill="#231f20" stroke="#231f20" stroke-width="0.13" textLength="50.7" lengthAdjust="spacingAndGlyphs">VEGFA TARGETS</text>
<line x1="438.6" y1="44.5" x2="438.6" y2="73" stroke="#222" stroke-width="0.6"/>
<text x="427.6" y="48.4" font-size="6.6" text-anchor="start" fill="#231f20" stroke="#231f20" stroke-width="0.13" textLength="6.9" lengthAdjust="spacingAndGlyphs">0.6</text>
<line x1="436.8" y1="46.1" x2="438.6" y2="46.1" stroke="#222" stroke-width="0.6"/>
<text x="427.6" y="61.8" font-size="6.6" text-anchor="start" fill="#231f20" stroke="#231f20" stroke-width="0.13" textLength="6.9" lengthAdjust="spacingAndGlyphs">0.3</text>
<line x1="436.8" y1="59.5" x2="438.6" y2="59.5" stroke="#222" stroke-width="0.6"/>
<text x="427.6" y="74.89999999999999" font-size="6.6" text-anchor="start" fill="#231f20" stroke="#231f20" stroke-width="0.13" textLength="6.9" lengthAdjust="spacingAndGlyphs">0.0</text>
<line x1="436.8" y1="72.6" x2="438.6" y2="72.6" stroke="#222" stroke-width="0.6"/>
<path d="M438.6 62.5 L439.4 60.5 C440.3 58 441.3 55.5 442.8 54 C443.8 50.5 446 46.3 449 45 C452 43.8 456 44 460 45.5 C470 49.5 480 55.5 490 63 C497 68.3 502 71.5 506.4 72.8" fill="none" stroke="#74c05a" stroke-width="0.85"/>
<text x="474.9" y="48" font-size="7" text-anchor="start" fill="#231f20" stroke="#231f20" stroke-width="0.13" textLength="34.6" lengthAdjust="spacingAndGlyphs">NES = 1.71</text>
<text x="472.0" y="53.8" font-size="7" text-anchor="start" fill="#231f20" stroke="#231f20" stroke-width="0.13" textLength="37.5" lengthAdjust="spacingAndGlyphs">FDR = 0.003</text>
<text x="484.5" y="59.6" font-size="7" text-anchor="start" fill="#231f20" stroke="#231f20" stroke-width="0.13" textLength="25" lengthAdjust="spacingAndGlyphs"><tspan font-style="italic">P</tspan> &lt; .001</text>
<line x1="438.6" y1="73.2" x2="506.2" y2="73.2" stroke="#999" stroke-width="0.4" stroke-dasharray="0.8 0.6"/>
<rect x="438.60" y="75.8" width="2.45" height="9.0" fill="rgb(146,146,146)"/>
<rect x="441.05" y="75.8" width="2.16" height="9.0" fill="rgb(77,77,77)"/>
<rect x="443.22" y="75.8" width="2.16" height="9.0" fill="rgb(103,103,103)"/>
<rect x="445.38" y="75.8" width="1.44" height="9.0" fill="rgb(155,155,155)"/>
<rect x="446.83" y="75.8" width="2.16" height="9.0" fill="rgb(77,77,77)"/>
<rect x="448.99" y="75.8" width="2.89" height="9.0" fill="rgb(120,120,120)"/>
<rect x="451.88" y="75.8" width="2.89" height="9.0" fill="rgb(94,94,94)"/>
<rect x="454.76" y="75.8" width="2.16" height="9.0" fill="rgb(164,164,164)"/>
<rect x="456.93" y="75.8" width="2.89" height="9.0" fill="rgb(233,233,233)"/>
<rect x="459.81" y="75.8" width="2.16" height="9.0" fill="rgb(195,195,195)"/>
<rect x="461.98" y="75.8" width="3.61" height="9.0" fill="rgb(211,211,211)"/>
<rect x="465.58" y="75.8" width="3.61" height="9.0" fill="rgb(200,200,200)"/>
<rect x="469.19" y="75.8" width="2.16" height="9.0" fill="rgb(237,237,237)"/>
<rect x="471.36" y="75.8" width="0.72" height="9.0" fill="rgb(211,211,211)"/>
<rect x="472.08" y="75.8" width="4.33" height="9.0" fill="rgb(240,240,240)"/>
<rect x="476.41" y="75.8" width="0.72" height="9.0" fill="rgb(211,211,211)"/>
<rect x="477.13" y="75.8" width="1.88" height="9.0" fill="rgb(240,240,240)"/>
<rect x="479.00" y="75.8" width="0.72" height="9.0" fill="rgb(205,205,205)"/>
<rect x="479.73" y="75.8" width="2.45" height="9.0" fill="rgb(237,237,237)"/>
<rect x="482.18" y="75.8" width="2.16" height="9.0" fill="rgb(195,195,195)"/>
<rect x="484.34" y="75.8" width="2.89" height="9.0" fill="rgb(164,164,164)"/>
<rect x="487.23" y="75.8" width="2.16" height="9.0" fill="rgb(195,195,195)"/>
<rect x="489.39" y="75.8" width="2.89" height="9.0" fill="rgb(159,159,159)"/>
<rect x="492.28" y="75.8" width="4.33" height="9.0" fill="rgb(239,239,239)"/>
<rect x="496.61" y="75.8" width="2.16" height="9.0" fill="rgb(195,195,195)"/>
<rect x="498.77" y="75.8" width="2.16" height="9.0" fill="rgb(159,159,159)"/>
<rect x="500.94" y="75.8" width="1.44" height="9.0" fill="rgb(195,195,195)"/>
<rect x="502.38" y="75.8" width="3.61" height="9.0" fill="rgb(221,221,221)"/>
<path d="M440.71 75.8V84.8M442.54 75.8V84.8M442.65 75.8V84.8M445.06 75.8V84.8M445.36 75.8V84.8M446.66 75.8V84.8M447.98 75.8V84.8M448.43 75.8V84.8M450.93 75.8V84.8M449.95 75.8V84.8M452.74 75.8V84.8M452.80 75.8V84.8M455.93 75.8V84.8M461.87 75.8V84.8M463.37 75.8V84.8M468.59 75.8V84.8M484.14 75.8V84.8M487.17 75.8V84.8M487.29 75.8V84.8M489.50 75.8V84.8M498.44 75.8V84.8M499.94 75.8V84.8" stroke="#000" stroke-width="0.35" opacity="0.45" fill="none"/>
<rect x="438.6" y="84.8" width="67.59999999999997" height="2.8" fill="url(#rbD)"/>
<text font-size="7.93" text-anchor="start" fill="#231f20" stroke="#231f20" stroke-width="0.13" transform="translate(439.1 93.8) scale(0.87 1)">Gata2<tspan dy="-0.48em" font-size="0.7em">+/−</tspan></text>
<text x="497.0" y="93.8" font-size="7" text-anchor="start" fill="#231f20" stroke="#231f20" stroke-width="0.13" textLength="8" lengthAdjust="spacingAndGlyphs">WT</text>
<rect x="43.4" y="472.2" width="5.8" height="20.1" fill="#106854"/>
<path d="M46.30 472.2V467.7M45.00 467.7h2.6" stroke="#106854" stroke-width="0.8" fill="none"/>
<rect x="50.6" y="440.6" width="5.8" height="51.7" fill="#f0960a"/>
<rect x="50.6" y="432.7" width="5.8" height="1.9" fill="#f0960a"/>
<path d="M53.50 432.7V432.1M52.20 432.1h2.6" stroke="#f0960a" stroke-width="0.8" fill="none"/>
<path d="M45.4 416H54.6M45.4 414.8v2.4M54.6 414.8v2.4" stroke="#222" stroke-width="0.7" fill="none"/>
<text font-size="6.21" text-anchor="middle" fill="#231f20" stroke="#231f20" stroke-width="0.13" transform="translate(50.0 414.7) scale(0.87 1)">*</text>
<line x1="49.9" y1="492.3" x2="49.9" y2="495" stroke="#222" stroke-width="0.6"/>
<text font-size="7.16" text-anchor="end" fill="#231f20" stroke="#231f20" stroke-width="0.13" font-style="italic" transform="translate(50.8 502.4) rotate(-45) scale(0.95 1)">Kdr</text>
<rect x="61.2" y="482.2" width="5.8" height="10.1" fill="#106854"/>
<path d="M64.10 482.2V479.1M62.80 479.1h2.6" stroke="#106854" stroke-width="0.8" fill="none"/>
<rect x="68.4" y="440.6" width="5.8" height="51.7" fill="#f0960a"/>
<rect x="68.4" y="432.7" width="5.8" height="1.9" fill="#f0960a"/>
<path d="M71.30 432.7V432.1M70.00 432.1h2.6" stroke="#f0960a" stroke-width="0.8" fill="none"/>
<path d="M63.8 423.5H72.3M63.8 422.3v2.4M72.3 422.3v2.4" stroke="#222" stroke-width="0.7" fill="none"/>
<text font-size="6.21" text-anchor="middle" fill="#231f20" stroke="#231f20" stroke-width="0.13" transform="translate(68.05 422.2) scale(0.87 1)">*</text>
<line x1="67.7" y1="492.3" x2="67.7" y2="495" stroke="#222" stroke-width="0.6"/>
<text font-size="7.16" text-anchor="end" fill="#231f20" stroke="#231f20" stroke-width="0.13" font-style="italic" transform="translate(68.60000000000001 502.4) rotate(-45) scale(0.95 1)">Cxcl12</text>
<rect x="79.0" y="489.2" width="5.8" height="3.1" fill="#106854"/>
<path d="M81.90 489.2V487.1M80.60 487.1h2.6" stroke="#106854" stroke-width="0.8" fill="none"/>
<rect x="86.2" y="471.1" width="5.8" height="21.2" fill="#f0960a"/>
<path d="M89.10 471.1V465.4M87.80 465.4h2.6" stroke="#f0960a" stroke-width="0.8" fill="none"/>
<path d="M81.6 458.3H90.6M81.6 457.1v2.4M90.6 457.1v2.4" stroke="#222" stroke-width="0.7" fill="none"/>
<text font-size="6.21" text-anchor="middle" fill="#231f20" stroke="#231f20" stroke-width="0.13" transform="translate(86.1 457.0) scale(0.87 1)">*</text>
<line x1="85.5" y1="492.3" x2="85.5" y2="495" stroke="#222" stroke-width="0.6"/>
<text font-size="7.16" text-anchor="end" fill="#231f20" stroke="#231f20" stroke-width="0.13" font-style="italic" transform="translate(86.4 502.4) rotate(-45) scale(0.95 1)">Sox17</text>
<rect x="96.7" y="464.2" width="5.8" height="28.1" fill="#106854"/>
<path d="M99.60 464.2V456.5M98.30 456.5h2.6" stroke="#106854" stroke-width="0.8" fill="none"/>
<rect x="103.9" y="440.6" width="5.8" height="51.7" fill="#f0960a"/>
<rect x="103.9" y="431.0" width="5.8" height="3.6" fill="#f0960a"/>
<path d="M106.80 431.0V429.8M105.50 429.8h2.6" stroke="#f0960a" stroke-width="0.8" fill="none"/>
<path d="M99.5 423H108.7M99.5 421.8v2.4M108.7 421.8v2.4" stroke="#222" stroke-width="0.7" fill="none"/>
<text font-size="6.21" text-anchor="middle" fill="#231f20" stroke="#231f20" stroke-width="0.13" transform="translate(104.1 421.7) scale(0.87 1)">*</text>
<line x1="103.2" y1="492.3" x2="103.2" y2="495" stroke="#222" stroke-width="0.6"/>
<text font-size="7.16" text-anchor="end" fill="#231f20" stroke="#231f20" stroke-width="0.13" font-style="italic" transform="translate(104.10000000000001 502.4) rotate(-45) scale(0.95 1)">Ramp2</text>
<rect x="114.3" y="440.6" width="5.8" height="51.7" fill="#106854"/>
<rect x="114.3" y="428.1" width="5.8" height="6.5" fill="#106854"/>
<path d="M117.20 428.1V424.4M115.90 424.4h2.6" stroke="#106854" stroke-width="0.8" fill="none"/>
<rect x="121.5" y="452.2" width="5.8" height="40.1" fill="#f0960a"/>
<path d="M124.40 452.2V443.0M123.10 443.0h2.6" stroke="#f0960a" stroke-width="0.8" fill="none"/>
<path d="M117.7 420.2H126.4M117.7 419.0v2.4M126.4 419.0v2.4" stroke="#222" stroke-width="0.7" fill="none"/>
<text font-size="6.21" text-anchor="middle" fill="#231f20" stroke="#231f20" stroke-width="0.13" transform="translate(122.05000000000001 418.9) scale(0.87 1)">*</text>
<line x1="120.8" y1="492.3" x2="120.8" y2="495" stroke="#222" stroke-width="0.6"/>
<text font-size="7.16" text-anchor="end" fill="#231f20" stroke="#231f20" stroke-width="0.13" font-style="italic" transform="translate(121.7 502.4) rotate(-45) scale(0.95 1)">Gfi1b</text>
<rect x="132.2" y="489.2" width="5.8" height="3.1" fill="#106854"/>
<path d="M135.10 489.2V489.2M133.80 489.2h2.6" stroke="#106854" stroke-width="0.8" fill="none"/>
<rect x="139.39999999999998" y="486.0" width="5.8" height="6.3" fill="#f0960a"/>
<path d="M142.30 486.0V483.9M141.00 483.9h2.6" stroke="#f0960a" stroke-width="0.8" fill="none"/>
<path d="M134.5 478H143.8M134.5 476.8v2.4M143.8 476.8v2.4" stroke="#222" stroke-width="0.7" fill="none"/>
<text font-size="6.21" text-anchor="middle" fill="#231f20" stroke="#231f20" stroke-width="0.13" transform="translate(139.15 476.7) scale(0.87 1)">*</text>
<line x1="138.7" y1="492.3" x2="138.7" y2="495" stroke="#222" stroke-width="0.6"/>
<text font-size="7.16" text-anchor="end" fill="#231f20" stroke="#231f20" stroke-width="0.13" font-style="italic" transform="translate(139.6 502.4) rotate(-45) scale(0.95 1)">Notch1</text>
<rect x="150.4" y="489.2" width="5.8" height="3.1" fill="#106854"/>
<path d="M153.30 489.2V487.5M152.00 487.5h2.6" stroke="#106854" stroke-width="0.8" fill="none"/>
<rect x="157.6" y="454.5" width="5.8" height="37.8" fill="#f0960a"/>
<path d="M160.50 454.5V440.7M159.20 440.7h2.6" stroke="#f0960a" stroke-width="0.8" fill="none"/>
<path d="M153.4 429.2H162.6M153.4 428.0v2.4M162.6 428.0v2.4" stroke="#222" stroke-width="0.7" fill="none"/>
<text font-size="6.21" text-anchor="middle" fill="#231f20" stroke="#231f20" stroke-width="0.13" transform="translate(158.0 427.9) scale(0.87 1)">*</text>
<line x1="156.9" y1="492.3" x2="156.9" y2="495" stroke="#222" stroke-width="0.6"/>
<text font-size="7.16" text-anchor="end" fill="#231f20" stroke="#231f20" stroke-width="0.13" font-style="italic" transform="translate(157.8 502.4) rotate(-45) scale(0.95 1)">Hey1</text>
<rect x="167.7" y="462.5" width="5.8" height="29.8" fill="#106854"/>
<path d="M170.60 462.5V449.9M169.30 449.9h2.6" stroke="#106854" stroke-width="0.8" fill="none"/>
<rect x="174.89999999999998" y="440.6" width="5.8" height="51.7" fill="#f0960a"/>
<rect x="174.89999999999998" y="432.7" width="5.8" height="1.9" fill="#f0960a"/>
<path d="M177.80 432.7V432.7M176.50 432.7h2.6" stroke="#f0960a" stroke-width="0.8" fill="none"/>
<path d="M171.6 429.2H180.9M171.6 428.0v2.4M180.9 428.0v2.4" stroke="#222" stroke-width="0.7" fill="none"/>
<text font-size="6.21" text-anchor="middle" fill="#231f20" stroke="#231f20" stroke-width="0.13" transform="translate(176.25 427.9) scale(0.87 1)">*</text>
<line x1="174.2" y1="492.3" x2="174.2" y2="495" stroke="#222" stroke-width="0.6"/>
<text font-size="7.16" text-anchor="end" fill="#231f20" stroke="#231f20" stroke-width="0.13" font-style="italic" transform="translate(175.1 502.4) rotate(-45) scale(0.95 1)">Hes1</text>
<rect x="185.7" y="440.6" width="5.8" height="51.7" fill="#106854"/>
<rect x="185.7" y="433.8" width="5.8" height="0.8" fill="#106854"/>
<path d="M188.60 433.8V431.3M187.30 431.3h2.6" stroke="#106854" stroke-width="0.8" fill="none"/>
<rect x="192.89999999999998" y="440.6" width="5.8" height="51.7" fill="#f0960a"/>
<rect x="192.89999999999998" y="400.4" width="5.8" height="34.2" fill="#f0960a"/>
<path d="M195.80 400.4V392.9M194.50 392.9h2.6" stroke="#f0960a" stroke-width="0.8" fill="none"/>
<path d="M189.7 388.1H198.9M189.7 386.90000000000003v2.4M198.9 386.90000000000003v2.4" stroke="#222" stroke-width="0.7" fill="none"/>
<text font-size="6.21" text-anchor="middle" fill="#231f20" stroke="#231f20" stroke-width="0.13" transform="translate(194.3 386.8) scale(0.87 1)">*</text>
<line x1="192.2" y1="492.3" x2="192.2" y2="495" stroke="#222" stroke-width="0.6"/>
<text font-size="7.16" text-anchor="end" fill="#231f20" stroke="#231f20" stroke-width="0.13" font-style="italic" transform="translate(193.1 502.4) rotate(-45) scale(0.95 1)">Cdkn1c</text>
<rect x="203.5" y="470.0" width="5.8" height="22.3" fill="#106854"/>
<path d="M206.40 470.0V465.4M205.10 465.4h2.6" stroke="#106854" stroke-width="0.8" fill="none"/>
<rect x="210.7" y="440.6" width="5.8" height="51.7" fill="#f0960a"/>
<rect x="210.7" y="430.4" width="5.8" height="4.2" fill="#f0960a"/>
<path d="M213.60 430.4V430.4M212.30 430.4h2.6" stroke="#f0960a" stroke-width="0.8" fill="none"/>
<path d="M207 423.9H216.2M207 422.7v2.4M216.2 422.7v2.4" stroke="#222" stroke-width="0.7" fill="none"/>
<text font-size="6.21" text-anchor="middle" fill="#231f20" stroke="#231f20" stroke-width="0.13" transform="translate(211.6 422.59999999999997) scale(0.87 1)">**</text>
<line x1="210.0" y1="492.3" x2="210.0" y2="495" stroke="#222" stroke-width="0.6"/>
<text font-size="7.16" text-anchor="end" fill="#231f20" stroke="#231f20" stroke-width="0.13" font-style="italic" transform="translate(210.9 502.4) rotate(-45) scale(0.95 1)">Igf2</text>
<rect x="221.3" y="440.6" width="5.8" height="51.7" fill="#106854"/>
<rect x="221.3" y="430.4" width="5.8" height="4.2" fill="#106854"/>
<path d="M224.20 430.4V428.5M222.90 428.5h2.6" stroke="#106854" stroke-width="0.8" fill="none"/>
<rect x="228.5" y="449.3" width="5.8" height="43.0" fill="#f0960a"/>
<path d="M231.40 449.3V440.7M230.10 440.7h2.6" stroke="#f0960a" stroke-width="0.8" fill="none"/>
<path d="M225.5 423.9H234.7M225.5 422.7v2.4M234.7 422.7v2.4" stroke="#222" stroke-width="0.7" fill="none"/>
<text font-size="6.21" text-anchor="middle" fill="#231f20" stroke="#231f20" stroke-width="0.13" transform="translate(230.1 422.59999999999997) scale(0.87 1)">*</text>
<line x1="227.8" y1="492.3" x2="227.8" y2="495" stroke="#222" stroke-width="0.6"/>
<text font-size="7.16" text-anchor="end" fill="#231f20" stroke="#231f20" stroke-width="0.13" font-style="italic" transform="translate(228.70000000000002 502.4) rotate(-45) scale(0.95 1)">Myb</text>
<rect x="239.3" y="440.6" width="5.8" height="51.7" fill="#106854"/>
<rect x="239.3" y="404.5" width="5.8" height="30.1" fill="#106854"/>
<path d="M242.20 404.5V401.4M240.90 401.4h2.6" stroke="#106854" stroke-width="0.8" fill="none"/>
<rect x="246.5" y="440.6" width="5.8" height="51.7" fill="#f0960a"/>
<rect x="246.5" y="422.9" width="5.8" height="11.7" fill="#f0960a"/>
<path d="M249.40 422.9V417.7M248.10 417.7h2.6" stroke="#f0960a" stroke-width="0.8" fill="none"/>
<path d="M243.2 397.3H252.5M243.2 396.1v2.4M252.5 396.1v2.4" stroke="#222" stroke-width="0.7" fill="none"/>
<text font-size="6.21" text-anchor="middle" fill="#231f20" stroke="#231f20" stroke-width="0.13" transform="translate(247.85 396.0) scale(0.87 1)">*</text>
<line x1="245.8" y1="492.3" x2="245.8" y2="495" stroke="#222" stroke-width="0.6"/>
<text font-size="7.16" text-anchor="end" fill="#231f20" stroke="#231f20" stroke-width="0.13" font-style="italic" transform="translate(246.70000000000002 502.4) rotate(-45) scale(0.95 1)">Gpr56</text>
<path d="M158.5 433.6h4M228 434.3h4" stroke="#f0960a" stroke-width="0.8"/>
<path d="M40.8 379.6V434.2M40.8 441V492.3H256" stroke="#222" stroke-width="0.8" fill="none"/>
<path d="M38.8 436.5l4 -3.6M38.8 442.3l4 -3.6" stroke="#222" stroke-width="0.8" fill="none"/>
<text font-size="7.93" text-anchor="end" fill="#231f20" stroke="#231f20" stroke-width="0.13" transform="translate(33.9 384.4) scale(0.87 1)">500</text>
<line x1="38.199999999999996" y1="382" x2="40.8" y2="382" stroke="#222" stroke-width="0.7"/>
<text font-size="7.93" text-anchor="end" fill="#231f20" stroke="#231f20" stroke-width="0.13" transform="translate(33.9 395.9) scale(0.87 1)">400</text>
<line x1="38.199999999999996" y1="393.5" x2="40.8" y2="393.5" stroke="#222" stroke-width="0.7"/>
<text font-size="7.93" text-anchor="end" fill="#231f20" stroke="#231f20" stroke-width="0.13" transform="translate(33.9 407.4) scale(0.87 1)">300</text>
<line x1="38.199999999999996" y1="405" x2="40.8" y2="405" stroke="#222" stroke-width="0.7"/>
<text font-size="7.93" text-anchor="end" fill="#231f20" stroke="#231f20" stroke-width="0.13" transform="translate(33.9 418.59999999999997) scale(0.87 1)">200</text>
<line x1="38.199999999999996" y1="416.2" x2="40.8" y2="416.2" stroke="#222" stroke-width="0.7"/>
<text font-size="7.93" text-anchor="end" fill="#231f20" stroke="#231f20" stroke-width="0.13" transform="translate(33.9 430.2) scale(0.87 1)">100</text>
<line x1="38.199999999999996" y1="427.8" x2="40.8" y2="427.8" stroke="#222" stroke-width="0.7"/>
<text font-size="7.93" text-anchor="end" fill="#231f20" stroke="#231f20" stroke-width="0.13" transform="translate(33.9 448.59999999999997) scale(0.87 1)">40</text>
<line x1="38.199999999999996" y1="446.2" x2="40.8" y2="446.2" stroke="#222" stroke-width="0.7"/>
<text font-size="7.93" text-anchor="end" fill="#231f20" stroke="#231f20" stroke-width="0.13" transform="translate(33.9 460.59999999999997) scale(0.87 1)">30</text>
<line x1="38.199999999999996" y1="458.2" x2="40.8" y2="458.2" stroke="#222" stroke-width="0.7"/>
<text font-size="7.93" text-anchor="end" fill="#231f20" stroke="#231f20" stroke-width="0.13" transform="translate(33.9 472.09999999999997) scale(0.87 1)">20</text>
<line x1="38.199999999999996" y1="469.7" x2="40.8" y2="469.7" stroke="#222" stroke-width="0.7"/>
<text font-size="7.93" text-anchor="end" fill="#231f20" stroke="#231f20" stroke-width="0.13" transform="translate(33.9 483.59999999999997) scale(0.87 1)">10</text>
<line x1="38.199999999999996" y1="481.2" x2="40.8" y2="481.2" stroke="#222" stroke-width="0.7"/>
<text font-size="7.93" text-anchor="end" fill="#231f20" stroke="#231f20" stroke-width="0.13" transform="translate(33.9 494.7) scale(0.87 1)">0</text>
<line x1="38.199999999999996" y1="492.3" x2="40.8" y2="492.3" stroke="#222" stroke-width="0.7"/>
<text x="16.9" y="445.4" font-size="7.6" text-anchor="start" fill="#231f20" stroke="#231f20" stroke-width="0.13" font-weight="bold" textLength="16.4" lengthAdjust="spacingAndGlyphs" transform="rotate(-90 16.9 445.4)">FPKM</text>
<rect x="43" y="382" width="6.2" height="5.6" fill="#106854"/>
<rect x="43" y="392.4" width="6.2" height="5.6" fill="#f0960a"/>
<text font-size="6.67" text-anchor="start" fill="#231f20" stroke="#231f20" stroke-width="0.13" transform="translate(52.3 387.2) scale(0.87 1)">WT</text>
<text font-size="6.67" text-anchor="start" fill="#231f20" stroke="#231f20" stroke-width="0.13" transform="translate(52.3 397.6) scale(0.87 1)"><tspan font-style="italic">Gata2</tspan><tspan dy="-0.48em" font-size="0.7em">+/−</tspan></text>
<text font-size="10.0" text-anchor="start" fill="#231f20" stroke="#231f20" stroke-width="0.13" transform="translate(74.6 373.8) scale(0.87 1)">Expression in E11 CD31<tspan dy="-0.48em" font-size="0.7em">+</tspan><tspan dy="0.336em">cKit</tspan><tspan dy="-0.48em" font-size="0.7em">+</tspan><tspan dy="0.336em"> HSPCs</tspan></text>
<path d="M41.2 522.6H110.8M41.2 520.8v3.6M110.8 520.8v3.6M114.8 522.6H241.5M114.8 520.8v3.6M241.5 520.8v3.6" stroke="#222" stroke-width="0.7" fill="none"/>
<text font-size="6.9" text-anchor="middle" fill="#231f20" stroke="#231f20" stroke-width="0.13" transform="translate(75.7 533.2) scale(0.87 1)">Endothelial</text>
<text font-size="7.24" text-anchor="middle" fill="#231f20" stroke="#231f20" stroke-width="0.13" transform="translate(178.4 533.2) scale(0.87 1)">Hematopoietic</text>
<ellipse cx="173.1" cy="156.2" rx="11.9" ry="13.8" fill="#fcfcf0"/>
<ellipse cx="182" cy="176.6" rx="11.5" ry="17.2" fill="#fcfcf0"/>
<ellipse cx="177.3" cy="205" rx="17" ry="27" fill="#fcfcf0"/>
<ellipse cx="199.5" cy="201" rx="12.5" ry="20" fill="#fcfcf0"/>
<ellipse cx="145.7" cy="206.6" rx="30.2" ry="24.6" fill="#fcfcf0"/>
<ellipse cx="155.6" cy="227.7" rx="14.7" ry="21.7" fill="#fcfcf0"/>
<ellipse cx="201.1" cy="225.3" rx="14.4" ry="11" fill="#fcfcf0"/>
<ellipse cx="171.5" cy="256.5" rx="25.5" ry="29" fill="#fcfcf0"/>
<ellipse cx="214" cy="252.6" rx="25.5" ry="17.2" fill="#fcfcf0"/>
<ellipse cx="200.5" cy="273.7" rx="15.5" ry="13.3" fill="#fcfcf0"/>
<g filter="url(#blur2)" opacity="0.8"><ellipse cx="178" cy="247" rx="15" ry="11" fill="#8fc0ec"/><ellipse cx="185" cy="215" rx="14" ry="22" fill="#d3e6f7"/><ellipse cx="155" cy="225" rx="10" ry="14" fill="#d3e6f7"/><ellipse cx="212" cy="250" rx="12" ry="8" fill="#d3e6f7"/><ellipse cx="183" cy="172" rx="7" ry="12" fill="#dbeaf8"/><ellipse cx="200" cy="225" rx="10" ry="7" fill="#cfe3f6"/></g>
<ellipse cx="173.1" cy="156.2" rx="11.9" ry="13.8" fill="none" stroke="#918e80" stroke-width="0.6"/>
<ellipse cx="182" cy="176.6" rx="11.5" ry="17.2" fill="none" stroke="#918e80" stroke-width="0.6"/>
<ellipse cx="177.3" cy="205" rx="17" ry="27" fill="none" stroke="#918e80" stroke-width="0.6"/>
<ellipse cx="199.5" cy="201" rx="12.5" ry="20" fill="none" stroke="#918e80" stroke-width="0.6"/>
<ellipse cx="145.7" cy="206.6" rx="30.2" ry="24.6" fill="none" stroke="#918e80" stroke-width="0.6"/>
<ellipse cx="155.6" cy="227.7" rx="14.7" ry="21.7" fill="none" stroke="#918e80" stroke-width="0.6"/>
<ellipse cx="201.1" cy="225.3" rx="14.4" ry="11" fill="none" stroke="#918e80" stroke-width="0.6"/>
<ellipse cx="171.5" cy="256.5" rx="25.5" ry="29" fill="none" stroke="#918e80" stroke-width="0.6"/>
<ellipse cx="214" cy="252.6" rx="25.5" ry="17.2" fill="none" stroke="#918e80" stroke-width="0.6"/>
<ellipse cx="200.5" cy="273.7" rx="15.5" ry="13.3" fill="none" stroke="#918e80" stroke-width="0.6"/>
<path d="M130.4 190.5L136.6 195.2M130.4 190.5L137.3 202.0M136.6 195.2L137.3 202.0M136.6 195.2L130.4 190.5M147.7 196.6L144.3 202.2M147.7 196.6L155.3 198.2M155.3 198.2L161.1 201.6M155.3 198.2L161.3 201.3M137.3 202.0L139.6 207.6M137.3 202.0L132.2 206.3M144.3 202.2L147.7 196.6M144.3 202.2L137.3 202.0M125.5 206.5L132.2 206.3M125.5 206.5L120.0 199.0M132.2 206.3L137.3 202.0M132.2 206.3L125.5 206.5M139.6 207.6L137.3 202.0M139.6 207.6L144.3 202.2M146.7 213.7L153.0 217.7M146.7 213.7L155.1 212.3M155.1 212.3L158.4 215.0M155.1 212.3L153.0 217.7M128.6 216.0L124.0 222.0M128.6 216.0L137.3 215.7M137.3 215.7L139.2 221.1M137.3 215.7L139.6 207.6M139.2 221.1L137.3 215.7M139.2 221.1L146.7 213.7M153.0 217.7L151.7 221.7M153.0 217.7L155.1 212.3M158.4 215.0L155.1 212.3M158.4 215.0L159.8 219.7M159.8 219.7L158.4 215.0M159.8 219.7L163.8 215.0M151.7 221.7L150.4 225.4M151.7 221.7L153.0 217.7M150.4 225.4L151.7 221.7M150.4 225.4L153.0 217.7M164.5 194.2L165.0 193.8M164.5 194.2L161.3 201.3M161.1 201.6L161.3 201.3M161.1 201.6L159.1 207.3M167.5 202.2L167.5 201.9M167.5 202.2L172.5 203.1M172.6 188.1L172.5 187.8M172.6 188.1L175.0 195.0M175.0 195.2L175.0 195.0M175.0 195.2L172.6 188.1M173.2 202.9L172.5 203.1M173.2 202.9L167.5 202.2M159.1 207.3L161.1 201.6M159.1 207.3L161.3 201.3M163.8 215.0L166.5 218.4M163.8 215.0L158.4 215.0M166.5 218.4L163.8 215.0M166.5 218.4L159.8 219.7M175.3 209.0L178.0 212.3M175.3 209.0L179.3 211.3M173.6 213.3L178.0 212.3M173.6 213.3L175.3 209.0M178.0 212.3L179.3 211.3M178.0 212.3L175.3 209.0M177.3 218.4L181.8 218.8M177.3 218.4L178.0 212.3M180.6 207.6L180.5 207.5M180.6 207.6L179.3 211.3M159.8 227.8L163.1 228.0M159.8 227.8L161.8 233.2M163.1 228.0L159.8 227.8M163.1 228.0L161.8 233.2M161.8 233.2L163.1 228.0M161.8 233.2L159.8 227.8M120.0 199.0L125.5 206.5M120.0 199.0L130.4 190.5M124.0 222.0L128.6 216.0M124.0 222.0L137.3 215.7M167.5 149.4L179.0 151.9M167.5 149.4L173.1 164.0M179.0 151.9L167.5 149.4M179.0 151.9L173.1 164.0M173.1 164.0L183.5 165.0M173.1 164.0L179.0 151.9M183.5 165.0L173.1 164.0M183.5 165.0L181.5 175.6M175.3 177.5L181.5 175.6M175.3 177.5L180.0 182.5M181.5 175.6L175.3 177.5M181.5 175.6L187.8 177.5M187.8 177.5L181.5 175.6M187.8 177.5L189.4 184.4M180.0 182.5L182.8 187.8M180.0 182.5L175.3 177.5M189.4 184.4L187.8 177.5M189.4 184.4L182.8 187.8M182.8 187.8L180.0 182.5M182.8 187.8L189.4 184.4M172.5 187.8L172.6 188.1M172.5 187.8L175.0 195.0M175.0 195.0L175.0 195.2M175.0 195.0L172.6 188.1M165.0 193.8L164.5 194.2M165.0 193.8L161.3 201.3M182.8 198.1L183.0 198.8M182.8 198.1L175.0 195.2M167.5 201.9L167.5 202.2M167.5 201.9L172.5 203.1M161.3 201.3L161.1 201.6M161.3 201.3L167.5 201.9M172.5 203.1L173.2 202.9M172.5 203.1L167.5 202.2M193.1 200.0L193.6 200.0M193.1 200.0L197.4 197.3M197.5 196.9L197.4 197.3M197.5 196.9L193.6 200.0M204.4 200.0L204.5 199.8M204.4 200.0L205.5 206.5M206.5 188.1L204.5 199.8M206.5 188.1L204.4 200.0M183.0 198.8L182.8 198.1M183.0 198.8L175.0 195.2M193.6 200.0L193.1 200.0M193.6 200.0L197.4 197.3M197.4 197.3L197.5 196.9M197.4 197.3L193.6 200.0M204.5 199.8L204.4 200.0M204.5 199.8L205.5 206.5M198.0 204.4L193.6 200.0M198.0 204.4L193.1 200.0M205.5 206.5L204.4 200.0M205.5 206.5L204.5 199.8M180.5 207.5L180.6 207.6M180.5 207.5L179.3 211.3M187.0 206.9L189.9 210.6M187.0 206.9L180.6 207.6M189.9 210.6L187.0 206.9M189.9 210.6L190.5 216.9M195.5 214.4L200.5 214.4M195.5 214.4L190.5 216.9M200.5 214.4L195.5 214.4M200.5 214.4L207.8 218.5M183.0 214.4L181.8 218.8M183.0 214.4L179.3 211.3M179.3 211.3L178.0 212.3M179.3 211.3L180.6 207.6M190.5 216.9L189.0 220.0M190.5 216.9L195.5 214.4M181.8 218.8L177.3 218.4M181.8 218.8L183.0 214.4M189.0 220.0L190.5 216.9M189.0 220.0L181.8 218.8M207.8 218.5L203.6 223.1M207.8 218.5L200.5 214.4M203.6 223.1L201.5 228.1M203.6 223.1L207.8 218.5M195.5 224.4L197.4 228.1M195.5 224.4L192.0 228.1M192.0 228.1L194.9 231.9M192.0 228.1L195.5 224.4M197.4 228.1L201.5 228.1M197.4 228.1L195.5 224.4M201.5 228.1L197.4 228.1M201.5 228.1L199.9 232.5M211.1 228.1L203.6 223.1M211.1 228.1L201.5 228.1M194.9 231.9L197.4 228.1M194.9 231.9L192.0 228.1M199.9 232.5L201.5 228.1M199.9 232.5L194.9 231.9M185.5 232.5L185.0 233.0M185.5 232.5L185.6 237.4M203.5 241.3L208.6 244.2M203.5 241.3L204.0 248.3M208.6 244.2L213.8 244.8M208.6 244.2L203.5 241.3M213.8 244.8L214.8 249.4M213.8 244.8L208.6 244.2M194.2 245.4L193.8 245.5M194.2 245.4L191.5 247.6M204.0 248.3L208.6 250.9M204.0 248.3L202.9 254.0M208.6 250.9L204.0 248.3M208.6 250.9L206.9 256.3M214.8 249.4L213.8 244.8M214.8 249.4L220.2 251.7M220.2 251.7L214.8 249.4M220.2 251.7L215.2 255.5M230.9 252.5L220.2 251.7M230.9 252.5L226.5 265.9M194.0 251.1L193.8 251.1M194.0 251.1L190.0 251.8M202.9 254.0L206.9 256.3M202.9 254.0L202.3 259.2M206.9 256.3L202.9 254.0M206.9 256.3L203.1 259.3M215.2 255.5L211.5 259.2M215.2 255.5L214.8 249.4M202.3 259.2L203.1 259.3M202.3 259.2L202.9 254.0M211.5 259.2L215.2 255.5M211.5 259.2L206.9 256.3M226.5 265.9L230.9 252.5M226.5 265.9L215.2 255.5M200.6 265.2L200.6 265.5M200.6 265.2L196.9 268.6M188.2 268.2L188.8 268.0M188.2 268.2L185.0 275.0M196.8 269.4L196.9 268.6M196.8 269.4L200.6 265.5M210.4 273.6L205.2 282.3M210.4 273.6L200.6 265.5M196.5 281.7L196.9 282.4M196.5 281.7L205.2 282.3M205.2 282.3L196.9 282.4M205.2 282.3L196.5 281.7M189.6 251.7L190.0 251.8M189.6 251.7L186.0 250.5M187.3 247.7L188.8 246.8M187.3 247.7L184.4 246.8M186.7 254.6L186.3 254.9M186.7 254.6L183.0 253.9M185.0 233.0L185.5 232.5M185.0 233.0L185.6 237.4M176.3 236.8L179.5 235.0M176.3 236.8L174.0 240.0M171.3 238.6L174.0 240.0M171.3 238.6L168.2 240.8M181.3 238.0L180.5 241.4M181.3 238.0L179.5 235.0M185.6 237.4L186.4 241.2M185.6 237.4L183.5 241.0M165.6 244.3L164.3 248.2M165.6 244.3L167.5 248.0M167.5 248.0L164.3 248.2M167.5 248.0L168.5 251.5M170.0 244.3L172.9 244.5M170.0 244.3L168.2 240.8M176.9 241.8L174.0 240.0M176.9 241.8L180.5 241.4M178.8 244.9L181.9 244.9M178.8 244.9L180.0 247.9M181.9 244.9L178.8 244.9M181.9 244.9L184.4 246.8M184.4 246.8L186.5 244.7M184.4 246.8L187.3 247.7M177.5 249.3L180.0 247.9M177.5 249.3L175.5 246.0M181.3 250.5L180.0 247.9M181.3 250.5L183.0 253.9M173.8 251.8L171.3 254.3M173.8 251.8L177.4 253.2M171.3 254.3L173.8 251.8M171.3 254.3L175.0 255.5M175.0 255.5L177.4 253.2M175.0 255.5L173.8 251.8M178.8 258.6L180.8 256.1M178.8 258.6L175.0 255.5M186.3 254.9L186.7 254.6M186.3 254.9L183.0 253.9M190.0 251.8L189.6 251.7M190.0 251.8L193.8 251.1M193.8 245.5L194.2 245.4M193.8 245.5L191.5 247.6M193.8 251.1L194.0 251.1M193.8 251.1L190.0 251.8M188.8 246.8L187.3 247.7M188.8 246.8L191.5 247.6M160.0 243.6L163.1 240.5M160.0 243.6L165.6 244.3M159.4 250.5L164.0 252.5M159.4 250.5L164.3 248.2M163.1 240.5L160.0 243.6M163.1 240.5L165.6 244.3M174.0 240.0L171.3 238.6M174.0 240.0L176.9 241.8M168.5 251.5L167.5 248.0M168.5 251.5L171.3 254.3M183.5 241.0L186.4 241.2M183.5 241.0L180.5 241.4M179.5 235.0L181.3 238.0M179.5 235.0L176.3 236.8M172.5 247.5L172.9 244.5M172.5 247.5L175.5 246.0M186.0 250.5L187.3 247.7M186.0 250.5L189.6 251.7M164.0 252.5L164.3 248.2M164.0 252.5L168.5 251.5M175.5 246.0L172.9 244.5M175.5 246.0L172.5 247.5M148.1 238.6L155.0 239.9M148.1 238.6L160.0 243.6M155.0 239.9L160.0 243.6M155.0 239.9L148.1 238.6M154.4 260.5L162.5 261.1M154.4 260.5L158.0 268.0M162.5 261.1L154.4 260.5M162.5 261.1L158.0 268.0M168.1 276.8L176.9 284.3M168.1 276.8L158.0 268.0M176.9 284.3L168.1 276.8M176.9 284.3L185.0 275.0M188.8 268.0L188.2 268.2M188.8 268.0L185.0 275.0M196.9 268.6L196.8 269.4M196.9 268.6L200.6 265.5M200.6 265.5L200.6 265.2M200.6 265.5L196.9 268.6M196.9 282.4L196.5 281.7M196.9 282.4L205.2 282.3M203.1 259.3L202.3 259.2M203.1 259.3L206.9 256.3M158.0 268.0L162.5 261.1M158.0 268.0L154.4 260.5M185.0 275.0L188.2 268.2M185.0 275.0L188.8 268.0M183.0 253.9L180.8 256.1M183.0 253.9L186.3 254.9M186.4 241.2L183.5 241.0M186.4 241.2L186.5 244.7M172.9 244.5L170.0 244.3M172.9 244.5L172.5 247.5M168.2 240.8L171.3 238.6M168.2 240.8L170.0 244.3M177.4 253.2L175.0 255.5M177.4 253.2L173.8 251.8M190.7 242.4L193.8 245.5M190.7 242.4L186.4 241.2M180.8 256.1L183.0 253.9M180.8 256.1L178.8 258.6M180.0 247.9L177.5 249.3M180.0 247.9L181.3 250.5M180.5 241.4L183.5 241.0M180.5 241.4L181.3 238.0M164.3 248.2L167.5 248.0M164.3 248.2L165.6 244.3M186.5 244.7L184.4 246.8M186.5 244.7L187.3 247.7M191.5 247.6L188.8 246.8M191.5 247.6L193.8 245.5" stroke="#8fbde6" stroke-width="0.35" opacity="0.35" fill="none"/>
<circle cx="130.4" cy="190.5" r="1.30" fill="#1a4a86"/><circle cx="136.6" cy="195.2" r="1.20" fill="#1a4a86"/><circle cx="147.7" cy="196.6" r="1.20" fill="#1a4a86"/><circle cx="155.3" cy="198.2" r="1.40" fill="#1a4a86"/><circle cx="137.3" cy="202.0" r="1.20" fill="#1a4a86"/><circle cx="144.3" cy="202.2" r="1.20" fill="#1a4a86"/><circle cx="125.5" cy="206.5" r="1.20" fill="#1a4a86"/><circle cx="132.2" cy="206.3" r="1.20" fill="#1a4a86"/><circle cx="139.6" cy="207.6" r="1.20" fill="#1a4a86"/><circle cx="146.7" cy="213.7" r="2.20" fill="#1b5aa0"/><circle cx="155.1" cy="212.3" r="1.40" fill="#1a4a86"/><circle cx="128.6" cy="216.0" r="1.10" fill="#1a4a86"/><circle cx="137.3" cy="215.7" r="1.20" fill="#1a4a86"/><circle cx="139.2" cy="221.1" r="1.30" fill="#1a4a86"/><circle cx="153.0" cy="217.7" r="1.40" fill="#1a4a86"/><circle cx="158.4" cy="215.0" r="1.20" fill="#1a4a86"/><circle cx="159.8" cy="219.7" r="1.30" fill="#1a4a86"/><circle cx="151.7" cy="221.7" r="1.20" fill="#1a4a86"/><circle cx="150.4" cy="225.4" r="1.10" fill="#1a4a86"/><circle cx="164.5" cy="194.2" r="1.30" fill="#1a4a86"/><circle cx="161.1" cy="201.6" r="1.30" fill="#1a4a86"/><circle cx="167.5" cy="202.2" r="1.20" fill="#1a4a86"/><circle cx="172.6" cy="188.1" r="1.40" fill="#1a4a86"/><circle cx="175.0" cy="195.2" r="1.20" fill="#1a4a86"/><circle cx="173.2" cy="202.9" r="1.20" fill="#1a4a86"/><circle cx="159.1" cy="207.3" r="1.30" fill="#1a4a86"/><circle cx="163.8" cy="215.0" r="1.20" fill="#1a4a86"/><circle cx="166.5" cy="218.4" r="1.30" fill="#1a4a86"/><circle cx="175.3" cy="209.0" r="1.30" fill="#1a4a86"/><circle cx="173.6" cy="213.3" r="1.20" fill="#1a4a86"/><circle cx="178.0" cy="212.3" r="1.30" fill="#1a4a86"/><circle cx="177.3" cy="218.4" r="1.20" fill="#1a4a86"/><circle cx="180.6" cy="207.6" r="1.20" fill="#1a4a86"/><circle cx="159.8" cy="227.8" r="1.20" fill="#1a4a86"/><circle cx="163.1" cy="228.0" r="1.20" fill="#1a4a86"/><circle cx="161.8" cy="233.2" r="1.20" fill="#1a4a86"/><circle cx="120.0" cy="199.0" r="1.00" fill="#1a4a86"/><circle cx="124.0" cy="222.0" r="1.00" fill="#1a4a86"/><circle cx="167.5" cy="149.4" r="1.20" fill="#1a4a86"/><circle cx="179.0" cy="151.9" r="1.20" fill="#1a4a86"/><circle cx="173.1" cy="164.0" r="1.80" fill="#1b5aa0"/><circle cx="183.5" cy="165.0" r="1.50" fill="#1b5aa0"/><circle cx="175.3" cy="177.5" r="1.20" fill="#1a4a86"/><circle cx="181.5" cy="175.6" r="1.20" fill="#1a4a86"/><circle cx="187.8" cy="177.5" r="1.20" fill="#1a4a86"/><circle cx="180.0" cy="182.5" r="1.20" fill="#1a4a86"/><circle cx="189.4" cy="184.4" r="1.20" fill="#1a4a86"/><circle cx="182.8" cy="187.8" r="1.20" fill="#1a4a86"/><circle cx="172.5" cy="187.8" r="1.30" fill="#1a4a86"/><circle cx="175.0" cy="195.0" r="1.20" fill="#1a4a86"/><circle cx="165.0" cy="193.8" r="1.20" fill="#1a4a86"/><circle cx="182.8" cy="198.1" r="2.00" fill="#1b5aa0"/><circle cx="167.5" cy="201.9" r="1.20" fill="#1a4a86"/><circle cx="161.3" cy="201.3" r="1.20" fill="#1a4a86"/><circle cx="172.5" cy="203.1" r="1.20" fill="#1a4a86"/><circle cx="193.1" cy="200.0" r="1.20" fill="#1a4a86"/><circle cx="197.5" cy="196.9" r="1.20" fill="#1a4a86"/><circle cx="204.4" cy="200.0" r="1.20" fill="#1a4a86"/><circle cx="206.5" cy="188.1" r="1.70" fill="#1b5aa0"/><circle cx="183.0" cy="198.8" r="1.90" fill="#1b5aa0"/><circle cx="193.6" cy="200.0" r="1.20" fill="#1a4a86"/><circle cx="197.4" cy="197.3" r="1.10" fill="#1a4a86"/><circle cx="204.5" cy="199.8" r="1.30" fill="#1a4a86"/><circle cx="198.0" cy="204.4" r="1.20" fill="#1a4a86"/><circle cx="205.5" cy="206.5" r="1.20" fill="#1a4a86"/><circle cx="180.5" cy="207.5" r="1.20" fill="#1a4a86"/><circle cx="187.0" cy="206.9" r="1.20" fill="#1a4a86"/><circle cx="189.9" cy="210.6" r="1.30" fill="#1a4a86"/><circle cx="195.5" cy="214.4" r="1.80" fill="#1b5aa0"/><circle cx="200.5" cy="214.4" r="1.80" fill="#1b5aa0"/><circle cx="183.0" cy="214.4" r="1.20" fill="#1a4a86"/><circle cx="179.3" cy="211.3" r="1.20" fill="#1a4a86"/><circle cx="190.5" cy="216.9" r="1.20" fill="#1a4a86"/><circle cx="181.8" cy="218.8" r="1.20" fill="#1a4a86"/><circle cx="189.0" cy="220.0" r="1.20" fill="#1a4a86"/><circle cx="207.8" cy="218.5" r="1.20" fill="#1a4a86"/><circle cx="203.6" cy="223.1" r="1.20" fill="#1a4a86"/><circle cx="195.5" cy="224.4" r="1.20" fill="#1a4a86"/><circle cx="192.0" cy="228.1" r="1.20" fill="#1a4a86"/><circle cx="197.4" cy="228.1" r="1.20" fill="#1a4a86"/><circle cx="201.5" cy="228.1" r="1.20" fill="#1a4a86"/><circle cx="211.1" cy="228.1" r="1.30" fill="#1a4a86"/><circle cx="194.9" cy="231.9" r="1.20" fill="#1a4a86"/><circle cx="199.9" cy="232.5" r="1.20" fill="#1a4a86"/><circle cx="185.5" cy="232.5" r="1.80" fill="#1b5aa0"/><circle cx="203.5" cy="241.3" r="1.30" fill="#1a4a86"/><circle cx="208.6" cy="244.2" r="1.20" fill="#1a4a86"/><circle cx="213.8" cy="244.8" r="1.20" fill="#1a4a86"/><circle cx="194.2" cy="245.4" r="2.10" fill="#1b5aa0"/><circle cx="204.0" cy="248.3" r="1.30" fill="#1a4a86"/><circle cx="208.6" cy="250.9" r="1.20" fill="#1a4a86"/><circle cx="214.8" cy="249.4" r="1.30" fill="#1a4a86"/><circle cx="220.2" cy="251.7" r="2.60" fill="#1b5aa0"/><circle cx="230.9" cy="252.5" r="1.10" fill="#1a4a86"/><circle cx="194.0" cy="251.1" r="1.90" fill="#1b5aa0"/><circle cx="202.9" cy="254.0" r="1.30" fill="#1a4a86"/><circle cx="206.9" cy="256.3" r="1.30" fill="#1a4a86"/><circle cx="215.2" cy="255.5" r="1.40" fill="#1a4a86"/><circle cx="202.3" cy="259.2" r="1.30" fill="#1a4a86"/><circle cx="211.5" cy="259.2" r="1.30" fill="#1a4a86"/><circle cx="226.5" cy="265.9" r="1.20" fill="#1a4a86"/><circle cx="200.6" cy="265.2" r="1.10" fill="#1a4a86"/><circle cx="188.2" cy="268.2" r="1.20" fill="#1a4a86"/><circle cx="196.8" cy="269.4" r="1.20" fill="#1a4a86"/><circle cx="210.4" cy="273.6" r="1.00" fill="#1a4a86"/><circle cx="196.5" cy="281.7" r="1.20" fill="#1a4a86"/><circle cx="205.2" cy="282.3" r="1.20" fill="#1a4a86"/><circle cx="189.6" cy="251.7" r="1.20" fill="#1a4a86"/><circle cx="187.3" cy="247.7" r="1.20" fill="#1a4a86"/><circle cx="186.7" cy="254.6" r="1.20" fill="#1a4a86"/><circle cx="185.0" cy="233.0" r="1.60" fill="#1b5aa0"/><circle cx="176.3" cy="236.8" r="1.60" fill="#1b5aa0"/><circle cx="171.3" cy="238.6" r="1.60" fill="#1b5aa0"/><circle cx="181.3" cy="238.0" r="1.60" fill="#1b5aa0"/><circle cx="185.6" cy="237.4" r="1.60" fill="#1b5aa0"/><circle cx="165.6" cy="244.3" r="2.00" fill="#1b5aa0"/><circle cx="167.5" cy="248.0" r="1.70" fill="#1b5aa0"/><circle cx="170.0" cy="244.3" r="1.60" fill="#1b5aa0"/><circle cx="176.9" cy="241.8" r="1.60" fill="#1b5aa0"/><circle cx="178.8" cy="244.9" r="1.60" fill="#1b5aa0"/><circle cx="181.9" cy="244.9" r="1.60" fill="#1b5aa0"/><circle cx="184.4" cy="246.8" r="1.60" fill="#1b5aa0"/><circle cx="177.5" cy="249.3" r="1.60" fill="#1b5aa0"/><circle cx="181.3" cy="250.5" r="1.60" fill="#1b5aa0"/><circle cx="173.8" cy="251.8" r="1.60" fill="#1b5aa0"/><circle cx="171.3" cy="254.3" r="1.60" fill="#1b5aa0"/><circle cx="175.0" cy="255.5" r="1.60" fill="#1b5aa0"/><circle cx="178.8" cy="258.6" r="2.00" fill="#1b5aa0"/><circle cx="186.3" cy="254.9" r="1.60" fill="#1b5aa0"/><circle cx="190.0" cy="251.8" r="1.60" fill="#1b5aa0"/><circle cx="193.8" cy="245.5" r="2.20" fill="#1b5aa0"/><circle cx="193.8" cy="251.1" r="2.00" fill="#1b5aa0"/><circle cx="188.8" cy="246.8" r="1.60" fill="#1b5aa0"/><circle cx="160.0" cy="243.6" r="1.40" fill="#1a4a86"/><circle cx="159.4" cy="250.5" r="1.40" fill="#1a4a86"/><circle cx="163.1" cy="240.5" r="1.40" fill="#1a4a86"/><circle cx="174.0" cy="240.0" r="1.60" fill="#1b5aa0"/><circle cx="168.5" cy="251.5" r="1.70" fill="#1b5aa0"/><circle cx="183.5" cy="241.0" r="1.60" fill="#1b5aa0"/><circle cx="179.5" cy="235.0" r="1.50" fill="#1b5aa0"/><circle cx="172.5" cy="247.5" r="1.40" fill="#1a4a86"/><circle cx="186.0" cy="250.5" r="1.60" fill="#1b5aa0"/><circle cx="164.0" cy="252.5" r="1.50" fill="#1b5aa0"/><circle cx="175.5" cy="246.0" r="1.30" fill="#1a4a86"/><circle cx="148.1" cy="238.6" r="1.30" fill="#1a4a86"/><circle cx="155.0" cy="239.9" r="1.20" fill="#1a4a86"/><circle cx="154.4" cy="260.5" r="1.30" fill="#1a4a86"/><circle cx="162.5" cy="261.1" r="1.20" fill="#1a4a86"/><circle cx="168.1" cy="276.8" r="1.20" fill="#1a4a86"/><circle cx="176.9" cy="284.3" r="1.20" fill="#1a4a86"/><circle cx="188.8" cy="268.0" r="1.20" fill="#1a4a86"/><circle cx="196.9" cy="268.6" r="1.20" fill="#1a4a86"/><circle cx="200.6" cy="265.5" r="1.20" fill="#1a4a86"/><circle cx="196.9" cy="282.4" r="1.20" fill="#1a4a86"/><circle cx="203.1" cy="259.3" r="1.20" fill="#1a4a86"/><circle cx="158.0" cy="268.0" r="1.00" fill="#1a4a86"/><circle cx="185.0" cy="275.0" r="1.00" fill="#1a4a86"/><circle cx="183.0" cy="253.9" r="1.49" fill="#1b5aa0"/><circle cx="186.4" cy="241.2" r="1.53" fill="#1b5aa0"/><circle cx="172.9" cy="244.5" r="1.40" fill="#1a4a86"/><circle cx="168.2" cy="240.8" r="1.48" fill="#1b5aa0"/><circle cx="177.4" cy="253.2" r="1.41" fill="#1a4a86"/><circle cx="190.7" cy="242.4" r="1.58" fill="#1b5aa0"/><circle cx="180.8" cy="256.1" r="1.76" fill="#1b5aa0"/><circle cx="180.0" cy="247.9" r="1.51" fill="#1b5aa0"/><circle cx="180.5" cy="241.4" r="1.68" fill="#1b5aa0"/><circle cx="164.3" cy="248.2" r="1.64" fill="#1b5aa0"/><circle cx="186.5" cy="244.7" r="1.60" fill="#1b5aa0"/><circle cx="191.5" cy="247.6" r="1.67" fill="#1b5aa0"/>
<ellipse cx="40.5" cy="228.4" rx="25.5" ry="10.4" fill="#fcfcf0" stroke="#918e80" stroke-width="0.6"/>
<circle cx="31" cy="222.5" r="1.4" fill="#1b5aa0"/>
<circle cx="44.5" cy="224" r="1.8" fill="#1b5aa0"/>
<circle cx="25" cy="232.5" r="1.35" fill="#1b5aa0"/>
<circle cx="38.75" cy="233" r="1.35" fill="#1b5aa0"/>
<circle cx="57" cy="233.75" r="1.25" fill="#1b5aa0"/>
<path d="M31 222.5L44.5 224L38.75 233L25 232.5M44.5 224L57 233.75" stroke="#8fbde6" stroke-width="0.3" fill="none" opacity="0.35"/>
<ellipse cx="318.75" cy="174.7" rx="25.25" ry="19.7" fill="#fcfcf0" stroke="#918e80" stroke-width="0.6"/>
<circle cx="308.5" cy="162.7" r="1.21" fill="#861028"/><circle cx="320.4" cy="169.4" r="1.21" fill="#861028"/><circle cx="312.3" cy="176.2" r="1.76" fill="#a8122f"/><circle cx="326.3" cy="176.2" r="1.43" fill="#861028"/><circle cx="334.4" cy="181.0" r="1.21" fill="#861028"/><circle cx="303.3" cy="185.4" r="1.43" fill="#861028"/><circle cx="321.0" cy="186.7" r="1.21" fill="#861028"/>
<ellipse cx="335.5" cy="240" rx="29" ry="46" fill="#fcfcf0" stroke="#918e80" stroke-width="0.6"/>
<g filter="url(#blur1)" opacity="0.6"><ellipse cx="330" cy="222" rx="10" ry="7" fill="#bfe3ea"/></g>
<path d="M330.3 207.3L325.3 213.6M330.3 207.3L330.5 216.3M321.0 212.3L325.3 213.6M321.0 212.3L320.3 218.5M325.3 213.6L321.0 212.3M325.3 213.6L330.5 216.3M346.3 213.6L340.7 217.7M346.3 213.6L354.9 218.5M315.3 217.5L320.3 218.5M315.3 217.5L317.5 223.5M320.3 218.5L315.3 217.5M320.3 218.5L317.5 223.5M330.5 216.3L335.0 216.4M330.5 216.3L325.3 213.6M335.0 216.4L330.5 216.3M335.0 216.4L340.7 217.7M340.7 217.7L335.0 216.4M340.7 217.7L346.3 213.6M354.9 218.5L352.3 226.3M354.9 218.5L346.3 213.6M317.5 223.5L320.3 218.5M317.5 223.5L315.3 217.5M326.5 222.8L331.0 224.4M326.5 222.8L329.3 227.5M331.0 224.4L329.3 227.5M331.0 224.4L326.5 222.8M339.3 225.0L344.6 228.8M339.3 225.0L340.7 217.7M352.3 226.3L344.6 228.8M352.3 226.3L354.9 218.5M322.8 227.2L326.5 222.8M322.8 227.2L317.5 223.5M329.3 227.5L331.0 224.4M329.3 227.5L326.5 222.8M344.6 228.8L339.3 225.0M344.6 228.8L352.3 226.3M314.2 231.0L317.5 223.5M314.2 231.0L321.8 235.2M321.8 235.2L322.8 227.2M321.8 235.2L314.2 231.0M334.0 236.6L328.2 241.2M334.0 236.6L329.3 227.5M328.2 241.2L334.0 236.6M328.2 241.2L321.8 235.2M334.8 254.7L324.4 257.7M334.8 254.7L328.2 241.2M324.4 257.7L334.8 254.7M324.4 257.7L322.0 271.3M322.0 271.3L324.4 257.7M322.0 271.3L334.8 254.7M355.0 238.0L352.3 226.3M355.0 238.0L344.6 228.8M311.0 247.0L321.8 235.2M311.0 247.0L314.2 231.0" stroke="#9fd4dc" stroke-width="0.35" opacity="0.6" fill="none"/>
<circle cx="330.3" cy="207.3" r="1.54" fill="#a8122f"/><circle cx="321.0" cy="212.3" r="1.21" fill="#861028"/><circle cx="325.3" cy="213.6" r="1.65" fill="#a8122f"/><circle cx="346.3" cy="213.6" r="1.32" fill="#861028"/><circle cx="315.3" cy="217.5" r="1.43" fill="#861028"/><circle cx="320.3" cy="218.5" r="1.65" fill="#a8122f"/><circle cx="330.5" cy="216.3" r="1.21" fill="#861028"/><circle cx="335.0" cy="216.4" r="1.87" fill="#a8122f"/><circle cx="340.7" cy="217.7" r="2.97" fill="#a8122f"/><circle cx="354.9" cy="218.5" r="2.09" fill="#a8122f"/><circle cx="317.5" cy="223.5" r="1.32" fill="#861028"/><circle cx="326.5" cy="222.8" r="1.21" fill="#861028"/><circle cx="331.0" cy="224.4" r="1.10" fill="#861028"/><circle cx="339.3" cy="225.0" r="2.09" fill="#a8122f"/><circle cx="352.3" cy="226.3" r="2.53" fill="#a8122f"/><circle cx="322.8" cy="227.2" r="1.32" fill="#861028"/><circle cx="329.3" cy="227.5" r="1.21" fill="#861028"/><circle cx="344.6" cy="228.8" r="1.98" fill="#a8122f"/><circle cx="314.2" cy="231.0" r="2.42" fill="#a8122f"/><circle cx="321.8" cy="235.2" r="1.32" fill="#861028"/><circle cx="334.0" cy="236.6" r="1.32" fill="#861028"/><circle cx="328.2" cy="241.2" r="1.43" fill="#861028"/><circle cx="334.8" cy="254.7" r="1.21" fill="#861028"/><circle cx="324.4" cy="257.7" r="1.54" fill="#a8122f"/><circle cx="322.0" cy="271.3" r="1.21" fill="#861028"/><circle cx="355.0" cy="238.0" r="1.21" fill="#861028"/><circle cx="311.0" cy="247.0" r="1.10" fill="#861028"/>
<ellipse cx="405" cy="173.8" rx="21" ry="33" fill="#fcfcf0" stroke="#918e80" stroke-width="0.6"/>
<ellipse cx="444" cy="166.5" rx="18" ry="25.5" fill="#fcfcf0" stroke="#918e80" stroke-width="0.6"/>
<path d="M410.2 149.4L403.7 160.6M410.2 149.4L413.1 162.3M403.7 160.6L397.6 166.2M403.7 160.6L413.1 162.3M413.1 162.3L420.6 166.2M413.1 162.3L403.7 160.6M397.6 166.2L403.7 160.6M397.6 166.2L389.7 172.0M420.6 166.2L420.6 174.5M420.6 166.2L413.1 162.3M389.7 172.0L397.6 166.2M389.7 172.0L396.5 179.7M404.5 173.5L410.5 173.5M404.5 173.5L397.6 166.2M410.5 173.5L404.5 173.5M410.5 173.5L420.6 174.5M420.6 174.5L420.6 166.2M420.6 174.5L416.6 182.0M396.5 179.7L401.8 186.6M396.5 179.7L404.5 173.5M416.6 182.0L413.4 187.3M416.6 182.0L420.6 174.5M407.5 185.2L401.8 186.6M407.5 185.2L413.4 187.3M401.8 186.6L407.5 185.2M401.8 186.6L396.5 179.7M413.4 187.3L416.6 182.0M413.4 187.3L407.5 185.2M395.6 199.3L401.8 186.6M395.6 199.3L388.0 187.0M388.0 187.0L396.5 179.7M388.0 187.0L401.8 186.6" stroke="#e0a0a8" stroke-width="0.35" opacity="0.45" fill="none"/>
<path d="M441.3 149.4L447.2 153.5M441.3 149.4L434.2 153.0M434.2 153.0L431.4 156.1M434.2 153.0L441.3 149.4M447.2 153.5L449.0 160.2M447.2 153.5L441.3 149.4M431.4 156.1L434.2 153.0M431.4 156.1L433.5 163.6M440.2 158.9L447.0 160.8M440.2 158.9L433.5 163.6M447.0 160.8L449.0 160.2M447.0 160.8L440.2 158.9M433.5 163.6L431.4 156.1M433.5 163.6L440.2 158.9M441.3 167.7L433.5 163.6M441.3 167.7L440.2 158.9M456.0 170.7L446.2 176.5M456.0 170.7L449.0 160.2M433.3 175.5L435.0 183.5M433.3 175.5L441.3 167.7M446.2 176.5L443.9 184.6M446.2 176.5L441.3 167.7M435.0 183.5L433.3 175.5M435.0 183.5L443.9 184.6M443.9 184.6L446.2 176.5M443.9 184.6L435.0 183.5M449.0 160.2L447.0 160.8M449.0 160.2L447.2 153.5" stroke="#9cc4e8" stroke-width="0.35" opacity="0.5" fill="none"/>
<circle cx="410.2" cy="149.4" r="1.65" fill="#a8122f"/><circle cx="403.7" cy="160.6" r="1.21" fill="#861028"/><circle cx="413.1" cy="162.3" r="1.54" fill="#a8122f"/><circle cx="397.6" cy="166.2" r="1.43" fill="#861028"/><circle cx="420.6" cy="166.2" r="1.21" fill="#861028"/><circle cx="389.7" cy="172.0" r="1.21" fill="#861028"/><circle cx="404.5" cy="173.5" r="2.75" fill="#a8122f"/><circle cx="410.5" cy="173.5" r="2.09" fill="#a8122f"/><circle cx="420.6" cy="174.5" r="1.21" fill="#861028"/><circle cx="396.5" cy="179.7" r="1.43" fill="#861028"/><circle cx="416.6" cy="182.0" r="1.32" fill="#861028"/><circle cx="407.5" cy="185.2" r="1.32" fill="#861028"/><circle cx="401.8" cy="186.6" r="1.32" fill="#861028"/><circle cx="413.4" cy="187.3" r="1.32" fill="#861028"/><circle cx="395.6" cy="199.3" r="1.43" fill="#861028"/><circle cx="388.0" cy="187.0" r="0.99" fill="#861028"/>
<circle cx="441.3" cy="149.4" r="1.30" fill="#1a4a86"/><circle cx="434.2" cy="153.0" r="1.70" fill="#1b5aa0"/><circle cx="447.2" cy="153.5" r="1.30" fill="#1a4a86"/><circle cx="431.4" cy="156.1" r="1.50" fill="#1b5aa0"/><circle cx="440.2" cy="158.9" r="1.40" fill="#1a4a86"/><circle cx="447.0" cy="160.8" r="1.20" fill="#1a4a86"/><circle cx="433.5" cy="163.6" r="1.20" fill="#1a4a86"/><circle cx="441.3" cy="167.7" r="1.40" fill="#1a4a86"/><circle cx="456.0" cy="170.7" r="1.00" fill="#1a4a86"/><circle cx="433.3" cy="175.5" r="1.10" fill="#1a4a86"/><circle cx="446.2" cy="176.5" r="1.10" fill="#1a4a86"/><circle cx="435.0" cy="183.5" r="1.10" fill="#1a4a86"/><circle cx="443.9" cy="184.6" r="1.20" fill="#1a4a86"/><circle cx="449.0" cy="160.2" r="1.00" fill="#1a4a86"/>
<ellipse cx="63.2" cy="321.5" rx="14.4" ry="18.3" fill="#fcfcf0" stroke="#b3a48f" stroke-width="0.6"/>
<ellipse cx="76.6" cy="319" rx="11" ry="13" fill="#fcfcf0" fill-opacity="0.6" stroke="#8fb09c" stroke-width="0.6"/>
<circle cx="56.2" cy="310.0" r="1.20" fill="#861028"/><circle cx="71.5" cy="312.5" r="1.00" fill="#861028"/><circle cx="80.6" cy="313.8" r="1.10" fill="#861028"/><circle cx="66.7" cy="319.6" r="1.00" fill="#861028"/><circle cx="54.6" cy="325.8" r="1.10" fill="#861028"/><circle cx="73.5" cy="325.4" r="1.30" fill="#861028"/><circle cx="81.2" cy="323.5" r="1.10" fill="#861028"/><circle cx="71.0" cy="332.1" r="1.40" fill="#861028"/>
<ellipse cx="137.8" cy="324.6" rx="23" ry="22.3" fill="#fcfcf0" stroke="#918e80" stroke-width="0.6"/>
<circle cx="136.9" cy="310.4" r="1.00" fill="#861028"/><circle cx="152.3" cy="316.2" r="1.10" fill="#861028"/><circle cx="140.8" cy="322.6" r="1.60" fill="#a8122f"/><circle cx="128.1" cy="326.6" r="1.20" fill="#861028"/><circle cx="148.2" cy="333.5" r="1.20" fill="#861028"/><circle cx="136.2" cy="334.7" r="1.10" fill="#861028"/><circle cx="123.9" cy="337.7" r="1.00" fill="#861028"/>
<ellipse cx="192" cy="324" rx="12" ry="16.5" fill="#fcfcf0" stroke="#918e80" stroke-width="0.6"/>
<circle cx="188.6" cy="313.4" r="1.00" fill="#861028"/><circle cx="197.8" cy="315.0" r="1.00" fill="#861028"/><circle cx="184.7" cy="322.0" r="1.00" fill="#861028"/><circle cx="191.6" cy="326.6" r="1.30" fill="#861028"/><circle cx="199.0" cy="324.3" r="1.00" fill="#861028"/><circle cx="190.0" cy="334.7" r="1.00" fill="#861028"/>
<path d="M188.6 313.4L191.6 326.6L197.8 315M184.7 322L191.6 326.6L199 324.3M191.6 326.6L190 334.7" stroke="#cfa0a8" stroke-width="0.3" fill="none" opacity="0.6"/>
<ellipse cx="274.3" cy="322.2" rx="25" ry="18.3" fill="#fcfcf0" stroke="#918e80" stroke-width="0.6"/>
<circle cx="276.3" cy="313.4" r="1.10" fill="#861028"/><circle cx="288.7" cy="312.0" r="1.20" fill="#861028"/><circle cx="271.2" cy="324.7" r="1.20" fill="#861028"/><circle cx="283.4" cy="323.1" r="1.20" fill="#861028"/><circle cx="260.8" cy="332.3" r="1.10" fill="#861028"/>
<path d="M271.2 324.7L283.4 323.1M260.8 332.3L271.2 324.7" stroke="#cfa0a8" stroke-width="0.3" fill="none" opacity="0.6"/>
<text font-size="6.2" text-anchor="start" fill="#2b2b2b" stroke="#2b2b2b" stroke-width="0.12" transform="translate(150.6 141)">Purine metabolism</text>
<text font-size="6.2" text-anchor="start" fill="#2b2b2b" stroke="#2b2b2b" stroke-width="0.12" transform="translate(185.4 169.6)">RNA polymerase III</text>
<text font-size="8.2" text-anchor="start" fill="#2b2b2b" stroke="#2b2b2b" stroke-width="0.12" transform="translate(122 175.6)">Transcription</text>
<text font-size="6.3" text-anchor="start" fill="#2b2b2b" stroke="#2b2b2b" stroke-width="0.12" transform="translate(197.8 187.1)">mRNA processing</text>
<text font-size="9.2" text-anchor="start" fill="#2b2b2b" stroke="#2b2b2b" stroke-width="0.12" transform="translate(86 201)">DNA repair</text>
<text font-size="6.28" text-anchor="start" fill="#2b2b2b" stroke="#2b2b2b" stroke-width="0.12" transform="translate(79.5 235.2)">Lagging strand maintenance</text>
<text font-size="6.13" text-anchor="start" fill="#2b2b2b" stroke="#2b2b2b" stroke-width="0.12" transform="translate(209.3 225.8)">Cellular transport</text>
<text font-size="6.9" text-anchor="start" fill="#2b2b2b" stroke="#2b2b2b" stroke-width="0.12" transform="translate(216.8 246.8)">Translation</text>
<text font-size="9.6" text-anchor="start" fill="#2b2b2b" stroke="#2b2b2b" stroke-width="0.12" transform="translate(122.5 275)">Cell cycle</text>
<text font-size="6.24" text-anchor="start" fill="#2b2b2b" stroke="#2b2b2b" stroke-width="0.12" transform="translate(198.8 278.8)">mRNA deadenylation/destabilization</text>
<text font-size="6.2" text-anchor="start" fill="#2b2b2b" stroke="#2b2b2b" stroke-width="0.12" transform="translate(17.5 216)">B-lymphopoiesis</text>
<text font-size="6.2" text-anchor="start" fill="#2b2b2b" stroke="#2b2b2b" stroke-width="0.12" transform="translate(277.3 152.4)">Non-canonical WNT signaling</text>
<text font-size="7.15" text-anchor="start" fill="#2b2b2b" stroke="#2b2b2b" stroke-width="0.12" transform="translate(362.5 139.5)">Semaphorin axon guidance</text>
<text font-size="7.2" text-anchor="start" fill="#2b2b2b" stroke="#2b2b2b" stroke-width="0.12" transform="translate(422.5 202)">Oxidative phosphorilation</text>
<text font-size="8.36" text-anchor="start" fill="#2b2b2b" stroke="#2b2b2b" stroke-width="0.12" transform="translate(287.7 251.9)">G-protein signaling</text>
<text font-size="6.18" text-anchor="start" fill="#2b2b2b" stroke="#2b2b2b" stroke-width="0.12" transform="translate(37 301)">Cell junction organization</text>
<text font-size="6.19" text-anchor="start" fill="#2b2b2b" stroke="#2b2b2b" stroke-width="0.12" transform="translate(47 346)">Tight junction</text>
<text font-size="6.24" text-anchor="start" fill="#2b2b2b" stroke="#2b2b2b" stroke-width="0.12" transform="translate(113.8 300)">Integrin signaling</text>
<text font-size="6.25" text-anchor="start" fill="#2b2b2b" stroke="#2b2b2b" stroke-width="0.12" transform="translate(169.7 304.5)">Notch signaling</text>
<text font-size="6.04" text-anchor="start" fill="#2b2b2b" stroke="#2b2b2b" stroke-width="0.12" transform="translate(233.8 302.2)">Extracellular matrix organization</text>
<circle cx="412" cy="273.5" r="3.7" fill="#c41e3a"/>
<circle cx="412" cy="288.5" r="3.7" fill="#1f78c8"/>
<text font-size="7.3" text-anchor="start" fill="#2b2b2b" stroke="#2b2b2b" stroke-width="0.12" transform="translate(419 276.1)">Upregulated in Gata2<tspan dy="-0.48em" font-size="0.7em">+/−</tspan></text>
<text font-size="7.2" text-anchor="start" fill="#2b2b2b" stroke="#2b2b2b" stroke-width="0.12" transform="translate(419 291.1)">Downregulated in Gata2<tspan dy="-0.48em" font-size="0.7em">+/−</tspan></text>
<path d="M299.5 406.3L299.5 406.0L300.0 406.2L300.5 406.1L301.0 406.2L301.5 406.1L302.0 406.0L302.5 406.1L303.0 406.1L303.5 406.1L304.0 406.0L304.5 405.7L305.0 406.1L305.5 406.3L306.0 405.9L306.5 406.0L307.0 406.2L307.5 406.1L308.0 406.3L308.5 406.2L309.0 405.8L309.5 406.1L310.0 405.9L310.5 406.2L311.0 406.1L311.5 405.9L312.0 406.1L312.5 405.9L313.0 406.2L313.5 406.2L314.0 406.3L314.5 406.3L315.0 406.0L315.5 406.2L316.0 406.2L316.5 406.2L317.0 406.1L317.5 406.1L318.0 406.2L318.5 406.1L319.0 405.9L319.5 406.2L320.0 406.1L320.5 406.3L321.0 405.7L321.5 406.2L322.0 406.3L322.5 406.0L323.0 406.0L323.5 405.8L324.0 406.2L324.5 405.9L325.0 406.3L325.5 406.0L326.0 406.1L326.5 406.0L327.0 406.1L327.5 406.0L328.0 402.2L328.5 401.3L329.0 401.8L329.5 401.4L330.0 401.0L330.5 401.3L331.0 400.8L331.5 400.7L332.0 399.4L332.5 399.4L333.0 400.2L333.5 401.7L334.0 400.3L334.5 399.7L335.0 401.8L335.5 403.0L336.0 402.9L336.5 406.1L337.0 402.8L337.5 403.3L338.0 401.0L338.5 402.3L339.0 400.8L339.5 400.0L340.0 400.4L340.5 402.5L341.0 400.8L341.5 401.5L342.0 402.1L342.5 401.6L343.0 401.5L343.5 403.1L344.0 405.9L344.5 406.2L345.0 406.0L345.5 406.0L346.0 406.3L346.5 406.0L347.0 406.3L347.5 406.2L348.0 406.0L348.5 406.3L349.0 406.1L349.5 406.2L350.0 406.3L350.5 406.0L351.0 406.1L351.5 406.0L352.0 406.3L352.5 406.2L353.0 406.0L353.5 406.2L354.0 406.2L354.5 406.2L355.0 406.3L355.5 406.3L356.0 404.4L356.5 404.1L357.0 404.4L357.5 403.6L358.0 403.4L358.5 403.0L359.0 403.3L359.5 403.4L360.0 404.4L360.5 403.2L361.0 403.9L361.5 403.2L362.0 403.2L362.5 403.9L363.0 404.2L363.5 404.1L364.0 403.6L364.5 404.4L365.0 404.1L365.5 404.9L366.0 406.3L366.5 406.1L367.0 406.2L367.5 405.7L368.0 406.0L368.5 406.0L369.0 406.3L369.5 406.1L370.0 406.2L370.5 406.1L371.0 406.2L371.5 406.2L372.0 406.0L372.5 406.2L373.0 406.3L373.5 406.0L374.0 406.3L374.5 406.2L375.0 406.2L375.5 405.9L376.0 406.3L376.5 406.2L377.0 405.8L377.5 406.0L378.0 406.2L378.5 406.2L379.0 405.9L379.5 406.1L380.0 404.2L380.5 403.0L381.0 403.4L381.5 403.4L382.0 404.3L382.5 403.4L383.0 404.4L383.5 403.6L384.0 403.5L384.5 404.8L385.0 406.2L385.5 406.3L386.0 406.1L386.5 406.2L387.0 403.0L387.5 402.2L388.0 402.3L388.5 402.0L389.0 403.2L389.5 406.1L390.0 406.3L390.5 406.3L391.0 406.2L391.5 406.1L392.0 406.2L392.5 405.8L393.0 405.9L393.5 406.0L394.0 405.9L394.5 402.0L395.0 402.9L395.5 402.3L396.0 402.1L396.5 403.4L397.0 406.0L397.5 406.1L398.0 406.2L398.5 406.2L399.0 405.6L399.5 406.1L400.0 406.2L400.5 405.8L401.0 405.9L401.5 406.3L402.0 406.1L402.5 406.2L403.0 406.2L403.5 406.2L404.0 406.2L404.5 406.1L405.0 406.0L405.5 406.1L406.0 406.3L406.5 406.1L407.0 406.2L407.5 406.1L408.0 405.8L408.5 406.2L409.0 406.3L409.5 405.9L410.0 406.1L410.5 406.0L411.0 406.2L411.5 406.3L412.0 406.2L412.5 406.2L413.0 406.3L413.5 406.2L414.0 406.0L414.5 406.1L415.0 406.2L415.5 406.2L416.0 406.2L416.5 406.2L417.0 406.0L417.5 406.1L418.0 405.9L418.5 406.0L419.0 406.2L419.5 406.2L420.0 406.1L420.5 406.0L421.0 406.0L421.5 406.2L422.0 406.3L422.5 406.3L423.0 406.1L423.5 406.2L424.0 406.3L424.5 406.0L425.0 406.2L425.5 406.0L426.0 406.3L426.5 406.3L427.0 406.3L427.5 406.0L428.0 405.9L428.5 406.3L429.0 406.2L429.5 406.0L430.0 405.8L430.5 406.1L431.0 406.2L431.5 405.8L432.0 405.9L432.5 406.0L433.0 406.0L433.5 406.0L434.0 406.1L434.5 406.1L435.0 404.9L435.5 404.7L436.0 404.8L436.5 404.2L437.0 404.7L437.5 403.8L438.0 404.9L438.5 406.1L439.0 406.2L439.5 405.8L440.0 406.0L440.5 404.3L441.0 404.9L441.5 405.1L442.0 405.0L442.5 404.9L443.0 406.1L443.5 406.2L444.0 406.2L444.5 406.1L445.0 406.2L445.5 406.2L446.0 406.1L446.5 405.9L447.0 406.3L447.5 406.0L448.0 405.9L448.5 406.2L449.0 406.0L449.5 406.0L450.0 406.0L450.5 406.3L451.0 406.2L451.5 406.3L452.0 406.2L452.5 406.3L453.0 405.9L453.5 406.3L454.0 406.1L454.5 406.0L455.0 406.1L455.5 406.3L456.0 406.2L456.5 405.9L457.0 406.2L457.5 406.3L458.0 406.2L458.5 406.2L459.0 406.2L459.5 406.0L460.0 406.3L460.5 405.8L461.0 406.0L461.5 406.3L462.0 406.2L462.5 406.0L463.0 406.0L463.5 406.2L464.0 406.2L464.5 406.2L465.0 406.1L465.5 406.3L466.0 406.1L466.5 406.0L467.0 406.0L467.5 405.9L468.0 406.2L468.5 406.3L469.0 406.2L469.5 406.2L470.0 405.9L470.5 406.3L471.0 406.2L471.5 406.2L472.0 406.2L472.5 404.1L473.0 404.4L473.5 404.1L474.0 403.2L474.5 403.7L475.0 402.8L475.5 402.0L476.0 402.5L476.5 403.1L477.0 402.5L477.5 403.6L478.0 402.8L478.5 402.2L479.0 403.3L479.5 401.8L480.0 402.3L480.5 403.6L481.0 401.6L481.5 403.3L482.0 402.9L482.5 402.8L483.0 403.7L483.5 404.5L484.0 406.0L484.5 406.0L485.0 405.8L485.5 406.3L486.0 404.5L486.5 404.6L487.0 405.0L487.5 404.0L488.0 404.1L488.5 404.9L489.0 405.2L489.5 406.2L490.0 406.1L490.5 406.3L491.0 405.9L491.5 406.1L492.0 405.9L492.5 406.1L493.0 406.2L493.5 405.7L494.0 406.1L494.5 406.1L495.0 405.8L495.5 406.0L496.0 406.2L496.5 406.1L497.0 405.9L497.5 406.2L498.0 406.0L498.5 406.2L499.0 399.0L499.5 400.1L500.0 399.7L500.5 400.3L501.0 402.1L501.5 400.6L502.0 399.7L502.5 401.2L503.0 406.1L503.5 406.2L504.0 406.3L504.5 406.3L505.0 403.8L505.5 402.7L506.0 402.3L506.5 402.2L507.0 402.0L507.5 404.3L508.0 406.2L508.5 406.0L509.0 406.2L509.5 406.2L510.0 404.1L510.5 404.0L511.0 404.2L511.5 404.1L512.0 403.8L512.5 403.0L513.0 404.6L513.5 406.0L514.0 406.1L514.5 406.2L515.0 406.2L515.5 406.1L516.0 406.2L516.5 406.2L517.0 406.2L517.5 405.8L518.0 406.3L518.5 406.0L519.0 405.9L519.5 406.3L520.0 406.0L520 406.3Z" fill="#106854" stroke="#106854" stroke-width="0.3"/>
<line x1="299.5" y1="406.3" x2="520" y2="406.3" stroke="#106854" stroke-width="1.1"/>
<path d="M293.3 392.40000000000003H296.2V406.3H293.3" stroke="#333" stroke-width="0.75" fill="none"/>
<text font-size="5.6" text-anchor="end" fill="#231f20" stroke="#231f20" stroke-width="0.13" transform="translate(289.6 394.8)">174</text>
<text font-size="5.6" text-anchor="end" fill="#231f20" stroke="#231f20" stroke-width="0.13" transform="translate(289.6 407.3)">0</text>
<path d="M299.5 424.2L299.5 424.0L300.0 423.7L300.5 424.0L301.0 424.0L301.5 424.1L302.0 424.1L302.5 423.8L303.0 423.9L303.5 424.0L304.0 424.0L304.5 424.0L305.0 424.0L305.5 423.8L306.0 424.1L306.5 424.1L307.0 423.8L307.5 424.2L308.0 422.9L308.5 422.5L309.0 422.7L309.5 422.5L310.0 422.6L310.5 422.8L311.0 422.6L311.5 423.2L312.0 424.1L312.5 424.1L313.0 423.9L313.5 423.8L314.0 424.0L314.5 423.8L315.0 423.8L315.5 423.9L316.0 421.9L316.5 421.8L317.0 420.4L317.5 421.8L318.0 421.5L318.5 421.9L319.0 421.4L319.5 423.8L320.0 423.6L320.5 423.8L321.0 423.8L321.5 424.0L322.0 423.7L322.5 423.8L323.0 423.9L323.5 424.0L324.0 424.0L324.5 423.8L325.0 423.7L325.5 424.1L326.0 424.1L326.5 424.1L327.0 424.1L327.5 423.9L328.0 420.5L328.5 419.4L329.0 418.4L329.5 418.3L330.0 418.9L330.5 418.6L331.0 418.1L331.5 420.2L332.0 420.0L332.5 418.9L333.0 417.7L333.5 418.3L334.0 420.6L334.5 421.8L335.0 423.9L335.5 424.0L336.0 423.9L336.5 424.1L337.0 424.1L337.5 423.7L338.0 421.3L338.5 420.0L339.0 420.2L339.5 417.0L340.0 419.0L340.5 419.5L341.0 417.4L341.5 417.0L342.0 418.0L342.5 419.9L343.0 418.5L343.5 418.4L344.0 419.9L344.5 421.3L345.0 423.9L345.5 424.1L346.0 423.8L346.5 423.9L347.0 424.2L347.5 424.2L348.0 424.1L348.5 423.9L349.0 423.9L349.5 423.9L350.0 424.1L350.5 424.2L351.0 424.1L351.5 423.7L352.0 424.0L352.5 424.0L353.0 424.1L353.5 424.1L354.0 422.9L354.5 422.3L355.0 423.1L355.5 423.1L356.0 423.8L356.5 424.0L357.0 424.1L357.5 423.9L358.0 423.6L358.5 423.8L359.0 421.3L359.5 420.7L360.0 420.2L360.5 420.9L361.0 420.7L361.5 420.0L362.0 420.4L362.5 422.4L363.0 424.2L363.5 423.7L364.0 424.2L364.5 423.9L365.0 424.1L365.5 424.1L366.0 424.1L366.5 424.0L367.0 424.0L367.5 424.0L368.0 423.9L368.5 424.0L369.0 423.9L369.5 423.8L370.0 424.0L370.5 423.9L371.0 424.0L371.5 424.1L372.0 424.2L372.5 424.0L373.0 423.8L373.5 424.2L374.0 424.1L374.5 424.2L375.0 424.1L375.5 423.8L376.0 424.0L376.5 423.9L377.0 423.7L377.5 424.0L378.0 423.8L378.5 423.9L379.0 423.7L379.5 424.1L380.0 424.0L380.5 424.1L381.0 424.0L381.5 423.9L382.0 423.9L382.5 424.0L383.0 424.0L383.5 423.9L384.0 424.0L384.5 423.9L385.0 424.1L385.5 424.0L386.0 423.2L386.5 422.0L387.0 422.9L387.5 422.5L388.0 422.3L388.5 422.8L389.0 422.0L389.5 422.8L390.0 422.1L390.5 423.0L391.0 422.6L391.5 423.2L392.0 423.2L392.5 424.0L393.0 424.1L393.5 423.9L394.0 423.9L394.5 424.0L395.0 423.9L395.5 423.7L396.0 424.1L396.5 424.1L397.0 424.1L397.5 424.0L398.0 423.9L398.5 423.8L399.0 424.0L399.5 424.1L400.0 424.1L400.5 424.2L401.0 424.0L401.5 424.1L402.0 423.8L402.5 424.1L403.0 424.0L403.5 422.9L404.0 422.6L404.5 422.9L405.0 423.0L405.5 422.5L406.0 422.5L406.5 422.5L407.0 423.3L407.5 423.8L408.0 424.0L408.5 423.9L409.0 424.0L409.5 423.9L410.0 424.1L410.5 423.9L411.0 424.0L411.5 424.0L412.0 424.1L412.5 423.9L413.0 423.9L413.5 423.8L414.0 424.2L414.5 424.0L415.0 424.1L415.5 423.9L416.0 424.1L416.5 424.0L417.0 423.9L417.5 423.9L418.0 424.1L418.5 424.2L419.0 424.1L419.5 424.1L420.0 424.1L420.5 423.9L421.0 424.1L421.5 423.7L422.0 424.1L422.5 424.2L423.0 424.0L423.5 424.1L424.0 424.2L424.5 424.2L425.0 424.2L425.5 424.0L426.0 423.9L426.5 424.0L427.0 424.2L427.5 423.6L428.0 424.1L428.5 424.0L429.0 424.2L429.5 424.0L430.0 424.2L430.5 424.1L431.0 423.9L431.5 424.1L432.0 424.1L432.5 424.2L433.0 423.7L433.5 423.9L434.0 423.8L434.5 424.1L435.0 424.2L435.5 423.9L436.0 424.2L436.5 424.1L437.0 424.1L437.5 423.8L438.0 424.0L438.5 424.2L439.0 424.2L439.5 424.1L440.0 424.0L440.5 423.6L441.0 424.2L441.5 423.7L442.0 424.0L442.5 424.1L443.0 424.0L443.5 424.2L444.0 424.1L444.5 424.2L445.0 424.0L445.5 424.0L446.0 423.9L446.5 424.2L447.0 424.1L447.5 424.1L448.0 424.1L448.5 424.0L449.0 424.2L449.5 424.1L450.0 423.6L450.5 423.8L451.0 423.7L451.5 424.2L452.0 424.0L452.5 424.2L453.0 423.8L453.5 424.2L454.0 423.9L454.5 423.9L455.0 423.9L455.5 424.1L456.0 424.0L456.5 423.7L457.0 424.0L457.5 424.0L458.0 423.9L458.5 424.1L459.0 423.9L459.5 423.9L460.0 423.8L460.5 424.0L461.0 424.0L461.5 424.0L462.0 424.0L462.5 423.9L463.0 424.0L463.5 424.1L464.0 422.3L464.5 420.8L465.0 420.9L465.5 421.6L466.0 421.9L466.5 422.1L467.0 421.2L467.5 420.9L468.0 421.2L468.5 422.4L469.0 422.3L469.5 424.0L470.0 423.9L470.5 423.8L471.0 424.0L471.5 423.8L472.0 424.2L472.5 422.8L473.0 422.7L473.5 423.1L474.0 422.9L474.5 422.6L475.0 422.3L475.5 423.1L476.0 424.0L476.5 424.1L477.0 424.1L477.5 424.1L478.0 423.4L478.5 422.9L479.0 422.6L479.5 423.0L480.0 422.5L480.5 423.0L481.0 422.6L481.5 423.2L482.0 422.3L482.5 423.9L483.0 424.2L483.5 424.2L484.0 424.0L484.5 424.0L485.0 424.1L485.5 424.1L486.0 423.9L486.5 423.5L487.0 424.2L487.5 424.1L488.0 424.0L488.5 424.2L489.0 424.0L489.5 424.0L490.0 424.1L490.5 424.0L491.0 423.9L491.5 424.1L492.0 424.0L492.5 424.0L493.0 423.8L493.5 424.1L494.0 424.1L494.5 424.2L495.0 423.9L495.5 423.8L496.0 424.2L496.5 424.0L497.0 424.2L497.5 424.1L498.0 424.0L498.5 424.2L499.0 421.7L499.5 421.4L500.0 421.6L500.5 421.8L501.0 421.4L501.5 420.3L502.0 420.0L502.5 421.1L503.0 424.0L503.5 424.1L504.0 423.9L504.5 423.9L505.0 423.5L505.5 423.6L506.0 423.4L506.5 423.1L507.0 423.2L507.5 423.0L508.0 423.0L508.5 423.3L509.0 423.2L509.5 423.0L510.0 423.1L510.5 423.1L511.0 423.4L511.5 422.9L512.0 423.4L512.5 423.0L513.0 423.3L513.5 423.1L514.0 423.4L514.5 423.3L515.0 422.8L515.5 424.0L516.0 424.0L516.5 424.1L517.0 423.8L517.5 424.0L518.0 424.1L518.5 423.9L519.0 424.2L519.5 424.0L520.0 424.0L520 424.2Z" fill="#106854" stroke="#106854" stroke-width="0.3"/>
<line x1="299.5" y1="424.2" x2="520" y2="424.2" stroke="#106854" stroke-width="1.1"/>
<path d="M293.3 410.3H296.2V424.2H293.3" stroke="#333" stroke-width="0.75" fill="none"/>
<text font-size="5.6" text-anchor="end" fill="#231f20" stroke="#231f20" stroke-width="0.13" transform="translate(289.6 412.7)">174</text>
<text font-size="5.6" text-anchor="end" fill="#231f20" stroke="#231f20" stroke-width="0.13" transform="translate(289.6 425.2)">0</text>
<path d="M299.5 442.0L299.5 441.8L300.0 441.5L300.5 441.8L301.0 441.7L301.5 441.9L302.0 441.8L302.5 442.0L303.0 441.7L303.5 441.5L304.0 441.5L304.5 441.5L305.0 440.4L305.5 440.2L306.0 440.4L306.5 440.8L307.0 440.4L307.5 441.9L308.0 441.8L308.5 441.8L309.0 441.6L309.5 441.9L310.0 441.9L310.5 441.7L311.0 441.7L311.5 441.4L312.0 441.8L312.5 442.0L313.0 441.5L313.5 441.9L314.0 441.5L314.5 441.8L315.0 441.5L315.5 441.6L316.0 441.9L316.5 441.9L317.0 441.8L317.5 441.9L318.0 441.9L318.5 442.0L319.0 441.3L319.5 441.9L320.0 441.9L320.5 441.8L321.0 441.9L321.5 441.8L322.0 441.5L322.5 441.8L323.0 441.9L323.5 441.7L324.0 442.0L324.5 441.8L325.0 441.9L325.5 441.7L326.0 441.8L326.5 441.7L327.0 441.8L327.5 441.7L328.0 441.6L328.5 441.7L329.0 442.0L329.5 437.6L330.0 436.6L330.5 436.7L331.0 438.1L331.5 437.2L332.0 437.1L332.5 436.7L333.0 436.1L333.5 436.1L334.0 438.0L334.5 435.4L335.0 441.9L335.5 441.6L336.0 441.9L336.5 441.9L337.0 442.0L337.5 442.0L338.0 437.5L338.5 435.2L339.0 432.8L339.5 433.5L340.0 432.0L340.5 432.4L341.0 432.9L341.5 434.3L342.0 435.3L342.5 435.9L343.0 441.9L343.5 441.7L344.0 439.0L344.5 439.8L345.0 439.1L345.5 440.0L346.0 440.2L346.5 439.6L347.0 440.3L347.5 441.4L348.0 441.9L348.5 441.6L349.0 442.0L349.5 441.9L350.0 441.9L350.5 441.8L351.0 441.9L351.5 441.8L352.0 441.6L352.5 441.8L353.0 441.9L353.5 441.8L354.0 442.0L354.5 441.8L355.0 441.8L355.5 441.9L356.0 439.6L356.5 438.0L357.0 438.1L357.5 437.9L358.0 437.7L358.5 437.7L359.0 437.0L359.5 441.8L360.0 441.8L360.5 441.7L361.0 441.9L361.5 441.6L362.0 441.9L362.5 441.9L363.0 442.0L363.5 441.8L364.0 441.9L364.5 441.9L365.0 441.8L365.5 442.0L366.0 441.9L366.5 442.0L367.0 441.6L367.5 441.9L368.0 441.7L368.5 441.9L369.0 441.5L369.5 441.5L370.0 441.7L370.5 441.9L371.0 442.0L371.5 441.3L372.0 441.9L372.5 441.5L373.0 441.8L373.5 441.9L374.0 441.8L374.5 441.9L375.0 441.9L375.5 441.9L376.0 441.6L376.5 441.9L377.0 441.6L377.5 442.0L378.0 441.8L378.5 441.6L379.0 441.8L379.5 441.9L380.0 441.9L380.5 441.5L381.0 442.0L381.5 441.9L382.0 441.9L382.5 441.5L383.0 442.0L383.5 442.0L384.0 442.0L384.5 442.0L385.0 441.9L385.5 441.6L386.0 441.7L386.5 442.0L387.0 441.4L387.5 441.6L388.0 442.0L388.5 441.4L389.0 441.9L389.5 441.7L390.0 441.8L390.5 441.8L391.0 442.0L391.5 441.9L392.0 442.0L392.5 441.8L393.0 441.8L393.5 441.9L394.0 442.0L394.5 441.4L395.0 441.8L395.5 442.0L396.0 441.8L396.5 441.8L397.0 441.9L397.5 441.8L398.0 441.8L398.5 441.8L399.0 441.9L399.5 441.7L400.0 442.0L400.5 441.7L401.0 441.9L401.5 442.0L402.0 441.8L402.5 441.8L403.0 442.0L403.5 441.5L404.0 441.3L404.5 441.6L405.0 441.6L405.5 441.8L406.0 441.6L406.5 441.8L407.0 441.6L407.5 442.0L408.0 441.8L408.5 441.9L409.0 441.8L409.5 441.6L410.0 441.4L410.5 441.4L411.0 441.0L411.5 441.2L412.0 441.4L412.5 441.1L413.0 441.2L413.5 441.1L414.0 441.2L414.5 441.0L415.0 441.2L415.5 441.3L416.0 441.4L416.5 442.0L417.0 441.9L417.5 442.0L418.0 442.0L418.5 441.7L419.0 441.6L419.5 441.9L420.0 441.7L420.5 441.9L421.0 441.8L421.5 442.0L422.0 441.8L422.5 441.6L423.0 441.7L423.5 441.8L424.0 441.9L424.5 441.7L425.0 441.7L425.5 442.0L426.0 441.7L426.5 441.8L427.0 442.0L427.5 442.0L428.0 441.9L428.5 441.9L429.0 440.8L429.5 440.7L430.0 440.4L430.5 440.0L431.0 440.2L431.5 440.8L432.0 441.9L432.5 441.9L433.0 441.8L433.5 441.9L434.0 439.6L434.5 438.8L435.0 437.5L435.5 438.8L436.0 438.0L436.5 441.8L437.0 441.7L437.5 441.9L438.0 441.8L438.5 441.5L439.0 441.7L439.5 441.6L440.0 441.5L440.5 441.6L441.0 441.8L441.5 441.9L442.0 442.0L442.5 441.9L443.0 441.6L443.5 441.4L444.0 442.0L444.5 441.9L445.0 441.9L445.5 441.8L446.0 441.9L446.5 442.0L447.0 441.9L447.5 442.0L448.0 441.9L448.5 441.7L449.0 441.9L449.5 441.9L450.0 441.8L450.5 441.9L451.0 441.9L451.5 441.6L452.0 441.8L452.5 441.8L453.0 441.9L453.5 441.7L454.0 441.8L454.5 441.5L455.0 442.0L455.5 441.7L456.0 441.7L456.5 441.8L457.0 441.7L457.5 441.6L458.0 441.6L458.5 441.6L459.0 441.8L459.5 441.8L460.0 441.9L460.5 441.8L461.0 441.9L461.5 436.1L462.0 436.5L462.5 436.8L463.0 434.8L463.5 437.2L464.0 441.7L464.5 441.7L465.0 440.6L465.5 439.7L466.0 439.6L466.5 438.8L467.0 438.9L467.5 439.8L468.0 438.6L468.5 438.6L469.0 439.9L469.5 439.5L470.0 439.9L470.5 439.3L471.0 438.7L471.5 438.9L472.0 439.2L472.5 439.8L473.0 440.4L473.5 438.5L474.0 442.0L474.5 441.9L475.0 441.8L475.5 441.6L476.0 441.9L476.5 441.6L477.0 441.9L477.5 441.9L478.0 441.9L478.5 441.8L479.0 439.5L479.5 438.0L480.0 438.4L480.5 438.5L481.0 438.5L481.5 439.5L482.0 439.4L482.5 441.9L483.0 441.9L483.5 441.7L484.0 441.0L484.5 440.8L485.0 440.8L485.5 440.7L486.0 440.5L486.5 441.2L487.0 441.2L487.5 441.8L488.0 441.9L488.5 441.9L489.0 441.7L489.5 441.9L490.0 441.1L490.5 441.1L491.0 440.8L491.5 440.9L492.0 441.1L492.5 440.9L493.0 440.5L493.5 440.7L494.0 440.8L494.5 440.9L495.0 440.5L495.5 442.0L496.0 441.8L496.5 441.8L497.0 441.8L497.5 441.9L498.0 441.9L498.5 441.9L499.0 441.8L499.5 442.0L500.0 439.3L500.5 439.1L501.0 439.4L501.5 439.0L502.0 437.7L502.5 438.3L503.0 437.5L503.5 437.1L504.0 438.4L504.5 437.4L505.0 438.2L505.5 437.5L506.0 438.4L506.5 439.0L507.0 438.5L507.5 438.1L508.0 438.0L508.5 437.0L509.0 439.6L509.5 441.9L510.0 441.8L510.5 441.8L511.0 441.8L511.5 441.4L512.0 441.8L512.5 441.7L513.0 441.7L513.5 442.0L514.0 441.9L514.5 442.0L515.0 441.8L515.5 442.0L516.0 442.0L516.5 441.9L517.0 441.9L517.5 441.8L518.0 442.0L518.5 442.0L519.0 441.5L519.5 442.0L520.0 441.8L520 442.0Z" fill="#106854" stroke="#106854" stroke-width="0.3"/>
<line x1="299.5" y1="442.0" x2="520" y2="442.0" stroke="#106854" stroke-width="1.1"/>
<path d="M293.3 428.1H296.2V442.0H293.3" stroke="#333" stroke-width="0.75" fill="none"/>
<text font-size="5.6" text-anchor="end" fill="#231f20" stroke="#231f20" stroke-width="0.13" transform="translate(289.6 430.5)">174</text>
<text font-size="5.6" text-anchor="end" fill="#231f20" stroke="#231f20" stroke-width="0.13" transform="translate(289.6 443.0)">0</text>
<path d="M299.5 464.9L299.5 464.6L300.0 464.6L300.5 464.7L301.0 464.6L301.5 464.6L302.0 464.5L302.5 464.7L303.0 464.7L303.5 464.4L304.0 464.7L304.5 464.5L305.0 464.6L305.5 464.8L306.0 464.7L306.5 464.7L307.0 464.4L307.5 464.9L308.0 464.8L308.5 464.8L309.0 464.9L309.5 464.6L310.0 464.8L310.5 464.9L311.0 464.5L311.5 464.8L312.0 464.8L312.5 464.3L313.0 464.8L313.5 464.9L314.0 464.5L314.5 464.5L315.0 464.9L315.5 464.8L316.0 462.3L316.5 462.0L317.0 463.1L317.5 462.0L318.0 462.6L318.5 464.7L319.0 464.8L319.5 464.6L320.0 464.6L320.5 464.9L321.0 464.8L321.5 464.4L322.0 464.7L322.5 464.7L323.0 461.5L323.5 461.6L324.0 463.0L324.5 462.0L325.0 464.5L325.5 464.8L326.0 464.5L326.5 464.8L327.0 464.7L327.5 464.8L328.0 464.4L328.5 464.5L329.0 464.8L329.5 462.2L330.0 459.2L330.5 458.9L331.0 460.8L331.5 460.9L332.0 460.3L332.5 458.8L333.0 458.5L333.5 460.4L334.0 460.0L334.5 457.8L335.0 464.3L335.5 464.6L336.0 464.9L336.5 464.8L337.0 464.8L337.5 464.8L338.0 464.9L338.5 464.5L339.0 462.5L339.5 462.4L340.0 462.0L340.5 461.1L341.0 462.4L341.5 461.0L342.0 464.9L342.5 464.9L343.0 464.6L343.5 464.7L344.0 464.8L344.5 464.8L345.0 464.5L345.5 464.8L346.0 464.8L346.5 464.9L347.0 464.7L347.5 464.7L348.0 464.7L348.5 464.9L349.0 464.4L349.5 464.6L350.0 464.8L350.5 464.6L351.0 464.8L351.5 464.6L352.0 464.8L352.5 464.8L353.0 464.8L353.5 464.6L354.0 464.7L354.5 464.6L355.0 464.9L355.5 464.5L356.0 464.8L356.5 464.5L357.0 464.6L357.5 464.6L358.0 464.9L358.5 464.9L359.0 463.1L359.5 462.0L360.0 461.2L360.5 461.5L361.0 462.2L361.5 461.1L362.0 461.2L362.5 461.3L363.0 461.5L363.5 461.0L364.0 464.6L364.5 464.8L365.0 464.7L365.5 464.6L366.0 464.8L366.5 464.7L367.0 464.9L367.5 464.8L368.0 464.8L368.5 464.9L369.0 464.8L369.5 464.7L370.0 464.6L370.5 464.9L371.0 464.9L371.5 464.8L372.0 464.6L372.5 464.6L373.0 464.6L373.5 464.4L374.0 464.9L374.5 464.7L375.0 464.5L375.5 464.8L376.0 464.8L376.5 464.8L377.0 464.6L377.5 464.8L378.0 464.9L378.5 464.6L379.0 464.5L379.5 464.8L380.0 464.8L380.5 464.9L381.0 464.6L381.5 464.7L382.0 464.7L382.5 464.7L383.0 464.6L383.5 464.8L384.0 464.7L384.5 464.7L385.0 464.9L385.5 464.8L386.0 464.6L386.5 464.7L387.0 464.9L387.5 464.8L388.0 464.9L388.5 464.8L389.0 464.7L389.5 464.8L390.0 464.8L390.5 464.4L391.0 464.8L391.5 464.8L392.0 464.6L392.5 464.7L393.0 464.8L393.5 464.8L394.0 464.8L394.5 464.4L395.0 464.8L395.5 464.8L396.0 464.4L396.5 464.7L397.0 464.5L397.5 464.8L398.0 464.7L398.5 464.7L399.0 462.5L399.5 461.7L400.0 462.4L400.5 461.0L401.0 464.5L401.5 464.8L402.0 464.5L402.5 464.8L403.0 464.8L403.5 464.8L404.0 464.6L404.5 464.4L405.0 464.3L405.5 464.1L406.0 464.6L406.5 464.8L407.0 464.7L407.5 464.6L408.0 464.9L408.5 464.8L409.0 464.7L409.5 464.5L410.0 464.7L410.5 464.5L411.0 464.9L411.5 464.6L412.0 464.7L412.5 464.7L413.0 464.9L413.5 464.8L414.0 464.8L414.5 464.6L415.0 464.8L415.5 464.6L416.0 464.5L416.5 464.7L417.0 464.5L417.5 464.6L418.0 464.3L418.5 464.7L419.0 464.8L419.5 464.7L420.0 464.8L420.5 464.7L421.0 464.8L421.5 464.5L422.0 464.8L422.5 464.6L423.0 464.9L423.5 464.8L424.0 464.8L424.5 464.8L425.0 464.9L425.5 464.7L426.0 464.8L426.5 464.8L427.0 464.5L427.5 464.6L428.0 464.8L428.5 464.8L429.0 464.6L429.5 464.8L430.0 464.8L430.5 464.9L431.0 464.5L431.5 464.8L432.0 464.8L432.5 464.9L433.0 464.8L433.5 464.6L434.0 464.6L434.5 464.7L435.0 464.6L435.5 464.6L436.0 464.5L436.5 464.8L437.0 464.8L437.5 464.9L438.0 464.5L438.5 464.4L439.0 464.7L439.5 464.7L440.0 464.6L440.5 464.7L441.0 464.9L441.5 464.7L442.0 464.8L442.5 464.5L443.0 464.7L443.5 464.9L444.0 464.9L444.5 464.7L445.0 464.7L445.5 464.8L446.0 464.8L446.5 464.9L447.0 464.8L447.5 464.7L448.0 464.6L448.5 464.2L449.0 464.5L449.5 464.8L450.0 464.5L450.5 464.8L451.0 464.7L451.5 464.7L452.0 464.7L452.5 464.7L453.0 464.9L453.5 464.8L454.0 464.7L454.5 464.5L455.0 464.5L455.5 464.4L456.0 464.9L456.5 464.7L457.0 464.7L457.5 464.9L458.0 464.8L458.5 464.8L459.0 464.9L459.5 464.7L460.0 464.9L460.5 464.6L461.0 464.8L461.5 463.0L462.0 463.2L462.5 463.6L463.0 463.3L463.5 463.6L464.0 464.6L464.5 462.1L465.0 459.2L465.5 459.1L466.0 460.8L466.5 459.4L467.0 460.3L467.5 458.3L468.0 460.5L468.5 464.8L469.0 464.1L469.5 464.9L470.0 464.6L470.5 463.9L471.0 463.5L471.5 463.7L472.0 463.0L472.5 463.5L473.0 464.7L473.5 464.4L474.0 464.8L474.5 464.8L475.0 464.5L475.5 464.8L476.0 464.7L476.5 464.7L477.0 464.6L477.5 464.8L478.0 464.8L478.5 464.5L479.0 464.9L479.5 464.7L480.0 464.9L480.5 461.0L481.0 462.2L481.5 462.2L482.0 464.8L482.5 464.4L483.0 464.3L483.5 464.8L484.0 464.9L484.5 464.9L485.0 464.7L485.5 464.9L486.0 464.9L486.5 464.7L487.0 464.6L487.5 464.7L488.0 464.7L488.5 464.8L489.0 464.6L489.5 464.8L490.0 464.7L490.5 464.8L491.0 464.7L491.5 464.6L492.0 464.9L492.5 464.7L493.0 464.8L493.5 464.7L494.0 464.7L494.5 464.8L495.0 464.5L495.5 464.6L496.0 464.9L496.5 464.9L497.0 464.4L497.5 464.9L498.0 464.8L498.5 464.7L499.0 462.0L499.5 463.1L500.0 462.4L500.5 463.3L501.0 463.2L501.5 462.2L502.0 462.8L502.5 464.7L503.0 464.5L503.5 464.4L504.0 464.7L504.5 464.6L505.0 464.9L505.5 464.7L506.0 464.8L506.5 464.7L507.0 464.5L507.5 464.5L508.0 464.9L508.5 464.8L509.0 464.6L509.5 464.5L510.0 464.7L510.5 464.8L511.0 464.7L511.5 464.7L512.0 464.9L512.5 464.7L513.0 464.6L513.5 464.5L514.0 464.9L514.5 464.7L515.0 464.6L515.5 464.6L516.0 464.8L516.5 464.7L517.0 464.7L517.5 464.7L518.0 464.9L518.5 464.5L519.0 464.6L519.5 464.6L520.0 464.8L520 464.9Z" fill="#f0960a" stroke="#f0960a" stroke-width="0.3"/>
<line x1="299.5" y1="464.9" x2="520" y2="464.9" stroke="#f0960a" stroke-width="1.1"/>
<path d="M293.3 451.0H296.2V464.9H293.3" stroke="#333" stroke-width="0.75" fill="none"/>
<text font-size="5.6" text-anchor="end" fill="#231f20" stroke="#231f20" stroke-width="0.13" transform="translate(289.6 453.4)">174</text>
<text font-size="5.6" text-anchor="end" fill="#231f20" stroke="#231f20" stroke-width="0.13" transform="translate(289.6 465.9)">0</text>
<path d="M299.5 483.0L299.5 482.9L300.0 482.9L300.5 482.8L301.0 483.0L301.5 483.0L302.0 483.0L302.5 482.5L303.0 482.9L303.5 482.9L304.0 482.9L304.5 482.7L305.0 482.9L305.5 483.0L306.0 482.8L306.5 482.8L307.0 482.8L307.5 482.5L308.0 482.9L308.5 482.8L309.0 482.9L309.5 482.6L310.0 482.9L310.5 482.8L311.0 482.9L311.5 482.7L312.0 483.0L312.5 482.8L313.0 482.6L313.5 482.6L314.0 482.7L314.5 482.7L315.0 482.9L315.5 483.0L316.0 482.9L316.5 482.8L317.0 482.8L317.5 482.8L318.0 482.6L318.5 482.6L319.0 482.9L319.5 483.0L320.0 482.9L320.5 482.9L321.0 483.0L321.5 482.6L322.0 482.9L322.5 483.0L323.0 482.8L323.5 482.7L324.0 482.4L324.5 482.6L325.0 482.7L325.5 483.0L326.0 482.5L326.5 482.9L327.0 482.9L327.5 482.9L328.0 478.8L328.5 480.3L329.0 480.4L329.5 478.9L330.0 480.3L330.5 479.8L331.0 480.0L331.5 480.3L332.0 479.5L332.5 480.1L333.0 480.8L333.5 482.9L334.0 482.4L334.5 482.9L335.0 482.8L335.5 482.9L336.0 482.9L336.5 482.7L337.0 481.0L337.5 481.5L338.0 481.3L338.5 481.5L339.0 481.2L339.5 481.4L340.0 481.9L340.5 482.7L341.0 482.8L341.5 482.8L342.0 482.8L342.5 482.8L343.0 482.8L343.5 483.0L344.0 483.0L344.5 482.8L345.0 482.8L345.5 482.7L346.0 482.7L346.5 483.0L347.0 482.8L347.5 482.9L348.0 482.8L348.5 483.0L349.0 482.5L349.5 482.8L350.0 483.0L350.5 482.9L351.0 483.0L351.5 482.8L352.0 482.9L352.5 480.0L353.0 480.4L353.5 479.0L354.0 479.5L354.5 479.7L355.0 482.9L355.5 482.6L356.0 482.5L356.5 478.0L357.0 479.5L357.5 479.3L358.0 478.9L358.5 482.8L359.0 482.7L359.5 482.7L360.0 482.8L360.5 482.9L361.0 482.8L361.5 477.7L362.0 477.4L362.5 477.9L363.0 477.0L363.5 482.8L364.0 482.8L364.5 483.0L365.0 482.9L365.5 482.6L366.0 482.7L366.5 482.6L367.0 482.7L367.5 483.0L368.0 482.9L368.5 482.8L369.0 482.5L369.5 482.8L370.0 483.0L370.5 482.9L371.0 482.6L371.5 482.8L372.0 482.9L372.5 482.7L373.0 482.7L373.5 482.7L374.0 482.8L374.5 482.8L375.0 483.0L375.5 482.8L376.0 482.9L376.5 482.7L377.0 482.9L377.5 482.8L378.0 482.4L378.5 482.8L379.0 482.9L379.5 482.8L380.0 482.9L380.5 483.0L381.0 482.7L381.5 483.0L382.0 482.8L382.5 483.0L383.0 482.6L383.5 482.8L384.0 482.7L384.5 482.8L385.0 483.0L385.5 482.9L386.0 483.0L386.5 482.9L387.0 482.9L387.5 482.7L388.0 482.7L388.5 482.9L389.0 482.1L389.5 481.8L390.0 482.1L390.5 481.8L391.0 481.5L391.5 482.8L392.0 482.7L392.5 483.0L393.0 482.8L393.5 482.7L394.0 482.7L394.5 482.6L395.0 482.8L395.5 482.6L396.0 483.0L396.5 482.9L397.0 482.5L397.5 483.0L398.0 482.9L398.5 483.0L399.0 480.8L399.5 480.1L400.0 480.5L400.5 480.4L401.0 479.5L401.5 480.4L402.0 480.2L402.5 480.0L403.0 480.6L403.5 482.5L404.0 482.6L404.5 482.8L405.0 482.8L405.5 482.5L406.0 482.6L406.5 483.0L407.0 482.6L407.5 482.8L408.0 482.8L408.5 483.0L409.0 482.8L409.5 482.7L410.0 482.8L410.5 483.0L411.0 482.9L411.5 482.9L412.0 482.9L412.5 482.8L413.0 482.4L413.5 482.9L414.0 482.9L414.5 482.6L415.0 482.9L415.5 482.9L416.0 480.5L416.5 480.1L417.0 480.0L417.5 482.9L418.0 482.5L418.5 482.9L419.0 482.9L419.5 482.7L420.0 482.7L420.5 482.8L421.0 482.8L421.5 482.9L422.0 482.7L422.5 482.7L423.0 482.9L423.5 483.0L424.0 483.0L424.5 482.9L425.0 482.9L425.5 482.7L426.0 482.8L426.5 482.5L427.0 482.9L427.5 482.8L428.0 482.5L428.5 482.3L429.0 482.0L429.5 482.4L430.0 482.2L430.5 482.0L431.0 482.5L431.5 482.5L432.0 482.8L432.5 483.0L433.0 482.8L433.5 482.8L434.0 482.7L434.5 482.4L435.0 482.2L435.5 482.8L436.0 482.5L436.5 482.7L437.0 482.9L437.5 483.0L438.0 483.0L438.5 482.6L439.0 483.0L439.5 482.9L440.0 482.9L440.5 482.5L441.0 482.9L441.5 482.8L442.0 482.6L442.5 482.8L443.0 482.8L443.5 482.8L444.0 482.7L444.5 482.6L445.0 482.9L445.5 482.6L446.0 482.9L446.5 482.9L447.0 482.8L447.5 482.9L448.0 482.8L448.5 483.0L449.0 482.9L449.5 482.8L450.0 482.8L450.5 483.0L451.0 482.7L451.5 482.9L452.0 482.8L452.5 482.5L453.0 482.9L453.5 482.3L454.0 482.9L454.5 482.9L455.0 482.9L455.5 482.8L456.0 483.0L456.5 483.0L457.0 482.9L457.5 482.9L458.0 482.9L458.5 482.7L459.0 482.4L459.5 479.5L460.0 480.1L460.5 480.8L461.0 479.0L461.5 479.3L462.0 476.5L462.5 476.2L463.0 478.3L463.5 476.0L464.0 482.9L464.5 482.6L465.0 482.5L465.5 482.7L466.0 482.7L466.5 482.8L467.0 482.9L467.5 482.9L468.0 482.9L468.5 482.7L469.0 482.8L469.5 482.8L470.0 482.8L470.5 483.0L471.0 482.7L471.5 480.3L472.0 480.0L472.5 480.4L473.0 482.5L473.5 482.7L474.0 482.9L474.5 482.7L475.0 482.8L475.5 482.8L476.0 483.0L476.5 482.9L477.0 482.8L477.5 482.9L478.0 482.7L478.5 482.9L479.0 482.9L479.5 482.8L480.0 482.2L480.5 481.8L481.0 482.3L481.5 481.9L482.0 482.0L482.5 483.0L483.0 482.6L483.5 483.0L484.0 482.8L484.5 482.7L485.0 482.8L485.5 482.5L486.0 483.0L486.5 482.6L487.0 482.6L487.5 482.6L488.0 482.7L488.5 482.9L489.0 482.7L489.5 482.8L490.0 482.8L490.5 482.8L491.0 482.9L491.5 482.8L492.0 482.8L492.5 482.6L493.0 482.7L493.5 482.9L494.0 482.7L494.5 482.9L495.0 482.9L495.5 482.8L496.0 482.9L496.5 482.4L497.0 482.5L497.5 482.8L498.0 483.0L498.5 482.9L499.0 482.9L499.5 482.7L500.0 480.9L500.5 480.5L501.0 481.1L501.5 480.0L502.0 481.1L502.5 482.8L503.0 482.7L503.5 482.7L504.0 482.8L504.5 483.0L505.0 482.8L505.5 482.8L506.0 482.9L506.5 482.7L507.0 482.9L507.5 483.0L508.0 482.7L508.5 482.6L509.0 483.0L509.5 482.9L510.0 482.8L510.5 482.8L511.0 482.9L511.5 482.4L512.0 482.9L512.5 482.9L513.0 482.8L513.5 483.0L514.0 482.8L514.5 483.0L515.0 482.9L515.5 482.9L516.0 483.0L516.5 483.0L517.0 482.6L517.5 482.8L518.0 483.0L518.5 482.7L519.0 482.9L519.5 482.8L520.0 482.5L520 483.0Z" fill="#f0960a" stroke="#f0960a" stroke-width="0.3"/>
<line x1="299.5" y1="483.0" x2="520" y2="483.0" stroke="#f0960a" stroke-width="1.1"/>
<path d="M293.3 469.1H296.2V483.0H293.3" stroke="#333" stroke-width="0.75" fill="none"/>
<text font-size="5.6" text-anchor="end" fill="#231f20" stroke="#231f20" stroke-width="0.13" transform="translate(289.6 471.5)">174</text>
<text font-size="5.6" text-anchor="end" fill="#231f20" stroke="#231f20" stroke-width="0.13" transform="translate(289.6 484.0)">0</text>
<path d="M299.5 500.8L299.5 500.8L300.0 500.5L300.5 500.3L301.0 500.8L301.5 500.7L302.0 500.5L302.5 500.8L303.0 500.6L303.5 500.4L304.0 500.7L304.5 500.5L305.0 500.2L305.5 500.5L306.0 500.8L306.5 500.6L307.0 500.8L307.5 500.5L308.0 500.5L308.5 500.3L309.0 500.6L309.5 500.5L310.0 500.6L310.5 500.6L311.0 500.8L311.5 500.5L312.0 500.7L312.5 500.6L313.0 500.8L313.5 500.8L314.0 500.8L314.5 500.5L315.0 500.5L315.5 500.7L316.0 500.8L316.5 500.8L317.0 500.8L317.5 500.4L318.0 500.7L318.5 500.4L319.0 500.8L319.5 500.6L320.0 500.6L320.5 500.7L321.0 500.4L321.5 500.3L322.0 500.5L322.5 500.8L323.0 499.9L323.5 499.5L324.0 500.0L324.5 499.9L325.0 500.6L325.5 500.7L326.0 500.7L326.5 500.2L327.0 500.5L327.5 500.5L328.0 500.8L328.5 500.7L329.0 500.4L329.5 500.8L330.0 500.5L330.5 500.8L331.0 500.7L331.5 497.7L332.0 498.2L332.5 499.0L333.0 498.9L333.5 498.9L334.0 500.7L334.5 500.6L335.0 500.4L335.5 500.8L336.0 500.6L336.5 500.3L337.0 500.6L337.5 500.7L338.0 500.5L338.5 500.8L339.0 496.8L339.5 496.5L340.0 496.7L340.5 495.6L341.0 495.4L341.5 494.0L342.0 495.1L342.5 496.5L343.0 500.4L343.5 500.7L344.0 500.7L344.5 500.2L345.0 500.7L345.5 500.6L346.0 500.2L346.5 500.5L347.0 500.5L347.5 500.7L348.0 500.8L348.5 500.2L349.0 500.4L349.5 500.8L350.0 500.7L350.5 500.5L351.0 500.6L351.5 500.7L352.0 500.8L352.5 500.7L353.0 500.8L353.5 500.7L354.0 500.6L354.5 500.6L355.0 500.2L355.5 500.6L356.0 500.8L356.5 500.7L357.0 500.8L357.5 500.6L358.0 500.8L358.5 500.8L359.0 499.8L359.5 500.0L360.0 499.8L360.5 499.6L361.0 499.5L361.5 500.6L362.0 500.4L362.5 500.6L363.0 500.7L363.5 500.3L364.0 500.5L364.5 500.4L365.0 500.7L365.5 500.3L366.0 500.6L366.5 500.8L367.0 500.5L367.5 500.7L368.0 500.6L368.5 500.2L369.0 500.5L369.5 500.5L370.0 500.7L370.5 500.5L371.0 500.7L371.5 500.5L372.0 500.7L372.5 500.5L373.0 500.7L373.5 500.8L374.0 500.7L374.5 500.6L375.0 500.7L375.5 500.7L376.0 500.7L376.5 500.8L377.0 500.7L377.5 500.4L378.0 500.8L378.5 500.6L379.0 500.1L379.5 500.6L380.0 500.3L380.5 500.7L381.0 500.4L381.5 500.6L382.0 500.5L382.5 500.7L383.0 500.4L383.5 500.6L384.0 500.8L384.5 500.7L385.0 500.5L385.5 500.5L386.0 500.4L386.5 500.6L387.0 500.7L387.5 500.4L388.0 499.5L388.5 499.8L389.0 500.1L389.5 499.8L390.0 500.7L390.5 500.7L391.0 500.6L391.5 500.7L392.0 500.6L392.5 500.8L393.0 500.6L393.5 500.8L394.0 500.5L394.5 500.5L395.0 500.6L395.5 500.5L396.0 500.0L396.5 499.5L397.0 499.8L397.5 499.6L398.0 500.5L398.5 500.6L399.0 500.8L399.5 500.7L400.0 500.8L400.5 500.1L401.0 500.4L401.5 500.7L402.0 500.7L402.5 500.5L403.0 500.8L403.5 500.7L404.0 500.5L404.5 500.6L405.0 500.5L405.5 500.5L406.0 500.4L406.5 500.4L407.0 500.7L407.5 500.5L408.0 500.6L408.5 500.7L409.0 500.7L409.5 500.7L410.0 500.6L410.5 500.5L411.0 500.5L411.5 500.5L412.0 500.8L412.5 500.1L413.0 500.5L413.5 500.7L414.0 500.5L414.5 500.2L415.0 500.1L415.5 500.2L416.0 500.0L416.5 500.1L417.0 500.3L417.5 500.2L418.0 500.7L418.5 500.7L419.0 500.5L419.5 500.4L420.0 500.7L420.5 500.4L421.0 500.7L421.5 500.3L422.0 500.7L422.5 500.7L423.0 500.8L423.5 500.8L424.0 500.7L424.5 500.7L425.0 500.3L425.5 500.5L426.0 500.6L426.5 500.7L427.0 500.7L427.5 500.6L428.0 500.6L428.5 500.8L429.0 500.3L429.5 500.3L430.0 500.7L430.5 500.7L431.0 500.7L431.5 500.7L432.0 500.7L432.5 500.6L433.0 500.2L433.5 500.8L434.0 500.6L434.5 500.7L435.0 500.5L435.5 500.4L436.0 500.7L436.5 500.7L437.0 500.7L437.5 500.8L438.0 500.5L438.5 500.6L439.0 500.6L439.5 500.8L440.0 500.8L440.5 500.7L441.0 500.4L441.5 500.2L442.0 499.8L442.5 499.9L443.0 500.2L443.5 500.1L444.0 500.8L444.5 500.7L445.0 500.3L445.5 500.6L446.0 500.4L446.5 500.7L447.0 500.7L447.5 500.5L448.0 500.8L448.5 500.6L449.0 500.7L449.5 500.7L450.0 500.7L450.5 500.7L451.0 500.6L451.5 500.7L452.0 500.6L452.5 500.7L453.0 500.8L453.5 500.4L454.0 500.7L454.5 500.7L455.0 500.6L455.5 500.7L456.0 500.6L456.5 500.6L457.0 500.6L457.5 500.6L458.0 500.8L458.5 500.6L459.0 500.6L459.5 500.6L460.0 500.8L460.5 500.7L461.0 500.6L461.5 500.7L462.0 500.6L462.5 500.6L463.0 500.5L463.5 500.7L464.0 500.3L464.5 500.6L465.0 500.7L465.5 500.7L466.0 500.1L466.5 500.7L467.0 500.8L467.5 500.7L468.0 499.0L468.5 498.7L469.0 498.0L469.5 500.7L470.0 500.8L470.5 500.7L471.0 500.7L471.5 500.8L472.0 500.7L472.5 500.7L473.0 500.6L473.5 500.7L474.0 500.7L474.5 500.4L475.0 500.8L475.5 500.7L476.0 500.7L476.5 500.5L477.0 500.6L477.5 500.6L478.0 500.7L478.5 500.6L479.0 500.7L479.5 500.7L480.0 500.7L480.5 500.3L481.0 500.7L481.5 500.6L482.0 500.6L482.5 500.4L483.0 500.8L483.5 500.7L484.0 500.5L484.5 500.2L485.0 500.3L485.5 500.5L486.0 500.4L486.5 500.6L487.0 500.7L487.5 500.7L488.0 500.8L488.5 500.5L489.0 500.8L489.5 500.6L490.0 500.7L490.5 500.4L491.0 500.7L491.5 500.7L492.0 500.6L492.5 500.5L493.0 500.6L493.5 500.5L494.0 500.6L494.5 500.6L495.0 500.5L495.5 500.6L496.0 500.8L496.5 500.3L497.0 500.7L497.5 500.8L498.0 500.6L498.5 500.5L499.0 500.6L499.5 500.6L500.0 497.1L500.5 496.7L501.0 498.0L501.5 496.6L502.0 496.3L502.5 500.6L503.0 500.6L503.5 499.7L504.0 498.5L504.5 499.1L505.0 499.5L505.5 498.6L506.0 499.1L506.5 499.4L507.0 499.2L507.5 498.6L508.0 499.3L508.5 499.4L509.0 499.8L509.5 500.7L510.0 500.6L510.5 500.7L511.0 500.7L511.5 500.7L512.0 500.4L512.5 500.5L513.0 500.7L513.5 500.8L514.0 500.8L514.5 500.8L515.0 500.6L515.5 500.4L516.0 500.6L516.5 500.6L517.0 500.6L517.5 500.8L518.0 500.8L518.5 500.5L519.0 500.8L519.5 500.7L520.0 500.6L520 500.8Z" fill="#f0960a" stroke="#f0960a" stroke-width="0.3"/>
<line x1="299.5" y1="500.8" x2="520" y2="500.8" stroke="#f0960a" stroke-width="1.1"/>
<path d="M293.3 486.90000000000003H296.2V500.8H293.3" stroke="#333" stroke-width="0.75" fill="none"/>
<text font-size="5.6" text-anchor="end" fill="#231f20" stroke="#231f20" stroke-width="0.13" transform="translate(289.6 489.3)">174</text>
<text font-size="5.6" text-anchor="end" fill="#231f20" stroke="#231f20" stroke-width="0.13" transform="translate(289.6 501.8)">0</text>
<path d="M299.5 518.7L299.5 518.5L300.0 518.6L300.5 518.6L301.0 518.7L301.5 518.5L302.0 518.3L302.5 518.4L303.0 518.6L303.5 518.7L304.0 518.4L304.5 518.3L305.0 518.6L305.5 518.5L306.0 518.6L306.5 518.5L307.0 518.6L307.5 518.6L308.0 518.7L308.5 518.4L309.0 518.7L309.5 518.6L310.0 518.5L310.5 518.6L311.0 518.7L311.5 518.6L312.0 518.5L312.5 518.7L313.0 518.7L313.5 518.7L314.0 518.5L314.5 518.5L315.0 518.4L315.5 518.0L316.0 518.7L316.5 518.7L317.0 518.2L317.5 518.6L318.0 518.7L318.5 518.5L319.0 518.6L319.5 518.6L320.0 518.6L320.5 518.5L321.0 518.4L321.5 518.4L322.0 518.6L322.5 518.7L323.0 515.4L323.5 516.2L324.0 515.7L324.5 515.7L325.0 518.6L325.5 518.5L326.0 518.5L326.5 518.4L327.0 518.3L327.5 518.5L328.0 518.7L328.5 518.7L329.0 518.5L329.5 518.6L330.0 518.6L330.5 515.9L331.0 516.1L331.5 514.6L332.0 515.7L332.5 515.3L333.0 515.4L333.5 515.9L334.0 515.9L334.5 516.4L335.0 518.5L335.5 518.4L336.0 518.6L336.5 518.6L337.0 518.6L337.5 518.2L338.0 518.1L338.5 518.6L339.0 517.3L339.5 517.2L340.0 517.1L340.5 516.0L341.0 517.2L341.5 516.5L342.0 518.6L342.5 518.5L343.0 518.3L343.5 518.6L344.0 518.6L344.5 518.3L345.0 518.1L345.5 518.4L346.0 518.5L346.5 518.6L347.0 518.6L347.5 518.6L348.0 518.5L348.5 518.6L349.0 518.6L349.5 518.5L350.0 518.5L350.5 518.6L351.0 518.4L351.5 518.3L352.0 518.7L352.5 518.4L353.0 518.3L353.5 518.6L354.0 518.6L354.5 518.7L355.0 518.5L355.5 518.5L356.0 518.6L356.5 518.5L357.0 518.6L357.5 518.3L358.0 518.7L358.5 518.5L359.0 518.6L359.5 518.5L360.0 518.3L360.5 515.8L361.0 515.0L361.5 516.6L362.0 518.4L362.5 518.5L363.0 518.3L363.5 518.6L364.0 518.4L364.5 518.6L365.0 518.6L365.5 518.3L366.0 518.3L366.5 518.4L367.0 518.7L367.5 518.6L368.0 518.7L368.5 518.5L369.0 518.6L369.5 518.6L370.0 518.5L370.5 518.4L371.0 518.3L371.5 518.7L372.0 518.7L372.5 518.6L373.0 518.5L373.5 518.6L374.0 518.7L374.5 518.6L375.0 518.3L375.5 518.5L376.0 518.5L376.5 518.7L377.0 518.5L377.5 518.6L378.0 518.4L378.5 518.7L379.0 518.7L379.5 518.2L380.0 518.5L380.5 518.5L381.0 518.6L381.5 518.7L382.0 518.6L382.5 518.3L383.0 518.6L383.5 518.5L384.0 518.7L384.5 518.5L385.0 518.5L385.5 518.3L386.0 518.5L386.5 518.7L387.0 518.7L387.5 518.4L388.0 518.6L388.5 518.5L389.0 518.7L389.5 518.7L390.0 518.4L390.5 518.4L391.0 518.2L391.5 518.0L392.0 517.9L392.5 517.9L393.0 518.0L393.5 518.0L394.0 517.9L394.5 517.8L395.0 517.6L395.5 518.0L396.0 517.5L396.5 517.9L397.0 518.1L397.5 518.5L398.0 518.4L398.5 518.1L399.0 518.6L399.5 518.7L400.0 518.1L400.5 518.6L401.0 518.4L401.5 518.4L402.0 518.1L402.5 518.6L403.0 518.4L403.5 518.0L404.0 518.6L404.5 518.7L405.0 518.5L405.5 518.5L406.0 518.5L406.5 518.7L407.0 518.4L407.5 518.7L408.0 518.5L408.5 518.6L409.0 518.4L409.5 518.4L410.0 518.3L410.5 518.6L411.0 518.6L411.5 518.6L412.0 518.4L412.5 518.5L413.0 518.5L413.5 518.2L414.0 518.6L414.5 518.7L415.0 518.6L415.5 518.3L416.0 518.7L416.5 518.5L417.0 518.5L417.5 518.6L418.0 518.3L418.5 518.6L419.0 518.4L419.5 518.3L420.0 518.6L420.5 518.5L421.0 518.6L421.5 518.1L422.0 518.7L422.5 518.6L423.0 517.7L423.5 517.6L424.0 517.5L424.5 517.9L425.0 518.0L425.5 518.6L426.0 518.6L426.5 518.4L427.0 518.5L427.5 518.4L428.0 518.5L428.5 518.7L429.0 518.5L429.5 518.6L430.0 518.6L430.5 518.3L431.0 518.5L431.5 518.6L432.0 518.5L432.5 518.6L433.0 518.3L433.5 518.6L434.0 518.5L434.5 518.5L435.0 518.3L435.5 518.6L436.0 518.7L436.5 518.5L437.0 518.6L437.5 518.6L438.0 518.7L438.5 518.7L439.0 518.5L439.5 518.5L440.0 518.7L440.5 518.6L441.0 518.1L441.5 518.5L442.0 518.6L442.5 518.6L443.0 518.4L443.5 518.5L444.0 518.5L444.5 518.5L445.0 517.8L445.5 518.5L446.0 518.7L446.5 518.4L447.0 518.5L447.5 518.5L448.0 518.5L448.5 518.5L449.0 518.6L449.5 518.7L450.0 518.7L450.5 518.7L451.0 518.6L451.5 518.6L452.0 518.5L452.5 518.2L453.0 518.4L453.5 518.1L454.0 518.3L454.5 518.4L455.0 518.7L455.5 518.5L456.0 518.7L456.5 518.4L457.0 518.5L457.5 518.7L458.0 518.6L458.5 518.5L459.0 518.7L459.5 518.4L460.0 518.3L460.5 518.6L461.0 517.5L461.5 517.8L462.0 517.6L462.5 518.0L463.0 518.0L463.5 518.5L464.0 518.5L464.5 518.4L465.0 518.6L465.5 518.7L466.0 518.4L466.5 518.6L467.0 518.0L467.5 518.4L468.0 518.6L468.5 518.6L469.0 518.4L469.5 518.5L470.0 518.5L470.5 518.6L471.0 518.6L471.5 518.4L472.0 518.7L472.5 518.6L473.0 518.5L473.5 518.6L474.0 518.6L474.5 518.5L475.0 518.5L475.5 518.7L476.0 518.3L476.5 518.5L477.0 518.7L477.5 518.6L478.0 518.2L478.5 517.9L479.0 518.0L479.5 517.6L480.0 517.7L480.5 517.8L481.0 517.8L481.5 517.5L482.0 517.9L482.5 518.7L483.0 518.6L483.5 518.7L484.0 518.2L484.5 518.7L485.0 518.5L485.5 518.5L486.0 518.6L486.5 518.6L487.0 518.3L487.5 518.5L488.0 518.6L488.5 518.6L489.0 518.4L489.5 518.7L490.0 518.6L490.5 518.5L491.0 518.3L491.5 518.2L492.0 518.5L492.5 516.9L493.0 515.8L493.5 515.4L494.0 516.1L494.5 516.1L495.0 518.7L495.5 518.0L496.0 518.3L496.5 518.5L497.0 518.3L497.5 518.5L498.0 518.3L498.5 518.5L499.0 518.7L499.5 518.4L500.0 508.0L500.5 510.3L501.0 509.9L501.5 511.3L502.0 512.9L502.5 518.6L503.0 518.4L503.5 518.5L504.0 518.2L504.5 518.4L505.0 518.4L505.5 518.6L506.0 518.3L506.5 518.4L507.0 518.4L507.5 518.6L508.0 518.6L508.5 518.3L509.0 518.7L509.5 518.4L510.0 518.5L510.5 518.5L511.0 518.0L511.5 518.6L512.0 518.6L512.5 518.6L513.0 518.6L513.5 518.4L514.0 518.5L514.5 518.7L515.0 518.5L515.5 518.6L516.0 518.7L516.5 518.2L517.0 518.7L517.5 518.6L518.0 518.5L518.5 518.6L519.0 518.7L519.5 518.3L520.0 518.4L520 518.7Z" fill="#f0960a" stroke="#f0960a" stroke-width="0.3"/>
<line x1="299.5" y1="518.7" x2="520" y2="518.7" stroke="#f0960a" stroke-width="1.1"/>
<path d="M293.3 504.80000000000007H296.2V518.7H293.3" stroke="#333" stroke-width="0.75" fill="none"/>
<text font-size="5.6" text-anchor="end" fill="#231f20" stroke="#231f20" stroke-width="0.13" transform="translate(289.6 507.20000000000005)">174</text>
<text font-size="5.6" text-anchor="end" fill="#231f20" stroke="#231f20" stroke-width="0.13" transform="translate(289.6 519.7)">0</text>
<text font-size="6.0" text-anchor="start" fill="#106854" stroke="#106854" stroke-width="0.13" transform="translate(300.1 397)">WT</text>
<text font-size="6.0" text-anchor="start" fill="#f0960a" stroke="#f0960a" stroke-width="0.13" transform="translate(300.1 455.6)">Gata2<tspan dy="-0.48em" font-size="0.7em">+/−</tspan></text>
<text font-size="6.25" text-anchor="start" fill="#231f20" stroke="#231f20" stroke-width="0.13" transform="translate(320.9 387.5)">+17</text>
<text font-size="6.25" text-anchor="start" fill="#231f20" stroke="#231f20" stroke-width="0.13" transform="translate(336.6 387.5)">+16</text>
<path d="M330.6 389.2L332.7 396.8M343.5 389.2L340.6 397" stroke="#333" stroke-width="0.5" fill="none"/>
<line x1="415" y1="378.9" x2="505" y2="378.9" stroke="#17336a" stroke-width="0.9"/>
<rect x="414.5" y="376.3" width="6.0" height="5.2" fill="#17336a"/>
<rect x="429" y="376.3" width="1.8000000000000114" height="5.2" fill="#17336a"/>
<rect x="437.9" y="376.3" width="1.6000000000000227" height="5.2" fill="#17336a"/>
<rect x="444.7" y="376.3" width="2.6000000000000227" height="5.2" fill="#17336a"/>
<rect x="452.6" y="376.3" width="1.3999999999999773" height="5.2" fill="#17336a"/>
<rect x="456.4" y="376.3" width="1.5" height="5.2" fill="#17336a"/>
<rect x="419" y="377" width="2.4" height="3.6" fill="#17336a"/>
<line x1="465.3" y1="377.6" x2="465.3" y2="380" stroke="#17336a" stroke-width="0.6"/>
<line x1="479" y1="377.6" x2="479" y2="380" stroke="#17336a" stroke-width="0.6"/>
<line x1="492.7" y1="377.6" x2="492.7" y2="380" stroke="#17336a" stroke-width="0.6"/>
<line x1="504.8" y1="376.4" x2="504.8" y2="381.4" stroke="#17336a" stroke-width="0.8"/>
<text font-size="6.2" text-anchor="start" fill="#231f20" stroke="#231f20" stroke-width="0.13" font-style="italic" transform="translate(452 373.6)">Gfi1b</text>
<path d="M437.7 529.7H519.6M437.7 528.2v3M519.3 528.2v3" stroke="#222" stroke-width="0.8" fill="none"/>
<text font-size="6.2" text-anchor="middle" fill="#231f20" stroke="#231f20" stroke-width="0.13" transform="translate(479 527.6)">10 kb</text></svg></body></html>
